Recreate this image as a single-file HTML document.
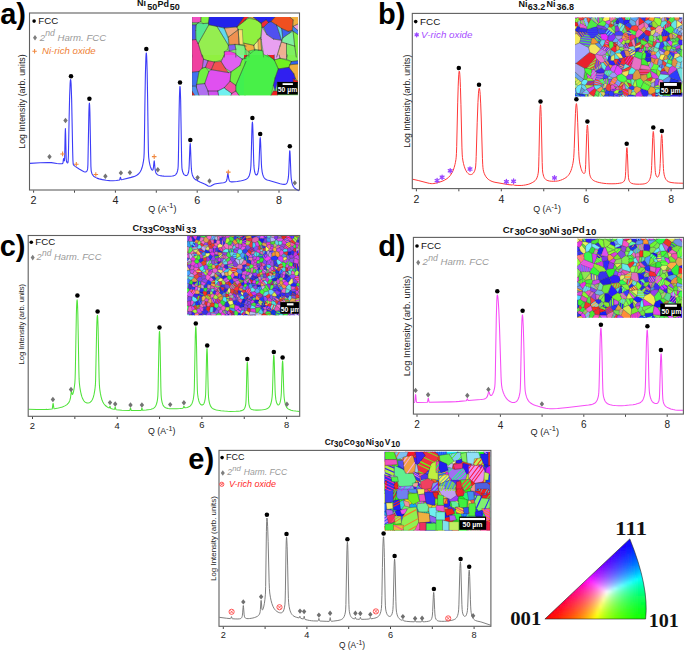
<!DOCTYPE html>
<html><head><meta charset="utf-8"><title>XRD figure</title>
<style>html,body{margin:0;padding:0;background:#fff;}body{width:685px;height:651px;overflow:hidden;}svg{display:block;}</style>
</head><body>
<svg width="685" height="651" viewBox="0 0 685 651" font-family="'Liberation Sans', sans-serif">
<rect width="685" height="651" fill="#fff"/>
<clipPath id="ca"><rect x="192.0" y="17.0" width="106.00" height="78.60"/></clipPath>
<g clip-path="url(#ca)" stroke="#3a3a3a" stroke-width="0.35" stroke-linejoin="round">
<rect x="192.0" y="17.0" width="106.00" height="78.60" fill="#80e070" stroke="none"/>
<path d="M192 17l9 0-.4 4.5-2.4 1.3-6.2 0z" fill="#f050c0" stroke="none"/>
<path d="M201 17l8.2 0-.8 6.2-5.3 .4-2.1-2.1z" fill="#80f040" stroke="none"/>
<path d="M192 22.8l6.2 0-2.1 2-4.1 0z" fill="#60f060" stroke="none"/>
<path d="M192 24.8l4.1 0-.4 5.7 0 9-3.7 .4z" fill="#4a58f0" stroke="none"/>
<path d="M196.1 24.8l2.1-2 4.9 .8 5.3-.4 .4 1.6-10.6 18.8-2.1-4.1-.4-9z" fill="#55e890" stroke="none"/>
<path d="M208.8 24.8l8.2 1.6 11.4 18.9-.8 4-3.3 2.5 0 5.2-22 0-4.1-13.4z" fill="#95ee50" stroke="none"/>
<path d="M209.2 17l34.8 0-7 9.9-12.7 1.2-7.3-1.7-8.2-1.6-.4-1.6z" fill="#2222ea" stroke="none"/>
<path d="M244 17l2 0 0 2.9-9 7z" fill="#f02020" stroke="none"/>
<path d="M246 19.9l0 26.2-6.9-1.7-.9-14.7-1.2-2.8z" fill="#90f040" stroke="none"/>
<path d="M217 26.4l7.3 1.7 4.1 11.4 0 5.8z" fill="#60d8f0" stroke="none"/>
<path d="M224.3 28.1l12.7-1.2 1.2 2.8-9.8 7.4z" fill="#f0a878" stroke="none"/>
<path d="M228.4 37.1l9.8-7.4 .9 14.7-9.9 0z" fill="#f09050" stroke="none"/>
<path d="M238.2 29.7l4.1 0 .8 14.7-4 0z" fill="#f8e070" stroke="none"/>
<path d="M228.4 45.3l6.6-.9 .8 4.9-6.6 1.7z" fill="#8060f0" stroke="none"/>
<path d="M235 44.4l11 1.7 0 10.9-10.2 0 0-7.7z" fill="#80f080" stroke="none"/>
<path d="M224.3 51.8l4.9-.8 6.6 2.4 0 3.6-11.5 0z" fill="#f040e0" stroke="none"/>
<path d="M192 39.9l3.7-.4 2.5 4.1 4.1 13.4-10.3 0z" fill="#f040a0" stroke="none"/>
<path d="M244 17l4.9 0-4.9 3.7z" fill="#f02030" stroke="none"/>
<path d="M244 20.7l4.9-2.4 7.4 1.6 4.9 3.3 .8 4.1-1.6 10.6-6.6 7.4-9.8-2.1z" fill="#90f040" stroke="none"/>
<path d="M248.9 17l4.1 0 8.2 6.2-4.9-3.3z" fill="#f0b040" stroke="none"/>
<path d="M253 17l22.1 0-4.1 4.5-2.5 .9-2.4-2.5-4.9 3.3z" fill="#2424f0" stroke="none"/>
<path d="M261.2 23.2l4.9-3.3 2.4 2.5-4.9 4.9-1.6 0z" fill="#f02838" stroke="none"/>
<path d="M275.1 17l14.7 0 3.3 2.9-.9 10.6-4 .9-6.6-2.9-4.9-3.3-5.7-3.7z" fill="#f05020" stroke="none"/>
<path d="M289.8 17l8.2 0 0 7-4.9 2.4 0-6.5z" fill="#f0b040" stroke="none"/>
<path d="M293.1 26.4l4.9-2.4 0 6.5z" fill="#f0a0d8" stroke="none"/>
<path d="M292.2 30.5l.9-4.1 4.9 4.1 0 4.1z" fill="#4080f0" stroke="none"/>
<path d="M263.6 27.3l4.9-4.9 2.5-.9 5.7 3.7 4.9 15.1-8.2-1.2-6.5-4.5z" fill="#5050f0" stroke="none"/>
<path d="M276.7 25.2l4.9 3.3 1.2 9.4-1.2 2.4z" fill="#60d0f0" stroke="none"/>
<path d="M281.6 28.5l6.6 2.9 4-.9-2.4 2.5-7 4.9z" fill="#4060f0" stroke="none"/>
<path d="M282.8 37.9l7-4.9 3.3-1.6 1.6 14.7-8.2-2.5-4.9-1.6z" fill="#80f0a0" stroke="none"/>
<path d="M293.1 31.4l4.9 3.2 0 22.4-1.7 0-1.6-10.9z" fill="#80f040" stroke="none"/>
<path d="M262 27.3l4.9 7.3 6.5 4.5 8.2 1.2-1.6 5.8-3.3 10.9-8.2 0-4.9-2.8-2.4-14.7z" fill="#e8a0f0" stroke="none"/>
<path d="M253.8 45.3l6.6-7.4 .8 1.6 .4 10.7-7 0z" fill="#f0e880" stroke="none"/>
<path d="M257.9 39.5l2.5-1.6 1.2 12.3-3.3 0z" fill="#f0b050" stroke="none"/>
<path d="M244 43.2l9.8 2.1 .8 4.9-4.1 3.2-4.9-4.1z" fill="#f0b040" stroke="none"/>
<path d="M248.9 51l6.5-1.7 7.4 1.7 .8 6-14.7 0z" fill="#50f050" stroke="none"/>
<path d="M281.6 42l4.9 1.6 0 13.4-9.8 0 3.3-10.9z" fill="#f0b090" stroke="none"/>
<path d="M286.5 43.6l8.2 2.5 1.6 10.9-9.8 0z" fill="#80f060" stroke="none"/>
<path d="M244 45.3l1.6 4 .9 7.7-2.5 0z" fill="#60f070" stroke="none"/>
<path d="M192 55l10.3 0 1.2 4.1-1.2 9-3.3 3.3-7 .8z" fill="#f040a0" stroke="none"/>
<path d="M202.3 55l22 0-2.4 4.9-7.4 2.1-6.5-1.3-4.5-1.6z" fill="#90f040" stroke="none"/>
<path d="M224.3 55l12.3 0 5.7 4.1-2.4 6.5-9 6.2-5.7-3.7-4.1-6.6z" fill="#e060f0" stroke="none"/>
<path d="M236.6 55l9.4 0 0 3.3-3.7 .8z" fill="#80f0a0" stroke="none"/>
<path d="M203.5 59.1l4.5 1.6-2.5 6.6-3.2 .8z" fill="#b070f0" stroke="none"/>
<path d="M208 60.7l6.5 1.3-3.2 7.7-5.8-2.4z" fill="#f04080" stroke="none"/>
<path d="M214.5 62l6.6-.5 4.1 6.6 3.2 4.5-17.1-2.9z" fill="#f05050" stroke="none"/>
<path d="M192 72.2l7-.8-2.5 14.7-4.5 0z" fill="#4070f0" stroke="none"/>
<path d="M199 71.4l3.3-3.3 3.2-.8 3.3 4.1-4.1 12.2-8.2 .8z" fill="#70f040" stroke="none"/>
<path d="M208.8 71.4l2.5-1.7 17.1 2.9 2.5-.4-.8 9-5.8 6.5-6.5 3.3-9.8 0-3.3-7.4z" fill="#e050f0" stroke="none"/>
<path d="M230.9 72.2l9-6.6 2.4-6.5 3.7-.8 0 3.2-10.2 23.8-5.7-4.1z" fill="#70f040" stroke="none"/>
<path d="M235.8 85.3l10.2-23.8 0 34-6.9 0-3.3-4.5z" fill="#40f050" stroke="none"/>
<path d="M224.3 87.7l5.8-6.5 5.7 4.1 0 5.7-4.1 2.4-5.7-4.1z" fill="#f050a0" stroke="none"/>
<path d="M217.8 91l6.5-3.3 1.7 1.6 5.7 4.1-.8 2.1-12.3 0z" fill="#70f0f0" stroke="none"/>
<path d="M231.7 93.4l4.1-2.4 3.3 4.5-8.2 0z" fill="#f060d0" stroke="none"/>
<path d="M196.5 84.4l8.2-.8 3.3 7.4 .8 4.5-9.8 0-2.5-7.8z" fill="#b070f0" stroke="none"/>
<path d="M192 86.1l4.5 0 0 1.6 2.5 7.8-7 0z" fill="#5090f0" stroke="none"/>
<path d="M192 91l2.9 4.5-2.9 0z" fill="#f02020" stroke="none"/>
<path d="M208 91l9.8 0 .8 4.5-9.8 0z" fill="#d050f0" stroke="none"/>
<path d="M244 57.5l4.9-2.5 18.8 0 6.6 4.9 4 9-3.2 9-1.7 7.4-2.4 10.2-27 0z" fill="#48f048" stroke="none"/>
<path d="M267.7 55l6.6 0 0 4.9z" fill="#f02020" stroke="none"/>
<path d="M244 55l3.7 0-3.7 3.7z" fill="#f02020" stroke="none"/>
<path d="M274.3 55l4.9 0 .8 3.3-5.7 1.6z" fill="#e8a0f0" stroke="none"/>
<path d="M274.3 59.9l5.7-1.6 11.4 3.2-2.4 5.8-10.7 1.6z" fill="#70f020" stroke="none"/>
<path d="M279.2 55l8.1 0-.8 4.1-6.5-.8z" fill="#f0b0a0" stroke="none"/>
<path d="M287.3 55l10.7 0 0 5.7-6.6 .8-4.9-2.4z" fill="#80f050" stroke="none"/>
<path d="M278.3 68.9l10.7-1.6 4.9 6.5 1.6 4.9-2.4 3.3-15.6 0-2.4 9-1.7-5.7 1.7-7.4z" fill="#3020f0" stroke="none"/>
<path d="M291.4 61.5l6.6-.8 0 3.3-8.2 .8z" fill="#3060f0" stroke="none"/>
<path d="M289 67.3l.8-2.5 8.2-.8 0 17.2-2.5-2.5-1.6-4.9z" fill="#f0b040" stroke="none"/>
<path d="M271 95.5l2.4-4.5 4.1 0 0 4.5z" fill="#f02020" stroke="none"/>
<path d="M293.1 78.7l4.9 2.5 0 1.6-4.9 0z" fill="#f02020" stroke="none"/>
<path d="M201.0 17.0L200.6 21.5M200.6 21.5L198.2 22.8M198.2 22.8L192.0 22.8M192.0 22.8L192.0 17.0M209.2 17.0L208.4 23.2M208.4 23.2L203.1 23.6M203.1 23.6L201.0 21.5M201.0 21.5L201.0 17.0M192.0 22.8L198.2 22.8M198.2 22.8L196.1 24.8M196.1 24.8L192.0 24.8M192.0 24.8L192.0 22.8M192.0 24.8L196.1 24.8M196.1 24.8L195.7 30.5M195.7 30.5L195.7 39.5M195.7 39.5L192.0 39.9M192.0 39.9L192.0 24.8M196.1 24.8L198.2 22.8M198.2 22.8L203.1 23.6M203.1 23.6L208.4 23.2M208.4 23.2L208.8 24.8M208.8 24.8L198.2 43.6M198.2 43.6L196.1 39.5M196.1 39.5L195.7 30.5M195.7 30.5L196.1 24.8M208.8 24.8L217.0 26.4M217.0 26.4L228.4 45.3M228.4 45.3L227.6 49.3M227.6 49.3L224.3 51.8M224.3 51.8L224.3 57.0M202.3 57.0L198.2 43.6M198.2 43.6L208.8 24.8M244.0 17.0L237.0 26.9M237.0 26.9L224.3 28.1M224.3 28.1L217.0 26.4M217.0 26.4L208.8 24.8M208.8 24.8L208.4 23.2M208.4 23.2L209.2 17.0M246.0 19.9L237.0 26.9M237.0 26.9L244.0 17.0M246.0 46.1L239.1 44.4M239.1 44.4L238.2 29.7M238.2 29.7L237.0 26.9M237.0 26.9L246.0 19.9M217.0 26.4L224.3 28.1M224.3 28.1L228.4 39.5M228.4 39.5L228.4 45.3M228.4 45.3L217.0 26.4M224.3 28.1L237.0 26.9M237.0 26.9L238.2 29.7M238.2 29.7L228.4 37.1M228.4 37.1L224.3 28.1M228.4 37.1L238.2 29.7M238.2 29.7L239.1 44.4M239.1 44.4L229.2 44.4M229.2 44.4L228.4 37.1M238.2 29.7L242.3 29.7M242.3 29.7L243.1 44.4M243.1 44.4L239.1 44.4M239.1 44.4L238.2 29.7M228.4 45.3L235.0 44.4M235.0 44.4L235.8 49.3M235.8 49.3L229.2 51.0M229.2 51.0L228.4 45.3M235.0 44.4L246.0 46.1M235.8 57.0L235.8 49.3M235.8 49.3L235.0 44.4M224.3 51.8L229.2 51.0M229.2 51.0L235.8 53.4M235.8 53.4L235.8 57.0M224.3 57.0L224.3 51.8M192.0 39.9L195.7 39.5M195.7 39.5L198.2 43.6M198.2 43.6L202.3 57.0M192.0 57.0L192.0 39.9M248.9 17.0L244.0 20.7M244.0 20.7L248.9 18.3M248.9 18.3L256.3 19.9M256.3 19.9L261.2 23.2M261.2 23.2L262.0 27.3M262.0 27.3L260.4 37.9M260.4 37.9L253.8 45.3M253.8 45.3L244.0 43.2M253.0 17.0L261.2 23.2M261.2 23.2L256.3 19.9M256.3 19.9L248.9 17.0M275.1 17.0L271.0 21.5M271.0 21.5L268.5 22.4M268.5 22.4L266.1 19.9M266.1 19.9L261.2 23.2M261.2 23.2L253.0 17.0M261.2 23.2L266.1 19.9M266.1 19.9L268.5 22.4M268.5 22.4L263.6 27.3M263.6 27.3L262.0 27.3M262.0 27.3L261.2 23.2M289.8 17.0L293.1 19.9M293.1 19.9L292.2 30.5M292.2 30.5L288.2 31.4M288.2 31.4L281.6 28.5M281.6 28.5L276.7 25.2M276.7 25.2L271.0 21.5M271.0 21.5L275.1 17.0M298.0 24.0L293.1 26.4M293.1 26.4L293.1 19.9M293.1 19.9L289.8 17.0M293.1 26.4L298.0 24.0M298.0 30.5L293.1 26.4M292.2 30.5L293.1 26.4M293.1 26.4L298.0 30.5M298.0 34.6L292.2 30.5M263.6 27.3L268.5 22.4M268.5 22.4L271.0 21.5M271.0 21.5L276.7 25.2M276.7 25.2L281.6 40.3M281.6 40.3L273.4 39.1M273.4 39.1L266.9 34.6M266.9 34.6L263.6 27.3M276.7 25.2L281.6 28.5M281.6 28.5L282.8 37.9M282.8 37.9L281.6 40.3M281.6 40.3L276.7 25.2M281.6 28.5L288.2 31.4M288.2 31.4L292.2 30.5M292.2 30.5L289.8 33.0M289.8 33.0L282.8 37.9M282.8 37.9L281.6 28.5M282.8 37.9L289.8 33.0M289.8 33.0L293.1 31.4M293.1 31.4L294.7 46.1M294.7 46.1L286.5 43.6M286.5 43.6L281.6 42.0M281.6 42.0L282.8 37.9M293.1 31.4L298.0 34.6M296.3 57.0L294.7 46.1M294.7 46.1L293.1 31.4M262.0 27.3L266.9 34.6M266.9 34.6L273.4 39.1M273.4 39.1L281.6 40.3M281.6 40.3L280.0 46.1M280.0 46.1L276.7 57.0M268.5 57.0L263.6 54.2M263.6 54.2L261.2 39.5M261.2 39.5L262.0 27.3M253.8 45.3L260.4 37.9M260.4 37.9L261.2 39.5M261.2 39.5L261.6 50.2M261.6 50.2L254.6 50.2M254.6 50.2L253.8 45.3M257.9 39.5L260.4 37.9M260.4 37.9L261.6 50.2M261.6 50.2L258.3 50.2M258.3 50.2L257.9 39.5M244.0 43.2L253.8 45.3M253.8 45.3L254.6 50.2M254.6 50.2L250.5 53.4M250.5 53.4L245.6 49.3M245.6 49.3L244.0 43.2M248.9 51.0L255.4 49.3M255.4 49.3L262.8 51.0M262.8 51.0L263.6 57.0M248.9 57.0L248.9 51.0M281.6 42.0L286.5 43.6M286.5 43.6L286.5 57.0M276.7 57.0L280.0 46.1M280.0 46.1L281.6 42.0M286.5 43.6L294.7 46.1M294.7 46.1L296.3 57.0M286.5 57.0L286.5 43.6M244.0 45.3L245.6 49.3M245.6 49.3L246.5 57.0M202.3 55.0L203.5 59.1M203.5 59.1L202.3 68.1M202.3 68.1L199.0 71.4M199.0 71.4L192.0 72.2M192.0 72.2L192.0 55.0M224.3 55.0L221.9 59.9M221.9 59.9L214.5 62.0M214.5 62.0L208.0 60.7M208.0 60.7L203.5 59.1M203.5 59.1L202.3 55.0M236.6 55.0L242.3 59.1M242.3 59.1L239.9 65.6M239.9 65.6L230.9 71.8M230.9 71.8L225.2 68.1M225.2 68.1L221.1 61.5M221.1 61.5L224.3 55.0M246.0 58.3L242.3 59.1M242.3 59.1L236.6 55.0M203.5 59.1L208.0 60.7M208.0 60.7L205.5 67.3M205.5 67.3L202.3 68.1M202.3 68.1L203.5 59.1M208.0 60.7L214.5 62.0M214.5 62.0L211.3 69.7M211.3 69.7L205.5 67.3M205.5 67.3L208.0 60.7M214.5 62.0L221.1 61.5M221.1 61.5L225.2 68.1M225.2 68.1L228.4 72.6M228.4 72.6L211.3 69.7M211.3 69.7L214.5 62.0M192.0 72.2L199.0 71.4M199.0 71.4L196.5 86.1M196.5 86.1L192.0 86.1M192.0 86.1L192.0 72.2M199.0 71.4L202.3 68.1M202.3 68.1L205.5 67.3M205.5 67.3L208.8 71.4M208.8 71.4L204.7 83.6M204.7 83.6L196.5 84.4M196.5 84.4L199.0 71.4M208.8 71.4L211.3 69.7M211.3 69.7L228.4 72.6M228.4 72.6L230.9 72.2M230.9 72.2L230.1 81.2M230.1 81.2L224.3 87.7M224.3 87.7L217.8 91.0M217.8 91.0L208.0 91.0M208.0 91.0L204.7 83.6M204.7 83.6L208.8 71.4M230.9 72.2L239.9 65.6M239.9 65.6L242.3 59.1M242.3 59.1L246.0 58.3M246.0 61.5L235.8 85.3M235.8 85.3L230.1 81.2M230.1 81.2L230.9 72.2M235.8 85.3L246.0 61.5M239.1 95.5L235.8 91.0M235.8 91.0L235.8 85.3M224.3 87.7L230.1 81.2M230.1 81.2L235.8 85.3M235.8 85.3L235.8 91.0M235.8 91.0L231.7 93.4M231.7 93.4L226.0 89.3M226.0 89.3L224.3 87.7M217.8 91.0L224.3 87.7M224.3 87.7L226.0 89.3M226.0 89.3L231.7 93.4M231.7 93.4L230.9 95.5M218.6 95.5L217.8 91.0M231.7 93.4L235.8 91.0M235.8 91.0L239.1 95.5M230.9 95.5L231.7 93.4M196.5 84.4L204.7 83.6M204.7 83.6L208.0 91.0M208.0 91.0L208.8 95.5M199.0 95.5L196.5 87.7M196.5 87.7L196.5 84.4M192.0 86.1L196.5 86.1M196.5 86.1L196.5 87.7M196.5 87.7L199.0 95.5M192.0 95.5L192.0 86.1M192.0 91.0L194.9 95.5M192.0 95.5L192.0 91.0M208.0 91.0L217.8 91.0M217.8 91.0L218.6 95.5M208.8 95.5L208.0 91.0M244.0 57.5L248.9 55.0M267.7 55.0L274.3 59.9M274.3 59.9L278.3 68.9M278.3 68.9L275.1 77.9M275.1 77.9L273.4 85.3M273.4 85.3L271.0 95.5M274.3 55.0L274.3 59.9M274.3 59.9L267.7 55.0M247.7 55.0L244.0 58.7M279.2 55.0L280.0 58.3M280.0 58.3L274.3 59.9M274.3 59.9L274.3 55.0M274.3 59.9L280.0 58.3M280.0 58.3L291.4 61.5M291.4 61.5L289.0 67.3M289.0 67.3L278.3 68.9M278.3 68.9L274.3 59.9M287.3 55.0L286.5 59.1M286.5 59.1L280.0 58.3M280.0 58.3L279.2 55.0M298.0 60.7L291.4 61.5M291.4 61.5L286.5 59.1M286.5 59.1L287.3 55.0M278.3 68.9L289.0 67.3M289.0 67.3L293.9 73.8M293.9 73.8L295.5 78.7M295.5 78.7L293.1 82.0M293.1 82.0L277.5 82.0M277.5 82.0L275.1 91.0M275.1 91.0L273.4 85.3M273.4 85.3L275.1 77.9M275.1 77.9L278.3 68.9M291.4 61.5L298.0 60.7M298.0 64.0L289.8 64.8M289.8 64.8L291.4 61.5M289.0 67.3L289.8 64.8M289.8 64.8L298.0 64.0M298.0 81.2L295.5 78.7M295.5 78.7L293.9 73.8M293.9 73.8L289.0 67.3M271.0 95.5L273.4 91.0M273.4 91.0L277.5 91.0M277.5 91.0L277.5 95.5M293.1 78.7L298.0 81.2M298.0 82.8L293.1 82.8M293.1 82.8L293.1 78.7" fill="none" stroke="#3a3a3a" stroke-width="0.35" stroke-linecap="round"/>
</g>
<clipPath id="cb"><rect x="575.0" y="17.4" width="107.30" height="79.20"/></clipPath>
<g clip-path="url(#cb)" stroke="#2a2a2a" stroke-width="0.3" stroke-linejoin="round">
<path d="M576.7 93.3l-1.1-4.7-.5-.3-4.1-.1 0 7.6z" fill="#6d93ff"/>
<path d="M576.7 93.3l3 .4 1.8-6.1 .5-3.1-.4-.4-3.9 1.2-2.1 3.3z" fill="#69e4fc"/>
<path d="M573.6 86.1l.7-1.7-3.3-3.5 0 5.2z" fill="#9d9ffb"/>
<path d="M577 33.5l.1-1.1-1.9-2.7-4.2-1.6 0 7.1z" fill="#63cfde"/>
<path d="M572.8 24.9l2.5-2.8-1-2.9-3.3-1.6 0 8z" fill="#293ce7"/>
<path d="M574.3 84.4l2.2 .2-2.7-8.4-2.8-2.8 0 7.5z" fill="#8ff04b"/>
<path d="M575.1 88.3l-1.5-2.2-2.6 0 0 2.1z" fill="#99f43e"/>
<path d="M571 25.6l0 2.5 4.2 1.6 2.3-3.2-4.7-1.6z" fill="#ffe64c"/>
<path d="M573.6 86.1l1.5 2.2 .5 .3 2.1-3.3-1.2-.7-2.2-.2z" fill="#ddd264"/>
<path d="M579.8 93.8l-.1-.1-3-.4-5.7 2.5 0 4.8 10.3 0z" fill="#1f3fff"/>
<path d="M578.7 26.3l-1.2-4.1-2.2-.1-2.5 2.8 4.7 1.6z" fill="#e92427"/>
<path d="M577.5 26.5l-2.3 3.2 1.9 2.7 .7-.7 3.2-3.8-1.5-1.3-.8-.3z" fill="#2722dc"/>
<path d="M579.7 42.9l1.2-5.1-3.9-4.3-6 1.7 0 11.4z" fill="#f3e85c"/>
<path d="M584 19.1l2.1-1.8 .5-.6-.3-3.3-7.8 0z" fill="#ef251c"/>
<path d="M574.3 19.2l3.7-1.6 .4-4.2-7.4 0 0 4.2z" fill="#ed42e6"/>
<path d="M573.8 76.2l7.7 6.1 2-2.9 0-.1-12.5-10.7 0 4.8z" fill="#6da5f0"/>
<path d="M576.1 63.4l13.7-11.2-1.1-4.7-9-4.6-8.7 3.7 0 16.9z" fill="#a7a7fe"/>
<path d="M577 33.5l3.9 4.3 6.2-4.6 .1-.4-9.4-1.1-.7 .7z" fill="#412de1"/>
<path d="M575.3 22.1l2.2 .1 2.1-2-1.6-2.6-3.7 1.6z" fill="#62e03b"/>
<path d="M579.6 20.2l.9 .3 3.1-.6 .4-.8-5.5-5.7-.1 0-.4 4.2z" fill="#e83d43"/>
<path d="M577.7 85.3l3.9-1.2-.1-1.8-7.7-6.1 2.7 8.4z" fill="#b4df4c"/>
<path d="M581.3 100.6l3.4 0 .8-6-3.6-.9-2.1 .1z" fill="#2038eb"/>
<path d="M578.7 26.3l.8 .3 1.2-3.6-.2-2.5-.9-.3-2.1 2z" fill="#9f9df8"/>
<path d="M582 84.5l2.9 .8 1.3-.6 1.8-3.5-1.7-1.6-2.8-.2-2 2.9 .1 1.8z" fill="#63ebff"/>
<path d="M579.5 26.6l1.5 1.3 6.1 .7-.1-1.1-1-1.7-5.3-2.8z" fill="#f95cc6"/>
<path d="M579.7 93.7l.1 .1 2.1-.1 3.4-3.4-3.8-2.7z" fill="#649adc"/>
<path d="M581.5 87.6l3.8 2.7 1.5-.8 0-.7-1.9-3.5-2.9-.8z" fill="#5bdaff"/>
<path d="M579.7 42.9l9 4.6 2.2-3.5 .8-5.5-4.6-5.3-6.2 4.6z" fill="#6f4ef1"/>
<path d="M577.8 31.7l9.4 1.1 .4-3.8-.5-.4-6.1-.7z" fill="#332de3"/>
<path d="M587 27.5l1.4-4.1-2.3-6.1-2.1 1.8-.4 .8 2.4 5.9z" fill="#a7abf4"/>
<path d="M583.5 79.3l0 .1 2.8 .2 1.6-1.6-1.1-4.3-1.9-2.9z" fill="#48dc3a"/>
<path d="M584.9 70.8l-.5-2.7-8.3-4.7-5.1 .1 0 5.1 12.5 10.7z" fill="#a8a2eb"/>
<path d="M587.1 33.2l4.6 5.3 2.3-.8 .3-.2 4.7-3.9-1.6-5.4-.7-1.4-9.1 2.2-.4 3.8z" fill="#3541ee"/>
<path d="M580.7 23l5.3 2.8-2.4-5.9-3.1 .6z" fill="#90fb4b"/>
<path d="M586.6 16.7l4.3 2.1 3.1-4.1 .4-1.3-8.1 0z" fill="#72a4f9"/>
<path d="M587.1 28.6l.5 .4 9.1-2.2 .9-2.1 .1-.4-6.7-5.3-2.6 4.4-1.4 4.1z" fill="#4ceb45"/>
<path d="M594.5 99.3l-6.1-1.8-1.4 3.1 8.3 0z" fill="#a692e4"/>
<path d="M581.9 93.7l3.6 .9 2.6 0 1.2-1.1 .1-.7-2.6-3.3-1.5 .8z" fill="#6cddf1"/>
<path d="M585.5 94.6l-.8 6 2.3 0 1.4-3.1-.3-2.9z" fill="#8cf846"/>
<path d="M586.8 89.5l2.6 3.3 5.4-4.3-.8-2.8-7.2 3.1z" fill="#ce46f8"/>
<path d="M584.9 85.3l1.9 3.5 7.2-3.1 0-.5-7.8-.5z" fill="#b4e24a"/>
<path d="M584.9 70.8l1.9 2.9 4.2 3 1.2-7.4-5.5-1.2-2.3 0z" fill="#49fd38"/>
<path d="M584.4 68.1l2.3 0 9.1-10.6-.6-2.9-5.4-2.4-13.7 11.2z" fill="#e8212d"/>
<path d="M587.9 78l4.2 .7-1.1-2-4.2-3z" fill="#e736ec"/>
<path d="M586.1 17.3l2.3 6.1 2.6-4.4-.1-.2-4.3-2.1z" fill="#dc4231"/>
<path d="M586.3 79.6l1.7 1.6 6.4-.3 .1-.2-2.4-2-4.2-.7z" fill="#8efc35"/>
<path d="M594 85.7l.8 2.8 1.5 1.4 5-3.2-.1-1.6-7.1-.2-.1 .3z" fill="#5ee2f2"/>
<path d="M586.2 84.7l7.8 .5 .1-.3 .3-4-6.4 .3z" fill="#ec322e"/>
<path d="M594.5 80.7l1.1-1 1-6.7-1.1-2-1.3-1.2-.9-.4-1.1-.1-1.2 7.4 1.1 2z" fill="#f146e1"/>
<path d="M588.7 47.5l1.1 4.7 5.4 2.4 .8-.4 4.7-5.3-5.5-5-4.3 .1z" fill="#f3e65b"/>
<path d="M588.4 97.5l6.1 1.8-.7-2.8-4.5-3-1.2 1.1z" fill="#ead373"/>
<path d="M595.3 100.6l2.2 0 .7-3.7-3-3.3-1.4 2.9 .7 2.8z" fill="#4bf152"/>
<path d="M590.9 44l4.3-.1 3.3-1.1-.1-.2-4.4-4.9-2.3 .8z" fill="#f49430"/>
<path d="M594.4 80.9l-.3 4 7.1 .2 .9-1.2-3.4-4-3.1-.2-1.1 1z" fill="#8e97e9"/>
<path d="M592.2 69.3l1.1 .1 3.5-10-1-1.9-9.1 10.6z" fill="#8cfc3c"/>
<path d="M589.3 93.5l4.5 3 1.4-2.9 1.2-3.5-.1-.2-1.5-1.4-5.4 4.3z" fill="#f5272f"/>
<path d="M616.4 18.5l.7 .3 .9 0 2.5-2.2 .2-3.2-10.6 0z" fill="#5bcff4"/>
<path d="M595.2 93.6l3 3.3 1.3-4.9-3.1-1.9z" fill="#5cef51"/>
<path d="M597.7 24.3l.3-.6-.3-1.4-3.7-7.6-3.1 4.1 .1 .2z" fill="#9598e0"/>
<path d="M596.7 26.8l.7 1.4 9.1 1.7 .7-1.1-2.8-2.5-6.8-1.6z" fill="#7942de"/>
<path d="M594 14.7l3.7 7.6 0-5-3-3.9-.3 0z" fill="#73e9e1"/>
<path d="M598 23.7l1.4-1.1-.3-6.3-.1-.1-1.3 1.1 0 5z" fill="#f448ef"/>
<path d="M603.5 96.6l-3.8-4.5-.2-.1-1.3 4.9-.7 3.7 6.2 0z" fill="#97f254"/>
<path d="M595.8 57.5l1 1.9 4.3 3.6 2.3-.6 1.8-1.4-3.2-5.6-6-1.2-.8 .4z" fill="#ec6ed1"/>
<path d="M597.7 17.3l1.3-1.1-.1-2.8-4.2 0z" fill="#a6fd53"/>
<path d="M598.4 42.6l-.4-2.7-3.7-2.4-.3 .2z" fill="#71f3b8"/>
<path d="M594.2 69.8l6.8-6 .1-.8-4.3-3.6-3.5 10z" fill="#e48438"/>
<path d="M595.2 43.9l5.5 5 .4-.3 .9-1.8-2.2-3.7-1.3-.3z" fill="#588ff0"/>
<path d="M599.8 43.1l1.9-3.5-.4-.8-3.3 1.1 .4 2.7 .1 .2z" fill="#3b40fc"/>
<path d="M595.5 71l6.5-3.3-1-3.9-6.8 6z" fill="#dee951"/>
<path d="M594.3 37.5l3.7 2.4 3.3-1.1-1.2-4.6-1.1-.6z" fill="#423af0"/>
<path d="M599 16.2l.1 .1 4.2 2.3 2.5-5.2-6.9 0z" fill="#1f37e5"/>
<path d="M599 33.6l1.1 .6 5.6-.5 .8-3.8-9.1-1.7z" fill="#3944f2"/>
<path d="M597.6 24.7l6.8 1.6 1.9-3.1-1-1.6-2.6-1.4-3.3 2.4-1.4 1.1-.3 .6z" fill="#59f73f"/>
<path d="M595.5 71l1.1 2 7.5 .4 0 0 1-2.7-.2-.3-2.9-2.7z" fill="#3f25ec"/>
<path d="M595.6 79.7l3.1 .2 3.9-1.4 1.5-5.1-7.5-.4z" fill="#6f36f2"/>
<path d="M601 63.8l1 3.9 2.9 2.7 1.6-4-3.1-4-2.3 .6z" fill="#5beae5"/>
<path d="M599.4 22.6l3.3-2.4 .6-1.6-4.2-2.3z" fill="#5ce251"/>
<path d="M601.2 85.1l.1 1.6 1.5 1.3 1.5-4.3-2.2 .2z" fill="#56dd48"/>
<path d="M596.4 90.1l3.1 1.9 .2 .1 .8-.4 2.6-3.1-.3-.6-1.5-1.3-5 3.2z" fill="#f49d4e"/>
<path d="M601.7 39.6l3.8 1 2.2-1 .4-3.5-2.4-2.4-5.6 .5 1.2 4.6z" fill="#e72eff"/>
<path d="M602.1 83.9l2.2-.2 1.1-.4-1.9-4.1-.9-.7-3.9 1.4z" fill="#56fd46"/>
<path d="M596 54.2l6 1.2 3.3-.6 1.5-2.8-5.7-3.4-.4 .3z" fill="#97adde"/>
<path d="M613.8 96.7l-4.3-.6-2.9 4.5 10 0z" fill="#ff70c8"/>
<path d="M600.5 91.7l4.6 .5 .3-.4-1.9-3.2-.4 0z" fill="#61f73d"/>
<path d="M604.1 73.4l-1.5 5.1 .9 .7 4.6-.7 .3-2.2-4.3-2.9z" fill="#3e41fc"/>
<path d="M602 46.8l.9-.5 1.4-2.1 1.2-3.6-3.8-1-1.9 3.5z" fill="#64d0ef"/>
<path d="M602.8 88l.3 .6 .4 0 2.1-.7 1.9-3.9-2.1-.7-1.1 .4z" fill="#fcd356"/>
<path d="M601.1 48.6l5.7 3.4 .4-.2 3.4-2.5-.1-.4-1-1.1-6.6-1.5-.9 .5z" fill="#fe7bcd"/>
<path d="M599.7 92.1l3.8 4.5 1.8-2.4-.2-2-4.6-.5z" fill="#e3d05f"/>
<path d="M603.7 100.6l2.9 0 2.9-4.5-.6-1.6-3.6-.3-1.8 2.4z" fill="#303cdd"/>
<path d="M607.2 28.8l.1-.1 1.6-1.7 .2-2.3-2.8-1.5-1.9 3.1z" fill="#56acfc"/>
<path d="M603.5 88.6l1.9 3.2 2-1.2-1.8-2.7z" fill="#2844e0"/>
<path d="M606.5 29.9l-.8 3.8 2.4 2.4 6.2-2.3 0-.1-7-5-.1 .1z" fill="#3e3aff"/>
<path d="M606.5 66.4l2.2-1.1 .5-1.1-.4-3.1-1.3-.4-.9-.1-1.4 .4-1.8 1.4z" fill="#ff9932"/>
<path d="M605.2 61l1.4-.4-.8-5.2-.5-.6-3.3 .6z" fill="#48f332"/>
<path d="M605.4 83.3l2.1 .7 1.3-.2-.5-4.8-.2-.5-4.6 .7z" fill="#48ef36"/>
<path d="M605.3 21.6l4.5-1.5-.1-6.7-3.9 0-2.5 5.2-.6 1.6z" fill="#fff055"/>
<path d="M605.8 55.4l2.5 .7 1.3-.3-2.4-4-.4 .2-1.5 2.8z" fill="#60ea3e"/>
<path d="M602.9 46.3l6.6 1.5-.5-3.2-4.7-.4z" fill="#ff1e27"/>
<path d="M605.4 91.8l-.3 .4 .2 2 3.6 .3 1-3.5-2.5-.4z" fill="#2a3bff"/>
<path d="M605.1 70.7l5.4-.4 .1-1.6-1.9-3.4-2.2 1.1-1.6 4z" fill="#9231fc"/>
<path d="M606.6 60.6l.9 .1 .8-4.6-2.5-.7z" fill="#62ece7"/>
<path d="M604.1 73.4l4.3 2.9 .3-.2 4.1-4.2-2.3-1.6-5.4 .4z" fill="#5bd1e9"/>
<path d="M605.6 87.9l1.8 2.7 2.5 .4 .9-.6 .1-.8 .1-4.5-1.4-1-.8-.3-1.3 .2z" fill="#f1413c"/>
<path d="M609.1 24.7l1.1-1.3 .4-1.9-.8-1.4-4.5 1.5 1 1.6z" fill="#e24cec"/>
<path d="M604.3 44.2l4.7 .4 .2-3.5-1.5-1.5-2.2 1z" fill="#ec50e3"/>
<path d="M609.9 91l-1 3.5 .6 1.6 4.3 .6 .4-3.5-.5-1.3-2.9-1.5z" fill="#2b3bfb"/>
<path d="M607.2 51.8l2.4 4 .4 0 1.1-5.9-.5-.6z" fill="#66a0e6"/>
<path d="M609.6 84.1l2.8-5.4-4.1 .3 .5 4.8z" fill="#7b53ff"/>
<path d="M608.8 61.1l1.9-.9 .3-3.6-1-.8-.4 0-1.3 .3-.8 4.6z" fill="#2130e5"/>
<path d="M609.1 24.7l-.2 2.3 2.3 .6 2.9-2.2-.4-.7-3.5-1.3z" fill="#e24128"/>
<path d="M610.6 49.3l.5 .6 4 2.8 1.4-1.8-.3-4.8-2.5-.2-3.2 3z" fill="#f92033"/>
<path d="M610.5 48.9l3.2-3-.4-3.3-.7-1.2-3.4-.3-.2 3.5 .5 3.2z" fill="#53f040"/>
<path d="M608.1 78.5l.2 .5 4.1-.3 .8-.7-4.5-1.9-.3 .2z" fill="#5fd8f1"/>
<path d="M608.7 65.3l1.9 3.4 2.4-3.3-3.8-1.2z" fill="#e69848"/>
<path d="M609.2 41.1l3.4 .3 3.1-3.9-.4-1.7-1-2-6.2 2.3-.4 3.5z" fill="#842eff"/>
<path d="M609.2 64.2l3.8 1.2 2.7-.8-2.2-3.8-2.8-.6-1.9 .9z" fill="#2e1eff"/>
<path d="M610 55.8l1 .8 3.6-2 .7-1.2 0-.1-.2-.6-4-2.8z" fill="#55b3e1"/>
<path d="M607.3 28.7l7 5 .9-1.5-4-4.6-2.3-.6z" fill="#a3f251"/>
<path d="M608.7 76.1l4.5 1.9 3.8-1.1 .4-1.3-3.1-3.4-1.5-.3z" fill="#9f97f6"/>
<path d="M610.5 70.3l2.3 1.6 1.5 .3 2.6-6.7-.6-.6-.6-.3-2.7 .8-2.4 3.3z" fill="#df48ff"/>
<path d="M612.4 78.7l-2.8 5.4 1.4 1 2.3-.4 1.9-1.2 2.2-3.9-.4-2.7-3.8 1.1z" fill="#ff8038"/>
<path d="M614.3 33.8l1 2 7.3-.1 .7-1.1 .3-1.2-1.7-1.6-2.5-1.3-4 1.5-.2 .2-.9 1.5z" fill="#4240f8"/>
<path d="M646.1 97.7l-3-1.5-6.8 2-.3 2.4 10.5 0z" fill="#f4d350"/>
<path d="M613.8 96.7l2.8 3.9 1.4 0 1.3-3.7-1.1-3.4-4-.3z" fill="#2a3cf0"/>
<path d="M610.7 60.2l2.8 .6 1.3-1.7-.2-4.5-3.6 2z" fill="#e8ec61"/>
<path d="M613.7 91.9l2.7-2-.6-1.6-4.9 1.3-.1 .8z" fill="#3f1ef6"/>
<path d="M613.7 24.7l.3-2.2-2.6-1.1-.8 .1-.4 1.9z" fill="#dda33c"/>
<path d="M610.6 21.5l.8-.1 5-2.9-6.3-5.1-.4 0 .1 6.7z" fill="#ee6ed0"/>
<path d="M615.2 32.2l.2-.2-.3-5.8-.8-.8-.2 0-2.9 2.2z" fill="#4dfa53"/>
<path d="M617.1 18.8l-1.5 2.5 .2 2.4 2.6 .5 1.3-1.6-1.7-3.8z" fill="#3623df"/>
<path d="M616.3 64.9l2.4-6-3.9 .2-1.3 1.7 2.2 3.8z" fill="#f83d2d"/>
<path d="M610.9 89.6l4.9-1.3 0-.1-1.2-1.8-1.3-1.7-2.3 .4z" fill="#ec49dc"/>
<path d="M613.7 24.7l.4 .7 .2 0 1.5-1.7-.2-2.4-1.6 1.2z" fill="#5c9eff"/>
<path d="M615.8 88.2l1.6-1.2-2.8-.6z" fill="#57f538"/>
<path d="M617.4 75.6l4.5-1.8 .5-1.8 0-1.5-4-4.9-1.5-.1-2.6 6.7z" fill="#e640f9"/>
<path d="M613.3 42.6l.1 0 4.1-.1 1-2.2-.1-.4-2.7-2.4-3.1 3.9z" fill="#62abff"/>
<path d="M614.8 59.1l3.9-.2 1-.7-4.4-4.8-.7 1.2z" fill="#53e3ed"/>
<path d="M614 22.5l1.6-1.2 1.5-2.5-.7-.3-5 2.9z" fill="#45dd36"/>
<path d="M613.3 84.7l1.3 1.7 2.8 .6 1.3-.7 0-.2-3.5-2.6z" fill="#e54de2"/>
<path d="M616.2 46.1l1.6-.6-.1-.9-4.3-2-.1 0 .4 3.3z" fill="#ea2b2e"/>
<path d="M617.8 25.7l.6-1.5-2.6-.5-1.5 1.7 .8 .8z" fill="#50cce4"/>
<path d="M615.1 26.2l.3 5.8 4-1.5 .3-1.4-1.9-3.4z" fill="#8f32e1"/>
<path d="M615.3 53.3l5.3-.1 .7-2-2-1.8-2.8 1.5-1.4 1.8z" fill="#4de5fd"/>
<path d="M616.2 46.1l.3 4.8 2.8-1.5 .3-2.2-1-1.4-.8-.3z" fill="#f09b41"/>
<path d="M617.7 44.6l-.2-2.1-4.1 .1z" fill="#f82f3f"/>
<path d="M617.7 44.6l.1 .9 .8 .3 2.8-2.3-.1-.5-2.8-2.7-1 2.2z" fill="#b3afff"/>
<path d="M615.8 88.3l.6 1.6 3 .3 .1 0-.8-3.9-1.3 .7-1.6 1.2z" fill="#f160bb"/>
<path d="M618 100.6l8.9 0 .6-4.7-4.2-2.2-4 3.2z" fill="#5ae8f1"/>
<path d="M614.2 93.2l4 .3 1.2-3.3-3-.3-2.7 2z" fill="#acfe34"/>
<path d="M619.5 90.2l2.7 .1 .5-.5-.2-2.8-2.9-1.5-.9 .6 0 .2z" fill="#e07e3a"/>
<path d="M617.8 25.7l1.9 3.4 3.7-4.7-3.7-1.8-1.3 1.6z" fill="#5fe4f0"/>
<path d="M615.2 83.5l3.5 2.6 .9-.6 1.8-3.3-4-2.6z" fill="#6bb1fd"/>
<path d="M617 76.9l.4 2.7 4 2.6 2.7 .3 2.2-1.7 .8-1.5-1-2.5-4.2-3-4.5 1.8z" fill="#49ff4a"/>
<path d="M618.7 58.9l-2.4 6 .6 .6 1.5 .1 1.8-1.2 1.8-6.1-2.3-.1z" fill="#1c23ff"/>
<path d="M619.4 90.2l-1.2 3.3 1.1 3.4 4-3.2-1.1-3.4-2.7-.1z" fill="#412cdd"/>
<path d="M615.3 53.4l4.4 4.8 2.3 .1 1.2-.6-2.6-4.5-5.3 .1z" fill="#f7ea5b"/>
<path d="M619.6 85.5l2.9 1.5 1.7-4.2-.1-.3-2.7-.3z" fill="#ea3a36"/>
<path d="M618.6 45.8l1 1.4 3.8 0 .3-2.4-2.3-1.3z" fill="#92aee2"/>
<path d="M615.7 37.5l2.7 2.4 3.6-1.6 .6-2.6-7.3 .1z" fill="#a497ea"/>
<path d="M621.3 51.2l2.6-.9 .1-2.2-.6-.9-3.8 0-.3 2.2z" fill="#45ec42"/>
<path d="M622 38.3l-3.6 1.6 .1 .4 2.8 2.7 2.3-2.9z" fill="#e937f1"/>
<path d="M623.6 40.1l1.7 .7 2.6-1.4-4.6-4.8-.7 1.1-.6 2.6z" fill="#f5a337"/>
<path d="M621.9 31.8l3-5.2 0-1.6-.1-.1-1.2-.5-.2 0-3.7 4.7-.3 1.4z" fill="#6bebe2"/>
<path d="M619.7 22.6l3.7 1.8 .2 0 .5-3.9-3-3.6-.6-.3-2.5 2.2z" fill="#2c3af8"/>
<path d="M622.7 89.8l3.1-.9-1.1-4.9-.5-1.2-1.7 4.2z" fill="#f465ba"/>
<path d="M622.2 90.3l1.1 3.4 4.2 2.2 1.1-1-.5-5.8-2.3-.2-3.1 .9z" fill="#f23a2f"/>
<path d="M623.2 57.7l1.3 0 1.7-1-2-6.1-.3-.3-2.6 .9-.7 2z" fill="#3c2aef"/>
<path d="M623.4 47.2l.6 .9 2-.5 .2-3-1.2-.9-1.3 1.1z" fill="#fc69b4"/>
<path d="M622 58.3l-1.8 6.1 4.2 .3 1.4-.8-1.3-6.2-1.3 0z" fill="#f82a32"/>
<path d="M621.4 43.5l2.3 1.3 1.3-1.1 .2-.6 .1-2.3-1.7-.7-2.3 2.9z" fill="#a3fb3a"/>
<path d="M622.4 70.5l.5-.7 1.5-5.1-4.2-.3-1.8 1.2z" fill="#fe9f4c"/>
<path d="M622.4 72l6.9-1.7 2.5-3.1-.5-.8-1.3-.3-7.1 3.7-.5 .7z" fill="#fb4030"/>
<path d="M624.1 20.5l1.6-.8-.7-2.9-3.9 .1z" fill="#e12240"/>
<path d="M624.2 82.8l.5 1.2 4.2 3.8 .7-1.1-2.1-4-1.2-1.9-2.2 1.7z" fill="#a9ea3d"/>
<path d="M622.9 69.8l7.1-3.7-4.2-2.2-1.4 .8z" fill="#70e0e4"/>
<path d="M636.3 98.2l-1-2.7-4.6-.9-2.1 .3-1.1 1-.6 4.7 9.1 0z" fill="#2538fe"/>
<path d="M624.8 24.9l4.4-2.5 .6-2.5-4.1-.2-1.6 .8-.5 3.9z" fill="#2c1cff"/>
<path d="M623.6 33.4l2.5-.8 1-1.1-2.2-4.9-3 5.2z" fill="#56fd3d"/>
<path d="M625.8 88.9l2.3 .2 .7-.7 .1-.6-4.2-3.8z" fill="#5bd9df"/>
<path d="M623.3 34.6l4.6 4.8 .8-.1 0-3.6-2.6-3.1-2.5 .8z" fill="#e93f35"/>
<path d="M626.2 56.7l4.6-.6-2.4-6-4.2 .5z" fill="#e28e50"/>
<path d="M630.1 14.5l.5 1.2 8.8-1.7 0-.6-9.3 0z" fill="#e74ffc"/>
<path d="M621.1 16.9l3.9-.1 5.1-2.3 0-1.1-9.4 0-.2 3.2z" fill="#f92e23"/>
<path d="M624.9 26.6l2.2 4.9 2.4-1 .9-1.3 .1-.6-5.6-3.6z" fill="#e82f2f"/>
<path d="M621.9 73.8l4.2 3 2.3-2.4 .9-4.1-6.9 1.7z" fill="#f7de55"/>
<path d="M623.9 50.3l.3 .3 4.2-.5 .4-1.9-.1-.6-2.7 0-2 .5z" fill="#da4cf5"/>
<path d="M626.2 44.6l2.4 .8 .5-2.1-3.9-.2-.2 .6z" fill="#2822ff"/>
<path d="M628.6 94.9l2.1-.3 .8-1.9 .8-2.7-3.5-1.6-.7 .7z" fill="#ea9851"/>
<path d="M626 47.6l2.7 0 .4-.9-.5-1.3-2.4-.8z" fill="#ff6bc6"/>
<path d="M625.7 19.7l4.1 .2 .7-1.2 .2-2.6-.1-.4-.5-1.2-5.1 2.3z" fill="#5df740"/>
<path d="M629.8 19.9l-.6 2.5 2.8 3.6 4.3-.8-.7-3.4-5.1-3.1z" fill="#64aee6"/>
<path d="M624.5 57.7l1.3 6.2 4.2 2.2 1.3 .3 2.5-9.7-3-.6-4.6 .6z" fill="#e61f32"/>
<path d="M628.8 48.2l6.5 3 0-2.8-.3-1.5-1.8-1-4.1 .8-.4 .9z" fill="#68dbe6"/>
<path d="M625.3 40.8l-.1 2.3 3.9 .2 1.6-2.9-2-1.1-.8 .1z" fill="#a7e42d"/>
<path d="M624.9 25l5.6 3.6 1.5-2.6-2.8-3.6-4.4 2.5z" fill="#3238f9"/>
<path d="M628.4 50.1l2.4 6 3 .6 .6-.2 1.1-4-.2-1.3-6.5-3z" fill="#f3f150"/>
<path d="M628.4 74.4l4.8-.1 2.9-4.3-4.3-2.8-2.5 3.1z" fill="#52efe7"/>
<path d="M627.5 82.7l4 1.6-.6-4.7-3.8-.3-.8 1.5z" fill="#5bff4e"/>
<path d="M630.7 40.4l.6 0 3-1.6 1.7-1.4-.5-1.8-3.3-1.3-3.5 1.4 0 3.6z" fill="#ff2e42"/>
<path d="M626.1 32.6l2.6 3.1 3.5-1.4-2.7-3.8-2.4 1z" fill="#443be8"/>
<path d="M626.1 76.8l1 2.5 3.8 .3 1.8-.5 .5-4.8-4.8 .1z" fill="#8533e0"/>
<path d="M628.6 45.4l.5 1.3 4.1-.8-1.9-5.5-.6 0-1.6 2.9z" fill="#eb2338"/>
<path d="M632.2 34.3l3.3 1.3 1-3.9-6.1-2.5-.9 1.3z" fill="#49f742"/>
<path d="M628.9 87.8l-.1 .6 3.5 1.6 1.4-.3 1.3-2.7-2-1.3-1.2-.2-2.2 1.2z" fill="#2b3ffb"/>
<path d="M629.6 86.7l2.2-1.2-.3-1.2-4-1.6z" fill="#ff2d2d"/>
<path d="M631.8 85.5l1.2 .2 2.1-5.7-2.4-.9-1.8 .5 .6 4.7z" fill="#5df0b7"/>
<path d="M631.3 66.4l.5 .8 4.3 2.8 2.6 .2 1.2-1.2 1.4-4.3 .3-5.2-7.2-3-.6 .2z" fill="#e872c5"/>
<path d="M633.2 45.9l1.8 1 .7-.9 0-.5-1.4-6.7-3 1.6z" fill="#fa7dae"/>
<path d="M635.3 48.4l4.3-1.1 1.9-3-.5-.6-5.3 2.3-.7 .9z" fill="#efec57"/>
<path d="M636.3 98.2l6.8-2-2.7-5.7-4.2 3.1-.9 1.9z" fill="#cc30e5"/>
<path d="M632.3 90l-.8 2.7 3-1.6-.8-1.4z" fill="#52dbff"/>
<path d="M635.1 80l.8 .1 4.8-1.7 .1-3.1-2.1-5.1-2.6-.2-2.9 4.3-.5 4.8z" fill="#df9943"/>
<path d="M630.4 29.2l6.1 2.5 2.2-2.7-.7-2.8-1.7-1-4.3 .8-1.5 2.6z" fill="#ff3f38"/>
<path d="M636.3 25.2l1.7 1 1-.8 .2-8.2-.5 .2-3.1 4.4z" fill="#eb84c1"/>
<path d="M630.5 18.7l5.1 3.1 3.1-4.4-8-1.3z" fill="#55a4f4"/>
<path d="M635 87l2-.3-1.1-6.6-.8-.1-2.1 5.7z" fill="#a9ff38"/>
<path d="M634.3 38.8l1.4 6.7 .9-2 0-5.9-.6-.2z" fill="#313de1"/>
<path d="M630.7 94.6l4.6 .9 .9-1.9-1.7-2.5-3 1.6z" fill="#abfa54"/>
<path d="M633.7 89.7l.8 1.4 1.7 2.5 4.2-3.1 .6-2.1-.1-.5-3.9-1.2-2 .3z" fill="#e7994a"/>
<path d="M636 37.4l.6 .2 1.2 .4 6.1-5.7-3.3-2.5-1.9-.8-2.2 2.7-1 3.9z" fill="#f45cbf"/>
<path d="M635.7 46l5.3-2.3-.5-2.5-3.9 2.3-.9 2z" fill="#e1332e"/>
<path d="M637 86.7l3.9 1.2 2.6-5.8 0-.3-2.8-3.4-4.8 1.7z" fill="#49ff49"/>
<path d="M638.7 17.4l.5-.2 .3-.2 .1-.2-.2-2.8-8.8 1.7 .1 .4z" fill="#4122f8"/>
<path d="M639.4 14l.2 2.8 3.8-1 .1-2.4-4.1 0z" fill="#a0e239"/>
<path d="M639.2 17.2l-.2 8.2 5.2-3.2 .3-.3 0-.2-5-4.7z" fill="#f92528"/>
<path d="M640.4 90.5l2.7 5.7 3 1.5 2.7-3.7-.8-3.3-7-2.3z" fill="#3028f3"/>
<path d="M636.6 43.5l3.9-2.3-.1-1.1-2.6-2.1-1.2-.4z" fill="#4fe444"/>
<path d="M638 26.2l.7 2.8 1.9 .8 3.8-3.3-.2-4.3-5.2 3.2z" fill="#f961ae"/>
<path d="M638.7 70.2l2.1 5.1 5.9-1 3.8-2.8 .1-.6 .1-.9-10.8-1z" fill="#e2273e"/>
<path d="M635.3 51.2l.2 1.3 2.2-.9 .2-.1 2.5-2.8-.8-1.4-4.3 1.1z" fill="#2b1fdf"/>
<path d="M634.4 56.5l7.2 3 .3-.2 .7-5.5-.4-1.4-4.5-.8-2.2 .9z" fill="#3ce852"/>
<path d="M640.4 40.1l1.5-.5 2.1-1.9 2.2-2.5-2.2-2.9-.1 0-6.1 5.7z" fill="#2637e5"/>
<path d="M639.6 47.3l.8 1.4 .4 0 1.3-4-.6-.4z" fill="#50ff3a"/>
<path d="M637.9 51.5l3.5-1-.1-1.6-.5-.2-.4 0z" fill="#e931ec"/>
<path d="M641.9 59.3l2.5-.4 1.2-.9 .5-4-1.2-2-2.3 1.8z" fill="#43ff36"/>
<path d="M639.5 17l5 4.7 .6-.7 1.3-5.5-3 .3-3.8 1z" fill="#3630e2"/>
<path d="M641.5 44.3l.6 .4 2.1 .9 3.3-2.7 .1-.4 .1-.4-.1-.1-5.7-2.4-1.5 .5 .1 1.1 .5 2.5z" fill="#56ef3e"/>
<path d="M641.3 48.9l2.2-.5 .7-2.6 0-.2-2.1-.9-1.3 4z" fill="#ed3127"/>
<path d="M637.9 51.5l-.2 .1 4.5 .8 .6-1.5-1.4-.4z" fill="#f338f2"/>
<path d="M646.5 100.6l8.6 0 0-.2-3.7-6.2-2.6-.2-2.7 3.7z" fill="#94a4fd"/>
<path d="M642.2 52.4l.4 1.4 2.3-1.8-.1-1.1-1-.6-1 .6z" fill="#8ce444"/>
<path d="M641.6 59.5l-.3 5.2 7.5 1.2-.1-.4-1.4-3.6-2.9-3-2.5 .4z" fill="#43ef31"/>
<path d="M642.8 50.9l1-.6-.3-1.9-2.2 .5 .1 1.6z" fill="#8d8fdf"/>
<path d="M643.5 48.4l.3 1.9 1 .6 1.5-.5-.4-3.3-1.7-1.3z" fill="#3dff49"/>
<path d="M643.9 32.3l.1 0 2.3-2.6 .2-.7-2.1-2.5-3.8 3.3z" fill="#ff9643"/>
<path d="M643.4 15.8l3-.3 1.7-2.1-4.6 0z" fill="#3b36f8"/>
<path d="M680.2 15.5l4.8 2.4 1.3-.7 0-3.8-6.6 0z" fill="#3e39e5"/>
<path d="M644.2 22.2l.2 4.3 2.1 2.5 2.1-2.3-.4-2.3-3.7-2.5z" fill="#e779c3"/>
<path d="M645.1 21l3.4-1.2 3.2-6.4-3.6 0-1.7 2.1z" fill="#fb382c"/>
<path d="M646.2 35.2l2.7 1 1.8-.9 0-4.2-4.4-1.4-2.3 2.6z" fill="#e41c3b"/>
<path d="M647.6 42l-3.6-4.3-2.1 1.9z" fill="#e52f3a"/>
<path d="M639.9 69l10.8 1 .2-.4 0-.4-2.1-3.3-7.5-1.2z" fill="#f16dbf"/>
<path d="M641 88.4l7 2.3 2.7-4.2-7.2-4.4-2.6 5.8z" fill="#59fa3b"/>
<path d="M648.8 94l2.6 .2 4.1-1.8 0-2.9-1.4-2.4-3.4-.6 0 0-2.7 4.2z" fill="#eca42f"/>
<path d="M640.7 78.4l2.8 3.4 2.8-1.5 1.3-1.5-.9-4.5-5.9 1z" fill="#de9647"/>
<path d="M644.2 45.8l1.7 1.3 2.2 .7 1.5-.9-2.1-4-3.3 2.7z" fill="#e377b5"/>
<path d="M644 37.7l3.6 4.3 .1 .1 1.2-1.7 0-4.2-2.7-1z" fill="#3438f2"/>
<path d="M644.9 52l1.2 2 2-2-.1-1.3-1.7-.3-1.5 .5z" fill="#231feb"/>
<path d="M646.3 29.7l4.4 1.4 .4-.6-1-3-1.5-.8-2.1 2.3z" fill="#69dde4"/>
<path d="M644.5 21.9l3.7 2.5 1.2-.5 2.6-1.5 .8-.9-4.3-1.7-3.4 1.2-.6 .7z" fill="#5cabff"/>
<path d="M644.4 58.9l2.9 3 3.9-.2 .1-.1-.3-4-.5-.7-4.9 1.1z" fill="#2d24e6"/>
<path d="M646.7 74.3l.9 4.5 4.3-1.8-1.4-5.5z" fill="#61fe2d"/>
<path d="M648 50.7l.1 1.3 3.2 2.8 .7-3-.3-.2-3.7-.9z" fill="#fd9146"/>
<path d="M648 50.7l.1-.1 0-2.8-2.2-.7 .4 3.3 1.7 .3z" fill="#f673c9"/>
<path d="M650.6 70.9l6.4 3.6-.4-5.1-5.7 .2-.2 .4z" fill="#42ef4f"/>
<path d="M643.5 82.1l7.2 4.4 0 0 .5-3.2-.2-1.7-4.7-1.3-2.8 1.5z" fill="#59ea43"/>
<path d="M646.1 54l-.5 4 4.9-1.1 .8-2 0-.1-3.2-2.8z" fill="#2a1de7"/>
<path d="M648.7 65.5l2.5-3.8-3.9 .2z" fill="#acfb52"/>
<path d="M647.5 42.9l2.1 4 1.9 .3 1.8-.7-.3-1.1-5.4-2.9z" fill="#dd8335"/>
<path d="M647.6 42.5l5.4 2.9 .1-3.6-4.2-1.4-1.2 1.7z" fill="#4eed45"/>
<path d="M654.7 17.4l5.3 1 .2-5-7 0z" fill="#4133ff"/>
<path d="M653.2 13.4l-1.5 0-3.2 6.4 4.3 1.7 1.3-.6 .6-3.5z" fill="#f99e2d"/>
<path d="M648.1 47.8l0 2.8 1.1-.6 2.2-2.5 .1-.3-1.9-.3z" fill="#61ff4a"/>
<path d="M646.3 80.3l4.7 1.3 2.1-3.5-1.2-1.1-4.3 1.8z" fill="#eb3f36"/>
<path d="M650.7 31.1l0 4.2 2.3 .2 2.7-3.6-.1-3-4.5 1.6z" fill="#dce161"/>
<path d="M648.6 26.7l1.5 .8 2.4-.9 0-.1-3.1-2.6-1.2 .5z" fill="#3923ea"/>
<path d="M651 57.6l4.6 1.6 2.1-.8-2.2-4.1-4.2 .6-.8 2z" fill="#d648e8"/>
<path d="M648.8 65.9l2.1 3.3 3-5.3-.2-.5-2.4-1.8-.1 .1-2.5 3.8z" fill="#4ed8e9"/>
<path d="M648 50.7l3.7 .9-.5-1.4-2-.2-1.1 .6z" fill="#8c48dc"/>
<path d="M651.2 83.3l3.7-1.6 1.1-2.9-2.9-.7-2.1 3.5z" fill="#e3d56e"/>
<path d="M650.5 71.5l1.4 5.5 1.2 1.1 2.9 .7 2.4-.4 .3-1.7-1.7-2.2-6.4-3.6z" fill="#d645e6"/>
<path d="M651.3 54.9l4.2-.6 .9-1.9-3.2-1.3-1.2 .7-.7 3z" fill="#e37e3a"/>
<path d="M648.9 40.4l4.2 1.4 .8-.5-.3-5.2-.6-.6-2.3-.2-1.8 .9z" fill="#64f647"/>
<path d="M652 51.8l1.2-.7 1.1-4.2-1-.4-1.8 .7-.1 .3-.2 2.7 .5 1.4z" fill="#56ff3f"/>
<path d="M649.2 50l2 .2 .2-2.7z" fill="#6df4ff"/>
<path d="M653.3 46.5l1 .4 .2 0 2.6-4.7-1.2-.9-2 0-.8 .5-.1 3.6z" fill="#ea3f43"/>
<path d="M651.1 30.5l4.5-1.6 .5-1-3.6-1.3-2.4 .9z" fill="#f53029"/>
<path d="M649.4 23.9l3.1 2.6-.5-4.1z" fill="#4041f0"/>
<path d="M652.5 26.5l0 .1 3.6 1.3 2.6-1.9-4.6-5.1-1.3 .6-.8 .9z" fill="#99df2e"/>
<path d="M670.1 95.9l-6.8-.5-1.9 1.9-.8 3.3 9.5 0z" fill="#2e35e5"/>
<path d="M654.6 86.4l.3-4.7-3.7 1.6-.5 3.2 3.4 .6z" fill="#9ea6dd"/>
<path d="M654.1 87.1l1.4 2.4 4.4-.8 1.2-1 .2-.4-3.2-2.7-3.5 1.8z" fill="#9bfb3a"/>
<path d="M651.3 61.6l2.4 1.8 1.9-4.2-4.6-1.6z" fill="#e78937"/>
<path d="M653.2 51.1l3.2 1.3 2.4-1.8 .2-.9 0-.6-.2-.4-4.3-1.8-.2 0z" fill="#7becaa"/>
<path d="M650.9 69.6l5.7-.2 1-.3 1.2-2.7 .1-.5-1.4-1.5-3.6-.5-3 5.3z" fill="#62ff3e"/>
<path d="M658.7 26l1.6 0 1.4-4.5-.4-2.3-1.3-.8-5.3-1-.6 3.5z" fill="#97fe32"/>
<path d="M655.6 28.9l.1 3 4.9 3 .5-.1 2.2-6-.6-.9-2.4-1.9-1.6 0-2.6 1.9z" fill="#f180d3"/>
<path d="M654.9 81.7l-.3 4.7 3.5-1.8 1.5-5.2-1.2-1-2.4 .4z" fill="#8244ff"/>
<path d="M651.4 94.2l3.7 6.2 .6-2.2 0-1.9-.1-3.8-.1-.1z" fill="#f5272a"/>
<path d="M653.9 63.9l3.6 .5 1.3-5.7-1.1-.3-2.1 .8-1.9 4.2z" fill="#fb7d51"/>
<path d="M655.7 98.2l2.5-2.6-2.5 .7z" fill="#8b52e8"/>
<path d="M655.5 54.3l2.2 4.1 1.1 .3 .4-.1 1.5-3.8-1.9-4.2-2.4 1.8z" fill="#68def2"/>
<path d="M653.9 41.3l2 0 .4-1.5-.3-3.1-2.4-.6z" fill="#ff9f2d"/>
<path d="M653.6 36.1l2.4 .6 1-.1 3-1.4 .6-.3-4.9-3-2.7 3.6z" fill="#ab8cf1"/>
<path d="M654.5 46.9l4.3 1.8 1.9-6.1-3.6-.4z" fill="#54ecee"/>
<path d="M657 74.5l1.7 2.2 1.8-2.8 .1-2.2-.1-.1-2.9-2.5-1 .3z" fill="#94e72f"/>
<path d="M658.2 95.6l-2.5 2.6-.6 2.2 0 .2 5.5 0 .8-3.3-2.7-2.2z" fill="#e4884d"/>
<path d="M658.7 95.1l-1.2-1.9-1.9-.7 .1 3.8 2.5-.7z" fill="#2f2cff"/>
<path d="M655.6 92.5l1.9 .7 1-.4 1.3-.7 .2-1.1-.1-2.3-4.4 .8 0 2.9z" fill="#4ff0ee"/>
<path d="M658.4 78.4l1.2 1 3.3 1 6.2-4-.1-1-.4-.6-8.1-.9-1.8 2.8z" fill="#6fefeb"/>
<path d="M655.9 41.3l1.2 .9 3.6 .4 .1-.1-1.8-2.4-1.1-.9-1.6 .6z" fill="#ec41ec"/>
<path d="M657 36.6l-1 .1 .3 3.1 1.6-.6-.1-.6z" fill="#45f538"/>
<path d="M657.8 38.6l1 0 1.2-3.4-3 1.4z" fill="#958ef1"/>
<path d="M657.9 39.2l1.1 .9-.2-1.5-1 0z" fill="#2c3be5"/>
<path d="M658.9 65.9l3.4-1.6 .3-3.8-.1 0-3.3-1.9-.4 .1-1.3 5.7z" fill="#709be1"/>
<path d="M658.1 84.6l3.2 2.7 3.2-2.1-1.6-4.8-3.3-1z" fill="#f980d4"/>
<path d="M658.8 50.6l1.9 4.2 3.4-.4 .3-1.9-5.4-2.8z" fill="#aaadf9"/>
<path d="M659.9 88.7l.1 2.3 2.9-.1-1.8-3.2z" fill="#42e64a"/>
<path d="M660 35.2l-1.2 3.4 .2 1.5 1.8 2.4 2.1-1-.6-5.1-1.2-1.6-.5 .1z" fill="#61f930"/>
<path d="M659 49.1l3.9-.5 1.8-2.8-1.7-4.2-.1-.1-2.1 1-.1 .1-1.9 6.1z" fill="#3a35ff"/>
<path d="M661.3 19.2l2.4-2.5-.3-3.3-3.2 0-.2 5z" fill="#f9df66"/>
<path d="M658.7 95.1l2.7 2.2 1.9-1.9-.1-.4-4.7-2.2-1 .4z" fill="#73e2eb"/>
<path d="M663.7 16.7l.7 .3 1.5 .3 .5-.2 3.5-3.7-6.5 0z" fill="#1f21e7"/>
<path d="M660.5 71.6l1.7-2.9-3.4-2.3-1.2 2.7z" fill="#5df1ff"/>
<path d="M661.7 21.5l3.7-.6-1-3.9-.7-.3-2.4 2.5z" fill="#b2a2eb"/>
<path d="M658.5 92.8l4.7 2.2-.4-2.1-3-.8z" fill="#4329eb"/>
<path d="M659.2 58.6l3.3 1.9 2.6-5.2-1-.9-3.4 .4z" fill="#fff352"/>
<path d="M663.3 95.4l6.8 .5 1.5-2.7-2.4-4.4-5.9 2.5-.5 1.6 .4 2.1z" fill="#49f82c"/>
<path d="M658.8 66.4l3.4 2.3 1.8-.9 .4-1.6-2.1-1.9-3.4 1.6z" fill="#4240e9"/>
<path d="M661.1 87.7l1.8 3.2 .4 .4 5.9-2.5-.1-.4-.9-1.4-3.7-1.8-3.2 2.1z" fill="#e71f38"/>
<path d="M660.6 71.7l4.8-.8-1.4-3.1-1.8 .9-1.7 2.9z" fill="#f5351d"/>
<path d="M662.7 27.9l4.3-4.9-.1-2-1.5-.1-3.7 .6-1.4 4.5z" fill="#58e3dc"/>
<path d="M659.8 92.1l3 .8 .5-1.6-.4-.4-2.9 .1z" fill="#df292e"/>
<path d="M664.5 85.2l3.7 1.8 2.8-8.9-1.9-1.7-6.2 4z" fill="#608ffb"/>
<path d="M661.1 34.8l1.2 1.6 6.2-.6 .5-.3 1.1-1.9-5.9-4.6-.9-.2z" fill="#2826dc"/>
<path d="M659 49.7l5.4 2.8 1.4-1.9-2.9-2-3.9 .5z" fill="#7141fc"/>
<path d="M662.6 60.5l.5 0 5-1.5-.8-3.2-2.2-.5-2.6 5.2z" fill="#e67d4f"/>
<path d="M662.3 64.3l2.1 1.9 1.2-.3 1.3-2.8-3.8-2.6-.5 0z" fill="#ee4242"/>
<path d="M660.6 71.7l-.1 2.2 8.1 .9-.5-2-2.7-1.9z" fill="#8734df"/>
<path d="M665.1 55.3l2.2 .5 2.4-2.4 .1-1.6-.2-.8 0 0-2.5-.7-1.3 .3-1.4 1.9-.3 1.9z" fill="#f19e30"/>
<path d="M664 67.8l1.4 3.1 2.7 1.9 1.7-5.3-4.2-1.6-1.2 .3z" fill="#e59543"/>
<path d="M669 75.4l8.1-5.8 .1-.7-1.7-1.6-3.2-1.6-2.5 1.8-1.7 5.3 .5 2z" fill="#d141dc"/>
<path d="M662.9 41.5l.1 .1 2.7-.3 2.8-5.5-6.2 .6z" fill="#fe4332"/>
<path d="M680.3 98.8l-1.3-2.6-1.8-3.5-5.6 .5-1.5 2.7 0 4.7 10.7 0z" fill="#3122dd"/>
<path d="M669.2 88.8l2.4 4.4 5.6-.5 .2-.2 5.3-11-1.5-.7-1.2 0-10.9 7.6z" fill="#68d4f1"/>
<path d="M662.9 48.6l2.9 2 1.3-.3-.8-3.8-1.6-.7z" fill="#46eb51"/>
<path d="M663.1 60.5l3.8 2.6 .2-.1 1.2-3.8-.2-.2z" fill="#64eefa"/>
<path d="M663.3 28.8l.9 .2 6.9-3.2-.1-1-4-1.8-4.3 4.9z" fill="#f91c32"/>
<path d="M666.9 21l.4-.4-1.4-3.3-1.5-.3 1 3.9z" fill="#fe8e35"/>
<path d="M666.9 21l.1 2 4 1.8 .7-2.1-3.3-2.5-1.1 .4z" fill="#f93c29"/>
<path d="M664.7 45.8l1.6 .7 .7-.3 .2-4.4-1.5-.5-2.7 .3z" fill="#55d5e6"/>
<path d="M667.3 20.6l1.1-.4 1-1.7-3-1.4-.5 .2z" fill="#3026ec"/>
<path d="M669.8 67.5l2.5-1.8-.3-1.2-4.9-1.5-.2 .1-1.3 2.8z" fill="#4dedf4"/>
<path d="M667.1 50.3l2.5 .7 1.8-2.8 .4-1.7-.1-.5-1.1-.4-3.6 .6-.7 .3z" fill="#96e02f"/>
<path d="M667.1 63l4.9 1.5 .3-4.2-4-1.1z" fill="#54fa44"/>
<path d="M668.3 59.2l4 1.1 1.9-1.8-.4-1-4.1-4.1-2.4 2.4 .8 3.2z" fill="#5bf74c"/>
<path d="M667 46.2l3.6-.6-3.3-3.8-.1 0z" fill="#3eff42"/>
<path d="M668.5 35.8l-2.8 5.5 1.5 .5 .1 0 2.8-1.5 0-.2 0-1.5-1.1-3.1z" fill="#3b2bde"/>
<path d="M672.3 65.7l3.2 1.6 2.3-5.6-2.3-3.1-1.3-.1-1.9 1.8-.3 4.2z" fill="#e38f48"/>
<path d="M669.1 88.4l10.9-7.6-9-2.7-2.8 8.9z" fill="#2032e8"/>
<path d="M670.1 33.6l1.7-.3 1.1-1.2 1.6-3.2-3.4-3.1-6.9 3.2z" fill="#46f841"/>
<path d="M669.1 76.4l1.9 1.7 9 2.7 1.2 0-4.1-11.2-8.1 5.8z" fill="#2d3cfd"/>
<path d="M673 15.3l.7 1.4 4.9-.3 0-3-5.8 0z" fill="#62e533"/>
<path d="M669.4 18.5l3.6-3.2-.2-1.9-2.9 0-3.5 3.7z" fill="#ff3733"/>
<path d="M669 35.5l1.1 3.1 3.3-.2 .1-.1-1.3-4.5-.4-.5-1.7 .3z" fill="#dd974c"/>
<path d="M670.6 45.6l1.1 .4 .1 0 1-3.8 0 0-2.7-1.9-2.8 1.5z" fill="#e83bff"/>
<path d="M671 24.8l.1 1 3.4 3.1 1.8-.7 .3-.3 .2-7.1-1.8-1.1-3.3 3z" fill="#65e4e8"/>
<path d="M668.4 20.2l3.3 2.5 3.3-3-1.3-3-.7-1.4-3.6 3.2z" fill="#48e53f"/>
<path d="M669.7 53.4l4.1 4.1 .8-3.6-.4-1-4.4-1.1z" fill="#373bfc"/>
<path d="M669.6 51l4.6 .4 .2-.6-1-1.2-2-1.4-1.8 2.8z" fill="#72adff"/>
<path d="M670.1 40.1l3.2-1.4 .1-.3-3.3 .2z" fill="#b3ee2f"/>
<path d="M669.8 51.8l4.4 1.1 .2-.5-.2-1-4.6-.4z" fill="#df31e0"/>
<path d="M672.2 33.8l5 3.3 0 0 .6-2.5-.1-.2-4.8-2.3-1.1 1.2z" fill="#b2f53a"/>
<path d="M670.1 40.3l2.7 1.9 .5-3.5-3.2 1.4z" fill="#68eb9c"/>
<path d="M673.3 38.7l-.5 3.5 0 0 3.3-.7-1.4-3-1.2-.2-.1 .1z" fill="#56ff48"/>
<path d="M674.2 51.4l.2 1 2.2-1.1-.1-.8-.1-.1-2 .4z" fill="#fda13a"/>
<path d="M674.2 58.5l1.3 .1 4.8-2.6-.5-2-2-1-3.2 .9-.8 3.6z" fill="#f7df70"/>
<path d="M674.6 53.9l3.2-.9-1.2-1.7-2.2 1.1-.2 .5z" fill="#f22ff1"/>
<path d="M673.4 49.6l2.7 0-.1-.8-.7-1.5-3.5-.8-.4 1.7z" fill="#58ea54"/>
<path d="M676.8 20.8l1.1-.2 1.9-1.5-.2-1.9-1-.8-4.9 .3 1.3 3z" fill="#ed843f"/>
<path d="M671.7 46l.1 .5 3.5 .8 4.3-2.3-1.1-1.6-6.7 2.6z" fill="#50ace4"/>
<path d="M673.5 38.3l1.2 .2 2.5-1.4-5-3.3z" fill="#ff7ac9"/>
<path d="M681.2 80.8l1.5 .7 3.6-.3 0-12.6-6.2-.9-2.9 1.2-.1 .7z" fill="#6fe1de"/>
<path d="M674.4 50.8l2-.4-.3-.8-2.7 0z" fill="#63a5f5"/>
<path d="M671.8 46l6.7-2.6-.4-1.4-2-.5-3.3 .7z" fill="#4ff847"/>
<path d="M676.4 50.4l.1 .1 4.2-1.9-.2-.9-4.5 1.1 .1 .8z" fill="#7245e0"/>
<path d="M674.7 38.5l1.4 3 2 .5 1.4-2.8 0-.1-2.3-2 0 0z" fill="#41dd45"/>
<path d="M677.4 92.5l8.6 .8 .3 0 0-12.1-3.6 .3z" fill="#a0ff36"/>
<path d="M677.2 68.9l2.9-1.2 .7-5.2-3-.8-2.3 5.6z" fill="#6ed2f9"/>
<path d="M676 48.8l4.5-1.1-.1-2.1-.8-.6-4.3 2.3z" fill="#d333e6"/>
<path d="M677.8 53l2 1 1.5-4.4-.6-1-4.2 1.9 .1 .8z" fill="#2735ff"/>
<path d="M678.5 43.4l1.1 1.6 .8 .6 2.7-1.1 .2-2.9-1-1.6-2.8-.8-1.4 2.8z" fill="#3d23fa"/>
<path d="M683.1 44.5l-2.7 1.1 .1 2.1 .2 .9 .6 1 5 .9 0-5.6z" fill="#a1fb4e"/>
<path d="M672.9 32.1l4.8 2.3 1.8-3.1-3.2-3.1-1.8 .7z" fill="#69d1f2"/>
<path d="M677.2 37.1l2.3 2 2.3-3.6 0-.1-4-.8z" fill="#f13343"/>
<path d="M677.8 61.7l3 .8 4.8-3.9-5.3-2.6-4.8 2.6z" fill="#67e8e1"/>
<path d="M676.6 27.9l1-.4 4.8-2.6 .2-.3-.1-.2-1.8-1.7-2.8-2.1-1.1 .2z" fill="#f9ee6f"/>
<path d="M677.8 34.6l4 .8 .1-2.2-1.8-1.7-.6-.2-1.8 3.1z" fill="#6d9fdd"/>
<path d="M679.6 17.2l.6-1.7-.5-2.1-1.1 0 0 3z" fill="#e96dd2"/>
<path d="M680.3 56l5.3 2.6 .7 0 0-8.1-5-.9-1.5 4.4z" fill="#4de838"/>
<path d="M679.5 39.2l2.8 .8 3.9-2.7-4.4-1.8-2.3 3.6z" fill="#f88838"/>
<path d="M676.3 28.2l3.2 3.1 .6 .2 2.1-2.2 0-.1-.2-.4-4.4-1.3-1 .4z" fill="#97abee"/>
<path d="M679.8 19.1l4-.7 .7-.2 .5-.3-4.8-2.4-.6 1.7z" fill="#1d3cfb"/>
<path d="M685.6 58.6l-4.8 3.9-.7 5.2 6.2 .9 0-10z" fill="#5ad1f6"/>
<path d="M681.8 35.5l4.4 1.8 .1 0 0-6.3-.3 .1-4.1 2.1-.1 2.2z" fill="#ff7fc7"/>
<path d="M679.8 19.1l-1.9 1.5 2.8 2.1 3.1-4.3z" fill="#b094ec"/>
<path d="M681.9 33.2l4.1-2.1-3.8-1.8-2.1 2.2z" fill="#8eaefa"/>
<path d="M677.6 27.5l4.4 1.3 .7-3-.3-.9z" fill="#71abe8"/>
<path d="M682.5 24.4l2-6.2-.7 .2-3.1 4.3z" fill="#fc2c39"/>
<path d="M685 17.9l-.5 .3-2 6.2 .1 .2 3.7-.3 0-7.1z" fill="#3dff48"/>
<path d="M677.4 92.5l-.2 .2 1.8 3.5 6.2-2.2 .8-.7z" fill="#292ee3"/>
<path d="M682.6 24.6l-.2 .3 .3 .9 1.7 2 1.9 1.8 0-5.3z" fill="#aae64d"/>
<path d="M682.2 29.2l2.2-1.4-1.7-2-.7 3z" fill="#dd84af"/>
<path d="M686 31.1l.3-.1 0-1.4-1.9-1.8-2.2 1.4 0 .1z" fill="#6693e2"/>
<path d="M680.3 98.8l4.9-4.8-6.2 2.2z" fill="#3f21f9"/>
<path d="M686 93.3l-.8 .7-4.9 4.8 .5 1.8 5.5 0 0-7.3z" fill="#8dfb33"/>
<path d="M683.3 41.6l-.2 2.9 3.2 .4 0-4.7z" fill="#8b2eef"/>
<path d="M683.3 41.6l3-1.4 0-2.9-.1 0-3.9 2.7z" fill="#40ff47"/>
<g stroke="none"><path d="M574 29.2l-2-.7 4.5 5.1 .5-.1 .1-.7z" fill="#e7853b"/><path d="M571 28.1l0 1.5 3.9 4.5 1-.3z" fill="#e7853b"/><path d="M571 30.9l0 1.5 2 2.3 1-.3z" fill="#e7853b"/><path d="M571 33.5l0 1.5 .2 .2 1-.3z" fill="#e7853b"/><path d="M571 86.6l0 1 3.7 .1-.7-1z" fill="#e64de4"/><path d="M577.3 85.9l.4-.6-1.2-.7-.4 0z" fill="#7afdc0"/><path d="M575 84.5l-.7-.1-.2 .5 2.3 2.6 .5-.9z" fill="#7afdc0"/><path d="M576 93.6l-.6 .3 5.3 4.1-.2-.9z" fill="#4df94d"/><path d="M573.4 94.8l-.6 .2 7.2 5.6 .9 0z" fill="#4df94d"/><path d="M571 96.9l0 .7 3.9 3 .9 0z" fill="#4df94d"/><path d="M571 99.8l0 .7 .2 .1 .9 0z" fill="#4df94d"/><path d="M578.1 16.7l.1-.9-5.4 2.7 .9 .4z" fill="#f03bfa"/><path d="M578.4 14.2l0-.8-.1 0-7.3 3.6 0 .6 .3 .1z" fill="#f03bfa"/><path d="M576.5 13.4l-1.7 0-3.8 1.9 0 .8z" fill="#f03bfa"/><path d="M586.1 32.7l-1.1-.1 1.1 1.4 .6-.5z" fill="#e69f3a"/><path d="M582.8 32.3l-1-.1 2.4 3.2 .6-.5z" fill="#e69f3a"/><path d="M580.3 32l-1.1-.1 3.5 4.6 .6-.4z" fill="#e69f3a"/><path d="M577.5 32.1l-.4 .3 0 .4 3.1 4.2 .7 .8 .6-.4z" fill="#e69f3a"/><path d="M579.5 20.2l-.6-1-1.5 3 .1 0 1.9-1.8z" fill="#aaf03f"/><path d="M578.4 18.3l-.4-.7-.4 .2-2.1 4.3 1 .1z" fill="#aaf03f"/><path d="M576.3 18.3l-1.3 .6-.5 1 .4 1.3z" fill="#aaf03f"/><path d="M581.4 82.3l-.7-.6-3.4 3.3 .4 .3 .8-.3z" fill="#f0eb5d"/><path d="M579.4 80.7l-.7-.6-2.8 2.7 .3 .9z" fill="#f0eb5d"/><path d="M577.2 79l-.6-.6-1.6 1.5 .3 .9z" fill="#f0eb5d"/><path d="M575.4 77.5l-.7-.5-.5 .5 .3 .9z" fill="#f0eb5d"/><path d="M580.5 23.5l-.3 .8 5.2 4.1 1.6 .1z" fill="#d354e4"/><path d="M579.5 26.3l0 .3 1.5 1.3 .6 .1z" fill="#d354e4"/><path d="M581.7 86.1l-.1 .8 5.2 1.9 0 0-.5-1z" fill="#6fd1e7"/><path d="M587.7 33.8l-.6-.6-.6 .5z" fill="#49e94d"/><path d="M584.8 34.9l-1.1 .8 6.3 .9-.8-1.1z" fill="#49e94d"/><path d="M582.1 36.9l-1 .8 10.5 1.4 .1-.6-.3-.3z" fill="#49e94d"/><path d="M580.6 39.1l-.2 .9 10.8 1.5 .2-.9z" fill="#49e94d"/><path d="M580 41.6l-.2 .9 11.1 1.5 .1-.9z" fill="#49e94d"/><path d="M583.2 44.7l2.5 1.3 3.6 .4 .6-.8z" fill="#49e94d"/><path d="M587.4 26.2l.4-1.1-2 .1 .2 .6 .3 .5z" fill="#68ceff"/><path d="M588 24.5l.4-1.1-3.3 .2 .4 1z" fill="#68ceff"/><path d="M588.2 22.7l-.4-1-3.4 .1 .4 1.1z" fill="#68ceff"/><path d="M587.4 20.6l-.4-1.1-3.3 .2-.1 .2 .3 .8z" fill="#68ceff"/><path d="M586.7 18.9l-.4-1-.9 0-1.3 1.1z" fill="#68ceff"/><path d="M594.2 37.6l.1-.1 .8-.6-4.6 .2 .5 .6z" fill="#3b20fa"/><path d="M597.8 34.6l.8-.6-10.4 .4 .5 .6z" fill="#3b20fa"/><path d="M598.6 32.4l-.1-.6-11.3 .4 0 .6 0 .1z" fill="#3b20fa"/><path d="M598 30.2l-.2-.6-10.3 .4-.1 .6z" fill="#3b20fa"/><path d="M597.2 27.9l-.3-.7-2.5 .1-3.1 .8z" fill="#3b20fa"/><path d="M582.1 20.2l-.9 .1 2.1 4.1 1.3 .7z" fill="#de2eee"/><path d="M591.4 18.2l.7-.9-3.6 .3 1.4 .7z" fill="#383ee3"/><path d="M593.3 15.6l.7-.9-7.5 .8 0 .8z" fill="#383ee3"/><path d="M594.3 13.4l-8 0 .1 .8z" fill="#383ee3"/><path d="M592.9 98.8l-1-.3 1.3 2.1 .7 0z" fill="#da37f3"/><path d="M590.4 98.1l-.9-.3 1.7 2.8 .7 0z" fill="#da37f3"/><path d="M588.3 97.6l-.3 .8 1.3 2.2 .8 0z" fill="#da37f3"/><path d="M586.5 89.7l-.8 .4 1.8 .2-.5-.6z" fill="#e240ff"/><path d="M583.3 92.2l-.4 .5 6.4 .7 .1-.5z" fill="#e240ff"/><path d="M588.2 95.2l-.1-.6-.2 0-3 4.8-.2 1.2 0 0z" fill="#1f23f1"/><path d="M591.6 77.9l-.4-.8-1.2 1.3 1 .1z" fill="#e084bc"/><path d="M590.4 76.3l-.7-.5-1.8 2 0 .2 .8 .1z" fill="#e084bc"/><path d="M588.5 74.9l-.7-.5-.6 .7 .2 1z" fill="#e084bc"/><path d="M589.3 18l-.6-.2-1.2 3.1 .3 .9z" fill="#ff892c"/><path d="M587 16.9l-.4-.2-.3 .3-.1 .4 .3 .9z" fill="#ff892c"/><path d="M594.2 83.6l.1-1-3.8 2.4 1.4 0z" fill="#4441ec"/><path d="M594.4 81l0-.1-1.6 .1-6 3.7 1.4 .1z" fill="#4441ec"/><path d="M591.6 81.1l-1.7 0-2.8 1.8-.7 1.3z" fill="#4441ec"/><path d="M596 77.1l.3-1.9-3.4 4.2 .8 .6z" fill="#97b4dd"/><path d="M596.4 72.6l-.5-.9-4.5 5.6 .5 1z" fill="#97b4dd"/><path d="M594.9 70.5l-.7-.6-2.6 3.3-.3 1.9z" fill="#97b4dd"/><path d="M596.9 79.8l-1.3-.1-.7 .6 5.5 1.7-1.2-1.5z" fill="#fe4220"/><path d="M594.4 81.2l-.1 1 7.4 2.3 .4-.6-.5-.5z" fill="#fe4220"/><path d="M594.2 83.5l-.1 1.1 1.2 .3 4 .2z" fill="#fe4220"/><path d="M594.1 67l.5-1.4-5.5 3 1.4 .3z" fill="#ec2f36"/><path d="M595.4 63.3l.5-1.4-7.3 4-1.8 2.1z" fill="#ec2f36"/><path d="M596.4 60.5l.4-1.1-.1-.2-4.5 2.5-1.8 2.1z" fill="#ec2f36"/><path d="M594 14.7l-.6 .8 2.4 2.8-1.6-3.3z" fill="#a2ff31"/><path d="M592.6 16.6l-.6 .8 5.8 6.7 .2-.4-.3-1.2z" fill="#a2ff31"/><path d="M591.3 18.4l-.4 .4 .1 .2 2.6 2.1z" fill="#a2ff31"/><path d="M603 100.6l.7 0-.2-4-.8-1z" fill="#61d6ff"/><path d="M600.7 93.3l-1-1.2 .6 8.5 .9 0z" fill="#61d6ff"/><path d="M598.3 96.3l-.1 .6-.5 2.8 0 .9 .9 0z" fill="#61d6ff"/><path d="M600.2 64.5l.8-.7 .1-.8-1.1-.9z" fill="#6d2cee"/><path d="M598.9 61.2l-1.2-1 .7 5.9 1-.8z" fill="#6d2cee"/><path d="M597 59.6l-.2-.2-.7 1.8 .7 6.3 1-.9z" fill="#6d2cee"/><path d="M595.5 63l-.8 2.3 .4 3.7 1-.9z" fill="#6d2cee"/><path d="M593.8 67.7l-.5 1.7 .8 .4z" fill="#6d2cee"/><path d="M601 38.9l-1.2 .4 1.7 .7 .2-.4-.2-.5z" fill="#3cff3f"/><path d="M598.2 39.8l-.2 .1 .1 .7 2.5 1.1 .4-.7z" fill="#3cff3f"/><path d="M598.4 42.3l0 .3 .1 .2 1.3 .3 .1-.2z" fill="#3cff3f"/><path d="M601.7 67.9l.3-.2-.9-3.3z" fill="#3f34fc"/><path d="M600.1 64.6l-.7 .6 .5 3.6 .8-.4z" fill="#3f34fc"/><path d="M598.5 66l-.7 .6 .5 3 .7-.4z" fill="#3f34fc"/><path d="M597.1 67.3l-.7 .6 .3 2.5 .8-.4z" fill="#3f34fc"/><path d="M595.3 68.9l-.8 .6 .1 .8 .9 .7 .1 0z" fill="#3f34fc"/><path d="M598.6 33.9l-.7 .6 2.9 2.3-.4-1.5z" fill="#97f344"/><path d="M597.1 35.2l-.8 .6 4.2 3.3 .8-.3-.1-.4z" fill="#97f344"/><path d="M595.3 36.7l-.8 .6 2.4 1.9 1.1 .7 .9-.3z" fill="#97f344"/><path d="M595.6 79.7l0 0 3.1 .2 2.3-.8z" fill="#e183c9"/><path d="M602.8 77.9l.2-.6-7.2 .8-.1 .6z" fill="#e183c9"/><path d="M603.2 76.3l.2-.6-7.3 .8-.1 .6z" fill="#e183c9"/><path d="M603.8 74.2l.2-.6-7.6 .8-.1 .6z" fill="#e183c9"/><path d="M599.5 73.2l-2.9-.2 0 .5z" fill="#e183c9"/><path d="M602.7 83.9l-.6 0-.4 .5 .2 2.9 .9 .7 .1-.5z" fill="#7650df"/><path d="M605.2 82.9l-.3-.6-2.8 1.6 0 0 1.4-.1z" fill="#6db2f4"/><path d="M604.2 80.8l-.2-.5-3.4 1.8 .4 .5z" fill="#6db2f4"/><path d="M602.8 78.6l-.2-.1-2.5 .9-1.3 .7 .4 .5z" fill="#6db2f4"/><path d="M604.5 54.9l.8-.1 .5-1z" fill="#ec30f5"/><path d="M606.3 51.7l-.6-.4-4.5 3.9 .8 .2 .2 0z" fill="#ec30f5"/><path d="M604.6 50.7l-.6-.4-5.2 4.5 .9 .1z" fill="#ec30f5"/><path d="M602.6 49.4l-.7-.3-5.6 4.8-.3 .3 .9 .2z" fill="#ec30f5"/><path d="M606.7 83.7l-1-.3 1.2 1.9 .3-.7z" fill="#6ea9f0"/><path d="M604.1 84.3l-.3 .8 1.8 2.8 .3-.7z" fill="#6ea9f0"/><path d="M603.2 86.9l-.3 .7 .7 1 .6-.2z" fill="#6ea9f0"/><path d="M608.7 50.7l1.9-1.4-.1-.4-.2-.3z" fill="#322bed"/><path d="M609.3 47.7l-.8-.2-2.8 3.8 .6 .4z" fill="#322bed"/><path d="M607.8 47.4l-.8-.2-2.5 3.4 .6 .4z" fill="#322bed"/><path d="M605.4 46.9l-.8-.2-2 2.7 .6 .4z" fill="#322bed"/><path d="M603.8 46.5l-.8-.2-1.7 2.4 .6 .4z" fill="#322bed"/><path d="M606.3 89l-.3-.5-1 2.6 .3 .5z" fill="#e6922f"/><path d="M613 32.7l-.7-.4-2.9 3.3 1.6-.6z" fill="#68f1eb"/><path d="M611 31.4l-.7-.5-3.4 4 .6 .6z" fill="#68f1eb"/><path d="M609.1 30l-.7-.5-2.4 2.8-.3 1.4 .1 .1z" fill="#68f1eb"/><path d="M608 60.9l-.5-.2-.6 0 2.2 2.4-.2-1.2z" fill="#2124fe"/><path d="M605.2 61.1l-.6 .4 3.6 4.1 .5-.3 .1-.1z" fill="#2124fe"/><path d="M603.5 62.5l3 3.9 .3-.1z" fill="#2124fe"/><path d="M604.8 60.3l.4 .7 1.4-.4-.1-.7z" fill="#ee4aff"/><path d="M606.4 59.2l-.2-1.1-2.3 .5 .5 1z" fill="#ee4aff"/><path d="M606.2 57.8l-.2-1.1-2.8 .7 .5 .9z" fill="#ee4aff"/><path d="M605.9 56l-.1-.6-.3-.4-3.3 .7 .6 1z" fill="#ee4aff"/><path d="M607.9 84l.9-.2-.3-3.4z" fill="#eb36eb"/><path d="M607.3 78.6l-1.1 .2-.7 4.6 .9 .3z" fill="#eb36eb"/><path d="M605.3 79l-1.1 .1-.2 1.3 .8 1.6z" fill="#eb36eb"/><path d="M606.1 44.4l-1.6-.2 3.5 3.2 1.5 .4 0-.4z" fill="#f19245"/><path d="M603.5 45.5l-.6 .8 1.9 .4z" fill="#f19245"/><path d="M608.3 56.1l-1.5-.4 1.2 1.9 .3-1.5z" fill="#6cf1e9"/><path d="M606.6 55.6l-.8-.2 .1 1.1 1.8 2.8 .3-1.5z" fill="#6cf1e9"/><path d="M606.4 59.3l.2 1.3 .7 .1z" fill="#6cf1e9"/><path d="M612.5 71.7l-.9-.6 .6 1.4 .4-.4z" fill="#5ef03b"/><path d="M609.6 70.4l-.6 0 1.4 3.9 .5-.4z" fill="#5ef03b"/><path d="M607.5 70.6l-.7 0 2.1 5.4 .4-.5z" fill="#5ef03b"/><path d="M605.8 70.7l-.6 0 1.7 4.6 .9 .5z" fill="#5ef03b"/><path d="M607.5 39.6l-1.1 .6 2.8 1.5 0-.6-1.1-1.1z" fill="#ef342f"/><path d="M605.4 41.1l-.4 .9 4 2.1 .1-1z" fill="#ef342f"/><path d="M604.6 43.2l-.3 1 .1 0 2.5 .2z" fill="#ef342f"/><path d="M611.1 49.9l-.5-.6-.2 .1 .4 1.9 .3-1.3z" fill="#a5f139"/><path d="M609.4 50.2l-.5 .3 1.1 5.1 .3-1.3z" fill="#a5f139"/><path d="M607.6 51.5l-.4 .3 .8 1.3z" fill="#a5f139"/><path d="M614.2 77.7l-1 .3-.1 0 3.8 2.5 .4-.8z" fill="#e476b0"/><path d="M612.2 79.2l-.4 .8 3.9 2.6 .4-.8z" fill="#e476b0"/><path d="M610.8 81.9l-.5 .8 3 2 .9-.6z" fill="#e476b0"/><path d="M616.9 100.6l1.1 0 .4-.9z" fill="#904ee5"/><path d="M618.9 98l.4-1.1-.1-.3-3.8 2.4 .7 .9z" fill="#904ee5"/><path d="M619 96l-.3-1-4.2 2.6 .6 .9z" fill="#904ee5"/><path d="M618.2 93.8l0-.3-1.4-.1-2.8 1.8-.2 1.4z" fill="#904ee5"/><path d="M615.3 93.3l-1.1-.1-.1 .9z" fill="#904ee5"/><path d="M616 90.2l.4-.3-.2-.7-5.3 .7-.1 .5 .9 .4z" fill="#e136e1"/><path d="M612.9 22l-.8-.3-.4 2.3 .8 .3z" fill="#4debdd"/><path d="M615.5 17.8l-.6-.5-1.1 2.7 1.1-.7z" fill="#e6a341"/><path d="M613.5 16.1l-.7-.5-2.3 5.7 .1 .2 .7-.1z" fill="#e6a341"/><path d="M611.3 14.4l-.6-.5-1 2.3 .1 2.1z" fill="#e6a341"/><path d="M614 85.7l-.7-1-.6 .1z" fill="#dc65c3"/><path d="M611 85.7l0 1.2 2.9 1.9 1.4-.3z" fill="#dc65c3"/><path d="M610.9 88.1l0 1.2 .3 .2 1.3-.3z" fill="#dc65c3"/><path d="M617.3 42.5l-.7 0-.7 1.2 .5 .3z" fill="#93b0ff"/><path d="M620.5 42.2l-.8-.7-2.1 1.9 .1 1.2 0 .2z" fill="#5ab4ec"/><path d="M619.1 40.9l-.6-.6-.9 2z" fill="#5ab4ec"/><path d="M624.4 94.3l-1.1-.6-.4 .3 4.2 5.3 .2-1.4z" fill="#ff2a23"/><path d="M621.6 95l-.7 .7 3.8 4.9 1.3 0z" fill="#ff2a23"/><path d="M619.7 96.6l-.4 .3-.2 .5 2.5 3.2 1.3 0z" fill="#ff2a23"/><path d="M618.4 99.5l-.4 1.1 .1 0 1.2 0z" fill="#ff2a23"/><path d="M622.6 88.3l-.1-1.3-2.3-1.2z" fill="#f63222"/><path d="M619.4 85.7l-.7 .4 0 .2 0 .1 3.7 3.8 .3-.4 0-.7z" fill="#f63222"/><path d="M619.2 88.6l.3 1.6 1.3 0z" fill="#f63222"/><path d="M622.5 25.4l.9-1-.5-.2z" fill="#ebe44c"/><path d="M621.5 23.5l-.8-.4-1.6 4.9 .5 1z" fill="#ebe44c"/><path d="M616.5 81.3l-.3 .5 3.8 3.1 .2-.5z" fill="#d13cf7"/><path d="M615.4 83.2l-.2 .3 3.5 2.6 .1-.1z" fill="#d13cf7"/><path d="M619.8 58.2l-.1 0-.7 .5 2.1 2.7 .3-1.1z" fill="#df1f41"/><path d="M618.2 60.1l-.4 1 2.5 3.1 .3-1.1z" fill="#df1f41"/><path d="M617.2 62.6l-.4 1.1 1.5 1.9 .1 0 .7-.5z" fill="#df1f41"/><path d="M620.3 96.1l1-.8-2.4 .3 .2 .6z" fill="#3dde40"/><path d="M623.2 93.2l-.2-.7-4.6 .6-.2 .4 0 .2z" fill="#3dde40"/><path d="M622.3 90.5l-.1-.2-2.5-.1-.2 0-.1 0-.2 .7z" fill="#3dde40"/><path d="M624.1 82.8l0-.3-.8-.1-3.6 3.2 .8 .4z" fill="#abff43"/><path d="M623.1 47.2l-1.9 0 2.8 .9 0 0-.6-.8z" fill="#eed074"/><path d="M619.6 47.8l-.1 .6 4.4 1.4 .1-.6z" fill="#eed074"/><path d="M624.5 40.5l.8 .3 2.6-1.4-.3-.3z" fill="#cc35dd"/><path d="M626.5 37.9l-.5-.5-3.4 1.6 .5 .5z" fill="#cc35dd"/><path d="M624.3 35.6l-.5-.5-1.1 .5-.1 .1-.1 .7z" fill="#cc35dd"/><path d="M627.1 89l-1.3-.1-.2 0 2.6 1.4-.1-.8z" fill="#cd3df5"/><path d="M622.8 89.7l-.1 .1-.4 .4 6.2 3.3-.1-.8z" fill="#cd3df5"/><path d="M623.2 93.2l.1 .5 4.2 2.2 .2-.2z" fill="#cd3df5"/><path d="M624.1 44.4l-.4 .4-.1 .3 1.7 2.6 .7-.1 0-.2z" fill="#2d2fde"/><path d="M623.5 46.4l-.1 .8 .6 .9 .5-.1z" fill="#2d2fde"/><path d="M622.1 64.5l-1.9-.1 0 0 3.7 1.8 .2-.7z" fill="#3f1fe8"/><path d="M619 65.2l-.6 .4 .2 .3 4.8 2.2 .2-.7z" fill="#3f1fe8"/><path d="M620 67.6l1.1 1.3 1.8 .9 .2-.7z" fill="#3f1fe8"/><path d="M624.3 27.8l-.5 .7 1.3 4.4 .5-.1z" fill="#df50e8"/><path d="M622.3 31.1l-.4 .7 .8 .7z" fill="#df50e8"/><path d="M625.4 32.8l-1.4 .4 4.1 1.8-1.3-1.6z" fill="#de9553"/><path d="M623.5 33.9l-.2 .7 .4 .4 5 2.2 0-1.1z" fill="#de9553"/><path d="M625.4 36.8l1.7 1.8 1.6 .6 0-1z" fill="#de9553"/><path d="M629.9 13.4l-.6 0 .4 1.3 .4-.2 0-.4z" fill="#441de0"/><path d="M627.2 13.4l-.6 0 .7 2.3 .5-.2z" fill="#441de0"/><path d="M624.5 13.4l-.6 0 1.1 3.4 .5-.2z" fill="#441de0"/><path d="M621.6 13.4l-.6 0 1.1 3.5 .6 0z" fill="#441de0"/><path d="M624 48.4l0 .6 4.5 .7 .1-.6z" fill="#a0f044"/><path d="M627.2 43.2l-.6 0 .4 1.7 .6 .2z" fill="#e7f254"/><path d="M626.8 44.8l-.6-.2 0 .6 1.3 2.4 .8 0z" fill="#202cff"/><path d="M630.2 19.2l.3-.5 .2-2.6-.1-.4-.5-1.2-.7 .3z" fill="#5ed0e3"/><path d="M628.1 15.4l-.9 .4 .7 4 1.1 .1z" fill="#5ed0e3"/><path d="M626 16.3l-1 .5 .3 1.4 .4 1.5 .9 .1z" fill="#5ed0e3"/><path d="M631.6 65.3l.6-2.3-2.1 3.2 .8 .1z" fill="#e52dde"/><path d="M633 60l.5-2.2-5 7.6 .7 .3z" fill="#e52dde"/><path d="M632.2 56.4l-.8-.2-5.2 7.9 .7 .4z" fill="#e52dde"/><path d="M629.8 56.2l-.9 .1-3.6 5.4 .3 1z" fill="#e52dde"/><path d="M626.6 56.6l-.4 .1-1 .6-.6 .9 .2 1.1z" fill="#e52dde"/><path d="M635.1 53.9l.3-1-4.8 2.8 .2 .4 .5 .1z" fill="#3426e2"/><path d="M634.9 51l-.8-.4-4.4 2.7 .2 .7z" fill="#3426e2"/><path d="M632.8 50l-.8-.3-3.1 1.8 .3 .7z" fill="#3426e2"/><path d="M629.7 48.6l-.8-.4-.1 0-.2 1z" fill="#3426e2"/><path d="M634.3 35.1l-.7-.2 .1 4.2 .6-.3 0-.1z" fill="#cf31dd"/><path d="M632.2 34.3l0 0-.6 .2 .2 5.6 .6-.3z" fill="#cf31dd"/><path d="M629.9 35.2l-.6 .3 .1 4.2 .6 .3z" fill="#cf31dd"/><path d="M630 31.1l-.5-.6-.7 .3z" fill="#f7e869"/><path d="M626.8 31.9l-.7 .7 6 1.7 .1 0-.8-1.1z" fill="#f7e869"/><path d="M632.2 90.4l-.2 .7 2 .3 .5-.3-.2-.4z" fill="#62f0fd"/><path d="M636.7 86.7l-1 .2 4.8 3 .2-.6z" fill="#f2a145"/><path d="M634.8 87.5l-.3 .6 4.9 3.1 .5-.4z" fill="#f2a145"/><path d="M633.8 89.4l-.1 .3 .4 .6 3.5 2.3 .5-.4z" fill="#f2a145"/><path d="M635.2 92.1l.9 1.3 .2 .1 .5-.4z" fill="#f2a145"/><path d="M640.3 40l-.6-.5-.2 2.3 .6-.3z" fill="#3b2bef"/><path d="M638.7 38.7l-.6-.4-.4 4.6 .6-.4z" fill="#3b2bef"/><path d="M640.6 74.9l.2 .4 2.9-.5z" fill="#f361ca"/><path d="M647.8 73.5l.8-.6-8.7 .4 .3 .5z" fill="#f361ca"/><path d="M650.4 71.6l.1-.1 .1-.5-11.4 .5 .2 .6z" fill="#f361ca"/><path d="M650.7 70.4l0-.4-.7-.1-11.3 .5 .3 .5z" fill="#f361ca"/><path d="M640.3 48.8l-.6 .7 .1 1.5 .7-.2z" fill="#fe61bd"/><path d="M642.9 50.8l-.1 .1-.2 .5 1.3 1.5 .4-.4z" fill="#9bf230"/><path d="M642.3 52.2l-.1 .2 .3 1 .3 .3 .4-.4z" fill="#9bf230"/><path d="M645.4 27.7l-.4-.5-2.6 4 .5 .3z" fill="#93e22f"/><path d="M650.9 29.9l-.8-2.4-.5-.2z" fill="#9798ff"/><path d="M648.6 26.7l-.8 .8 1.5 3.2 1.4 .4z" fill="#9798ff"/><path d="M647 28.4l-.5 .6-.2 .4 .2 .4 1.4 .4z" fill="#9798ff"/><path d="M649.5 51l-1.2-.3 1.8 3.1 1.2 1 .1-.6z" fill="#322cf6"/><path d="M650.6 81.5l-3.6-1.1 4.2 2.6-.2-1.3z" fill="#b2dc3b"/><path d="M645.4 80.8l-1 .5 6.5 4 .2-1.1z" fill="#b2dc3b"/><path d="M643.6 81.8l-.1 0 0 .3 7.2 4.4 0 0 .1-.3z" fill="#b2dc3b"/><path d="M653.3 63.1l-.8-.6-.3 4.4 1-1.8z" fill="#e654de"/><path d="M651.9 62l-.6-.4-.1 .1-.2 .3-.5 6.6 .4 .6 .5-1.1z" fill="#e654de"/><path d="M650.2 63.2l-1 1.6-.1 1.6 .8 1.3z" fill="#e654de"/><path d="M656.2 52.3l-1-.4-.2 2.5 .5-.1 .7-1.4z" fill="#ffa047"/><path d="M654.4 51.6l-1.1-.4-.2 3.4 1.1-.1z" fill="#ffa047"/><path d="M652.7 51.4l-.7 .4-.6 2.7 0 .4 1-.2z" fill="#ffa047"/><path d="M652.6 46.7l-1.1 .5-.1 .1 2.6 .7 .2-.8z" fill="#db4fe9"/><path d="M651.3 48.3l0 .8 2.2 .7 .3-.8z" fill="#db4fe9"/><path d="M651.2 50.1l0 .1 .3 .9 1.2 .3 .5-.3 .1-.4z" fill="#db4fe9"/><path d="M652.5 26.2l-.2-1-.8 .4 .7 .7z" fill="#43e946"/><path d="M652.2 24.1l-.1-1-2.3 1.2 .8 .6z" fill="#43e946"/><path d="M669.8 95.8l-.9 0 1.2 1 0-.7z" fill="#5ca5ff"/><path d="M666.6 95.6l-.8 0 4.3 3.6 0-.7z" fill="#5ca5ff"/><path d="M663 95.7l-.4 .3 5.6 4.6 .8 0z" fill="#5ca5ff"/><path d="M661.3 97.5l-.1 .5 3.1 2.6 .8 0z" fill="#5ca5ff"/><path d="M660.8 99.8l-.1 .5 .3 .3 .8 0z" fill="#5ca5ff"/><path d="M661.2 87.3l-.6-.6-6.4 .6 .3 .5z" fill="#2f1ee6"/><path d="M658.7 85.1l-.6-.5 0 0-1.3 .6z" fill="#2f1ee6"/><path d="M653.7 69.5l2.9-.1 1-.3 .4-1z" fill="#5bff3b"/><path d="M658.8 66.5l0-.1 .1-.5-.4-.4-6.8 2.1-.7 1.3z" fill="#5bff3b"/><path d="M656.2 64.2l-2.3-.3-.8 1.3z" fill="#5bff3b"/><path d="M661.2 34.5l.5-1.2-1.8 1.1 .7 .5 .2-.1z" fill="#fed363"/><path d="M662.4 31.2l.5-1.2-5.1 3.2 .8 .5z" fill="#fed363"/><path d="M663 28.3l-.3-.4-.3-.2-6.7 4.3 .8 .4z" fill="#fed363"/><path d="M661.3 26.8l-.7-.5-5 3.2 0 1z" fill="#fed363"/><path d="M658.4 60.3l.4-1.6-.4-.1z" fill="#ffa131"/><path d="M656.5 58.8l-.9 .4 .2 5 .9 .1z" fill="#ffa131"/><path d="M654.3 62.1l-.6 1.3 .2 .5 .4 .1z" fill="#ffa131"/><path d="M656.1 38l-.1-1.3-2.4-.6 0 0z" fill="#6edff2"/><path d="M653.7 37.1l0 1.4 2.5 1.8 .1-.5-.1-.8z" fill="#6edff2"/><path d="M653.8 39.7l.1 1.4 .1 .2 1.9 0 0 0z" fill="#6edff2"/><path d="M655.7 94l0 .9 3 .2-.6-.9z" fill="#52cfe6"/><path d="M659.8 35.3l-1.3 .6-.9 2.3 .2 .4 .7 0z" fill="#64ff48"/><path d="M663.5 65.3l-.7-.5 .4 3.4 .6-.3z" fill="#8eb4e6"/><path d="M662 64.5l-.5 .2 .5 3.9 .2 .1 .4-.2z" fill="#8eb4e6"/><path d="M660.5 65.1l-.5 .3 .2 2 .7 .4z" fill="#8eb4e6"/><path d="M669.8 33.4l-.5-.4-.7 2.7 .4-.2 .5-.9z" fill="#373ffe"/><path d="M668 32l-.5-.4-1.2 4.4 .7-.1z" fill="#373ffe"/><path d="M666 30.4l-.5-.4-1.6 6.2 .6 0z" fill="#373ffe"/><path d="M664.5 29.2l-.3-.2-.3-.1-1.8 7.3 .2 .2 .4 0z" fill="#373ffe"/><path d="M667.7 59.1l.4-.1-.3-1.4z" fill="#a4df2f"/><path d="M666 55.6l-.6-.2-.2 4.5 .6-.2z" fill="#a4df2f"/><path d="M680.2 80.8l-.2 0-.5 .3 2.2 2.6 .3-.8z" fill="#e334e8"/><path d="M678 82.2l-.7 .5 3.1 3.5 .4-.7z" fill="#e334e8"/><path d="M676 83.6l-.6 .4 3.9 4.6 .3-.8z" fill="#e334e8"/><path d="M674.2 84.8l-.6 .5 4.6 5.4 .4-.7z" fill="#e334e8"/><path d="M672 86.3l-.6 .5 5.2 6 .6-.1 .1-.2z" fill="#e334e8"/><path d="M670.3 87.6l-.7 .4 4.4 5 .9-.1z" fill="#e334e8"/><path d="M669.6 24.2l-.8-.4-.3 3.2 .8-.4z" fill="#6d92fd"/><path d="M667.5 23.2l-.5-.2-.4 .5-.4 4.6 .8-.4z" fill="#6d92fd"/><path d="M665.1 25.2l-.9 1-.3 2.7 .3 .1 .6-.3z" fill="#6d92fd"/><path d="M673.6 57.2l-.7-.6-1.9 3.3 .9 .3z" fill="#313cfa"/><path d="M671.7 55.5l-.6-.7-2.6 4.4 1 .3z" fill="#313cfa"/><path d="M670.3 54.1l-.6-.7-.1 .1-2 3.5 .3 1.3z" fill="#313cfa"/><path d="M667.1 43.3l-.1 1.1 2 1.4 1.2-.2z" fill="#59a2ee"/><path d="M672.5 15.7l-.4 .4 2.4 2.5-.6-1.4z" fill="#5aef53"/><path d="M670.5 17.5l-.4 .4 3.2 3.3 .4-.3z" fill="#5aef53"/><path d="M669 19.2l-.2 .5 2.6 2.7 .3 .3 .4-.4z" fill="#5aef53"/><path d="M674.3 55.5l.2-.9-2.1 1.5 .4 .4z" fill="#3929fe"/><path d="M674.4 53.3l-.2-.4-.2 0-2.9 1.9 .4 .4z" fill="#3929fe"/><path d="M672.5 52.5l-.8-.2-1.9 1.3 .4 .4z" fill="#3929fe"/><path d="M675.7 36.2l-.7-.5-1.7 1.8 .2 .8 .2 0z" fill="#4fff30"/><path d="M673 34.3l-.8-.5 0 .1 .3 .9z" fill="#4fff30"/><path d="M678.3 42.6l-.2-.6-2-.5-1.5 .3z" fill="#9bfa31"/><path d="M672.6 42.7l-.2 .9 3.6 .7 1.7-.6z" fill="#9bfa31"/><path d="M672.2 44.2l-.2 1 1.2 .2 1.6-.6z" fill="#9bfa31"/><path d="M677.5 62.3l-.2 .6 3.3 .9 .1-.6z" fill="#dcdf68"/><path d="M676.7 64.3l-.2 .6 3.8 1 .1-.6z" fill="#dcdf68"/><path d="M675.8 66.6l-.3 .6 3.5 .9 .9-.4z" fill="#dcdf68"/><path d="M680.2 52.7l.5-1.2-2.9 1.5 1 .5z" fill="#52f051"/><path d="M680.9 50.8l.4-1.2 0 0-4.3 2.3 .5 .7z" fill="#52f051"/><path d="M680.9 48.8l-.2-.2-4.2 1.9 .1 .6z" fill="#52f051"/><path d="M677.7 29.6l-.7-.7 1.1 4.8 .4-.7z" fill="#3b36ea"/><path d="M675.9 28.4l-.5 .2 1.3 5.3 .6 .3z" fill="#3b36ea"/><path d="M674.4 29l-.3 .8 .8 3.3 .6 .3z" fill="#3b36ea"/><path d="M678.6 14.2l0 1 1.5 .8 .1-.5-.1-.4z" fill="#4ca7ff"/><path d="M680.6 31l1.6-1.7 0-.1-.2-.4z" fill="#f6e868"/><path d="M680.4 28.3l-.7-.2-1.4 2.1 .5 .5z" fill="#f6e868"/><path d="M677.9 27.6l-.3-.1-.6 .2-.5 .7 .5 .5z" fill="#f6e868"/><path d="M685.5 93.3l-.7-.1-.4 1.1 .8-.3 .1-.1z" fill="#422ff6"/><path d="M683.7 93.1l-.7-.1-1 2.1 .9-.3z" fill="#422ff6"/><path d="M681.5 92.9l-.7-.1-1.6 3.4 .9-.4z" fill="#422ff6"/><path d="M679.7 92.7l-.7 0-.9 1.9 .4 .7z" fill="#422ff6"/><path d="M677.9 92.5l-.5 0-.2 .2 .3 .7z" fill="#422ff6"/><path d="M685.4 37.8l-.9 .6 1.8 .3 0-.8z" fill="#67eaf3"/><path d="M683.7 38.9l-.9 .7 3.5 .4 0-.8z" fill="#67eaf3"/><path d="M682.9 41l.4 .6 1-.5z" fill="#67eaf3"/></g>
</g>
<clipPath id="cc"><rect x="187.2" y="235.8" width="112.00" height="79.50"/></clipPath>
<g clip-path="url(#cc)" stroke="#2a2a2a" stroke-width="0.3" stroke-linejoin="round">
<path d="M183.2 303.7l0 2.7 5-.6-.9-3.9z" fill="#e85cc7"/>
<path d="M187.3 301.9l.1-.4-.6-1.2-3.6-1.1 0 4.5z" fill="#ed992e"/>
<path d="M184.7 250.3l2.4-3.9-.2-.2-3.7-.8 0 5.2z" fill="#f364b0"/>
<path d="M184.7 250.3l3.5 2 1.3-5.1-2.4-.8z" fill="#bea9fc"/>
<path d="M188 313.8l-.1-2.5-.3-.3-4.4-.4 0 7.2z" fill="#da44f3"/>
<path d="M184.2 273.6l2.8-2.8-1.7-3.7-2.1-.4 0 6.9z" fill="#ff4eb6"/>
<path d="M185.3 267.1l1.8-.9 .8-1.3-4.7-2 0 3.8z" fill="#9a54ff"/>
<path d="M184.7 261.2l2-3.3-.9-1.3-2.6-.8 0 5.9z" fill="#da44f8"/>
<path d="M186.2 294.1l3.3-3.7 .1-.7-1.4-1.7-5-.8 0 6.8z" fill="#2cfc36"/>
<path d="M183.2 294l0 5.2 3.6 1.1 1.3-4-1.9-2.2z" fill="#e03cda"/>
<path d="M183.9 281.9l4.3-3.6-.1-2-3.9-2.7-1 0 0 8.4z" fill="#e3ed6f"/>
<path d="M185.3 267.1l1.7 3.7 2.7-.7 .1-.1 0-.6-2.7-3.2z" fill="#e8e75a"/>
<path d="M188.3 252.7l-.1-.4-3.5-2-1.5 .3 0 3.8z" fill="#e5e465"/>
<path d="M188.3 252.7l.4 .4 .4 .2 .7 0 3.3-3 0-.1-1.2-2.6-1.2-.7-1.2 .3-1.3 5.1z" fill="#4df84b"/>
<path d="M186.9 246.2l.4-5.1-4.1-1.2 0 5.5z" fill="#f83a43"/>
<path d="M189.6 235.5l0-3.7-6.4 0 0 4.6z" fill="#da47df"/>
<path d="M188 313.8l1.2 1.3 2.4 0 .5-3.8-4.2 0z" fill="#7b4bf1"/>
<path d="M186.2 294.1l1.9 2.2 4.1 .8 1-.8 .4-1.7-4.1-4.2z" fill="#cf4bf7"/>
<path d="M187.6 311l1.3-4.7-.7-.5-5 .6 0 4.2z" fill="#3aff48"/>
<path d="M187.4 301.5l3.5-.4 1.2-.9 .1-3.1-4.1-.8-1.3 4z" fill="#7646e8"/>
<path d="M187.9 264.9l.2-.2-.5-2.3-.7-.7-2.2-.5-1.5 .5 0 1.2z" fill="#f4311e"/>
<path d="M187.3 301.9l.9 3.9 .7 .5 2.1-.2-.1-5-3.5 .4z" fill="#d62dd4"/>
<path d="M185.8 256.6l2.9-3.5-.4-.4-5.1 1.7 0 1.4z" fill="#db44e9"/>
<path d="M183.2 282l0 5.2 5 .8 .6-4-4.9-2.1z" fill="#38a3e2"/>
<path d="M187.1 246.4l2.4 .8 1.2-.3 .1-.7-1.2-4.7-1.1-.7-1.2 .3-.4 5.1z" fill="#2fa1f6"/>
<path d="M188.8 284l.3-.2 1.3-3.6-2.2-1.9-4.3 3.6z" fill="#3b7dfa"/>
<path d="M186.7 257.9l2.9 .6 0 0-.5-5.2-.4-.2-2.9 3.5z" fill="#dc50d4"/>
<path d="M184.7 261.2l2.2 .5 2.7-3.2-2.9-.6z" fill="#2738fa"/>
<path d="M184.2 273.6l3.9 2.7 .2-.1 2.5-2.9-1.1-3.2-2.7 .7z" fill="#43a0ff"/>
<path d="M226.4 233.5l3.8 1.2 1.1-2.9-5.6 0z" fill="#dc3be8"/>
<path d="M187.3 241.1l1.2-.3 1.8-4.4-.7-.9-6.4 .9 0 3.5z" fill="#993eff"/>
<path d="M188.5 240.8l1.1 .7 3.4 0-1.3-4.8-1.4-.3z" fill="#dd4bdd"/>
<path d="M187.9 264.9l-.8 1.3 2.7 3.2 1.6-4-.5-.5-2.8-.2z" fill="#783cf5"/>
<path d="M187.6 262.4l3.9-1.5-.8-2-1.1-.4 0 0-2.7 3.2z" fill="#c4bbe3"/>
<path d="M188.8 318.5l.4-3.4-1.2-1.3-4.8 4 0 1.5 5.2 0z" fill="#5af4f6"/>
<path d="M187.6 311l.3 .3 4.2 0 .1-.1 .4-.6-1.5-4.5-.1 0-2.1 .2z" fill="#e362d0"/>
<path d="M188.2 288l1.4 1.7 .7-.3 2-2.6-.2-2.3-3-.7-.3 .2z" fill="#3e30dd"/>
<path d="M188.2 278.3l2.2 1.9 1.2-.1 2.6-2.6-.2-.6-5.7-.7-.2 .1z" fill="#49dbf0"/>
<path d="M188.1 264.7l2.8 .2 .7-3.9-.1-.1-3.9 1.5z" fill="#df47f0"/>
<path d="M189.6 258.5l1.1 .4 2.1-1.9-1.3-2.8-1.7-.9-.7 0z" fill="#c5aefa"/>
<path d="M189.8 270l4.1-.4 .5-2.6-.5-1-2.5-.6-1.6 4z" fill="#da50d5"/>
<path d="M189.5 290.4l4.1 4.2 1.3-1 .5-3.1-.5-.7-4.6-.4-.7 .3z" fill="#e8441f"/>
<path d="M190.9 301.1l.1 5 .1 0 .8-.2 2.4-4-2.2-1.7z" fill="#f04be0"/>
<path d="M190.4 280.2l-1.3 3.6 3 .7 .3-.2 .7-2.4-1.5-1.8z" fill="#36e52f"/>
<path d="M193 316.4l.7 .3 .7-.6 .7-2.6-2.9-2.3-.1 .1-.5 3.8z" fill="#381cfb"/>
<path d="M191.6 315.1l-2.4 0-.4 3.4 4.2-2.1z" fill="#43e64f"/>
<path d="M192.1 300.2l2.2 1.7 .8 .2 2.2-1 .4-.5-1.2-2.7-3.3-1.6-1 .8z" fill="#55e6ff"/>
<path d="M193.7 316.7l-.7-.3-4.2 2.1-.4 .8 5.4 0z" fill="#fd3f42"/>
<path d="M190.7 246.9l1.2 .7 3.2-1.2 .1-3.5-.9-.9-.2 0-3.3 4.2z" fill="#1837ef"/>
<path d="M191.6 261l2.7 .3 1.7-2.4-2.4-2-.8 .1-2.1 1.9 .8 2z" fill="#f22ee0"/>
<path d="M189.8 253.3l1.7 .9 2-.6 .4-1.9-.8-1.4z" fill="#ff6baf"/>
<path d="M188.3 276.2l5.7 .7 .2-1.4-1.4-1.7-2-.5z" fill="#b6a2ff"/>
<path d="M189.7 270.1l1.1 3.2 2 .5 1.8-3.2-.7-1-4.1 .4z" fill="#ce4ce8"/>
<path d="M198.3 316.6l-3.9-.5-.7 .6 .1 2.6 5.8 0z" fill="#50fc44"/>
<path d="M194.1 242l-1.1-.5-3.4 0 1.2 4.7z" fill="#4ad7fe"/>
<path d="M189.6 235.5l.7 .9 1.4 .3 1-.1 3-2 .5-2.8-6.6 0z" fill="#eb351e"/>
<path d="M192.8 257l.8-.1 .4-.5 .2-2.2-.7-.6-2 .6z" fill="#b4a8f7"/>
<path d="M191.4 265.4l2.5 .6 1.9-2.5-1.5-2.2-2.7-.3-.7 3.9z" fill="#ef3ed9"/>
<path d="M192.4 284.3l2.3 .4 1.6-2.7-3.2-.1z" fill="#1f1cff"/>
<path d="M191.1 306.1l1.5 4.5 2.7-1.4-1.7-2.9-1.7-.4z" fill="#e933f8"/>
<path d="M192.1 284.5l.2 2.3 3 .2 .3-.3-.9-2-2.3-.4z" fill="#f45ec7"/>
<path d="M193 241.5l1.1 .5 .2 0 1.4-2.2-3-3.2-1 .1z" fill="#3117e4"/>
<path d="M193.5 253.6l.7 .6 2.3-.5-.1-1.1-2.5-.9z" fill="#d341dc"/>
<path d="M194.6 270.6l1.4 .4 3.2-2.8-.1-.2-.2-.3-4.5-.7-.5 2.6z" fill="#ff4ece"/>
<path d="M191.6 280.1l1.5 1.8 3.2 .1 .2-.1 .9-1.3-.3-1.3-2.9-1.8z" fill="#dd994d"/>
<path d="M190.3 289.4l4.6 .4 .4-2.8-3-.2z" fill="#2e3cfb"/>
<path d="M192.6 310.6l-.4 .6 2.9 2.3 2.4-1.2-1-3-1.2-.1z" fill="#a9f137"/>
<path d="M191.9 305.9l1.7 .4 2.1-1.1-.6-3.1-.8-.2z" fill="#3f8ef5"/>
<path d="M195.7 239.8l.6-.3 .9-2.9-1.5-2-3 2z" fill="#e037de"/>
<path d="M193.1 250.2l5.1-1.1-.8-1.6-2.3-1.1-3.2 1.2z" fill="#e960ba"/>
<path d="M195.6 286.7l1.9-.3 .4-.7-1.4-3.8-.2 .1-1.6 2.7z" fill="#e939e8"/>
<path d="M194.2 277.5l2.9 1.8 2.2-2.9-1.6-2.7-.3-.1-3.2 1.9-.2 1.4z" fill="#f2433d"/>
<path d="M193.2 296.3l3.3 1.6 2.7-2.4-.4-1.5-3.9-.4-1.3 1z" fill="#3c25f0"/>
<path d="M194.2 275.5l3.2-1.9-1.4-2.6-1.4-.4-1.8 3.2z" fill="#ff57b6"/>
<path d="M194 256.4l3.4-1.4-.9-1.3-2.3 .5z" fill="#253aff"/>
<path d="M195.3 287l-.4 2.8 .5 .7 2-.4 .6-3-.5-.7-1.9 .3z" fill="#ed42f7"/>
<path d="M196 258.9l.8-.1 1-3.5-.4-.3-3.4 1.4-.4 .5z" fill="#9fff40"/>
<path d="M193.1 250.3l.8 1.4 2.5 .9 2-2.9 0-.5-.2-.1-5.1 1.1z" fill="#dee973"/>
<path d="M195.2 242.9l2.1 .3 2.1-2.5-.1-.2-3-1-.6 .3-1.4 2.2z" fill="#ec9140"/>
<path d="M195.1 313.5l-.7 2.6 3.9 .5 .9-3.5-1.7-.8z" fill="#e048dc"/>
<path d="M195.3 309.2l1.2 .1 .3-.4-.3-3.3-.8-.4-2.1 1.1z" fill="#e43e27"/>
<path d="M196.5 253.7l.9 1.3 .4 .3 1.8-.2 1.4-1.3-2.6-4.1-2 2.9z" fill="#fb953a"/>
<path d="M195.8 263.5l2 0 1.7-1.4-.5-2.1-2.2-1.2-.8 .1-1.7 2.4z" fill="#39ee30"/>
<path d="M197.2 236.6l3.2 .4 .3-.2-.3-5-4.2 0-.5 2.8z" fill="#322cfa"/>
<path d="M195.1 246.4l2.3 1.1 1-2.8-1.1-1.5-2.1-.3z" fill="#8842f7"/>
<path d="M195.7 305.2l.8 .4 2.7-.8-1.9-3.7-2.2 1z" fill="#162cff"/>
<path d="M194.4 267l4.5 .7-1.1-4.2-2 0-1.9 2.5z" fill="#d037fc"/>
<path d="M198.4 249.2l2.6-.9 .9-1.5-1.7-2.4-1.8 .3-1 2.8 .8 1.6z" fill="#50e9f1"/>
<path d="M197.4 273.6l.3 .1 3.6-2.4-2.1-3.1-3.2 2.8z" fill="#ff3330"/>
<path d="M211.2 316.6l-4.3 0-.4 2.7 6.7 0z" fill="#2617f7"/>
<path d="M199.6 319.3l1.7 0 2.2-4.8-1.8-2.1-2.5 .7-.9 3.5z" fill="#3c16e6"/>
<path d="M197.9 285.7l3.1-1.4 .1-2.5-3.7-1.2-.9 1.3z" fill="#51e64f"/>
<path d="M196.5 309.3l1 3 1.7 .8 2.5-.7 .3-.8-2.7-3.5-2.5 .8z" fill="#d140ea"/>
<path d="M198.4 244.7l1.8-.3 .8-1.8-.1-.9-1.5-1-2.1 2.5z" fill="#90ff34"/>
<path d="M198.8 294l1.2-1.9-.5-.8-2.1-1.2-2 .4-.5 3.1z" fill="#f6a750"/>
<path d="M199.1 268l3.8-2.5-1.8-2.9-1.6-.5-1.7 1.4 1.1 4.2z" fill="#cf44de"/>
<path d="M196.5 297.9l1.2 2.7 .4-.1 2.4-3.9-1.3-1.1z" fill="#de2c21"/>
<path d="M196.8 308.9l2.5-.8 .8-1.7-.2-1.3-.7-.3-2.7 .8z" fill="#49e839"/>
<path d="M197.3 301.1l1.9 3.7 .7 .3 1.6-1.1 .5-3-.1-.1-3.8-.4-.4 .1z" fill="#1e2aff"/>
<path d="M197.4 280.6l3.7 1.2 .8-.5 .8-1.8-1.4-3.1-2 0-2.2 2.9z" fill="#7840f1"/>
<path d="M198 287.1l2.5 1.1 .4-.2 .2-3.5-.1-.2-3.1 1.4-.4 .7z" fill="#e8b12e"/>
<path d="M199.4 240.7l1.5 1 2.6-1.3 .8-2.8-3.6-.8-.3 .2-1.1 3.5z" fill="#e46fd0"/>
<path d="M199.3 240.5l1.1-3.5-3.2-.4-.9 2.9z" fill="#1e30f6"/>
<path d="M197.4 290.1l2.1 1.2 1-3.1-2.5-1.1z" fill="#c5b8e1"/>
<path d="M196.8 258.8l2.2 1.2 1.6-1.7-1-3.2-1.8 .2z" fill="#43fe34"/>
<path d="M199.2 295.5l1.3 1.1 1.2 .3 2.2-1.1-1.2-3.7-2.7 0-1.2 1.9z" fill="#3921f0"/>
<path d="M200.7 236.8l3.6 .8 1.5-.8-1.1-5-4.3 0z" fill="#32f74f"/>
<path d="M201 253.8l.1 0 3.1-2.4 0-.1-3.2-3-2.6 .9 0 .5z" fill="#3537f6"/>
<path d="M199.2 268.2l2.1 3.1 .3 .1 2.6-2.3-.3-3.4-1-.2-3.8 2.5z" fill="#3feeea"/>
<path d="M202 311.6l1.5-1.6-.5-2.3-2.9-1.3-.8 1.7z" fill="#df53e9"/>
<path d="M200.2 244.4l1.7 2.4 1.6-.8 .3-.7 0-.8-2.8-1.9z" fill="#fe2b3a"/>
<path d="M200.1 306.4l2.9 1.3 .5-.8-.5-2.3-1.5-.6-1.6 1.1z" fill="#ff74ba"/>
<path d="M201.1 284.5l2.8 1.3 2.5-2.3-.1-.1-4.4-2.1-.8 .5-.1 2.5z" fill="#d943ec"/>
<path d="M198.1 300.5l3.8 .4-.2-4-1.2-.3z" fill="#3d3edd"/>
<path d="M199.5 262.1l1.6 .5 2.5-2.2-.5-2-.1-.1-2.4 0-1.6 1.7z" fill="#3724ec"/>
<path d="M199.3 276.4l2 0 .5-.5 .2-4-.4-.5-.3-.1-3.6 2.4z" fill="#8938ec"/>
<path d="M199.6 255.1l1 3.2 2.4 0 0-2.5-1.9-2-.1 0z" fill="#e732d6"/>
<path d="M200.5 288.2l-1 3.1 .5 .8 2.7 0 1.2-1.2-.3-2.3-2.7-.6z" fill="#2a2fff"/>
<path d="M206.9 316.6l-.8-1.6-2.6-.5-2.2 4.8 5.2 0z" fill="#61e5ff"/>
<path d="M203 307.7l.5 2.3 2.8-.3 .7-3.5-.2-.3-.1 0-3.2 1z" fill="#3d2ddf"/>
<path d="M201.7 312.4l1.8 2.1 2.6 .5 2.5-3.2-2.3-2.1-2.8 .3-1.5 1.6z" fill="#392fe8"/>
<path d="M200.9 288l2.7 .6 .5-.8-.2-2-2.8-1.3z" fill="#c5a5dd"/>
<path d="M200.9 241.7l.1 .9 2.8 1.9 1.2-2-1.5-2.1z" fill="#ff67c9"/>
<path d="M203.9 295.8l1.3 .5 1.5-1.2 .3-.7 0-2.5-.5-.5-2.6-.5-1.2 1.2z" fill="#fd2e1d"/>
<path d="M202 301l2.4-.2 1.3-3-.5-1.5-1.3-.5-2.2 1.1 .2 4z" fill="#f4b046"/>
<path d="M201.8 275.9l4.1-.5-2.9-3.1-1-.4z" fill="#d54cdf"/>
<path d="M202.9 265.5l1 .2 2.5-1 .1-3.1-2.9-1.2-2.5 2.2z" fill="#ed4323"/>
<path d="M201 248.3l3.2 3 1.5-1.5 .1-1.8-2.3-2-1.6 .8z" fill="#c29cfb"/>
<path d="M203 258.3l.1 .1 3.5-1.2 .2-.3-1.3-1.7-2.5 .6z" fill="#a5e445"/>
<path d="M201.3 276.4l1.4 3.1 3.1-.9 .1-3.1 0-.1-4.1 .5z" fill="#8147ea"/>
<path d="M203.5 306.9l3.2-1-2.1-1.7-1.6 .4z" fill="#d64cd4"/>
<path d="M205.8 236.8l.4 .1 5.8-3.9 .1-1.2-7.4 0z" fill="#34e03c"/>
<path d="M203.8 244.5l0 .8 4.5-.3-.7-2.4-2.6-.1z" fill="#7c4bfa"/>
<path d="M203.6 288.6l.3 2.3 2.6 .5 1.1-3.2-.3-.5-3.2 .1z" fill="#31f63b"/>
<path d="M205 242.5l2.6 .1 1.6-2.7-3-3-.4-.1-1.5 .8-.8 2.8z" fill="#dd9f4f"/>
<path d="M204.4 300.8l-2.4 .2-.5 3 1.5 .6 1.6-.4 .5-2.7z" fill="#dd6dc6"/>
<path d="M205.1 301.5l2.6 .6 .2-.1 .9-2.7-3.1-1.5-1.3 3z" fill="#d649d6"/>
<path d="M202 271.9l1 .4 2.7-.4 .2-2.1-1.7-.7-2.6 2.3z" fill="#5ceef0"/>
<path d="M201.1 253.8l1.9 2 2.5-.6 .2-1.9-1.5-1.9z" fill="#378aed"/>
<path d="M205.9 275.5l1.6-1.1 0-.2-1.8-2.3-2.7 .4 2.9 3.1z" fill="#9bff45"/>
<path d="M203.5 246l2.3 2 2.6-1.9 .1-.7-.2-.4-4.5 .3z" fill="#fda44f"/>
<path d="M203.6 260.4l2.9 1.2 .1-.2 0-4.2-3.5 1.2z" fill="#f92c3c"/>
<path d="M201.9 281.3l4.4 2.1 1.5-3.1-2-1.7-3.1 .9z" fill="#8d41f7"/>
<path d="M204.2 269.1l1.7 .7 2.1-.5 .2-.4-.1-2.7-.5-.8-1.2-.7-2.5 1z" fill="#9447ff"/>
<path d="M204.6 304.2l2.1 1.7 .1 0 .9-3.8-2.6-.6z" fill="#fb282a"/>
<path d="M204.2 251.4l1.5 1.9 4.2-.3 .1-.4-1.1-2.2-3.2-.6-1.5 1.5z" fill="#163cdc"/>
<path d="M204.1 287.8l3.2-.1 .4-2.9-1.3-1.3-2.5 2.3z" fill="#203ae7"/>
<path d="M206.9 316.6l4.3 0-.1-4.1-1.6-.8-.9 .1-2.5 3.2z" fill="#9b44f5"/>
<path d="M206.4 283.5l1.3 1.3 2.9 .1 1-2-.2-1-2.5-1.9-1.1 .3-1.5 3.1z" fill="#1835ff"/>
<path d="M207.5 274.2l1.2-2.5-.7-2.4-2.1 .5-.2 2.1z" fill="#e7b054"/>
<path d="M205.9 275.5l-.1 3.1 2 1.7 1.1-.3 1.9-3.2-.6-1.1-2.7-1.3z" fill="#fc57d4"/>
<path d="M208.6 311.8l.9-.1 1.1-4.6-.8-.8-2.8-.1-.7 3.5z" fill="#f3211e"/>
<path d="M206.5 291.4l.5 .5 .1-.1 2.1-1 .7-2.2-2.3-.4z" fill="#8d42e9"/>
<path d="M205.5 255.2l1.3 1.7 1.5-.2 1.7-2.3-.1-1.4-4.2 .3z" fill="#ecff70"/>
<path d="M209.2 239.9l1-.1 .4-.2 2-5.2-.6-1.4-5.8 3.9z" fill="#ff60c4"/>
<path d="M206.5 261.6l-.1 3.1 1.2 .7 3.8-2.5 0-2.1-.6-.6-.1 0-4.1 1.2z" fill="#b0a3ff"/>
<path d="M208.5 245.4l2.7-.5 .9-1.5-1.9-3.6-1 .1-1.6 2.7 .7 2.4z" fill="#e0303c"/>
<path d="M206.8 305.9l.2 .3 2.8 .1 .8-3-2.7-1.3-.2 .1z" fill="#fe5eb4"/>
<path d="M205.7 297.8l3.1 1.5 2.2-1.1-.5-1.2-3.8-1.9-1.5 1.2z" fill="#4edd3f"/>
<path d="M206.6 257.2l0 4.2 4.1-1.2-2.4-3.5-1.5 .2z" fill="#9e38e7"/>
<path d="M205.7 249.8l3.2 .6 .7-1.9-1.2-2.4-2.6 1.9z" fill="#e0e66f"/>
<path d="M209.9 253l.1 1.4 2.9 2 1.1-.2 .8-2-.2-1.9-2.5-.6-2.1 .9z" fill="#e131ef"/>
<path d="M207.5 274.4l2.7 1.3 2.6-3.8-.2-.3-3.9 .1-1.2 2.5z" fill="#ec2fde"/>
<path d="M208.3 256.7l2.4 3.5 .1 0 2.1-3.8-2.9-2z" fill="#1935ff"/>
<path d="M234.8 233.9l3.8-1.1 .3-1-5.2 0z" fill="#aaff3f"/>
<path d="M209.9 288.6l.4-.1 .6-2.9-.3-.7-2.9-.1-.4 2.9 .3 .5z" fill="#ff63d1"/>
<path d="M208 269.3l.7 2.4 3.9-.1-.1-2.2-4.3-.5z" fill="#e930ec"/>
<path d="M207.9 302l2.7 1.3 1.6-.8-1-4.2-.2-.1-2.2 1.1z" fill="#eca74b"/>
<path d="M207 294.4l3.1-.5-.1-1.2-2.9-.9-.1 .1z" fill="#393bde"/>
<path d="M210.6 307.1l2.8 0 .8-.4 .5-3.4-2.5-.8-1.6 .8-.8 3z" fill="#ef371e"/>
<path d="M206.7 295.1l3.8 1.9 .3-2.5-.7-.6-3.1 .5z" fill="#fd443b"/>
<path d="M207.1 291.8l2.9 .9 .5-.9-1.3-1z" fill="#2221f4"/>
<path d="M208.9 250.4l1.1 2.2 2.1-.9 .4-3.5-2.9 .3z" fill="#d440e8"/>
<path d="M222.8 317.7l-1.2-1.3-5.4 .4-1.2 2.5 8 0z" fill="#f32b26"/>
<path d="M213.2 319.3l1.8 0 1.2-2.5 0-2.4-1.9-2.1-1.1-.3-2.1 .5 .1 4.1z" fill="#ff65c6"/>
<path d="M209.5 311.7l1.6 .8 2.1-.5 .2-4.9-2.8 0z" fill="#4ae0e0"/>
<path d="M211 298.2l.2 .1 1.9-.5 1.6-3-1.7-1.3-2.2 1-.3 2.5z" fill="#fd61c2"/>
<path d="M208.2 268.9l4.3 .5 .3-.7-1-2.1-3.7-.4z" fill="#43e74c"/>
<path d="M209.2 290.8l1.3 1 1-.4-.6-2.5-.6-.4-.4 .1z" fill="#7a4bfa"/>
<path d="M210 292.7l.1 1.2 .7 .6 2.2-1-.3-1.6-1.2-.5-1 .4z" fill="#a3f63e"/>
<path d="M212.6 234.4l2.7 1.9 1.9-.2 .9-.6-.2-3.7-5.8 0-.1 1.2z" fill="#251ce6"/>
<path d="M208.4 246.1l1.2 2.4 2.9-.3 .3-.3 .1-.7-1.7-2.3-2.7 .5z" fill="#e53236"/>
<path d="M208.1 266.2l3.7 .4 .8-2.2-1.2-1.5-3.8 2.5z" fill="#4df437"/>
<path d="M208.9 280l2.5 1.9 2.5-2-2.7-3-.4-.1z" fill="#d84bee"/>
<path d="M210.9 285.6l3.7 1.3 .6-.4 .4-1.8-.6-.9-3.4-.9-1 2z" fill="#f6a23a"/>
<path d="M210.2 275.7l.6 1.1 .4 .1 3.2-1 .9-2.7-2.5-1.3z" fill="#ceaddd"/>
<path d="M212.5 269.4l.1 2.2 .2 .3 2.5 1.3 .3-.1 2.2-1.9 .1-1.2-.5-.9-2.1-1.2-2.5 .8z" fill="#eb54d6"/>
<path d="M210.3 288.5l.6 .4 3.1-.3 .6-1.7-3.7-1.3z" fill="#e851c0"/>
<path d="M211.4 260.8l3-.2 .3-.2 .7-1.1 0-.7-.7-1.8-.7-.6-1.1 .2-2.1 3.8z" fill="#934bf2"/>
<path d="M212.9 247.2l1.8-1.6-.7-2.3-1.9 .1-.9 1.5z" fill="#ff3523"/>
<path d="M212.1 243.4l1.9-.1 .1-.1-.1-3.5-3.4-.1-.4 .2z" fill="#eb5eba"/>
<path d="M211.6 282.9l3.4 .9 .2-4-1.3 .1-2.5 2z" fill="#f03136"/>
<path d="M211.2 298.3l1 4.2 2.5 .8 .6-.4 .6-3.3-2.8-1.8z" fill="#e95fc5"/>
<path d="M211.5 291.4l1.2 .5 1.7-1.7-.4-1.6-3.1 .3z" fill="#51dde6"/>
<path d="M212.8 268.7l2.5-.8 .1-1.9-1-1.6-1.8 0-.8 2.2z" fill="#efac52"/>
<path d="M213.4 307.1l-.2 4.9 1.1 .3 2.6-3-.2-1.1-2.5-1.5z" fill="#3c19e8"/>
<path d="M214.4 290.2l2.3 1.1 .2-.1 .9-3.2-2.6-1.5-.6 .4-.6 1.7z" fill="#f65fb3"/>
<path d="M213 293.5l1.7 1.3 .7-.2 1.3-3.3-2.3-1.1-1.7 1.7z" fill="#3624f5"/>
<path d="M212.1 251.7l2.5 .6 .9-.7-.5-2.8-2.2-.9-.3 .3z" fill="#e731ed"/>
<path d="M211.4 262.9l1.2 1.5 1.8 0 .7-.9-.7-2.9-3 .2z" fill="#8a4de0"/>
<path d="M213.9 279.9l1.3-.1 .5-.2 .2-1.4-1.5-2.3-3.2 1z" fill="#2624dd"/>
<path d="M215.3 236.3l-2.7-1.9-2 5.2 3.4 .1 .7-.4z" fill="#48e2fe"/>
<path d="M214.7 239.3l2.1 1.2 1.3-.5-.9-3.9-1.9 .2z" fill="#b1b9e8"/>
<path d="M216.2 314.4l2.8-1.6-.1-2.1-2-1.4-2.6 3z" fill="#8652ee"/>
<path d="M212.9 247.2l-.1 .7 2.2 .9 2.7-1.8-.2-.7-2.8-.7z" fill="#da45e7"/>
<path d="M214 243.3l.7 2.3 2.8 .7 .6-1.8-1.8-1.7-2.2 .4z" fill="#ff5ec2"/>
<path d="M214.2 306.7l2.5 1.5 2.1-1.6-.6-2.9-2.9-.8-.6 .4z" fill="#3bf653"/>
<path d="M214.4 275.9l1.5 2.3 2.5-1.9-2.8-3.2-.3 .1z" fill="#e0963d"/>
<path d="M214 256.2l.7 .6 4.1-.7 .1-.6-.6-.7-3.5-.6z" fill="#3235dd"/>
<path d="M215.2 279.8l-.2 4 .6 .9 1.1-.5 1.8-2.8-.5-.7-2.3-1.1z" fill="#52eef5"/>
<path d="M214.4 260.6l.7 2.9 2.3-.5 0-.8-2.7-1.8z" fill="#f335e9"/>
<path d="M214.4 264.4l1 1.6 3-1.2 0-.4-1-1.4-2.3 .5z" fill="#47a4fd"/>
<path d="M213.1 297.8l2.8 1.8 2.1-1.2 .1-1.1-.7-1.5-2-1.2-.7 .2z" fill="#a6ed3f"/>
<path d="M214.1 243.2l2.2-.4 .5-2.3-2.1-1.2-.7 .4z" fill="#3318df"/>
<path d="M214.8 254.2l3.5 .6-.3-2.7-.6-.6-1.9 .1-.9 .7z" fill="#e25ccf"/>
<path d="M217.4 295.8l2.4-2.6-.3-1.2-2.6-.8-.2 .1-1.3 3.3z" fill="#ff423d"/>
<path d="M214.7 260.4l2.7 1.8 .7-.9-.2-1.3-2.5-.7z" fill="#41e452"/>
<path d="M215.3 267.9l2.1 1.2 1.5-3.5-.5-.8-3 1.2z" fill="#f2282d"/>
<path d="M215.5 251.6l1.9-.1 1.3-2.1-.1-1.5-.9-.9-2.7 1.8z" fill="#3538f1"/>
<path d="M218.1 235.5l0 0 2.5-.4 1.4-3.3-4.1 0z" fill="#9d48fc"/>
<path d="M217.4 263l1 1.4 3-2.4-.4-.4-2.9-.3-.7 .9z" fill="#2a19df"/>
<path d="M215.2 286.5l2.6 1.5 1.2-.3 1.1-.9 .1 0 0-1.2-3.5-1.4-1.1 .5z" fill="#f053b5"/>
<path d="M215.7 279.6l2.3 1.1 2.2-2.9-1.6-1.5-.2 0-2.5 1.9z" fill="#41ff3c"/>
<path d="M214.7 256.8l.7 1.8 3.8-1.3-.4-1.2z" fill="#44e42f"/>
<path d="M217.7 247l.9 .9 3.3-.6 1.2-1.9-3-2-2 1.1-.6 1.8z" fill="#f7f567"/>
<path d="M216.3 242.8l1.8 1.7 2-1.1 .2-2.4-.9-.7-1.3-.3-1.3 .5z" fill="#ff66c7"/>
<path d="M215.9 299.6l-.6 3.3 2.9 .8 2-1.2 .6-1.8-2.8-2.3z" fill="#9130ef"/>
<path d="M215.6 273.1l2.8 3.2 .2 0 2.1-3-2.9-2.1z" fill="#7f36ea"/>
<path d="M217.9 260l1.7-2.1-.4-.6-3.8 1.3 0 .7z" fill="#9634ec"/>
<path d="M218.1 240l1.3 .3 .5-2.5-1.8-2.3 0 0-.9 .6z" fill="#f664b4"/>
<path d="M219.6 257.9l.9 .4 1.4-.4 .9-3.5-.6-.9-3.3 2-.1 .6 .4 1.2z" fill="#ecff65"/>
<path d="M216.2 316.8l5.4-.4-.6-2.9-2-.7-2.8 1.6z" fill="#4ae339"/>
<path d="M216.9 309.3l2 1.4 2.3-1.6-.1-1.7-2.3-.8-2.1 1.6z" fill="#9852ee"/>
<path d="M217.9 270l1.2-.4 2.1-2.8-.4-.7-1.9-.5-1.5 3.5z" fill="#d637e6"/>
<path d="M218.3 254.8l.6 .7 3.3-2 .1-.9-4.3-.5z" fill="#e4a73c"/>
<path d="M217.8 288l-.9 3.2 2.6 .8 .7-.8-1.2-3.5z" fill="#f6283d"/>
<path d="M218.5 281.4l.6 .3 2.5-.3 1.4-1.7 0-.1-1.1-1.6-1.7-.2-2.2 2.9z" fill="#eff455"/>
<path d="M218 298.4l2.8 2.3 1.5-.6 1-3.2-1-1.1-4.2 1.5z" fill="#e0942c"/>
<path d="M218.1 297.3l4.2-1.5-.2-1-2.3-1.6-2.4 2.6z" fill="#e99f3d"/>
<path d="M218.1 261.3l2.9 .3-.5-3.3-.9-.4-1.7 2.1z" fill="#ec2cfc"/>
<path d="M220.2 285.6l.2-.2-1.3-3.7-.6-.3-1.8 2.8z" fill="#9e42fe"/>
<path d="M218.4 264.8l.5 .8 1.9 .5 1.9-3-.1-.3-.4-.5-.8-.3-3 2.4z" fill="#e09d53"/>
<path d="M219.4 240.3l.9 .7 1.9-.7 1-3.2-.2-.1-3.1 .8z" fill="#2023ef"/>
<path d="M217.8 271.2l2.9 2.1 .3 0 2.2-1.5-.8-1.9-3.3-.3-1.2 .4z" fill="#f8e267"/>
<path d="M219.5 292l.3 1.2 2.3 1.6 2-2.6-.8-1.8-1 0-2.1 .8z" fill="#213cdf"/>
<path d="M219 287.7l1.2 3.5 2.1-.8-2.2-3.6z" fill="#1a31dd"/>
<path d="M221.1 307.4l1.9-1.7-2.8-3.2-2 1.2 .6 2.9z" fill="#ee52d5"/>
<path d="M218 252.1l4.3 .5 .3-.7 0-.1-3.9-2.4-1.3 2.1z" fill="#171fe0"/>
<path d="M220.2 277.8l1.7 .2 .6-1.7-1.5-3-.3 0-2.1 3z" fill="#2e3eeb"/>
<path d="M219 312.8l2 .7 1.7-1.5 .4-1.1-1.9-1.8-2.3 1.6z" fill="#df51f1"/>
<path d="M220.2 285.6l0 1.2 4.7 1.1 0 0-.2-3.1-2.5-.5-1.8 1.1z" fill="#3830e7"/>
<path d="M222.8 254.4l1.4 .8 2 .3 .1-.1 1.2-2.8-4.9-.7-.3 .7-.1 .9z" fill="#973ce0"/>
<path d="M225.2 315.5l.2-.9-2.7-2.6-1.7 1.5 .6 2.9 1.2 1.3z" fill="#f12fdf"/>
<path d="M229.2 317.3l-4-1.8-2.4 2.2 .2 1.6 7.8 0z" fill="#99fd3b"/>
<path d="M221.4 262l.8 .3 1.7-3.7-.1 0-1.9-.7-1.4 .4 .5 3.3z" fill="#9845ef"/>
<path d="M218.7 249.4l3.9 2.4 .3-1.1-1-3.4-3.3 .6z" fill="#e24cc8"/>
<path d="M219.9 237.8l3.1-.8-2.4-1.9-2.5 .4z" fill="#d848e7"/>
<path d="M220.4 285.4l1.8-1.1-.6-2.9-2.5 .3z" fill="#fd2438"/>
<path d="M220.8 300.7l-.6 1.8 2.8 3.2 1.2-.1 1.6-3.4-3.5-2.1z" fill="#31e03b"/>
<path d="M223 237l.2 .1 .3-.2-.5-5.1-1 0-1.4 3.3z" fill="#d44fd6"/>
<path d="M220.1 286.8l2.2 3.6 1 0 1.6-2.5-4.7-1.1z" fill="#e22644"/>
<path d="M222.3 295.8l1 1.1 2.1-.1 .7-3.2-.5-.9-1.5-.5-2 2.6z" fill="#4288f5"/>
<path d="M223.2 271.8l.4 0 2.7-2.9-2.5-1.6-1 .4-.4 2.2z" fill="#ef71c5"/>
<path d="M222.2 284.3l2.5 .5 .8-1 .1-1-.5-1.3-2.1-1.8-1.4 1.7z" fill="#aae741"/>
<path d="M219.1 269.6l3.3 .3 .4-2.2-1.6-.9z" fill="#4694f2"/>
<path d="M221.2 309.1l1.9 1.8 1.9-.7 .1-.1 .7-2.8-1.6-1.7-1.2 .1-1.9 1.7z" fill="#f657be"/>
<path d="M221.2 266.8l1.6 .9 1-.4 1-2.5-2.1-1.7-1.9 3z" fill="#e054bb"/>
<path d="M220.1 243.4l3 2 .3-.1 2.4-2.2-.4-.9-3.2-1.9-1.9 .7z" fill="#3537e3"/>
<path d="M221.9 257.9l1.9 .7 .4-3.4-1.4-.8z" fill="#f46fb6"/>
<path d="M224.1 292.2l1.5 .5 1.8-1.6 .8-2.3-3.3-.9 0 0-1.6 2.5z" fill="#3016e0"/>
<path d="M223.5 236.9l2 .1 .9-3.5-.7-1.7-2.7 0z" fill="#fe71cd"/>
<path d="M222.6 262.8l3.6-2.1-.2-1.1-1.1-.8-1-.2-1.7 3.7z" fill="#64daee"/>
<path d="M221 273.3l1.5 3 2.6-1.1-.7-2.6-.8-.8-.4 0z" fill="#ccb9e1"/>
<path d="M221.9 247.3l1 3.4 3.1-2-2.6-3.4-.3 .1z" fill="#de4fd0"/>
<path d="M222.6 251.9l4.9 .7 1.1-.8-.1-2.6-.1-.1-2.4-.4-3.1 2-.3 1.1z" fill="#5ff2ef"/>
<path d="M222.2 240.3l3.2 1.9 1.1-4.4-1-.8-2-.1-.3 .2z" fill="#832fe5"/>
<path d="M221.9 278l1.1 1.6 3.9-2.5 .1-.8-1.9-1.1-2.6 1.1z" fill="#1f23e1"/>
<path d="M222.7 263.1l2.1 1.7 2.9-.3-.2-2.5-1.3-1.3-3.6 2.1z" fill="#5ed2ea"/>
<path d="M223.1 310.9l-.4 1.1 2.7 2.6 .8-.9-1.2-3.5z" fill="#4bed52"/>
<path d="M223.9 258.6l1 .2 1.3-3.3-2-.3-.4 3.4z" fill="#f055bb"/>
<path d="M223 279.7l2.1 1.8 2.9-2.4-1.1-2-3.9 2.5z" fill="#cc4ff5"/>
<path d="M223.4 245.3l2.6 3.4 2.4 .4 .4-3.8-1.5-1.8-1.5-.4z" fill="#f670c4"/>
<path d="M226 259.6l2.8-2.1-2.5-2.1-.1 .1-1.3 3.3z" fill="#df6dd0"/>
<path d="M222.3 300.1l3.5 2.1 1.5-.6-1.1-4.4-.8-.4-2.1 .1z" fill="#43e7ff"/>
<path d="M224.4 272.6l3.7-.6 1.5-2.4-1-.9-2.3 .2-2.7 2.9z" fill="#40d0fd"/>
<path d="M224.2 305.6l1.6 1.7 3.5-.2 .6-1.8-2.1-3.6-.5-.1-1.5 .6z" fill="#302ddc"/>
<path d="M224.9 287.9l3.3 .9 1.6-.5 .1-2.1-1.6-1.5-2.8-.9-.8 1z" fill="#7a46de"/>
<path d="M226.3 268.9l2.3-.2-.9-4.2 0 0-2.9 .3-1 2.5z" fill="#3c23dc"/>
<path d="M225.4 296.8l.8 .4 2.9-1-.4-2-2.6-.6z" fill="#fa2b26"/>
<path d="M225 310.2l1.2 3.5 1.2-.4 .7-2.2-3-1z" fill="#7851ff"/>
<path d="M227.5 262l3-2-.4-2.4-1.3-.1-2.8 2.1 .2 1.1z" fill="#49e24b"/>
<path d="M225.8 243.1l1.5 .4 2.6-2.7-1.1-3-2.3 0-1.1 4.4z" fill="#a7ff32"/>
<path d="M226.3 255.4l2.5 2.1 1.3 .1 1-1.1-1.6-4.1-.9-.6-1.1 .8z" fill="#42e94c"/>
<path d="M225.6 282.8l3.8-1.6 0 0 .2-1.1-1.6-1-2.9 2.4z" fill="#f251f1"/>
<path d="M226.9 277.1l1.1 2 1.6 1 2.7-1.3-1.7-3.2-2.3-.2-1.3 .9z" fill="#34f62c"/>
<path d="M225.1 275.2l1.9 1.1 1.3-.9-.2-3.4-3.7 .6z" fill="#edad51"/>
<path d="M227.7 264.5l0 0 4.9-.8 .2-1.7-2.3-2-3 2z" fill="#e647dd"/>
<path d="M226.5 237.8l2.3 0 1.6-1.6-.2-1.5-3.8-1.2-.9 3.5z" fill="#da3ed7"/>
<path d="M249.6 315.1l-.4-.3-.4 .2-3.4 4.3 6.2 0z" fill="#ff54be"/>
<path d="M225.2 315.5l4 1.8-.4-3.2-1.4-.8-1.2 .4-.8 .9z" fill="#2d26f6"/>
<path d="M229.2 317.3l1.6 2 .2 0 .5-6.3-1-.1-1.7 1.2z" fill="#cd35ee"/>
<path d="M228.1 311.1l.7-.3 .8-1.5-.1-1.7-.2-.5-3.5 .2-.7 2.8z" fill="#a7ed30"/>
<path d="M227.4 291.1l1.9 2.2 1.2-.6-.1-4-.6-.4-1.6 .5z" fill="#edff65"/>
<path d="M228.7 294.2l.6-.9-1.9-2.2-1.8 1.6 .5 .9z" fill="#45ff32"/>
<path d="M226.2 297.2l1.1 4.4 .5 .1 1.5-.9 .2-3.9-.3-.6-.1-.1z" fill="#b1eb30"/>
<path d="M228.3 275.4l2.3 .2 2.2-2.9-2.8-3.1-.4 0-1.5 2.4z" fill="#eae94e"/>
<path d="M225.5 283.8l2.8 .9 1.1-3.5-3.8 1.6z" fill="#f13a33"/>
<path d="M227.4 313.3l1.4 .8 1.7-1.2-1.7-2.1-.7 .3z" fill="#ea3be8"/>
<path d="M228.4 249.1l.1 .1 4.1-.7 .2-2.2-1.8-1.3-2.2 .3z" fill="#f46eb6"/>
<path d="M228.8 245.3l2.2-.3 1.8-3.2-.1-.3-2.8-.7-2.6 2.7z" fill="#2cde45"/>
<path d="M228.7 294.2l.4 2 .1 .1 3.8-1.6 .2-.7-2.7-1.3-1.2 .6z" fill="#f169d3"/>
<path d="M228.8 310.8l1.7 2.1 1 .1 2.2-1.2-4.1-2.5z" fill="#ef1f2f"/>
<path d="M229.4 281.2l-1.1 3.5 1.6 1.5 2-2-2.5-3z" fill="#fb241c"/>
<path d="M229.9 240.8l2.8 .7 1.5-1.9-.7-2.3-3.1-1.1-1.6 1.6z" fill="#41de4c"/>
<path d="M229.6 309.3l4.1 2.5 .5-.1 1.2-1-.9-2.3-5-.8z" fill="#418ef5"/>
<path d="M230.4 288.7l3.4 .6 1.5-2.3-2.5-3.1-.9 .3-2 2-.1 2.1z" fill="#40de30"/>
<path d="M229.3 300.8l3.1-.4 .2-2-3.1-1.5z" fill="#e23144"/>
<path d="M229.6 269.6l.4 0 3.9-3.3-1.3-2.6-4.9 .8 .9 4.2z" fill="#853eff"/>
<path d="M230.1 257.6l.4 2.4 2.3 2 2.5-1.7 .9-1.7 0 0-4.3-2.2-.8 .1z" fill="#7e43e9"/>
<path d="M230.5 292.7l2.7 1.3 .5-.4 .7-3.3-.6-1-3.4-.6z" fill="#eb3936"/>
<path d="M229.4 281.2l2.5 3 .9-.3 1.3-2-1.7-3.1-.1 0-2.7 1.3z" fill="#1a3cff"/>
<path d="M234.2 311.7l-.5 .1-2.2 1.2-.5 6.3 3.6 0z" fill="#f5302c"/>
<path d="M231 245l1.8 1.3 2.4-1.3 .1-.4-2.5-2.8z" fill="#e264c6"/>
<path d="M228.6 251.8l.9 .6 4.2-.5 .2-2.4-1.3-1-4.1 .7z" fill="#53f44b"/>
<path d="M231.1 256.5l.8-.1 2.6-3.3-.8-1.2-4.2 .5z" fill="#61d8e7"/>
<path d="M232.6 298.4l1-1.4-.6-2.3-3.8 1.6 .3 .6z" fill="#49e3ff"/>
<path d="M227.8 301.7l2.1 3.6 3.7-1.2-.8-3.3-.4-.4-3.1 .4z" fill="#faff6a"/>
<path d="M229.3 307.1l.2 .5 5 .8 .4-3.5-1.3-.8-3.7 1.2z" fill="#91ee2f"/>
<path d="M232.8 272.7l1 .2 2.8-1.4 .6-2.8-.6-1.6-2.7-.8-3.9 3.3z" fill="#ff301c"/>
<path d="M232.3 278.8l.1 0 1-.7 1.3-2.4-.9-2.8-1-.2-2.2 2.9z" fill="#e340e4"/>
<path d="M233.9 249.5l.5-.2 1.6-1.9-.8-2.4-2.4 1.3-.2 2.2z" fill="#62cee3"/>
<path d="M230.4 236.2l3.1 1.1 1.3-1.5 .2-.6-.2-1.3-1.1-2.1-2.4 0-1.1 2.9z" fill="#e1a03a"/>
<path d="M233 294.7l.6 2.3 2 .4 .8-.6 .8-2.4-3.5-.8-.5 .4z" fill="#7d2ef8"/>
<path d="M232.4 300.4l.4 .4 3.7-.8-.9-2.6-2-.4-1 1.4z" fill="#9454e3"/>
<path d="M232.8 241.8l2.5 2.8 2.7-1.1-1.4-2.7-1.5-1-.9-.2-1.5 1.9z" fill="#ee9335"/>
<path d="M235.4 310.7l1.2 .2 3.3-3.7-.3-.9-4.2-1.5-.5 .1-.4 3.5z" fill="#e137f0"/>
<path d="M241.6 314.4l-.2-.4-1.1-1.1-1.9-.4-2.3 6.8 2 0z" fill="#192af8"/>
<path d="M234.1 281.9l1.1 0 3.4-2 .2-.8-.5-.5-4.9-.5-1 .7z" fill="#d543db"/>
<path d="M233.6 304.1l1.3 .8 .5-.1 2.6-3.5-.2-.6-1.3-.7-3.7 .8z" fill="#2228f7"/>
<path d="M232.6 263.7l1.3 2.6 2.7 .8 1.8-2.3-3.1-4.5-2.5 1.7z" fill="#803ee1"/>
<path d="M234.5 253.1l1.9 .5 1.1-.5 .5-2.6-3.6-1.2-.5 .2-.2 2.4z" fill="#9e44ed"/>
<path d="M234.4 290.3l3.5 .8 1-1.1 .2-2.5 0-.1-1.7-1.2-2.1 .8-1.5 2.3z" fill="#ff3239"/>
<path d="M232.8 283.9l2.5 3.1 2.1-.8 .1-.9-2.3-3.4-1.1 0z" fill="#e2233c"/>
<path d="M231.9 256.4l4.3 2.2 .1-.4 .1-4.6-1.9-.5z" fill="#4b82e9"/>
<path d="M233.4 278.1l4.9 .5-.9-2.4-2.7-.5z" fill="#2526fd"/>
<path d="M234.2 311.7l.4 7.6 1.5 0 2.3-6.8-1.8-1.6-1.2-.2z" fill="#45ea3c"/>
<path d="M237.8 300.7l.4-.5 0-2.7-1.8-.7-.8 .6 .9 2.6z" fill="#784cf1"/>
<path d="M233.7 293.6l3.5 .8 .8-.3 .2-.6-.3-2.4-3.5-.8z" fill="#de421e"/>
<path d="M236 247.4l2.8 .5-.2-4.3 0 0-.6-.1-2.7 1.1-.1 .4z" fill="#eb59ce"/>
<path d="M234.2 239.6l.9 .2 2.9-2.3 0-.5-3.2-1.2-1.3 1.5z" fill="#3735e9"/>
<path d="M238.8 279.1l.2-.2 2.7-2.3 .6-2.3-.3-.6-3.6-.3-1 2.8 .9 2.4z" fill="#2a17fc"/>
<path d="M235.3 260.3l3.1 4.5 1.4-.7-.5-4.2-3.1-1.3z" fill="#b4bbfe"/>
<path d="M237.2 268.7l4.3 .8 1.4-2.1-.4-2.1-1.1-1-1.6-.2-1.4 .7-1.8 2.3z" fill="#ea73af"/>
<path d="M234.7 275.7l2.7 .5 1-2.8-1.8-1.9-2.8 1.4z" fill="#ffa03c"/>
<path d="M238 250.5l1.5-1.6-.7-1-2.8-.5-1.6 1.9z" fill="#9a44f5"/>
<path d="M236.2 258.6l3.1 1.3 3.1-1.4-2.1-2.6-4 2.3-.1 .4z" fill="#55f1dd"/>
<path d="M243 315.2l-1.4-.8-3.5 4.9 6.7 0z" fill="#cdc4f1"/>
<path d="M236.6 310.9l1.8 1.6 1.9 .4 1.5-2.8-.9-2.4-1-.5z" fill="#ee54e1"/>
<path d="M236.4 253.6l-.1 4.6 4-2.3 0-1.6-2.8-1.2z" fill="#99f243"/>
<path d="M237.5 285.3l2.3-3-1.2-2.4-3.4 2z" fill="#e851e6"/>
<path d="M235 235.2l3.9-.7-.3-1.7-3.8 1.1z" fill="#8738ed"/>
<path d="M234.8 235.8l3.2 1.2 .8-1 .2-1.2-.1-.3-3.9 .7z" fill="#3d9eff"/>
<path d="M237.2 294.4l-.8 2.4 1.8 .7 .8-.7-.9-2.6-.1-.1z" fill="#ff6ace"/>
<path d="M238.4 273.4l3.6 .3 .5-1.9-1-2.3-4.3-.8-.6 2.8z" fill="#4e7cff"/>
<path d="M239 234.8l3.6 .1 .1-3.1-3.8 0-.3 1 .3 1.7z" fill="#e24138"/>
<path d="M236.6 240.8l2.4-1.5-.3-.9-.7-.9-2.9 2.3z" fill="#e04438"/>
<path d="M238 237l0 .5 .7 .9 1.7-.8 .3-.5-1.9-1.1z" fill="#3188e0"/>
<path d="M237.8 300.7l.2 .6 2.9 1.7 .5-.2 1.4-3.5-2.2-.6-2.4 1.5z" fill="#f34dbe"/>
<path d="M235.4 304.8l4.2 1.5 1.3-3.3-2.9-1.7z" fill="#321df4"/>
<path d="M237.4 286.2l1.7 1.2 2.6-2.1-.7-2.4-1.2-.6-2.3 3z" fill="#f73030"/>
<path d="M238.1 294.2l3.3 1.5 .8-.2-1.6-2.4-2.4 .4-.2 .6z" fill="#3a28ea"/>
<path d="M238 243.5l.6 .1 1.6-3.6-1.2-.7-2.4 1.5z" fill="#3efd44"/>
<path d="M237.5 253.1l2.8 1.2 2.4-1.8-.4-2.1-1.6-1.4-1.2-.1-1.5 1.6z" fill="#4ce1f4"/>
<path d="M239 296.8l1 .3 1.4-1.4-3.3-1.5z" fill="#398ee0"/>
<path d="M238.2 297.5l0 2.7 2.4-1.5-.6-1.6-1-.3z" fill="#e76db2"/>
<path d="M238.2 293.5l2.4-.4 1-1.4-.1-.6-2.6-1.1-1 1.1z" fill="#2d1cf8"/>
<path d="M238.6 279.9l1.2 2.4 1.2 .6 2.6-1.2 .5-1.2-5.1-1.6-.2 .2z" fill="#3be345"/>
<path d="M238.8 247.9l.7 1 1.2 .1 1.6-3.2-.5-1.8-3.2-.4z" fill="#cc40e8"/>
<path d="M241.4 314l3.3-3.1-.3-.5-2.6-.3-1.5 2.8z" fill="#3df0ff"/>
<path d="M239.9 307.2l1 .5 3.2-.8 .5-2.3-.4-.6-2.8-1.2-.5 .2-1.3 3.3z" fill="#192ae8"/>
<path d="M240.3 255.9l2.1 2.6 1 .3 1.9-4.8-2.6-1.5-2.4 1.8z" fill="#47a0ff"/>
<path d="M240.4 237.6l.2 2.3 1.3 0 .3-3-1.5 .2z" fill="#2f91ec"/>
<path d="M239 239.3l1.2 .7 .4-.1-.2-2.3-1.7 .8z" fill="#f13533"/>
<path d="M238.8 236l1.9 1.1 1.5-.2 .9-1.1-.5-.9-3.6-.1z" fill="#ef4bd5"/>
<path d="M240.6 298.7l2.2 .6 1.5-.9-.1-1.2-1.3-1.6-.7-.1-.8 .2-1.4 1.4z" fill="#3deffc"/>
<path d="M239.8 264.1l1.6 .2 2.8-4.5-.8-1-1-.3-3.1 1.4z" fill="#b5bfdc"/>
<path d="M241.5 291.1l1.4-1.5-.4-1-3.4-1.1-.2 2.5z" fill="#f4993d"/>
<path d="M240.2 240l-1.6 3.6 0 0 3.2 .4 .3-.2 .6-3.3-.8-.6-1.3 0z" fill="#92f043"/>
<path d="M239.1 287.5l3.4 1.1 1-2.6 0-.1-1.8-.6-2.6 2.1z" fill="#cf30ec"/>
<path d="M239 278.9l5.1 1.6 .7-.7-3.1-3.2z" fill="#1d27f1"/>
<path d="M242.6 234.9l.5 .9 2.5 .7 .3-.4 1-4.3-4.2 0z" fill="#64daff"/>
<path d="M242.5 265.3l3.8-.9 .6-1.8-.6-2.1-2.1-.7-2.8 4.5z" fill="#f266ac"/>
<path d="M241.9 239.9l.8 .6 3.2-.6 .2-1.4-.5-2-2.5-.7-.9 1.1z" fill="#1616f8"/>
<path d="M240.6 293.1l1.6 2.4 .7 .1 .9-2.5-2.2-1.4z" fill="#f3ff74"/>
<path d="M242.3 250.4l3.3-2-.1-1.6-3.2-1-1.6 3.2z" fill="#e84ff2"/>
<path d="M242.3 274.3l3.3 .8 .9-.5 .9-2.7-1.7-1.4-3.2 1.3-.5 1.9z" fill="#df4cdd"/>
<path d="M241.6 291.7l2.2 1.4 2.2-1.2-.3-1.8-2.8-.5-1.4 1.5z" fill="#ec3440"/>
<path d="M244.8 319.3l.6 0 3.4-4.3-3.2-1.4-2.6 1.6z" fill="#1c20e7"/>
<path d="M242.5 271.8l3.2-1.3 .1-1.1-1.3-1.5-1.6-.5-1.4 2.1z" fill="#391ce7"/>
<path d="M243.5 285.9l1.4-1.9-1.3-2.3-2.6 1.2 .7 2.4z" fill="#2119ff"/>
<path d="M242.8 299.3l-1.4 3.5 2.8 1.2 2-4.1-1.9-1.5z" fill="#161ee7"/>
<path d="M242.9 289.6l2.8 .5 .4-.7-.6-2-2-1.4-1 2.6z" fill="#489eea"/>
<path d="M241.8 244l.5 1.8 3.2 1 1.1-1.6-.9-1.7-3.6 .3z" fill="#f03bd9"/>
<path d="M243.6 281.7l1.3 2.3 1.5 .1 1-1.9-2.3-2.5-.3 .1-.7 .7z" fill="#db3efc"/>
<path d="M244.2 297.2l4.2-3.2-2.4-2.1-2.2 1.2-.9 2.5z" fill="#3b3df1"/>
<path d="M242.7 252.5l2.6 1.5 .2 0 2.2-2.3 .4-1.5-2.5-1.8-3.3 2z" fill="#2f3df4"/>
<path d="M244.7 310.9l.5 .3 1.7-.6 .9-2.5-3.1-.5-.3 2.8z" fill="#9c39fc"/>
<path d="M241.6 314.4l1.4 .8 2.6-1.6-.4-2.4-.5-.3-3.3 3.1z" fill="#e52127"/>
<path d="M241.8 310.1l2.6 .3 .3-2.8-.6-.7-3.2 .8z" fill="#8c48ea"/>
<path d="M241.7 276.6l3.1 3.2 .3-.1 .7-.7-.2-3.9-3.3-.8z" fill="#df48ee"/>
<path d="M245.9 239.9l.4 .7 4.6 1.2 1.1-.5 .4-3.1-.6-.7-5.7 1z" fill="#e43a43"/>
<path d="M243.5 286l2 1.4 1.9-2.2-1-1.1-1.5-.1-1.4 1.9z" fill="#42ff34"/>
<path d="M242.1 243.8l3.6-.3 .6-2.9-.4-.7-3.2 .6z" fill="#2422f9"/>
<path d="M245.7 290.1l.3 1.8 2.4 2.1 .1 0 2.4-1.5 .1-.2-.6-3.7-1-.4-3.3 1.2z" fill="#fa3843"/>
<path d="M244.7 307.6l3.1 .5 .4-.3-.3-1.8-2.1-1.4-1.2 0-.5 2.3z" fill="#8c41ed"/>
<path d="M244.6 304.6l1.2 0 2-1.6 0-2-.6-1-1-.1-2 4.1z" fill="#8447ff"/>
<path d="M246.6 245.2l2.3 0 2-3.4-4.6-1.2-.6 2.9z" fill="#abeb39"/>
<path d="M244.2 259.8l2.1 .7 1.9-1.2 .7-2-.2-.8-3.2-2.5-.2 0-1.9 4.8z" fill="#1928fd"/>
<path d="M242.9 267.4l1.6 .5 2.4-2.2-.6-1.3-3.8 .9z" fill="#2726f8"/>
<path d="M245.6 248.4l2.5 1.8 1-.4 1.4-2.2-1.6-2.4-2.3 0-1.1 1.6z" fill="#7b48e8"/>
<path d="M256.2 236.6l2.9 1.9 .3-.2 3-6.5-6.2 0z" fill="#8344ff"/>
<path d="M245.8 279l3.7-.3 .1-.1 .1-.1-1.4-3.1-1.8-.8-.9 .5z" fill="#2634ea"/>
<path d="M244.3 298.4l1.9 1.5 1 .1 .6-.6 .9-4.8-.2-.6-.1 0-4.2 3.2z" fill="#223cea"/>
<path d="M246.1 289.4l3.3-1.2-.9-2.6-1.1-.4-1.9 2.2z" fill="#9535fd"/>
<path d="M245.8 269.4l1.3-1-.2-2.6 0-.1-2.4 2.2z" fill="#d949f5"/>
<path d="M246.9 265.8l2.3 .5 1.7-2.4-4-1.3-.6 1.8 .6 1.3z" fill="#ff3143"/>
<path d="M249.2 314.8l.5-2.3-2.8-1.9-1.7 .6 .4 2.4 3.2 1.4z" fill="#f5e85a"/>
<path d="M245.7 270.5l1.7 1.4 .5-.1 1.3-3.1-2.1-.3-1.3 1z" fill="#3ff54b"/>
<path d="M247.4 285.2l1.1 .4 2-2-2.3-1.5-.8 .1-1 1.9z" fill="#243cea"/>
<path d="M245.5 254l3.2 2.5 2.1-2.3-3.1-2.5z" fill="#ec52c7"/>
<path d="M245.8 304.6l2.1 1.4 1.5-1.7-1.6-1.3z" fill="#2434e9"/>
<path d="M245.1 279.7l2.3 2.5 .8-.1 1.3-2.9 0-.5-3.7 .3z" fill="#52e837"/>
<path d="M247.8 308.1l-.9 2.5 2.8 1.9 .9-1 .1-2.7-.4-.5-2.1-.5z" fill="#ea281c"/>
<path d="M249.2 268.7l.7-.4-.7-2-2.3-.5 .2 2.6z" fill="#54a1f5"/>
<path d="M246.5 274.6l1.8 .8 3.9-2.1-.9-.8-3.4-.7-.5 .1z" fill="#ef4be4"/>
<path d="M249.5 279.2l2 4.2 .1 0 .5-.3 1.1-2.5-3.6-2-.1 .1z" fill="#ed1c37"/>
<path d="M247.8 303l1.6 1.3 1.8-.1 .1-.3-.6-1.9-2.9-1z" fill="#7b54f7"/>
<path d="M247.9 271.8l3.4 .7-.8-4-.6-.2-.7 .4z" fill="#4fe338"/>
<path d="M245.6 236.5l.5 2 5.7-1-1-2.2-4.9 .8z" fill="#e9ae39"/>
<path d="M246.9 262.6l4 1.3 .1 0 .3-3.1-3.1-1.5-1.9 1.2z" fill="#1f3ddd"/>
<path d="M250.8 235.3l1 2.2 .6 .7 3.8-1.6 0-4.8-5.3 0z" fill="#2120e9"/>
<path d="M245.9 236.1l4.9-.8 .1-3.5-4 0z" fill="#342fdf"/>
<path d="M247.2 300l.6 1 2.9 1 1-1.8-2.5-1.1-1.4 .3z" fill="#201cf2"/>
<path d="M249.4 288.2l1 .4 2.3-1.4 .1-.4-1.2-3.4-.1 0-1 .2-2 2z" fill="#369eef"/>
<path d="M247.8 299.4l1.4-.3 1.6-1.8 0-.3-2.1-2.4z" fill="#9c51f5"/>
<path d="M248.2 307.8l2.1 .5 1.2-3.3-.3-.8-1.8 .1-1.5 1.7z" fill="#913cef"/>
<path d="M248.2 282.1l2.3 1.5 1-.2-2-4.2z" fill="#ed3dfa"/>
<path d="M250.5 247.6l2-.2 .3-5.4-.8-.7-1.1 .5-2 3.4z" fill="#f2343c"/>
<path d="M247.7 251.7l3.1 2.5 .3-.1 .9-2.4-2.9-1.9-1 .4z" fill="#f13420"/>
<path d="M248.2 259.3l3.1 1.5 1.7-.9-.2-2.4-3.9-.2z" fill="#e873b2"/>
<path d="M249.7 278.5l1.9-1.5 .9-2.7-.2-1-.1 0-3.9 2.1z" fill="#cca1e3"/>
<path d="M249.2 314.8l.4 .3 6-.3 .6-2-.2-.4-5.4-.9-.9 1z" fill="#b8bef0"/>
<path d="M251.6 319.3l4.5 0-.5-4.5-6 .3z" fill="#2737f4"/>
<path d="M248.7 294.6l2.1 2.4 2.1-.8 .3-.6-2.3-3.1-2.4 1.5z" fill="#ff3b39"/>
<path d="M249.9 268.3l.6 .2 2.9-.9 0-2.2-.3-.5-2.1-1-.1 0-1.7 2.4z" fill="#4efe41"/>
<path d="M248.9 257.3l3.9 .2 0-.1-1.5-3.1-.2-.2-.3 .1-2.1 2.3z" fill="#e647f9"/>
<path d="M252.5 299.8l0-.4-1.7-2.1-1.6 1.8 2.5 1.1z" fill="#8734dd"/>
<path d="M251.7 300.2l-1 1.8 .6 1.9 3.1-1.7-.2-1.6-1.7-.8z" fill="#da2ff3"/>
<path d="M251.3 272.5l.9 .8 .1 0 .5-.3 .9-5.1-.3-.3-2.9 .9z" fill="#f273bd"/>
<path d="M249.6 278.6l3.6 2 1.4-.9-.2-.8-2.8-1.9-1.9 1.5z" fill="#242ce1"/>
<path d="M252.5 299.4l.8-1.9-.4-1.3-2.1 .8 0 .3z" fill="#3932fa"/>
<path d="M252.8 257.4l2-1.2-.8-1.9-2.7 0z" fill="#cfb0f1"/>
<path d="M251 263.9l2.1 1 1.5-2.3-.9-2.4-.7-.3-1.7 .9z" fill="#ed44d6"/>
<path d="M251.1 254.1l.2 .2 2.7 0 1.3-3.3-.4-.3-2.9 1z" fill="#df73b5"/>
<path d="M249.1 249.8l2.9 1.9 2.9-1-1.1-2.7-1.3-.6-2 .2z" fill="#ff283f"/>
<path d="M251 292.3l4-.7 .4-2.2-2.7-2.2-2.3 1.4z" fill="#5ce8ea"/>
<path d="M252.5 247.4l1.3 .6 2.1-2.1-.8-3.2-2.3-.7z" fill="#3fcfff"/>
<path d="M252.8 257.5l.2 2.4 .7 .3 2.4-.7 .8-2.9-2.1-.4-2 1.2z" fill="#cf3cee"/>
<path d="M252.8 286.8l3.8-2.1-.7-1-3.8-.6-.5 .3z" fill="#1f39eb"/>
<path d="M252.5 299.8l1.7 .8 1.4-1.2-.2-1.6-2.1-.3-.8 1.9z" fill="#4fdc31"/>
<path d="M250.7 308.8l4.7-.3 .3-.8-.3-1.2-3.9-1.5-1.2 3.3z" fill="#52e9ff"/>
<path d="M250.6 311.5l5.4 .9-.6-3.9-4.7 .3z" fill="#ee32d4"/>
<path d="M251.2 304.2l.3 .8 3.9 1.5 .9-2.6-1.9-1.7-3.1 1.7z" fill="#42e740"/>
<path d="M250.9 292.5l2.3 3.1 3.3-.8 .3-1.1-1.8-2.1-4 .7z" fill="#cf2dfa"/>
<path d="M251.6 277l2.8 1.9 .8-2.5-2.7-2.1z" fill="#3322f3"/>
<path d="M261.9 314.1l-3.9-1.4-1.8 .1-.6 2 .5 4.5 5.4 0z" fill="#b4b1ff"/>
<path d="M255.4 306.5l.3 1.2 5.2-.3 .4-.4 .1-.9-.3-.6-2.8-2.5-2 .9z" fill="#d24fde"/>
<path d="M256 312.4l.2 .4 1.8-.1 2.9-4.1 0-1.2-5.2 .3-.3 .8z" fill="#4ee538"/>
<path d="M255.3 251l.4 0 2.5-1.9 .1-2.6-2.4-.6-2.1 2.1 1.1 2.7z" fill="#9c46f2"/>
<path d="M252.9 296.2l.4 1.3 2.1 .3 1.2-2.7-.1-.3-3.3 .8z" fill="#9640ff"/>
<path d="M253.7 267.9l.4 .1 3.2-1.1 .1-1-.8-.9-3.2 .4 0 2.2z" fill="#f45ad2"/>
<path d="M252.3 273.3l.2 1 2.7 2.1 2-.5 .2-2.2-1.8-1.2-2.8 .5z" fill="#9439fc"/>
<path d="M252.8 273l2.8-.5 .8-2.5-2.3-2-.4-.1z" fill="#48f52f"/>
<path d="M270.9 235.6l3.4-3.8-6.2 0z" fill="#e79e37"/>
<path d="M252.8 242l2.3 .7 2.6-1 1.3-1.6 .1-1.6-2.9-1.9-3.8 1.6-.4 3.1z" fill="#e160b0"/>
<path d="M255.4 289.4l1.8-1.1 .2-1.1-.7-2.4-.1-.1-3.8 2.1-.1 .4z" fill="#9742e6"/>
<path d="M252.1 283.1l3.8 .6 .1-2.6-1.3-1.4-.1 0-1.4 .9z" fill="#e336fb"/>
<path d="M254.8 256.2l2.1 .4 .1-.1-1.1-5.2-.2-.3-.4 0-1.3 3.3z" fill="#4be1ff"/>
<path d="M254.2 300.6l.2 1.6 1.9 1.7 2-.9 .9-2.9-3.6-.7z" fill="#261fdc"/>
<path d="M254.6 279.7l.1 0 3.5-2 0-.7-1-1.1-2 .5-.8 2.5z" fill="#351ae0"/>
<path d="M255.4 297.8l.2 1.6 3.6 .7 .2-.2 .4-1.4-3.2-3.4z" fill="#ff8c38"/>
<path d="M255 291.6l1.8 2.1 2.8-1.1 .5-2.2-2.9-2.1-1.8 1.1z" fill="#54a3fe"/>
<path d="M256.6 284.7l.1 .1 .5-.3 2.1-2.4-.6-1.4-2.7 .4-.1 2.6z" fill="#47f73c"/>
<path d="M253.4 265.4l3.2-.4 .4-1.7-.4-.6-2-.1-1.5 2.3z" fill="#e24cd4"/>
<path d="M254.6 262.6l2 .1 .6-2.1-1.1-1.1-2.4 .7z" fill="#ec30da"/>
<path d="M256.6 295.1l3.2 3.4 3.4-2.7 0 0-.2-.7-3.4-2.5-2.8 1.1-.3 1.1z" fill="#953dde"/>
<path d="M256.4 270l1.3-.4 .2-2-.6-.7-3.2 1.1z" fill="#e468c6"/>
<path d="M256.9 256.6l-.8 2.9 1.1 1.1 1.9 0 1.1-2.5-2-1.7-1.2 .1z" fill="#d83def"/>
<path d="M257.7 241.7l1.6 4 .9 0 1.8-.7 .4-1.9-3.4-3z" fill="#53eb38"/>
<path d="M256.6 265l.8 .9 2-.8 0-1.7-2.4-.1z" fill="#9232ff"/>
<path d="M257 256.5l1.2-.1 1.7-3 0 0-4-2.1z" fill="#40e9e1"/>
<path d="M257 263.3l2.4 .1 .8-1-1.1-1.8-1.9 0-.6 2.1z" fill="#38ff4b"/>
<path d="M257.2 275.9l1 1.1 2.1-.6 .4-1.2-1.5-2.3-1.8 .8z" fill="#ef3643"/>
<path d="M256 281.1l2.7-.4 .4-.7-.9-2.3-3.5 2z" fill="#33a4ed"/>
<path d="M255.6 272.5l1.8 1.2 1.8-.8 0 0-.4-2.7-1.1-.6-1.3 .4z" fill="#4f93e6"/>
<path d="M259.2 300.1l-.9 2.9 2.8 2.5 1.8-3.9-3.5-1.7z" fill="#90f742"/>
<path d="M255.9 245.9l2.4 .6 1-.8-1.6-4-2.6 1z" fill="#eb38ec"/>
<path d="M255.9 251.3l4 2.1 .8-1.9-.5-1.7-2-.7-2.5 1.9z" fill="#f034d4"/>
<path d="M257.9 267.6l2.1-.3 .8-.8 0 0-1.4-1.4-2 .8-.1 1z" fill="#3636ef"/>
<path d="M256.7 284.8l.7 2.4 3.6-.7 .1-.2-.4-1.4-3.5-.4z" fill="#261ee1"/>
<path d="M257.7 269.6l1.1 .6 1.2-.6 0-2.3-2.1 .3z" fill="#3125ed"/>
<path d="M258.2 256.4l2 1.7 3-.1 .1-3.1-3.4-1.5z" fill="#4ff339"/>
<path d="M258.7 280.7l.6 1.4 1.9 1.1 .7-.3 1.2-2-1-1.3-.5-.2-2.5 .6z" fill="#df40f3"/>
<path d="M260.2 262.4l2 .1 .2-.1 1.7-3.1-.1-.5-.8-.8-3 .1-1.1 2.5z" fill="#30e838"/>
<path d="M259.4 263.4l0 1.7 1.4 1.4 1.3-.7 .1-3.3-2-.1z" fill="#844af9"/>
<path d="M257.2 288.3l2.9 2.1 1.5-1.2-.6-2.7-3.6 .7z" fill="#42d5f2"/>
<path d="M260.2 249.8l.9-.8-.9-3.3-.9 0-1 .8-.1 2.6z" fill="#e73a37"/>
<path d="M259.9 253.4l3.4 1.5 .1-.2-.4-3.5-2.3 .3-.8 1.9z" fill="#dc6bb6"/>
<path d="M260.7 284.9l.5-1.7-1.9-1.1-2.1 2.4z" fill="#d83ce4"/>
<path d="M260.9 308.6l2.4 4 .9-3.5-1.4-1.6-1.5-.5-.4 .4z" fill="#2b31f9"/>
<path d="M258.2 277.7l.9 2.3 2.5-.6-1.3-3 0 0-2.1 .6z" fill="#f96fc9"/>
<path d="M260 267.3l0 2.3 2.6 .6 .2-.2-2-3.5z" fill="#e173af"/>
<path d="M259.2 272.9l2.7-1 .7-1.7-2.6-.6-1.2 .6z" fill="#40fa52"/>
<path d="M268.3 317l-3-3.8-2-.1-1.4 1-.4 5.2 6.5 0z" fill="#eb2726"/>
<path d="M263.3 313.1l0-.5-2.4-4-2.9 4.1 3.9 1.4z" fill="#47d7ed"/>
<path d="M260.7 284.9l.4 1.4 3.9-.8 .1 0-3.2-2.6-.7 .3z" fill="#ffab4f"/>
<path d="M263 295.1l1.6-3.3-1.7-2.4-1.3-.2-1.5 1.2-.5 2.2z" fill="#46fa3e"/>
<path d="M262.4 243.1l.9-.5 1.1-4-.4-.2-4.6-.1-.3 .2-.1 1.6z" fill="#161ee6"/>
<path d="M259.2 272.9l1.5 2.3 2.2-.8 .1-.2-1.1-2.3-2.7 1z" fill="#f1a637"/>
<path d="M261.1 249l.6-.1 1-.6-.7-3.3 0 0-1.8 .7z" fill="#4fe033"/>
<path d="M260.3 276.4l3.2 .7-.6-2.7-2.2 .8-.4 1.2z" fill="#528eeb"/>
<path d="M260.2 249.8l.5 1.7 2.3-.3 .1-.1-1.4-2.2-.6 .1z" fill="#baade6"/>
<path d="M261.1 305.5l.3 .6 3.5-1.8 .5-2.6-.9-.4-1.6 .3z" fill="#2518de"/>
<path d="M259.4 299.9l3.5 1.7 1.6-.3-1.3-5.5-3.4 2.7z" fill="#283df6"/>
<path d="M260.8 266.5l2 3.5 .2 0 .7-.7 0-3-1.6-.5-1.3 .7z" fill="#f448e8"/>
<path d="M262.6 270.2l-.7 1.7 1.1 2.3 2.7-.6 0-.1-.1-.9-2.6-2.6-.2 0z" fill="#df3be2"/>
<path d="M261.6 279.4l.5 .2 1.4-2.5 0 0-3.2-.7z" fill="#b1b0ee"/>
<path d="M263.1 251.1l.7-.4-.5-2.3-.6-.1-1 .6z" fill="#dc9830"/>
<path d="M261 286.5l.6 2.7 1.3 .2 2.1-2 0-1.9-3.9 .8z" fill="#d3a8f2"/>
<path d="M262.1 265.8l1.6 .5 2.5-1.3-3.8-2.6-.2 .1z" fill="#fa51ac"/>
<path d="M263.3 254.9l-.1 3.1 .8 .8 4.6-2.7-.4-1-1.2-.8-3.1 .2-.5 .2z" fill="#2b27e6"/>
<path d="M261.9 282.9l3.2 2.6 1.1-.8-2.9-3.8-.2 0z" fill="#f160ae"/>
<path d="M262.7 248.3l.6 .1 2.2-.7 .7-.9-4.2-1.8z" fill="#2e33f1"/>
<path d="M262 245l4.2 1.8 .4-.2 .3-1-.6-2.5-3-.5-.9 .5-.4 1.9z" fill="#e49f53"/>
<path d="M262.1 279.6l1 1.3 .2 0 2-.7 1.2-2.9-3-.2z" fill="#8648ff"/>
<path d="M263 251.2l.4 3.5 .5-.2 1.7-3.6-.1-.1-1.7-.1-.7 .4z" fill="#5ecffd"/>
<path d="M264 238.4l.4 .2 1.9-.1 .9-.7-1.3-6-2.6 0z" fill="#cc48f2"/>
<path d="M264 238.4l-.7-6.6-.9 0-3 6.5z" fill="#ed54f4"/>
<path d="M263.2 295.8l1.3 5.5 .9 .4 .5-.1 1.4-1.3 .3-1.5-1.9-2.7-2.5-.3z" fill="#9045ff"/>
<path d="M263.2 295.8l2.5 .3 3.3-2.2-.6-3.1-3.8 1-1.6 3.3z" fill="#57dde9"/>
<path d="M262.8 307.5l3.5-.9 .1-.3-1.5-2-3.5 1.8-.1 .9z" fill="#2222e4"/>
<path d="M262.4 262.4l3.8 2.6 .2 0 .7-.6-.2-3.3-2.8-1.8z" fill="#7d46ff"/>
<path d="M262.9 274.4l.6 2.7 0 0 3 .2 .5-.4-1.3-3.3-2.7 .6z" fill="#7e3be8"/>
<path d="M265 285.5l0 1.9 3.5 3.2 1.2-1-3-5.1-.5 .2-1.1 .8z" fill="#4ef341"/>
<path d="M263.7 269.3l.4-.1 2.2-1.3 .5-1.2-.4-1.7-.2 0-2.5 1.3z" fill="#3c33ff"/>
<path d="M264.6 291.8l3.8-1 .1-.2-3.5-3.2-2.1 2z" fill="#48fe3d"/>
<path d="M263.8 250.7l1.7 .1 0-3.1-2.2 .7z" fill="#f92838"/>
<path d="M263.3 280.9l2.9 3.8 .5-.2 1.1-1-.1-1.2-2.4-2.1z" fill="#58eafc"/>
<path d="M263.9 254.5l3.1-.2-.4-3-1-.4z" fill="#363cff"/>
<path d="M276.9 317.4l-1.2-1.6-4.6-1.5-2.8 2.7-.3 2.3 9.3 0z" fill="#ea9648"/>
<path d="M263.3 313.1l2 .1 1.7-2.1-.3-1.7-2.5-.3-.9 3.5z" fill="#df64d0"/>
<path d="M268.3 317l2.8-2.7-.2-2.6-3.9-.6-1.7 2.1z" fill="#37e93b"/>
<path d="M263 270l2.6 2.6 1.2-2.2-2.7-1.2-.4 .1z" fill="#bea0ff"/>
<path d="M265.6 250.9l1 .4 2.4-.9 .2-1.7-2.6-2.1-.4 .2-.7 .9 0 3.1z" fill="#f7ff55"/>
<path d="M266.3 306.6l-3.5 .9 1.4 1.6 2.5 .3 .1-.3z" fill="#e250f7"/>
<path d="M266.8 309.1l3.8-1.2-.1-.8-2.8-1.4-1.3 .6-.1 .3z" fill="#343bff"/>
<path d="M266.3 243.1l.9-1.2-.9-3.4-1.9 .1-1.1 4z" fill="#7e3ddc"/>
<path d="M266.3 267.9l1.1 2.2 1.1 .1 .9-1.7-2.6-1.8z" fill="#e1ff61"/>
<path d="M266.7 309.4l.3 1.7 3.9 .6 1.2-1.8-1.5-2-3.8 1.2z" fill="#3e1fe6"/>
<path d="M264.9 304.3l1.5 2 1.3-.6 .3-1.7-2.1-2.4-.5 .1z" fill="#ff3f38"/>
<path d="M265.3 280.2l2.4 2.1 1.6-2.9-2.1-2.5-.2 0-.5 .4z" fill="#dd2ce9"/>
<path d="M265.7 273.5l3.9-1.2-1.1-2.1-1.1-.1-.6 .3-1.2 2.2z" fill="#ed36ec"/>
<path d="M265.7 273.6l1.3 3.3 .2 0 2.1-1.3 .4-3.3-.1 0-3.9 1.2z" fill="#f7213b"/>
<path d="M264.1 269.2l2.7 1.2 .6-.3-1.1-2.2z" fill="#333ef1"/>
<path d="M266.9 245.6l3.6-1.2 .3-.5-.3-1.9-3.3-.1-.9 1.2z" fill="#e438de"/>
<path d="M264.1 259.3l2.8 1.8 4.2-1.9-.2-1.6-2.3-1.5-4.6 2.7z" fill="#f240f9"/>
<path d="M268.4 290.8l.6 3.1 1.4 1.1 1.5 0 2.6-3.2-2.5-2.2-2-.2-.3 .2-1.2 1z" fill="#64d1ff"/>
<path d="M266.8 266.7l2.6 1.8 1.1-.6 1-1.6-1.5-1.7-2.9-.2-.7 .6z" fill="#3fccef"/>
<path d="M265.7 296.1l1.9 2.7 2.1-1 .7-2.8-1.4-1.1z" fill="#f8373f"/>
<path d="M265.9 301.6l2.1 2.4 3.3-1 0-1-4-1.7z" fill="#45f44c"/>
<path d="M266.3 238.5l.9 3.4 3.3 .1 .1-.1-.3-4.2-3.1 .1z" fill="#4699f6"/>
<path d="M268.2 255.1l1.6-2.8-.2-1.1-.6-.8-2.4 .9 .4 3z" fill="#b69fe6"/>
<path d="M266.7 284.5l3 5.1 .3-.2 .7-4.4-1-1.1-1.9-.4z" fill="#8f2fef"/>
<path d="M267.8 283.5l1.9 .4 2.8-3-.5-1.4-2.7-.1-1.6 2.9z" fill="#3cee2f"/>
<path d="M268.5 270.2l1.1 2.1 .1 0 .3 0 .4-.2 1.5-1.4-1.4-2.8-1.1 .6z" fill="#e64dd8"/>
<path d="M269.2 248.7l.8-.4 .9-1.7-.4-2.2-3.6 1.2-.3 1z" fill="#f437fa"/>
<path d="M268.6 256.1l2.3 1.5 1.1-1.1-.1-3.1-2.1-1.1-1.6 2.8z" fill="#aca7dc"/>
<path d="M267.1 264.4l2.9 .2 1.8-4.5-.7-.9-4.2 1.9z" fill="#8c49ef"/>
<path d="M271.9 304.2l-.6-1.2-3.3 1-.3 1.7 2.8 1.4z" fill="#f92543"/>
<path d="M270.5 307.1l.1 .8 1.5 2 2-.3 2-4.2-4.2-1.2z" fill="#63f1eb"/>
<path d="M267.2 237.8l3.1-.1 .8-.6-.2-1.5-2.8-3.8-2.2 0z" fill="#55cedf"/>
<path d="M270.5 244.4l.4 2.2 2.9 .3-.4-2.4-2.6-.6z" fill="#9739f6"/>
<path d="M271.3 302l.9-1.3-.1-.9-2.4-2-2.1 1-.3 1.5z" fill="#d833db"/>
<path d="M269 250.4l.6 .8 3.7-.6-.4-1.4-2.9-.9-.8 .4z" fill="#d951dd"/>
<path d="M271.1 314.3l4.6 1.5 .3-4.6-1.9-1.6-2 .3-1.2 1.8z" fill="#1635e3"/>
<path d="M269.7 297.8l2.4 2 .5-.7 .2-3-.9-1.1-1.5 0z" fill="#7c4dff"/>
<path d="M269.3 279.4l2.7 .1 .4-.7-.9-2.7-2.2-.5-2.1 1.3z" fill="#4be1f4"/>
<path d="M271.9 304.2l4.2 1.2 0-.1 .5-.7-1.6-3.4-2.8-.5-.9 1.3 0 1z" fill="#45e4df"/>
<path d="M272.4 275l-2.4-2.7-.3 0-.4 3.3 2.2 .5z" fill="#dd5fc8"/>
<path d="M271.5 276.1l.9 2.7 3.1-1.5-.4-1.2-2.4-1.3-.3 .2z" fill="#46e5ff"/>
<path d="M270.5 267.9l1.4 2.8 .7-.1 1.1-1.4-.4-2.9-1.8 0z" fill="#f14df1"/>
<path d="M271.9 253.4l2.3-1.9-.9-.9-3.7 .6 .2 1.1z" fill="#1c2af3"/>
<path d="M271.1 259.2l.7 .9 1.8 .7 2.9-.4 1.3-1.1 .3-2-2.7-1.8-3.4 1-1.1 1.1z" fill="#2538ff"/>
<path d="M271.5 266.3l1.8 0 .4-.2 .3-.4-.4-4.9-1.8-.7-1.8 4.5z" fill="#9d4ede"/>
<path d="M269.7 283.9l1 1.1 2.7 0 .4-.6-.6-3-.7-.5z" fill="#e72a20"/>
<path d="M270 272.3l2.4 2.7 .3-.2 .4-1-.2-.7-2.5-1z" fill="#e93841"/>
<path d="M270.3 237.7l.3 4.2 4.6-.9 .6-1.1-2-2.3-2.7-.5z" fill="#b7affe"/>
<path d="M275.6 234.4l2.7 .8 .4-.3 1-3.1-5.4 0z" fill="#1e2df0"/>
<path d="M270 248.3l2.9 .9 1-2.1-.1-.2-2.9-.3z" fill="#ed2df7"/>
<path d="M272.2 300.7l2.8 .5 .9-1.1 0-2.1-3.3 1.1-.5 .7z" fill="#2f1dff"/>
<path d="M270 289.4l2 .2 2-2.6-.6-2-2.7 0z" fill="#4ffc4b"/>
<path d="M274.2 251.5l1 .3 1.1-.6 .4-2.1-1.1-1.9-1.7-.1-1 2.1 .4 1.4z" fill="#fbaf38"/>
<path d="M270.4 272.1l2.5 1 .7-1.5-1-1-.7 .1z" fill="#ec903d"/>
<path d="M270.5 242l.3 1.9 2.6 .6 1.6-1.3 .2-2.2-4.6 .9z" fill="#4be538"/>
<path d="M272.6 299.1l3.3-1.1 .3-.4 0-1.1-3.4-.4z" fill="#9e4ee9"/>
<path d="M272 279.5l.5 1.4 .7 .5 3.2-.2 1.3-2.5-.5-.6-1.7-.8-3.1 1.5z" fill="#1726dc"/>
<path d="M294.8 318.4l-4.8-1.9-.6 2.8 5.9 0z" fill="#5ef1e4"/>
<path d="M276.9 317.4l4.3-5.1-.2-1.2-.9-.9-4.1 1-.3 4.6z" fill="#45e849"/>
<path d="M272 256.5l3.4-1-.2-3.7-1-.3-2.3 1.9z" fill="#fb942f"/>
<path d="M272.9 273.1l.2 .7 2.6-.6-.4-1.4-1.7-.2z" fill="#3ffb50"/>
<path d="M273.8 237.6l1.8-3.2-1.3-2.6 0 0-3.4 3.8 .2 1.5z" fill="#47f0dc"/>
<path d="M272.8 296.1l3.4 .4 .8-1.3-2.2-3.3-.3-.1-2.6 3.2z" fill="#e2ec4d"/>
<path d="M273.6 271.6l1.7 .2 .7-1.5-2.3-1.1-1.1 1.4z" fill="#f63340"/>
<path d="M272 289.6l2.5 2.2 .3 .1 2.1-1.6 .2-1.2-1.7-1.9-1.4-.2z" fill="#3924ef"/>
<path d="M272.7 274.8l2.4 1.3 .9-2.6-.3-.3-2.6 .6z" fill="#dcb245"/>
<path d="M273.9 247.1l1.7 .1 1.4-1.9-2-2.1-1.6 1.3 .4 2.4z" fill="#9dfd33"/>
<path d="M275.2 241l-.2 2.2 2 2.1 2.1-.3-1-4-1.3-1.2-1 .1z" fill="#61d5e6"/>
<path d="M273.7 269.2l2.3 1.1 .7-.5 0-.1-2.8-3.5-.2-.1-.4 .2z" fill="#802ff8"/>
<path d="M276.6 304.6l.6-.4 1.8-3.1-3.1-1-.9 1.1z" fill="#ed363b"/>
<path d="M276.1 305.4l-2 4.2 1.9 1.6 4.1-1-.2-1.4-3.8-3.5z" fill="#e04ebc"/>
<path d="M276 270.3l-.7 1.5 .4 1.4 .3 .3 3 .2 .2-.1 .1-2.2-2.6-1.6z" fill="#1d32e6"/>
<path d="M273.4 285l.6 2 1.4 .2 1.7-2.3 0-.9-3.3 .4z" fill="#8752df"/>
<path d="M275.5 277.3l1.7 .8 1.8-4.4-3-.2-.9 2.6z" fill="#3b30fc"/>
<path d="M277.1 284l0 .9 1.7 2.6 2.5-1.7 .1-.7-2.1-1.6-2 .2z" fill="#ffae48"/>
<path d="M277.3 283.7l-.9-2.5-3.2 .2 .6 3 3.3-.4z" fill="#40ff4f"/>
<path d="M275.9 300.1l3.1 1 .2-.2 .1-1.5-3.1-1.8-.3 .4z" fill="#fd69d3"/>
<path d="M274 265.7l3.2-1.7-.7-3.6-2.9 .4z" fill="#3e2cf0"/>
<path d="M275.4 255.5l2.7 1.8 1.9-1.5-.9-3.7-2.8-.9-1.1 .6z" fill="#ff9a36"/>
<path d="M276.5 260.4l.7 3.6 1.5 1 3.2-1.9 .3-.8-4.4-3z" fill="#5ee9fb"/>
<path d="M275.8 239.9l1-.1 1.1-1.3 .4-3.3-2.7-.8-1.8 3.2z" fill="#7d32ef"/>
<path d="M273.9 266.2l4.2 1.1 .6-.4 0-1.9-1.5-1-3.2 1.7-.3 .4z" fill="#303bf7"/>
<path d="M276.7 269.7l1.4-2.4-4.2-1.1z" fill="#eaeb50"/>
<path d="M275.6 247.2l1.1 1.9 3.2-1.4 .2-2.2-1-.5-2.1 .3z" fill="#ce2cee"/>
<path d="M277.1 289.1l1.6-1.3 .1-.3-1.7-2.6-1.7 2.3z" fill="#3e38ff"/>
<path d="M274.8 291.9l2.2 3.3 .9-.1 2.9-2.1 .2-.6-4.1-2.1z" fill="#7a36ff"/>
<path d="M276.4 281.2l.9 2.5 2-.2 1-2.8-1.6-1.8-1-.2z" fill="#d347e5"/>
<path d="M277.9 238.5l3.9-.4-.2-2.1-2.9-1.1-.4 .3z" fill="#883ee9"/>
<path d="M276.7 269.8l2.6 1.6 2.2-2.3 0-.2-2.8-2-.6 .4-1.4 2.4z" fill="#e23e38"/>
<path d="M276.2 297.6l3.1 1.8 .4-.4 .1-1.6-1.9-2.3-.9 .1-.8 1.3z" fill="#173ddf"/>
<path d="M276.1 305.3l3.8 3.5 1.8-2.9-.2-1-4.3-.7-.6 .4z" fill="#f772c8"/>
<path d="M277.7 278.7l1 .2 2.2-1.6-.6-3.3-1.1-.4-.2 .1-1.8 4.4z" fill="#1b29e6"/>
<path d="M277.2 304.2l4.3 .7 .4-.9-1.5-2.6-1.2-.5-.2 .2z" fill="#882cde"/>
<path d="M276.9 290.3l4.1 2.1 .3-.2 .4-1.8-3-2.6-1.6 1.3z" fill="#381af9"/>
<path d="M276.7 249.1l-.4 2.1 2.8 .9 2.1-2-1.3-2.4z" fill="#d63dec"/>
<path d="M279.1 245l1 .5 .4-.2 1.6-1.6 .1-2.6-4.1-.1z" fill="#55eeeb"/>
<path d="M277.3 319.3l5.9 0-.1-5.3-1.9-1.7-4.3 5.1z" fill="#4cd3dc"/>
<path d="M281 311.1l4-1.9 .5-1.6-.4-.4-3.4-1.3-1.8 2.9 .2 1.4z" fill="#8654ff"/>
<path d="M277.9 295.1l1.9 2.3 1.2-.6 .8-1.3-1-2.5z" fill="#2121ff"/>
<path d="M276.8 239.8l1.3 1.2 4.1 .1 1.1-1.4-1.5-1.6-3.9 .4z" fill="#e04ff7"/>
<path d="M282.2 262.3l1-.5 .2-.6-.2-3.7-1.5-1.7-1.7 0-1.9 1.5-.3 2z" fill="#d13afa"/>
<path d="M281.4 285.1l1.7-1.2 .2-1.4-1.1-1.7-1.9-.1-1 2.8z" fill="#e5a637"/>
<path d="M281.5 268.9l1.7-1.6-1.3-4.2-3.2 1.9 0 1.9z" fill="#e2442b"/>
<path d="M279.2 273.6l1.1 .4 1.9-.2 1.1-2.4-1.8-2.3-2.2 2.3z" fill="#5388ff"/>
<path d="M278.7 287.8l3 2.6 1.5-1.8-1.9-2.8-2.5 1.7z" fill="#4299e6"/>
<path d="M281.9 304l1.7-.9-.6-2.8-2.6 1.1z" fill="#c0bfee"/>
<path d="M279.3 299.4l-.1 1.5 1.2 .5 2.6-1.1 .2-.3-1.1-1.3-2.4 .3z" fill="#f03b2a"/>
<path d="M279.9 247.7l1.3 2.4 1.8 .3 1.4-1.8-.2-1.1-3.7-2.2-.4 .2z" fill="#9b4de0"/>
<path d="M281.8 238.1l1.5 1.6 .6-.1 2.3-2.1 .6-1.9-3.9-1.1-1.3 1.5z" fill="#e3261e"/>
<path d="M279.8 297.4l-.1 1.6 2.4-.3 0-.5-1.1-1.4z" fill="#efdc52"/>
<path d="M280.8 293l1 2.5 1.8 1 1.1 0 .3-.3 .6-1.2-.2-1.7-4.1-1.1-.3 .2z" fill="#3824ff"/>
<path d="M279.1 252.1l.9 3.7 1.7 0 2.1-2.4 .1-1.2-.9-1.8-1.8-.3z" fill="#e747df"/>
<path d="M281.3 285.8l1.9 2.8 2.7-.3 .8-2.4-3.6-2-1.7 1.2z" fill="#ff8d3f"/>
<path d="M281.9 263.1l1.3 4.2 2.2 .1 1-3.5-.2-.6-3-1.5-1 .5z" fill="#2cff3f"/>
<path d="M280.3 280.7l1.9 .1 1-1.7 0-.8-.9-.8-1.4-.2-2.2 1.6z" fill="#8cdf35"/>
<path d="M280.5 245.3l3.7 2.2 1.5-2.8-3.6-1z" fill="#9544e2"/>
<path d="M282.9 234.5l3.9 1.1 1.3-1.3 .8-2.2 .1-.3-6.9 0z" fill="#7734fb"/>
<path d="M281.6 236l1.3-1.5-.8-2.7-2.4 0-1 3.1z" fill="#3230ff"/>
<path d="M290 316.5l-.3-1.5-1.4-.8-4.2 5.1 5.3 0z" fill="#8e4be8"/>
<path d="M283.2 319.3l.9 0 4.2-5.1-.5-.9-.3-.1-4.4 .8z" fill="#37f03e"/>
<path d="M281 296.8l1.1 1.4 1.5-1.7-1.8-1z" fill="#7640e4"/>
<path d="M283.3 271.4l2.5 0-.3-3.9-.1-.1-2.2-.1-1.7 1.6 0 .2z" fill="#48d3ed"/>
<path d="M281.7 305.9l3.4 1.3-.5-3.7-.3-.3-.7-.1-1.7 .9-.4 .9z" fill="#fb4fd3"/>
<path d="M282.2 280.8l1.1 1.7 3.4-1.3-.2-.7-3.3-1.4z" fill="#eb54ea"/>
<path d="M280.3 274l.6 3.3 1.4 .2 .8-2.9-.9-.8z" fill="#8e39e9"/>
<path d="M282.2 273.8l.9 .8 1.9 .4 .5-.4 .4-3.1-.1-.1-2.5 0z" fill="#ec4ee5"/>
<path d="M282.1 298.2l0 .5 1.1 1.3 1.3-.5 .2-.2 0-2.8-1.1 0z" fill="#3aa0e2"/>
<path d="M283.9 252.2l3.8-.6-.2-2.6-3.1-.4-1.4 1.8z" fill="#3ce2ff"/>
<path d="M283 300.3l.6 2.8 .7 .1 1.3-1.8-1.1-1.9-1.3 .5z" fill="#df73d0"/>
<path d="M281.3 292.2l4.1 1.1 .1-.2 .6-4.5-.2-.3-2.7 .3-1.5 1.8z" fill="#e663ce"/>
<path d="M282.3 277.5l.9 .8 1.6-1 .2-2.3-1.9-.4z" fill="#f34afb"/>
<path d="M282.1 243.7l3.6 1 .2-.1 1-1.7-3-3.3-.6 .1-1.1 1.4z" fill="#da34dd"/>
<path d="M281 311.1l.2 1.2 1.9 1.7 4.4-.8-2.5-4z" fill="#d749f1"/>
<path d="M283.9 239.6l3 3.3 3.1-1 .2-.7-4-3.7z" fill="#df69c7"/>
<path d="M284.5 299.5l1.1 1.9 3.5 .5 .6-.3-.1-.5-1.4-2-3.5 .2z" fill="#40ff3b"/>
<path d="M285.1 307.2l.4 .4 1.5-.5 .3-3.2-2.7-.4z" fill="#271be8"/>
<path d="M283.2 278.3l0 .8 3.3 1.4 .4-2.1-2.1-1.1z" fill="#1725ff"/>
<path d="M286.1 288.6l4.1 2 .9-.3 .2-.3-.1-3.9-.7-1.3-1.7-.5-2.1 1.6-.8 2.4z" fill="#64dce6"/>
<path d="M283.1 283.9l3.6 2 2.1-1.6-.4-1.6-1.7-1.5-3.4 1.3z" fill="#e431fa"/>
<path d="M283.2 257.5l3.2-.6 .7-1.5-3.3-2-2.1 2.4z" fill="#499cdd"/>
<path d="M285.5 267.5l2.2 .3 .7-.5 .7-1.5-.3-.9-2.4-1-1 3.5z" fill="#d354e3"/>
<path d="M284.7 299.3l3.5-.2-.1-.7-3.1-2.2-.3 .3z" fill="#fb6fd3"/>
<path d="M284.8 277.3l2.1 1.1 2.6-2.1 0-.4-4-1.3-.5 .4z" fill="#2719e9"/>
<path d="M284.4 248.6l3.1 .4 1.2-1.4-2.8-3-.2 .1-1.5 2.8z" fill="#ce47f7"/>
<path d="M284.3 303.2l.3 .3 2.7 .4 1.8-2-3.5-.5z" fill="#ffb254"/>
<path d="M283.4 261.2l4-2.2-1-2.1-3.2 .6z" fill="#efee52"/>
<path d="M283.8 253.4l3.3 2 .6-.4 .4-3-.4-.4-3.8 .6z" fill="#e93537"/>
<path d="M285.9 271.5l2.2-.1 .6-.6-1-3-2.2-.3 .3 3.9z" fill="#e4253d"/>
<path d="M285 309.2l2.5 4 .3 .1 3.2-5.1-4-1.1-1.5 .5z" fill="#ef53e1"/>
<path d="M283.2 261.8l3 1.5 3.1-2.8-.1-.6-1.8-.9-4 2.2z" fill="#e753c7"/>
<path d="M286.7 281.2l1.7 1.5 2.9-4.2-1.8-2.2-2.6 2.1-.4 2.1z" fill="#2a3bff"/>
<path d="M286.4 256.9l1 2.1 1.8 .9 1.1-1.3-1.2-3.1-1.4-.5-.6 .4z" fill="#804fe5"/>
<path d="M285 296.2l3.1 2.2 1.1-2.5-3.6-.9z" fill="#3127ef"/>
<path d="M287.3 303.9l-.3 3.2 4 1.1 1.4-.5-2.1-5.6-.6-.5-.6 .3z" fill="#3617ff"/>
<path d="M287.5 249l.2 2.6 .4 .4 2.7-.1 1.1-1.3-2.3-3.2-.9 .2z" fill="#843efe"/>
<path d="M285.4 293.3l.2 1.7 3.6 .9 .6-.4-.9-2.9-3.4 .5z" fill="#3e3bff"/>
<path d="M289.5 275.9l.3-.5-1.7-4-2.2 .1-.4 3.1z" fill="#342edc"/>
<path d="M290.1 242l4.9 2.2 .3-.1 .4-1.3-3.5-3.6-.1 0-1.9 2-.2 .7z" fill="#eb362c"/>
<path d="M290 241.9l-3.1 1-1 1.7 2.8 3 .9-.2 1.1-1.2-.6-4.2z" fill="#ff381f"/>
<path d="M286.2 237.5l4 3.7 1.9-2-4-4.9-1.3 1.3z" fill="#f333dd"/>
<path d="M285.5 293.1l3.4-.5 1.3-2-4.1-2z" fill="#5de6e1"/>
<path d="M286.4 263.9l2.4 1 2.3-2.3-1.8-2.1-3.1 2.8z" fill="#3ffd2e"/>
<path d="M288.2 299.1l1.4 2 2.3-3.2-.7-2.2-1.4-.2-.6 .4-1.1 2.5z" fill="#5dd7f2"/>
<path d="M289.5 276.3l1.8 2.2 1.7 .6 1.5-.6 1.5-2.5-1.4-1.7-3.5 .2-1.3 .9-.3 .5z" fill="#9749f8"/>
<path d="M288.7 270.8l1-.3 .7-2.1-2-1.1-.7 .5z" fill="#dc44d9"/>
<path d="M288.3 314.2l1.4 .8 4.5-1.8 .1-.2-1.2-5.1-.7-.2-1.4 .5-3.2 5.1z" fill="#e74afc"/>
<path d="M289.3 260.5l1.8 2.1 1.9 .6 .7-.4 .8-4.6-.4-.7-3.8 1.1-1.1 1.3z" fill="#8b53eb"/>
<path d="M289.1 255.5l2.4-1.1-.7-2.5-2.7 .1-.4 3z" fill="#171fec"/>
<path d="M288.8 284.3l1.7 .5 2.7-2.1-.2-3.6-1.7-.6-2.9 4.2z" fill="#eff768"/>
<path d="M288.4 267.3l2 1.1 1-.5 .3-1.5-2.6-.6z" fill="#f12dee"/>
<path d="M288.1 271.4l1.7 4 1.3-.9 .6-3.3-2-.7-1 .3z" fill="#4debf1"/>
<path d="M288.9 292.6l.9 2.9 1.4 .2 .3-.2 1-3.1-.1-.7-1.3-1.4-.9 .3z" fill="#163df4"/>
<path d="M288.1 234.3l4 4.9 .1 0 1.6-1.2 .9-1.8-5.8-4.1z" fill="#8a2cff"/>
<path d="M289.1 265.8l2.6 .6 1-.9 .3-2.3-1.9-.6-2.3 2.3z" fill="#4cfa3a"/>
<path d="M290.8 251.9l.7 2.5 1.8 1.1 1.2-3.8-1.5-1.2-1.1 .1z" fill="#3630f4"/>
<path d="M290.7 246.2l2.4 .2 1.9-2.2-4.9-2.2z" fill="#fd4db0"/>
<path d="M289.1 255.5l1.2 3.1 3.8-1.1 .1-.5-.9-1.5-1.8-1.1z" fill="#9836f2"/>
<path d="M290.3 302.1l5.5-1.2 .2-2.1-4.1-.9-2.3 3.2 .1 .5z" fill="#eca747"/>
<path d="M290.4 268.4l-.7 2.1 2 .7 1-.5 .1-1.3-1.4-1.5z" fill="#48d8e1"/>
<path d="M291.4 267.9l1.4 1.5 2.3-1.6-2.4-2.3-1 .9z" fill="#d73ae0"/>
<path d="M289.6 247.4l2.3 3.2 1.1-.1 1.1-2.2-1-1.9-2.4-.2z" fill="#9d43de"/>
<path d="M291.2 295.7l.7 2.2 4.1 .9 .1-.1-.6-3.3-4 .1z" fill="#7b54de"/>
<path d="M291.1 290.3l1.3 1.4 3.1-.2 .7-1-1-1.8-3.9 1.3z" fill="#883eff"/>
<path d="M292.4 307.7l.7 .2 1.1-.5 2.6-4.8-1-1.7-5.5 1.2z" fill="#ea9952"/>
<path d="M291.1 274.5l3.5-.2 .2-2.4-2.1-1.2-1 .5z" fill="#f660cf"/>
<path d="M290 316.5l4.8 1.9-.6-5.2-4.5 1.8z" fill="#7e4ee8"/>
<path d="M295.3 319.3l3 0 .5-3.6-3.2-2.6-1.3-.1-.1 .2 .6 5.2z" fill="#c4b3ff"/>
<path d="M291.5 295.5l4-.1 .2-.5-3.2-2.5z" fill="#f13725"/>
<path d="M291.3 290l3.9-1.3 .4-2-4.4-.6z" fill="#e447d9"/>
<path d="M294.2 257l3.5-2.3-.1-.7-1.4-2.3-.1 0-1.6 0-1.2 3.8z" fill="#cf2dde"/>
<path d="M293.1 307.9l1.2 5.1 1.3 .1 3.4-2.1 .3-2.4-5.1-1.2z" fill="#f93826"/>
<path d="M293.2 282.7l3.6 1 .8-.8 .3-1.1-3.4-3.3-1.5 .6z" fill="#8240ee"/>
<path d="M293.1 246.4l1 1.9 2.1-.2 .2-.1-.7-3.5-.4-.4-.3 .1z" fill="#3fed4e"/>
<path d="M292.7 270.7l2.1 1.2 2.4-1.7-.2-2.2-1.9-.2-2.3 1.6z" fill="#43f345"/>
<path d="M292.7 265.5l2.4 2.3 1.9 .2 1.1-1.6-.3-2.4-4.1-1.2-.7 .4z" fill="#ef363c"/>
<path d="M290.5 284.8l.7 1.3 4.4 .6 1-.8 .1-.2 .1-2-3.6-1z" fill="#1e25ff"/>
<path d="M296.4 233.8l4 1.8 2.8-1.7 0-2.1-6.7 0z" fill="#59e1ff"/>
<path d="M288.9 232.1l5.8 4.1 .3-.1 1.4-2.3 .1-2-7.5 0z" fill="#ffab3a"/>
<path d="M296.1 298.7l3.3-1 .7-1.7-2.6-1.9-1.4 .3-.4 .5-.2 .5z" fill="#ed3442"/>
<path d="M296 298.8l-.2 2.1 1 1.7 6.4 1.3 0-2.3-3.8-3.9-3.3 1z" fill="#da54e4"/>
<path d="M295.7 294.9l.4-.5-.6-2.9-3.1 .2 .1 .7z" fill="#1f28eb"/>
<path d="M294.6 274.3l1.4 1.7 1.9-.2 1.4-3.9-2.1-1.7-2.4 1.7z" fill="#afff4d"/>
<path d="M292.2 239.2l3.5 3.6 .9-.9 .2-1.4-3-2.5z" fill="#b1e149"/>
<path d="M296.2 290.5l1.6 0 .9-1.5-2.1-3.1-1 .8-.4 2z" fill="#ef2934"/>
<path d="M293 250.5l1.5 1.2 1.6 0 .1-3.6-2.1 .2z" fill="#f42735"/>
<path d="M294.5 278.5l3.4 3.3 1.4-1.3-.7-4.2-.7-.5-1.9 .2z" fill="#ed3c27"/>
<path d="M294.1 257.5l.4 .7 3.8 1.5 1.1-1-.5-3.2-1.2-.8-3.5 2.3z" fill="#ce40f1"/>
<path d="M295.5 291.5l.6 2.9 1.4-.3 1.4-2-1.1-1.6-1.6 0z" fill="#cf3be0"/>
<path d="M297.2 270.2l2.1 1.7 3.9-.6 0-3.5-5.1-1.4-1.1 1.6z" fill="#3128e6"/>
<path d="M296.1 251.7l.1 0 3.3-2-.1-.7-1.3-1-1.7 0-.2 .1z" fill="#c4aade"/>
<path d="M295.7 244.5l2.9 .6 1.3-.7-.1-1.4-.6-.5-2.6-.6-.9 .9-.4 1.3z" fill="#cf3de4"/>
<path d="M293.8 238l3 2.5 1.1-.9 .1-1.7-3-1.8-.3 .1z" fill="#94f833"/>
<path d="M293.7 262.8l4.1 1.2 .7-.9-.2-3.4-3.8-1.5z" fill="#dd49ee"/>
<path d="M301.2 313.8l-2.4 1.9-.5 3.6 4.9 0 0-5.4z" fill="#2b24f9"/>
<path d="M296.8 240.5l-.2 1.4 2.6 .6 0-2.4-1.3-.5z" fill="#3c34ec"/>
<path d="M295.6 313.1l3.2 2.6 2.4-1.9-2.2-2.8z" fill="#242df8"/>
<path d="M296.6 285.9l2.1 3.1 4.5-1 0-.6-6.5-1.7z" fill="#ff58d1"/>
<path d="M297.8 290.5l1.1 1.6 1.2 .1 3.1-3.9 0-.3-4.5 1z" fill="#f03af8"/>
<path d="M298.5 263.1l-.7 .9 .3 2.4 5.1 1.4 0-5.3z" fill="#f338e4"/>
<path d="M296.4 248l1.7 0 .5-2.9-2.9-.6z" fill="#e12efc"/>
<path d="M298.1 248l1.3 1 3.2-3-2.7-1.6-1.3 .7z" fill="#aae451"/>
<path d="M296.7 285.7l6.5 1.7 0-1.9-5.6-2.6-.8 .8z" fill="#40e030"/>
<path d="M297.6 254l3.2-2.8-1.3-1.5-3.3 2z" fill="#2f1bee"/>
<path d="M299.3 271.9l-1.4 3.9 .7 .5 4.6 0 0-5z" fill="#2823fa"/>
<path d="M297.7 254.7l1.2 .8 1.6-.4 1.8-3.3-1.5-.6-3.2 2.8z" fill="#ed1e20"/>
<path d="M294.2 307.4l5.1 1.2 3.9-2.4 0-2.3-6.4-1.3z" fill="#3720ff"/>
<path d="M297.6 282.9l5.6 2.6 0-4.9-3.9-.1-1.4 1.3z" fill="#fe63b2"/>
<path d="M297.5 294.1l2.6 1.9 1.7-1.2-1.7-2.6-1.2-.1z" fill="#e564c3"/>
<path d="M300.4 235.6l-4-1.8-1.4 2.3 3 1.8 1.9-.8z" fill="#4bf62f"/>
<path d="M300.4 235.6l-.5 1.5 1.4 2.4 1.4 .7 .5 0 0-6.3z" fill="#2836dd"/>
<path d="M297.9 239.6l1.3 .5 2.1-.6-1.4-2.4-1.9 .8z" fill="#8252e3"/>
<path d="M299.8 243l2.9-2.8-1.4-.7-2.1 .6 0 2.4z" fill="#3e2cf1"/>
<path d="M301.8 294.8l-1.7 1.2-.7 1.7 3.8 3.9 0-6.7z" fill="#d648ec"/>
<path d="M299.3 308.6l-.3 2.4 2.2 2.8 2 .1 0-7.7z" fill="#2016df"/>
<path d="M299.5 249.7l1.3 1.5 1.5 .6 .9-.1 0-5.7-.6 0-3.2 3z" fill="#e438d4"/>
<path d="M302.7 240.2l-2.9 2.8 .1 1.4 2.7 1.6 .6 0 0-5.8z" fill="#df2a24"/>
<path d="M298.5 263.1l4.7-.6 0-3.6-3.8-.2-1.1 1z" fill="#ef4fb7"/>
<path d="M300.1 292.2l1.7 2.6 1.4 .1 0-6.6z" fill="#e856ad"/>
<path d="M298.9 255.5l.5 3.2 3.8 .2 0-1.9-2.7-1.9z" fill="#478aff"/>
<path d="M302.3 251.8l-1.8 3.3 2.7 1.9 0-5.3z" fill="#784adc"/>
<path d="M299.3 280.5l3.9 .1 0-4.3-4.6 0z" fill="#e939dc"/>
<g stroke="none"><path d="M183.2 250.3l0 .3 1.5-.3 .4-.7z" fill="#e92420"/><path d="M186.3 247.7l.7-1-3.8 1.3 0 .8z" fill="#e92420"/><path d="M185 245.8l-1.4-.3-.4 .1 0 .8z" fill="#e92420"/><path d="M187.5 246.6l-.4-.2-.5 .8 .1 4.3 .9 .5z" fill="#f63b30"/><path d="M185.7 248.7l-.9 1.4 0 .3 .9 .5z" fill="#f63b30"/><path d="M186.7 271.1l.3-.3-.7-1.6z" fill="#48df3e"/><path d="M184.3 266.9l-1-.2 1.3 6.5 .8-.8z" fill="#48df3e"/><path d="M183.2 271.9l0 1.7 .4 0z" fill="#48df3e"/><path d="M186 256.9l-.2-.3-2.6-.8 0 .5z" fill="#e9b143"/><path d="M183.2 258l0 .8 2.6 .6 .4-.7z" fill="#e9b143"/><path d="M183.2 260.1l0 .8 1.4 .3 .1 0 .4-.7z" fill="#e9b143"/><path d="M187.7 278.7l.5-.4-.1-2-.9-.6z" fill="#4ad5fa"/><path d="M184.8 274l-.6-.4-.4 0 1.2 7.4 .8-.7z" fill="#4ad5fa"/><path d="M189.3 268.9l-.5-.6-2.7 .5 .3 .7z" fill="#f363b8"/><path d="M187.5 266.7l-.4-.5-1.8 .9 0 0z" fill="#f363b8"/><path d="M184.7 240.3l-1.5-.4 0 .6 4 2.5 0-1z" fill="#3130e2"/><path d="M183.2 241.5l0 1.2 3.8 2.4 .1-1.1z" fill="#3130e2"/><path d="M183.2 243l0 1.2 3 1.9 .7 .1 .1-.8z" fill="#3130e2"/><path d="M187.5 283.4l-1.1-.4 2.2 2.5 .1-.7z" fill="#e548f9"/><path d="M183.2 282.3l0 .7 4.3 4.9 .7 .1 0 0z" fill="#e548f9"/><path d="M183.2 285.4l0 .7 1.1 1.3 .8 .1z" fill="#e548f9"/><path d="M192.4 310l-.2-.5-3.2 1.8 1.1 0z" fill="#fe57b2"/><path d="M191.9 308.6l-.2-.6-3.8 2.1-.2 .8z" fill="#fe57b2"/><path d="M191.3 306.8l-.2-.5-2.6 1.4-.2 .7z" fill="#fe57b2"/><path d="M191.4 262.2l.1-1-3.6 2.4 .2 .8z" fill="#42f448"/><path d="M195.1 292.3l.3-1.8-.3-.4-2.2 3.8 .7 .7 .4-.3z" fill="#f354e8"/><path d="M194.8 289.8l-1.2-.1-1.8 3 .8 .8z" fill="#f354e8"/><path d="M192.2 289.6l-1.2-.1-.8 1.5 .7 .8z" fill="#f354e8"/><path d="M190.6 289.4l-.3 0-.7 .3-.1 .7 .3 .3z" fill="#f354e8"/><path d="M193.8 318.4l-.1-1.5-.9 2.4 .6 0z" fill="#ff3b20"/><path d="M192.6 316.6l-.8 .4-.9 2.3 .6 0z" fill="#ff3b20"/><path d="M190.6 317.6l-.8 .4-.5 1.3 .6 0z" fill="#ff3b20"/><path d="M195.1 243.7l.1-.8-.9-.9-.2 0-.3 .4z" fill="#4ef2f9"/><path d="M192.9 243.6l-.7 .8 2.3 2.2 .6-.2 0-.6z" fill="#4ef2f9"/><path d="M190.9 246.1l-.1 .1-.1 .7 1.2 .7 .3-.2z" fill="#4ef2f9"/><path d="M192.7 284.4l-.3-.1-.3 .2 .1 .8 1.4 1.6 1.5 .1z" fill="#d251e2"/><path d="M194 242l.1 0 .2 0 1.4-2.2-.2-.2z" fill="#1d21e4"/><path d="M194.6 238.7l-.6-.7-1.3 2.2 .3 1.3z" fill="#1d21e4"/><path d="M193.1 237.1l-.4-.5-.3 0-.5 .9 .3 1.2z" fill="#1d21e4"/><path d="M197 236.3l-.7-.8-2.3 2.6 .8 .7z" fill="#d840f0"/><path d="M197.8 248.1l-.4-.6-.4-.2-4.6 1.4 .4 .9z" fill="#42e2df"/><path d="M197.4 284.1l-.4-1-2.2 1.8 .4 1z" fill="#44f44b"/><path d="M194.5 254.2l-.3 0-.1 1 2.7 0 .6-.2-.5-.8z" fill="#3cd6df"/><path d="M195 313.8l-.2 .9 3.8 .8 .3-1z" fill="#fe904c"/><path d="M196.8 308.8l-.1-.6-1.5 .9 .1 .1 .6 .1z" fill="#fe2a3f"/><path d="M196.6 307.2l0-.6-2.1 1.3 .3 .4z" fill="#fe2a3f"/><path d="M196 305.3l-.3-.1-2.1 1.1 .2 .3z" fill="#fe2a3f"/><path d="M197.3 251.2l-.3 .6 3.2 2.7 .5-.4z" fill="#f0f758"/><path d="M196.5 270.6l-.5 .4 .3 .5 4.1 .4 .9-.6-.2-.3z" fill="#efed6a"/><path d="M201.7 318.4l.3-.6-2.8 .6 .3 .5z" fill="#f28c34"/><path d="M203.2 315.2l.3-.6-4.9 1.1-.2 .6z" fill="#f28c34"/><path d="M202.3 313l-.4-.4-2.7 .5-.1 .6z" fill="#f28c34"/><path d="M200.5 284.6l.5-.3 .1-2.5-.7-.2z" fill="#1d2bfd"/><path d="M199 281.1l-.9-.3 .1 4.8 1-.4z" fill="#1d2bfd"/><path d="M197.2 281l-.7 .9 .7 1.9z" fill="#1d2bfd"/><path d="M199.5 295.8l-.3-.3-.9 .7-1 3.5 .4 .9 .4-.1 0 0z" fill="#38ff43"/><path d="M200 305.7l-.1-.6-.4-.2-2.8 3 .1 1 0 0z" fill="#f22621"/><path d="M201.8 302.4l.2-1.4-.1-.1-.8-.1z" fill="#419dec"/><path d="M199.8 300.7l-.9-.1 1.7 4 .7-.5z" fill="#419dec"/><path d="M199.4 293.1l-.3 .4 4.7 1.9-.2-.7z" fill="#3aeb48"/><path d="M202.3 249.5l-1.3-1.2-1 .4z" fill="#e3253e"/><path d="M198.5 249.1l-.1 .1 0 .5 .3 .5 4.8 1.7 .7-.5 0-.1-.3-.3z" fill="#e3253e"/><path d="M199.9 252.1l.8 1.2 .7 .3 .9-.7z" fill="#e3253e"/><path d="M202.5 311l1-1 0 0-2.6 .1 .7 1z" fill="#db3cd6"/><path d="M203.3 309.1l-.2-1-3.6 .2 .7 1z" fill="#db3cd6"/><path d="M202.9 307.6l-1.9-.8-1.1 0-.4 1.1z" fill="#db3cd6"/><path d="M201.9 272l.1-.1-.4-.5-.3-.1-.9 .6z" fill="#dd2323"/><path d="M198.3 273.3l-.6 .4 .3 .6 3.8 .4 .1-1z" fill="#dd2323"/><path d="M198.9 275.7l.4 .7 2 0 .4-.3z" fill="#dd2323"/><path d="M200.4 254.4l-.7 .6 3.1 3.3 .2 0 0-1.1z" fill="#9551ec"/><path d="M203.7 273.1l-.7-.8-1-.4-.1 .4z" fill="#9233fd"/><path d="M201.9 273.1l0 .8 3.4 1.6 .6-.1-.9-.8z" fill="#9233fd"/><path d="M201.8 275.2l0 .7 1.3-.1z" fill="#9233fd"/><path d="M205.5 247.8l-1.8-1.6 2 2.9 .1-1z" fill="#bdbbff"/><path d="M202.4 246.5l-.5 .3 0 0 2.8 4 .4-.4z" fill="#bdbbff"/><path d="M207.8 245l.5 0-.5-1.8z" fill="#dd39ea"/><path d="M206.2 242.5l-.7 0 .1 2.7 .6-.1z" fill="#dd39ea"/><path d="M204.3 243.6l-.5 .9 0 .8 .5 0z" fill="#dd39ea"/><path d="M208.5 245.2l-.2-.2-1.1 0-2.6 2 .7 .6z" fill="#508de7"/><path d="M205.8 264.9l-.6 .3 .9 4.6 .6-.2z" fill="#d82ee2"/><path d="M210 252.7l0-.1-1.1-2.2-.2 0z" fill="#1e20f5"/><path d="M206.6 250l-.9-.2-.2 .2 1.9 3.2 1-.1z" fill="#1e20f5"/><path d="M210.9 260.4l-.1-.2-.1 0-1 .3-2.8 4.5 .7 .4 .4-.2z" fill="#33fb32"/><path d="M207.6 261.1l-1 .3-.1 .2-.1 1.4z" fill="#33fb32"/><path d="M210.6 297.3l-.1-.3-.6-.3-1.7 2.3 .6 .3 .5-.3z" fill="#f69b2c"/><path d="M209.2 296.4l-.8-.4-1.7 2.3 .8 .4z" fill="#f69b2c"/><path d="M207.6 295.6l-.7-.4-1.5 1.8 .3 .8 .2 .1z" fill="#f69b2c"/><path d="M209 284.8l-.6 0 .6 3.7 .6 .1z" fill="#52e752"/><path d="M212.5 269.6l0-.2-1-.1-3 1.6 .2 .7z" fill="#262bde"/><path d="M215.9 317.4l-.4 .8 7.4 .3-.1-.8z" fill="#41e9de"/><path d="M215.7 317.8l.5-1-4.6 .3 .6 .9z" fill="#4e8fdc"/><path d="M216.2 316.1l0-.9-5 .3 0 1z" fill="#4e8fdc"/><path d="M215.9 314l-.8-.9-4 .3 0 .9z" fill="#4e8fdc"/><path d="M212.8 260.7l1.6-.1 .3-.2 .4-.6z" fill="#9232fd"/><path d="M215.4 258.5l-.4-.9-3.6 1.5-.6 1.1 .1 .1z" fill="#9232fd"/><path d="M214.6 256.8l-.6-.6-.8 .1-.3 .2-.8 1.3z" fill="#9232fd"/><path d="M215.1 281.6l0-.8-3.5 .9-.2 .2 .1 .6z" fill="#90ff30"/><path d="M215.8 300.4l.1-.8-.8-.5z" fill="#2834f5"/><path d="M212.7 297.9l-.8 .2 2.5 5.1 .3 .1 .5-.3z" fill="#2834f5"/><path d="M214.3 287.9l-.2 .5 3.1 1.9 .1-.6z" fill="#3023fc"/><path d="M214.1 248.4l-1.1-.5 .3 4.1 1 .3z" fill="#331fde"/><path d="M214.9 236.1l-.7-.6-3.2 4.1 1.1 .1z" fill="#8645ec"/><path d="M216.8 295.4l.6 .4 2.4-2.6-.1-.3z" fill="#d24aef"/><path d="M219.5 292l-.9-.3-3.1 2.8-.1 .1 .7 .4z" fill="#d24aef"/><path d="M218.2 291.6l-.9-.2-1 .8-.5 1.6z" fill="#d24aef"/><path d="M215.4 259.4l-.5 .6 3.1 1.5 .1-.2-.1-.7z" fill="#8337dc"/><path d="M217.2 287.6l.6 .4 1.2-.3 .3-.2z" fill="#4ef93a"/><path d="M220.2 286.6l0-.8-4.9 .3-.1 .4 .7 .4z" fill="#4ef93a"/><path d="M218.8 285l-1.7-.6-.8 0-.7 .3-.1 .6z" fill="#4ef93a"/><path d="M220 278.1l.2-.3-.6-.5-3.9 1.9 0 .4 .7 .3z" fill="#794fed"/><path d="M220.3 300.3l-2.3-1.9 2.3 3.7 .4-1.1z" fill="#ec3327"/><path d="M217.1 298.9l-.8 .5 2.5 3.9 .8-.5z" fill="#ec3327"/><path d="M215.7 300.9l-.3 1.4 .5 .8 1.3 .3z" fill="#ec3327"/><path d="M219.1 272.2l-1.3-1-.3 .3z" fill="#3bfc42"/><path d="M216.4 272.4l-.6 .6 3.9 1.7 .4-.6z" fill="#3bfc42"/><path d="M222.6 255.3l.2-.9-.1-.1-3.4 3.2 .3 .4 0 0z" fill="#241ee2"/><path d="M217.9 288l-.1 0-.1 .7 1.7 3.3 .1 0 .3-.4z" fill="#54f0e2"/><path d="M222.8 250.5l-.2-.7-1.1 1.3 .6 .3z" fill="#ec2642"/><path d="M222.1 248.1l-.2-.7-2.2 2.6 .5 .3z" fill="#ec2642"/><path d="M220.1 247.6l-.9 .2-.5 .7 0 .9z" fill="#ec2642"/><path d="M221.6 232.7l-.3 .8 2 3.5 .2-.1-.1-1.2z" fill="#892cea"/><path d="M225.5 296.5l.2-.8-1.9 1.2 1.2-.1z" fill="#ed332e"/><path d="M226 294.2l.1-.6 0-.1-3.7 2.4 .4 .4z" fill="#ed332e"/><path d="M224.4 270.9l1.9-2-.3-.2z" fill="#f236ed"/><path d="M225.3 268.3l-.6-.4-2 2.8 .4 .7z" fill="#f236ed"/><path d="M223.7 267.3l-.9 .4-.2 1.2z" fill="#f236ed"/><path d="M225.7 243.1l-.3-.9-.4-.2 0 1.9 .7-.8z" fill="#f06dbf"/><path d="M223 240.7l-.7-.4-.2 4.4 .8 .5z" fill="#f06dbf"/><path d="M226.1 313.2l-.2-.6-1 1.6 .4 .4z" fill="#d13cd7"/><path d="M225.4 311.3l-.2-.7-1.4 2.5 .4 .4z" fill="#d13cd7"/><path d="M223.9 310.6l-.8 .3-.1 .2-.3 .9 .3 .3z" fill="#d13cd7"/><path d="M225.9 255.4l-.6 0-1.3 1.9-.1 1.1z" fill="#e562bc"/><path d="M226.6 313.5l-.4 .2-.4 .5 1.9 2.4 1.5 .7 0-.6z" fill="#e846e6"/><path d="M230.2 288.6l-.4-.3-.3 .1-1.3 3.6 .5 .6z" fill="#f3f159"/><path d="M227.8 291.5l-.4-.4-.5 .5-.1 2.1 .8 .2z" fill="#ff5dbb"/><path d="M229.5 297l0-.1-.3-.6-.1-.1-1.2 .4z" fill="#1b28e4"/><path d="M226.5 298.1l.1 .7 2.7 .6 .1-.6z" fill="#1b28e4"/><path d="M227.2 301l.1 .6 .5 .1 .6-.4z" fill="#1b28e4"/><path d="M232.7 248.3l0-.8-1.2 1.2 .9-.2z" fill="#ee6cc2"/><path d="M232.2 245.9l-.4-.3-3.4 3.3 0 .2 .1 .1 .5-.1z" fill="#ee6cc2"/><path d="M229.9 245.2l-.9 .1-.2 .3-.1 .8z" fill="#ee6cc2"/><path d="M234.9 287.7l.4-.7-2.5-3.1-.9 .3-.2 .1z" fill="#f22dd8"/><path d="M231.2 284.9l-.8 .7 3.4 3.7 0 0 .6-.9z" fill="#f22dd8"/><path d="M230 286l-.1 .2-.1 1.2 1.4 1.4 1.7 .3z" fill="#f22dd8"/><path d="M229.3 300.8l3.1-.4 .1-.4z" fill="#d33ddc"/><path d="M232.6 299l0-.6-3.2 .8-.1 .6z" fill="#d33ddc"/><path d="M230.7 297.4l-.8-.3-.4 .1-.1 .5z" fill="#d33ddc"/><path d="M232.1 263.7l-2.9 .5 4.1 .9-.6-1.2z" fill="#8de345"/><path d="M227.8 265l.2 1.1 4.9 1.1 1-.9 0 0z" fill="#8de345"/><path d="M228.4 267.8l.2 .9 .5 .4 1.2 .3 1-.9z" fill="#8de345"/><path d="M232.9 312.2l-1 .6 2.4 .4 0-.7z" fill="#371ddd"/><path d="M231.5 313.6l-.1 .7 3 .5-.1-.7z" fill="#371ddd"/><path d="M231.3 315.5l0 .7 3.2 .6 0-.7z" fill="#371ddd"/><path d="M231.2 317.1l0 .7 3.4 .7-.1-.7z" fill="#371ddd"/><path d="M231.1 318.7l-.1 .6 3.4 0z" fill="#371ddd"/><path d="M232.7 242l-.4 .7 1 3.3 .6-.3z" fill="#361ce0"/><path d="M233.3 249l-.7-.5-.4 .1 1.3 3.3 .2 0 .1-1.5z" fill="#2b3ef7"/><path d="M231.1 248.8l-.9 .1 1.3 3.2 .8-.1z" fill="#2b3ef7"/><path d="M228.8 249.2l-.3 0 .1 2 .3 .8 .6 .4 .5-.1z" fill="#2b3ef7"/><path d="M232.8 298.1l.8-1.1-.6-2.3z" fill="#ea9945"/><path d="M232.3 295l-.8 .3-.2 2.4 .8 .4z" fill="#ea9945"/><path d="M230.5 295.8l-.8 .3-.1 .8 .8 .4z" fill="#ea9945"/><path d="M233.5 266.7l-.6 .5 4 .7-.2-.6z" fill="#c8b5df"/><path d="M230.9 268.8l-.6 .5 6.5 1.2 .2-.6z" fill="#c8b5df"/><path d="M231 270.8l.7 .7 3.6 .7 .9-.5z" fill="#c8b5df"/><path d="M234.5 281.9l-.4 0-.2 .3 2.4 1.4-.7-1z" fill="#53e72d"/><path d="M233.3 283.1l-.3 .5 4.4 2.5 .1-.6z" fill="#53e72d"/><path d="M234.4 285.9l.9 1.1 .6-.2z" fill="#53e72d"/><path d="M234.5 253.1l-.7 1 2.6 .2 0-.7-1.6-.4z" fill="#3de9fb"/><path d="M233.1 254.9l-.7 .9 3.9 .3 0-1z" fill="#3de9fb"/><path d="M232.8 256.9l2.3 1.1 1.2 .1 0-1z" fill="#3de9fb"/><path d="M234.3 290.6l-.1 .7 3.1 3.1 .6-.3z" fill="#3232e3"/><path d="M233.8 292.9l-.1 .7 0 0 1.2 .3z" fill="#3232e3"/><path d="M240.5 273.6l-.7-.1-.9 5.5 .1-.1 .7-.6z" fill="#794fdf"/><path d="M241.1 308.3l-.2-.6-1-.5-.2 .3z" fill="#3a23f9"/><path d="M238.2 309.1l-.5 .6 3.3 2 .4-.7z" fill="#3a23f9"/><path d="M236.4 281.2l-1.2 .7 3.9 1.3 .7-.9 0 0z" fill="#e567b7"/><path d="M236.3 233.5l-1.1 .3 1.8 1 1.3-.2z" fill="#a4e04a"/><path d="M234.9 234.4l.1 .8 1-.2z" fill="#a4e04a"/><path d="M238.9 234.5l0 0-1 .2-1.5 1.7 .7 .3z" fill="#2ced31"/><path d="M235.8 235.1l-.8 .1-.2 .6 .4 .1z" fill="#2ced31"/><path d="M236.8 238.5l-.8 .6 1.8 .9 .9-.6z" fill="#4eff48"/><path d="M239.3 236.2l-.5-.2-.1 .1 .4 2.2 .5-.3z" fill="#39f551"/><path d="M240.8 295.4l.6 .3 .8-.2-.5-.7z" fill="#3b39ff"/><path d="M241.5 294.4l-.6-.9-1.8 1.2 1.1 .5z" fill="#3b39ff"/><path d="M239.9 293.2l-1.7 .3-.2 .6 .1 .1 .1 .1z" fill="#3b39ff"/><path d="M244 280.8l.1-.3-.5-.2-4.3 1 .2 .5z" fill="#e32442"/><path d="M240.3 234.8l-1.2 0 3.2 1.9 .4-.5z" fill="#ff2528"/><path d="M244.2 279.2l-.4-.5-.6 1.5 .6 .2z" fill="#2231ef"/><path d="M242.5 277.4l-.5-.5-.9 2.7 .6 .2z" fill="#2231ef"/><path d="M240.8 277.3l-.9 .9-.4 .9 .6 .2z" fill="#2231ef"/><path d="M245.7 236.9l-.1-.4-.6-.1-3.1 3.2 0 .3 .4 .3z" fill="#fb3c40"/><path d="M243.4 235.8l-.3 0-.9 1.1-.1 .2z" fill="#fb3c40"/><path d="M245.1 311.1l-.4-.2-.8 .8-1 3.4 .1 .1 1.1-.6z" fill="#9d31fa"/><path d="M242.4 313.1l-1 .9 .2 .4 .3 .2z" fill="#9d31fa"/><path d="M245.4 240l-2 .3 2.8 1 .1-.7-.2-.4z" fill="#f436df"/><path d="M242.6 240.9l-.2 1 3.4 1.2 .2-1z" fill="#f436df"/><path d="M242.3 242.5l-.2 1 .5 .2 2.4-.2z" fill="#f436df"/><path d="M250.9 291.5l-.2-1.1-2.3 3.6 .1 0 1.3-.8z" fill="#eb4ef9"/><path d="M250.5 288.8l-.1-.2-.5-.2-2.8 4.4 .5 .5z" fill="#eb4ef9"/><path d="M248.2 288.6l-1.1 .5-1.2 1.8 .1 1 .1 0z" fill="#eb4ef9"/><path d="M246 242.2l-.1 .5 4.1 .7 .3-.5z" fill="#f44cd6"/><path d="M246.4 244.7l.2 .5 2.3 0 .1-.1z" fill="#f44cd6"/><path d="M248.6 258.1l.3-.8-.2-.8-.5-.4z" fill="#37df33"/><path d="M245.9 254.3l-.4-.3-.2 0-.2 .6 1.2 5.9 0 0 .8-.5z" fill="#37df33"/><path d="M244 257.4l-.6 1.4 .8 1 .3 .1z" fill="#37df33"/><path d="M260.2 236.5l.4-.9-3 1.9 .5 .3z" fill="#2f86fc"/><path d="M261.9 233l.4-.9-6.1 3.8 0 .6z" fill="#2f86fc"/><path d="M259.4 231.8l-1 0-2.2 1.4 0 .6z" fill="#2f86fc"/><path d="M245.8 278.5l0 .5 3.7-.3 .1-.1 .1-.1-.1-.1z" fill="#ade638"/><path d="M249.2 277.4l-.4-.8-3.1 .1 0 .8z" fill="#ade638"/><path d="M247.9 275.3l-1.4-.7-.9 .5 .1 .2z" fill="#ade638"/><path d="M246.3 299.9l.9 .1 .6-.6 .2-.7z" fill="#f22727"/><path d="M248.3 296.7l.2-1-4.1 2.8 .6 .5z" fill="#f22727"/><path d="M248.6 294.2l-.1-.2-.1 0-4.2 3.2 0 .1z" fill="#f22727"/><path d="M245.9 266.7l-.5 .4 .8 1.9 .6-.4z" fill="#55e1f7"/><path d="M249 304l-.5-.4-2.4 1.2 .6 .4z" fill="#eb2eeb"/><path d="M249.5 279l0-.3-1.6 .1-2.2 1.6 .8 .8z" fill="#f154d3"/><path d="M252.1 273.2l-.4-.3-.5 .9 .8-.4z" fill="#3c1aff"/><path d="M250.1 272.3l-.6-.1-1.5 3.1 .3 .1 .2-.1z" fill="#3c1aff"/><path d="M251.7 300.3l0-.1-2.5-1.1-.2 0z" fill="#e34fb3"/><path d="M247.9 299.4l-.1 0-.6 .6 .2 .3 3.4 1.5 .5-.9z" fill="#e34fb3"/><path d="M256.1 319.1l-.1-1.2-1.5 1.4 1.4 0z" fill="#dc3e20"/><path d="M255.9 317.4l-.2-1.2-3.2 3.1 1.4 0z" fill="#dc3e20"/><path d="M255.7 315.6l-.1-.8-.5 0-3.9 3.7 .4 .8 .3 0z" fill="#dc3e20"/><path d="M253.4 314.9l-1.5 .1-1.6 1.5 .4 1z" fill="#dc3e20"/><path d="M251.7 315l-1.5 .1-.4 .4 .4 .9z" fill="#dc3e20"/><path d="M253.2 254.3l-.9 0 .4 2.9 .1 .2 .8-.5z" fill="#1b2cf2"/><path d="M254 263.6l.6-1-.3-.8z" fill="#974cff"/><path d="M253.4 260.1l-.4-.2-.1 0-.8 4.5 .5 .2z" fill="#974cff"/><path d="M252.5 247.4l-1.4 .1 3.2 1.7-.5-1.1z" fill="#1d39f0"/><path d="M250.2 248l-.4 .7 4.3 2.3 .8-.3 0-.2z" fill="#1d39f0"/><path d="M249.2 249.6l-.1 .2 2.9 1.9 .6-.2z" fill="#1d39f0"/><path d="M256.6 284.7l-.5-.7-4.2 .3 .3 .8z" fill="#8736f5"/><path d="M255.6 299.1l-.1-.7-2.6 .1-.3 .7z" fill="#3dceed"/><path d="M261.2 313.9l-.6-.2 .4 5.6 .5 0 .1-.2z" fill="#efec50"/><path d="M258.8 313l-.6-.2 .5 6.5 .5 0z" fill="#efec50"/><path d="M255.9 313.7l-.3 1.1 .5 4.5 .2 0z" fill="#efec50"/><path d="M257.7 303.3l-.9 .3 3.4 1.1-1.1-1z" fill="#2433e9"/><path d="M256.1 304.6l-.2 .6 5.4 1.7 .1-.7z" fill="#2433e9"/><path d="M255.5 306.9l.2 .7 .3 .1 1.7-.1z" fill="#2433e9"/><path d="M258.2 248.9l.1-2.4-1-.3z" fill="#7951ee"/><path d="M255.7 246.1l-.8 .7 1.3 3.8 .8-.6z" fill="#7951ee"/><path d="M254.4 247.3l-.6 .7 1.1 2.7 .4 .3 .4 0z" fill="#7951ee"/><path d="M256.3 295.7l.3-.6-.1-.3-1.1 .3z" fill="#2e2be0"/><path d="M254.3 295.3l-1.1 .3-.1 .1 2.5 1.7 .4-.9z" fill="#2e2be0"/><path d="M261.3 297.3l1.1-.9-4 .6 .6 .6z" fill="#dc2236"/><path d="M262.9 295l-.8-.6-5.3 .9 .5 .6z" fill="#dc2236"/><path d="M261.2 293.8l-.8-.6-3.6 .6-.2 .7z" fill="#dc2236"/><path d="M257.8 268.4l0-.6-3.7 .3 .7 .6z" fill="#e933fb"/><path d="M259.2 300.1l-.2 .6 2.4 .1-1.5-.7z" fill="#eda953"/><path d="M258.5 302.1l-.2 .7 4 .2 .3-.7z" fill="#eda953"/><path d="M259.4 304l.9 .7 1.2 .1 .3-.7z" fill="#eda953"/><path d="M259.1 265.2l-.5 .2 .1 2.1 .6-.1z" fill="#e360c2"/><path d="M259.5 257.5l.7 .6 3-.1 0-.6z" fill="#1b2af9"/><path d="M263.2 256.7l.1-1-4.8 .1-.3 .6 .4 .4z" fill="#1b2af9"/><path d="M262.7 254.6l-2.1-.9-.8 0-.6 1z" fill="#1b2af9"/><path d="M262.9 281.3l.2-.4-1-1.3-.2-.1z" fill="#f53736"/><path d="M260.3 279.7l-.8 .2 1.8 3.3 .6-.3 .1-.1z" fill="#f53736"/><path d="M261.5 262.5l-1 0 .2 3.9 .1 .1 .9-.5z" fill="#e31e36"/><path d="M261.3 289.4l.3-.2-.6-2.7-.6 .1z" fill="#2c23ff"/><path d="M259.5 286.8l-.7 .1 1.1 3.4 .2 .1 .5-.4z" fill="#2c23ff"/><path d="M257.8 287.1l-.4 .1-.1 .5 .3 .8 .9 .8z" fill="#2c23ff"/><path d="M260 267.3l0 0 0 1 1.8 1.7 .8 .2 .2-.2z" fill="#df30e8"/><path d="M264.1 238.4l-.1 0-.6 0 .1 3.5 .6-2.3z" fill="#1f18e7"/><path d="M262.2 238.3l-.7 0 .1 4.1 .7 .6z" fill="#1f18e7"/><path d="M259.7 238.3l-.3 0-.3 .2 0 .2 0 1.5 .7 .6z" fill="#1f18e7"/><path d="M261.2 245.3l-.7 .3 1.6 3.1 .5-.4z" fill="#7844ff"/><path d="M262.9 274.6l0-.2-1.1 .4-.5 1.8 .9 .2z" fill="#47ed36"/><path d="M262.4 249.9l-.3-.4-1.7 1.2 .2 .5z" fill="#50ece9"/><path d="M264.8 301.4l-.3-.1-.3 .1-1.7 4.2 .7-.4z" fill="#40f54f"/><path d="M264.4 301.1l-.2-.9-1.3 1.4 0 0 1.3-.2z" fill="#163af0"/><path d="M263.7 297.8l-.3-.9-3.2 3.4 .8 .3z" fill="#163af0"/><path d="M262.3 296.4l-2.5 2.1-.3 .8z" fill="#163af0"/><path d="M262.4 276.8l-.6-.1-.5 2 .3 .7 .1 .1z" fill="#382fef"/><path d="M267.1 254.4l-.1-.1-1.1 .1 1.3 2.6 .9-.6z" fill="#e144f5"/><path d="M265.4 254.4l-1.2 .1 1.7 3.2 .9-.5z" fill="#e144f5"/><path d="M263.4 254.8l-.1 .1-.1 1.9 1 1.9 .9-.5z" fill="#e144f5"/><path d="M265.6 279.4l.4-1-3.3 .2-.6 1 .1 .1z" fill="#faa43b"/><path d="M264 231.8l-.7 0 .1 .9 3 1.3-.3-1.3z" fill="#301ef1"/><path d="M263.5 234l.2 1.2 3.2 1.4-.2-1.3z" fill="#301ef1"/><path d="M263.8 236l.1 1.3 2.6 1.1 .7-.6-.1-.4z" fill="#301ef1"/><path d="M265.8 254.4l1.2-.1-.1-.6z" fill="#2f31e8"/><path d="M266.8 252.6l-.1-.9-2 1.2-.7 1.4z" fill="#2f31e8"/><path d="M266.4 251.2l-.8-.3-.5 1.1z" fill="#2f31e8"/><path d="M269.1 316.2l.7-.6-2.2 .5 .3 .4z" fill="#ff2623"/><path d="M271 313.5l0-.5-5 1.1 .4 .5z" fill="#ff2623"/><path d="M270.6 307.8l-.1-.7-.4-.2-1.3 1.5 1.7-.5z" fill="#e82ff3"/><path d="M269.6 306.6l-.9-.4-2 2.4 .1 .5 1-.3z" fill="#e82ff3"/><path d="M267.4 305.8l-1 .5-.1 .3 .1 .4z" fill="#e82ff3"/><path d="M268 308.7l-1 .3 4.4 2 .3-.6z" fill="#de922c"/><path d="M267.9 304.3l.1-.3-.4-.5-2.7 .9 .5 .6z" fill="#eef44f"/><path d="M268.3 272.7l1.3-.4-.5-1.1z" fill="#48df42"/><path d="M268.8 270.7l-.3-.5-.7-.1-1.8 3.3 1.5-.5z" fill="#48df42"/><path d="M267 270.3l-.2 .1-1.2 2.2 0 .3z" fill="#48df42"/><path d="M271.3 302l-1-.4-.3 1.8 1.1-.4z" fill="#feb13c"/><path d="M269.4 301.2l-1-.4-.5 3 .1 .2 1-.3z" fill="#feb13c"/><path d="M266.7 300.8l-.8 .8 .6 .7z" fill="#feb13c"/><path d="M270.9 246.7l0-.1-.4-2.2-.3 .1z" fill="#ff9e2c"/><path d="M269.2 244.9l-1 .3 1 3.5 .8-.4 .1-.3z" fill="#ff9e2c"/><path d="M270.9 252.8l-.7-.3 .1 4.7 .6 .4 .1 0z" fill="#e349fa"/><path d="M270.7 259.4l-.9 .4 1.2 2.4 .5-1.3z" fill="#ce33f6"/><path d="M268.9 260.2l-.9 .5 2 3.9 0 0 .5-1.2z" fill="#ce33f6"/><path d="M266.9 261.8l.2 2.6 1.2 .1z" fill="#ce33f6"/><path d="M274.2 309.3l1.9-3.9-.5-.2z" fill="#f72932"/><path d="M274.4 304.9l-.9-.3-1.7 5 .3 .3 .6-.1z" fill="#f72932"/><path d="M271 275.9l-.9-.2-.7 3.7 .9 0z" fill="#b3b2ff"/><path d="M269.6 273.1l-.1 1 2.2 1.6 .7-.7z" fill="#eba744"/><path d="M272.2 278.3l.2 .5 1.3-.6z" fill="#3f8cec"/><path d="M275.4 276.8l-.3-.7-.5-.3-3.1 .3 0 0 .3 1z" fill="#3f8cec"/><path d="M273.3 252.2l.9-.7-.1-.1-4.3 .6 0 .3 .7 .3z" fill="#cd9ded"/><path d="M273.4 282.4l-.2-.9-3.1 2.8 .5 .6z" fill="#3735e5"/><path d="M275.6 298.1l-.9 .3 1.2 1.1 0-1.2z" fill="#eb70ad"/><path d="M273.4 298.9l-.8 .2-.1 .1 2.2 1.9 .3 .1 .5-.6z" fill="#eb70ad"/><path d="M272.2 299.7l-.1 .1 .1 .9 1.4 .2z" fill="#eb70ad"/><path d="M278.7 310.6l-1.3 .3 3.8 1.5 0-.1-.1-.8z" fill="#2c25ec"/><path d="M276 312.2l-.1 .8 3.6 1.4 .5-.6z" fill="#2c25ec"/><path d="M275.8 314.8l-.1 .8 2 .8 .6-.6z" fill="#2c25ec"/><path d="M274.8 232.8l-.5-1 0 0-.4 .4z" fill="#ff6ec6"/><path d="M273.4 232.8l-.7 .8 2.5 1.5 .4-.7-.2-.4z" fill="#ff6ec6"/><path d="M272.3 234.1l-.7 .8 2.7 1.7 .6-.9z" fill="#ff6ec6"/><path d="M271.5 235l-.6 .6 .1 .4 2.4 1.5 .4 .1 .4-.8z" fill="#ff6ec6"/><path d="M275.8 287.7l-.4-.5-1.4-.2-.3 .3z" fill="#814ce5"/><path d="M272.6 288.8l-.4 .4 4.7 1 .1-.5z" fill="#814ce5"/><path d="M273.8 291.2l.7 .6 .3 .1 .5-.4z" fill="#814ce5"/><path d="M276 244.2l-.4-.4-1.9 2.3 .1 .7z" fill="#ef2de3"/><path d="M281.1 284.8l-1.8-1.3-.7 .1z" fill="#3033f8"/><path d="M277.1 284.1l0 .7 3.3 1.6 .6-.4z" fill="#3033f8"/><path d="M278.3 286.6l.5 .9 .5-.3z" fill="#3033f8"/><path d="M276.3 284.1l.8-.1 .2-.3-.2-.7z" fill="#f152f2"/><path d="M276.5 281.4l-.1-.2-.7 .1-2 2.9 .1 .2 .8-.1z" fill="#f152f2"/><path d="M280 246.8l0-.9-4.4 1.3 .4 .7z" fill="#e6b437"/><path d="M278.2 235.3l0 .6 3.6 2.2 0 0-.1-.7z" fill="#a2e533"/><path d="M278 237.4l-.1 .6 .7 .4 .9-.1z" fill="#a2e533"/><path d="M281.8 268.6l.7-.6-2 .2 .7 .5z" fill="#cec2f5"/><path d="M282.8 266l-.2-.5-3.9 .4 0 .6z" fill="#cec2f5"/><path d="M282.1 263.8l-.1-.6-.4 .1-1.2 .7z" fill="#cec2f5"/><path d="M282.3 270.2l-.5-.7-1.9 4.4 .4 .1 .4 0z" fill="#1d35ff"/><path d="M280.2 270.4l-.9 1-.1 1.2z" fill="#1d35ff"/><path d="M280.5 301.4l-.1 0 .6 1 2.5 .5-.2-.9z" fill="#fa3b3e"/><path d="M283 299.7l.2 .3 1.3-.5 .2-.2z" fill="#ff371c"/><path d="M284.7 298.7l0-1.1-2.5 .5-.1 .1 0 .5 .4 .5z" fill="#ff371c"/><path d="M284.7 296.8l0-.3-1.1 0-.6 .7z" fill="#ff371c"/><path d="M281.1 311.1l-.1 0 .2 .8 5.8 .6-.5-.9z" fill="#9130f6"/><path d="M286 237.7l-.4 .4 2.2 .9-1-1z" fill="#2b22e5"/><path d="M284.5 239.1l-.4 .3 6 2.4 .1-.5z" fill="#2b22e5"/><path d="M285.7 241.6l.7 .8 .9 .4 .8-.3z" fill="#2b22e5"/><path d="M289.1 300.4l-.4-.6-3.5 .8 .3 .7z" fill="#f3413f"/><path d="M286.5 303.8l-.5-.1-.8 3.6 .3 .3 .2 0z" fill="#ff2333"/><path d="M288 298.3l-.8-.6-2.5 .5 0 .8z" fill="#44e64c"/><path d="M285.8 244.7l-.1 0-.2 .5 2.6 1.8-1.7-1.9z" fill="#ea211d"/><path d="M284.9 246.2l-.2 .5 3 2 .4-.4z" fill="#ea211d"/><path d="M284.2 247.4l0 .1 .1 .6 .9 .6 1.3 .2z" fill="#ea211d"/><path d="M289.3 260.3l-.1-.4-.7-.3-.9 2.5 1.6-1.5z" fill="#8846ea"/><path d="M287.8 259.2l-.4-.2-.7 .4-1.3 3.5 .8 .4 .1-.1z" fill="#8846ea"/><path d="M284.9 260.4l-1.3 .7-.3 .7 .9 .5z" fill="#8846ea"/><path d="M285.9 271.8l-.2 1 4 2.8 .1-.2-.6-1.2z" fill="#95f54b"/><path d="M290.6 246.3l.1-.1-.2-1.2-2.5 1.9 .7 .7 .1 0z" fill="#b3fd37"/><path d="M290.4 244l-.2-1.2-3.5 2.6 .7 .8z" fill="#b3fd37"/><path d="M290.1 242.2l0-.2-.1-.1-2.4 .8-1 .8-.7 1.1 .4 .4z" fill="#b3fd37"/><path d="M287.7 234.7l-.6 .5 2.4 .8-.8-1z" fill="#df292c"/><path d="M286.5 236.5l-.2 .7 5.7 1.8-.8-1z" fill="#df292c"/><path d="M289.1 240.2l1.1 1 .5-.5z" fill="#df292c"/><path d="M289.8 261.1l-.5-.6-.5 .4-1.1 3.5 .9 .4z" fill="#9948fa"/><path d="M293.7 235.5l-1-.7 .2 3.9 .9-.7 .1-.2z" fill="#2f32ff"/><path d="M291.6 234l-1.1-.7 .3 4.3 1.1 1.3z" fill="#2f32ff"/><path d="M290.1 233l-1-.8 .2 3.5 1.1 1.3z" fill="#2f32ff"/><path d="M293.5 255.1l.4-1.3-1.5 1.2 .7 .4z" fill="#262beb"/><path d="M294.5 251.8l0-.1-.5-.4-2.7 2.1 .2 .8z" fill="#262beb"/><path d="M293.3 250.7l-.3-.2-.8 .1-.9 .7-.5 .6 .2 .6z" fill="#262beb"/><path d="M292.2 293.5l-.3 .8 1.9 1.1 1.7 0z" fill="#1c1eff"/><path d="M295.3 267.8l-.2 0-.7 .5 .7 3.4 .9-.6z" fill="#3037ec"/><path d="M297.7 263.9l-1.1-.3 .5 4.2 .9-1.3z" fill="#1e23e8"/><path d="M295.5 263.3l-1.1-.3 .6 4.7 .1 .1 1 .1z" fill="#1e23e8"/><path d="M293.9 262.9l-.2-.1-.7 .4-.1 .6 .3 2.3 1.3 1.1z" fill="#1e23e8"/><path d="M303.2 302.9l0-1.1-3.7 1.3 1.9 .4z" fill="#a2e92e"/><path d="M302.3 300.6l-.7-.7-5.3 1.8 .5 .8z" fill="#a2e92e"/><path d="M300.3 298.6l-.7-.7-3.7 1.2 0 1.1z" fill="#a2e92e"/><path d="M296 276l-.7 1.1 3.5 .3-.2-1.1-.1 0z" fill="#e34df9"/><path d="M294.8 277.9l-.3 .6 .6 .5 4 .4-.2-1.1z" fill="#e34df9"/><path d="M295.7 279.6l1.2 1.2 1.9 .2 .5-.5-.1-.6z" fill="#e34df9"/><path d="M302.3 267.5l-.6-.1 1.3 3.9 .2 0 0-1.2z" fill="#3d2fdc"/><path d="M299.3 266.7l-.6-.2 1.7 5.3 .6-.1z" fill="#3d2fdc"/><path d="M297.6 267.1l-.4 .6 1.2 3.5 .8 .7z" fill="#3d2fdc"/><path d="M301.9 313.9l-.7-.1-1.2 1 3.2 .3 0-1.1z" fill="#45ff46"/><path d="M298.7 316.2l-.1 1.1 4.6 .4 0-1.1z" fill="#45ff46"/><path d="M298.4 318.2l-.1 1.1 0 0 4.9 0 0-.7z" fill="#45ff46"/><path d="M298.8 311.2l-.7 .4 .2 3.7 .5 .4 .2-.2z" fill="#fa70b5"/><path d="M296.5 312.6l-.7 .4 0 .3 .7 .6z" fill="#fa70b5"/><path d="M303 287.3l-1.3-.3 .7 1.2 .8-.2 0-.4z" fill="#2721f1"/><path d="M299.4 286.4l-1.4-.4 1.7 2.8 1-.3z" fill="#2721f1"/><path d="M301.6 245.4l-.7-.5-2.7 2.5-.1 .6 .4 .3z" fill="#47f83c"/><path d="M303.2 285.6l0-.1-.6-.3-2 1.5 .9 .2z" fill="#33fd43"/><path d="M301.2 284.6l-.7-.3-2.4 1.7 .8 .3z" fill="#33fd43"/><path d="M299.1 283.6l-.7-.3-1.6 1.3-.1 .8z" fill="#33fd43"/><path d="M299 250l-.8 .5 .3 2.7 .8-.7z" fill="#ed4fea"/><path d="M296.9 251.3l-.7 .4 .9 1.4z" fill="#ed4fea"/><path d="M300.4 235.7l0-.1-1.2-.6-3.9 1.3 1.2 .7z" fill="#e7403e"/><path d="M302.7 294.8l.5 .1 0-1.5z" fill="#1e20e3"/><path d="M303.2 290.4l0-2.1-.1 .1-1.8 5.7 .5 .7z" fill="#1e20e3"/><path d="M301.1 291l-1 1.2 .4 .6z" fill="#1e20e3"/><path d="M303.2 257l0-1.7-.6 1.3 .6 .4z" fill="#ec4434"/><path d="M303.2 252.9l0-1.2-.3 .1-1.9 3.7 .6 .4z" fill="#ec4434"/></g>
</g>
<clipPath id="cd"><rect x="577.2" y="238.7" width="104.90" height="79.00"/></clipPath>
<g clip-path="url(#cd)" stroke="#2a2a2a" stroke-width="0.3" stroke-linejoin="round">
<path d="M573.2 295.6l0 3.1 4.8 1.7 2.4-1.1 1.2-3.4-6.5-1.4z" fill="#4ed3ff"/>
<path d="M575.1 294.5l1.4-1.6-1.6-3.5-1.7 .2 0 6z" fill="#fa9a44"/>
<path d="M574.9 289.4l.5-.3 1-1.6 0-.3-2.3-5.2-.9-.3 0 7.9z" fill="#f42430"/>
<path d="M577.5 238l.4-.3 .2-3-4.9 0 0 4.3z" fill="#48de39"/>
<path d="M580.5 251.1l-1.2-3.6-5.2-3-.9 0 0 7.5z" fill="#2f2ff3"/>
<path d="M577.6 317l.7-3.6-.6-1.6-1.6-.6-2.9 .1 0 10.4 1.5 0z" fill="#1e16f5"/>
<path d="M576.4 305.3l1.5-1.2 .1-3.7-4.8-1.7 0 7.8z" fill="#222fdd"/>
<path d="M574.9 289.4l1.6 3.5 3.8-1.3-4.9-2.5z" fill="#30e14c"/>
<path d="M597.6 239.1l1.1 0 .8-.4 .2-4-5 0z" fill="#4efa32"/>
<path d="M577.5 238l-4.3 5.9 0 .6 .9 0 5.7-3.5-1.9-3.3z" fill="#f3f671"/>
<path d="M573.2 239l0 4.9 4.3-5.9z" fill="#8fea4e"/>
<path d="M573.2 306.5l0 4.8 2.9-.1 .9-2.4-.6-3.5z" fill="#8cfe37"/>
<path d="M577.6 317l3.5-1.1-.2-1.4-2.6-1.1z" fill="#2233e8"/>
<path d="M575.4 289.1l4.9 2.5 2.7-.1 .1 0-.2-.8-6.5-3.2z" fill="#f5a52d"/>
<path d="M576.4 305.3l.6 3.5 1.9-1.4 .5-1.8-1.5-1.5z" fill="#1735df"/>
<path d="M576.2 267.4l3.9-3.5 .8-1-4.5-6.9-3.2 .2 0 11.2z" fill="#94ff33"/>
<path d="M576.4 256l7.4-2-3.3-2.9-7.3 .9 0 4.2z" fill="#3636ea"/>
<path d="M578.6 277.1l2.2-5.6-4.6-4.1-3 0 0 11.2z" fill="#82e454"/>
<path d="M577.9 237.7l1.9 3.3 2.5 .6 1.6-6.9-5.8 0z" fill="#f1b348"/>
<path d="M580.5 251.1l3.3 2.9 .1 0 2-1.6-.3-2.6-3.9-5.1-2.4 2.8z" fill="#eaf161"/>
<path d="M580.8 271.5l-2.2 5.6 .1 3.8 4.7-2.2-2.2-7z" fill="#3af433"/>
<path d="M581.2 271.7l8.6 0 1.7-2.8-11.4-5-3.9 3.5 4.6 4.1z" fill="#4f8df0"/>
<path d="M574.1 282l3.8-.1 .8-1-.1-3.8-5.4 1.5 0 3.1z" fill="#f234e0"/>
<path d="M579.3 247.5l2.4-2.8 .6-1.1 .1-1.9-.1-.1-2.5-.6-5.7 3.5z" fill="#e636df"/>
<path d="M576.4 256l4.5 6.9 3.3-3.4-.3-5.5-.1 0z" fill="#ffa04c"/>
<path d="M574.1 282l2.3 5.2 4.1-1.5-.5-1.6-2.1-2.2z" fill="#5496e0"/>
<path d="M575.1 294.5l6.5 1.4 .3-.4 1.1-4-2.7 .1-3.8 1.3z" fill="#da43dd"/>
<path d="M579.8 310.5l2.5-3.1-1.8-1.4-1.1-.4-.5 1.8z" fill="#fd3542"/>
<path d="M578.9 307.4l-1.9 1.4-.9 2.4 1.6 .6 2-1.1 .1-.2z" fill="#7ae83c"/>
<path d="M579.4 305.6l1.1 .4 3.6-4.2-3.7-2.5-2.4 1.1-.1 3.7z" fill="#39f431"/>
<path d="M576.4 287.2l0 .3 6.5 3.2 0-1.9-2.4-3.1z" fill="#7392e6"/>
<path d="M577.9 281.9l2.1 2.2 5.2-2.6-.1-1.2-.4-.7-1.3-.9-4.7 2.2z" fill="#32e347"/>
<path d="M581.9 295.5l5.5 3.2 1.5-2.2-.2-.4-3.9-4.3-1.7-.3-.1 0z" fill="#88f633"/>
<path d="M580.4 299.3l3.7 2.5 1.1 .4 1.4-.3 .8-3.2-5.5-3.2-.3 .4z" fill="#e04eb8"/>
<path d="M574.7 321.7l1.2 0 7.1-3.8-1.9-2-3.5 1.1z" fill="#e4ad43"/>
<path d="M578.3 313.4l2.6 1.1 2.3-1.6-.2-.8-3.3-1.4-2 1.1z" fill="#e755d0"/>
<path d="M579.7 310.7l3.3 1.4 2.1-3.4-1.1-1.1-1.7-.2-2.5 3.1z" fill="#38e840"/>
<path d="M582.9 288.8l2.2-3 1-2.4-.9-1.9-5.2 2.6 .5 1.6z" fill="#ea2fe2"/>
<path d="M580.9 262.9l-.8 1 11.4 5 2-2.5 .3-2.5-.9-.8-8.7-3.6z" fill="#e92fff"/>
<path d="M589.8 321.5l-.9-1.2-2.9-2.3-3-.1-7.1 3.8 13.9 0z" fill="#8ee22f"/>
<path d="M580.9 314.5l.2 1.4 1.9 2 3 .1-.9-3.2-1.9-1.9z" fill="#e537ff"/>
<path d="M580.5 306l1.8 1.4 1.7 .2 1.2-5.4-1.1-.4z" fill="#47ea3e"/>
<path d="M588.9 320.3l1-8.3-2.3-.6-2.5 3.4 .9 3.2z" fill="#5ce6e2"/>
<path d="M583 312.1l.2 .8 1.9 1.9 2.5-3.4-1.8-2.5-.7-.2z" fill="#78e93a"/>
<path d="M585.1 308.7l.7 .2 5.3-3.3-.1-1.4-.3-.2-4.1-2.1-1.4 .3-1.2 5.4z" fill="#f12e2b"/>
<path d="M582.4 241.7l3.3 0 1.3-7-3.1 0-1.6 6.9z" fill="#6fff40"/>
<path d="M581.7 244.7l3.9 5.1 .1-3.7-3.4-2.5z" fill="#53eb39"/>
<path d="M585.7 246.1l3.5-3.3-3.5-1.1-3.3 0-.1 1.9z" fill="#e4f955"/>
<path d="M583.4 278.7l1.3 .9 5.6-6.3-.5-1.6-8.6 0z" fill="#8ce850"/>
<path d="M582.9 290.7l.2 .8 1.7 .3 4.8-1.7 .8-2.4-5.3-1.9-2.2 3z" fill="#70a1de"/>
<path d="M591.7 241l5.9-1.9-2.9-4.4-4.8 0z" fill="#3635e2"/>
<path d="M585.9 252.4l2.8-.7 3.2-5.3 0-2.6-.6-1.3-2.1 .3-3.5 3.3-.1 3.7z" fill="#73e9ff"/>
<path d="M585.1 280.3l6.4-1.2-1.1-5.7-.1-.1-5.6 6.3z" fill="#ccdc56"/>
<path d="M587.6 311.4l2.3 .6 2.7-1.6-.9-3.8-.6-1-5.3 3.3z" fill="#f85cd4"/>
<path d="M585.1 285.8l5.3 1.9 .2-.3 .9-3.3-5.4-.7z" fill="#76f32c"/>
<path d="M583.9 254l.3 5.5 8.7 3.6-.8-9.6-3.4-1.8-2.8 .7z" fill="#3bf94d"/>
<path d="M590.4 273.4l7.6 2.6 2-3.9-6.5-5.7-2 2.5-1.7 2.8 .5 1.6z" fill="#33fa39"/>
<path d="M587.4 298.7l-.8 3.2 4.1 2.1-.2-7.2-1.6-.3z" fill="#4fe640"/>
<path d="M585.2 281.5l.9 1.9 5.4 .7 .5-.4 .8-2.9-1.3-1.7-6.4 1.2z" fill="#48f133"/>
<path d="M589.2 242.8l2.1-.3 .4-1.5-1.8-6.3-2.9 0-1.3 7z" fill="#3117ff"/>
<path d="M588.7 296.1l2.8-4.5-1.9-1.5-4.8 1.7z" fill="#f74eb9"/>
<path d="M588.7 251.7l3.4 1.8 1.4-.2 2-4.5-3.6-2.4z" fill="#2de23b"/>
<path d="M589.8 321.5l5.3-7.2-1.4-3.2-1.1-.7-2.7 1.6-1 8.3z" fill="#48e731"/>
<path d="M591.5 284.1l-.9 3.3 6.5 2.6 .4-.4-.1-.3-3.2-4.2-2.2-1.4z" fill="#6eb4e9"/>
<path d="M592.6 310.4l1.1 .7 5.8-2.8 .1-.2 0-.3-.6-1-7.3-.2z" fill="#fb2d1c"/>
<path d="M591.5 291.6l2.8 1.2 .7-.1 2.1-2.7-6.5-2.6-.2 .3-.8 2.4z" fill="#8942ed"/>
<path d="M588.7 296.1l.2 .4 1.6 .3 .5 0 3.3-4-2.8-1.2z" fill="#e371b0"/>
<path d="M590.7 304l.3 .2 4.2-2.9 .2-1.1-4.4-3.4-.5 0z" fill="#f73e41"/>
<path d="M593.8 263.9l.5-.3 2.5-5.5 .5-3.6-.2-.3-3.6-.9-1.4 .2 .8 9.6z" fill="#d43cf2"/>
<path d="M594.3 292.8l-3.3 4 4.4 3.4 .7-.7-.3-5.2-.8-1.6z" fill="#9a3de8"/>
<path d="M591.7 306.6l7.3 .2-.4-2.3-3.4-3.2-4.2 2.9 .1 1.4z" fill="#f7aa4e"/>
<path d="M589.8 321.7l7.3 0 2.5-5.8 0-.9-4.5-.7-5.3 7.2z" fill="#fa57b2"/>
<path d="M592.8 280.8l5.5-1.4-.3-3.4-7.6-2.6 1.1 5.7z" fill="#e8f060"/>
<path d="M592 283.7l2.2 1.4 5.2-1.9 .7-1.1-.2-1.5-1.6-1.2-5.5 1.4z" fill="#cd46e6"/>
<path d="M597.4 289.3l2-6.1-5.2 1.9z" fill="#76e34a"/>
<path d="M597.1 290l-2.1 2.7 .8 1.6 4.2 1.2 4.7-2.2-2.8-2.7-4.4-1z" fill="#6bb2e1"/>
<path d="M593.5 253.3l3.6 .9 1.3-5.1-2.9-.3z" fill="#de6bc7"/>
<path d="M591.9 243.8l3.2 .4 3.3-1.8 .3-3.3-1.1 0-5.9 1.9-.4 1.5z" fill="#48e536"/>
<path d="M595.2 301.3l3.4 3.2 3.3-2.8-1.1-1.9-2.5-.8-2.2 .5-.7 .7z" fill="#292bec"/>
<path d="M593.8 263.9l-.3 2.5 6.5 5.7 6-1 .2-.6-2.5-3.4-8.7-3.5-.7 0z" fill="#91e939"/>
<path d="M591.9 246.4l3.6 2.4 2.9 .3 2.1-1.5-5.4-3.4-3.2-.4z" fill="#74e5fd"/>
<path d="M593.7 311.1l1.4 3.2 4.5 .7 0-.1 .5-2.2-.6-4.4z" fill="#f02431"/>
<path d="M596.1 299.5l2.2-.5 1.7-3.5-4.2-1.2z" fill="#e16fcb"/>
<path d="M600.5 247.6l1.2-.3-3.3-4.9-3.3 1.8z" fill="#2f2be5"/>
<path d="M599.9 280.6l8.7-3.8-2.6-5.7-6 1-2 3.9 .3 3.4z" fill="#3934ea"/>
<path d="M596.8 258.1l4.7-.2 .7-2.1-.8-1.1-4.1-.2z" fill="#1e26f1"/>
<path d="M598.4 249.1l-1.3 5.1 .2 .3 4.1 .2 2.7-7.3-2.4-.1-1.2 .3z" fill="#1523fb"/>
<path d="M602.1 318.7l-2.7 3 8.8 0z" fill="#68d0ff"/>
<path d="M599.5 308.3l.6 4.4 5.4-1.8-.1-.8-5.8-2z" fill="#ff1f20"/>
<path d="M599 306.8l.6 1 2.7-1.6 1.3-1.5 .2-2.4-1.9-.6-3.3 2.8z" fill="#74f942"/>
<path d="M619.1 234.8l4.1 4.6 7.5-3.6 .4-1.1-12 0z" fill="#60f1a4"/>
<path d="M598.4 242.4l3.3 4.9 2.4 .1 .4-.2-1.1-7-3.9-1.5-.8 .4z" fill="#81ff32"/>
<path d="M597.5 289.6l4.4 1 1.4-5.5-3.2-3-.7 1.1-2 6.1z" fill="#70e2a6"/>
<path d="M594.3 263.6l.7 0 6.8-2.4-.3-3.3-4.7 .2z" fill="#4ddf31"/>
<path d="M599.6 315.9l2.5 2.8 6.1 3 .1 0-1.7-6.6-7-.2 0 .1z" fill="#d154ff"/>
<path d="M598.3 299l2.5 .8 4-5.4 .3-.9-.4-.2-4.7 2.2z" fill="#8deb53"/>
<path d="M601.8 261.2l1.3 .4 5-1.5-.5-3.4-5.4-.9-.7 2.1z" fill="#7f31ee"/>
<path d="M595 263.6l8.7 3.5-.6-5.5-1.3-.4z" fill="#cf32e1"/>
<path d="M602.2 255.8l5.4 .9 .9-2-.7-2.2-2.2-5-1.1-.3-.4 .2-2.7 7.3z" fill="#dd4eef"/>
<path d="M600.8 299.8l1.1 1.9 1.9 .6 1.1-.5-.1-7.4z" fill="#76fb42"/>
<path d="M605.1 293.5l3-.3 3.3-8.3 0-1.1-8.1 1.3-1.4 5.5 2.8 2.7z" fill="#6cea3a"/>
<path d="M597.1 321.7l2.3 0 2.7-3-2.5-2.8z" fill="#4afa37"/>
<path d="M608.3 321.7l2 0 3.6-9.1-.7-1.5-6.2 3-.4 1z" fill="#e66fb5"/>
<path d="M606 271.1l2.6 5.7 .8 .6 4-2.3 2-5.1 0-.1-2.1-1.5-5.7 .6-1.4 1.5z" fill="#2ef32c"/>
<path d="M599.6 307.8l0 .3 5.8 2 .9-1.7-4-2.2z" fill="#75e831"/>
<path d="M600.1 282.1l3.2 3 8.1-1.3 .2-.5-2.2-5.9-.8-.6-8.7 3.8z" fill="#201ee2"/>
<path d="M606.2 270.5l1.4-1.5 1.8-7.3-.2-.5-1.1-1.1-5 1.5 .6 5.5z" fill="#2f26fd"/>
<path d="M599.5 238.7l3.9 1.5 1.6-1.5 2.1-4-7.4 0z" fill="#51dc38"/>
<path d="M599.6 314.9l7 .2 .4-1-1.5-3.2-5.4 1.8z" fill="#1819ff"/>
<path d="M602.3 306.2l4 2.2 1-1.1-3.7-2.6z" fill="#241aef"/>
<path d="M605.4 310.1l.1 .8 1.5 3.2 6.2-3 0-.3-2.3-4-1.1-.8-2.5 1.3-1 1.1z" fill="#fc3e38"/>
<path d="M603.6 304.7l3.7 2.6 2.5-1.3-.6-3.4-4.3-.8-1.1 .5z" fill="#84e832"/>
<path d="M607.1 246.9l2.9-2.8 .8-1.9-5.8-3.5-1.6 1.5 1.1 7 1.1 .3z" fill="#8fed40"/>
<path d="M605.6 247.5l2.2 5 6.6-2.6-7.3-3z" fill="#80ff43"/>
<path d="M604.8 294.4l.1 7.4 4.3 .8 2.9-5.1-.2-.9-3.8-3.4-3 .3z" fill="#1715dc"/>
<path d="M608.5 254.7l1.9-.2 5.1-2.6-.8-2-.3 0-6.6 2.6z" fill="#92fa2e"/>
<path d="M609.2 261.2l4.5-2.7 .3-1.3-3.6-2.7-1.9 .2-.9 2 .5 3.4z" fill="#fa9f40"/>
<path d="M609.8 306l1.1 .8 3-1.8 .1-6-1.9-1.5-2.9 5.1z" fill="#8aff2e"/>
<path d="M607.6 269l5.7-.6 1.3-4.3 0-.1-.5-.5-4.7-1.8z" fill="#9b31e7"/>
<path d="M611.1 241.8l.1 0 3-7.1-5.6 0z" fill="#84f531"/>
<path d="M610.8 242.2l.3-.4-2.5-7.1-1.5 0-2.1 4z" fill="#52de3f"/>
<path d="M616.2 314.4l-2.3-1.8-3.6 9.1 1.8 0z" fill="#5f8ee9"/>
<path d="M610.9 306.8l2.3 4 1.9-.9 3.4-5.7-4.6 .8z" fill="#2c33ff"/>
<path d="M607.1 246.9l7.3 3 .3 0 .4-1.3 .1-.6-.3-1.7-4.9-2.2z" fill="#92ff3c"/>
<path d="M611.1 241.8l-.3 .4-.8 1.9 4.9 2.2 .7-1.3-1.6-3.5-2.8 .3z" fill="#211afc"/>
<path d="M611.4 283.8l0 1.1 4.2 4.4 5.1-2.9 .4-.8-.1-.6-2-2.4-7.4 .7z" fill="#84df3d"/>
<path d="M609.2 261.2l.2 .5 4.7 1.8 1.7-3.7-2.1-1.3z" fill="#d63ced"/>
<path d="M611.9 296.6l6.1-3.8-2.4-3.5-4.2-4.4-3.3 8.3z" fill="#271bff"/>
<path d="M610.4 254.5l3.6 2.7 3.8-3.2-.2-.7-2.1-1.4z" fill="#dd3ddc"/>
<path d="M615.1 248.6l6.1-.2 .7-2.7-.2-.1-6.5 2.4z" fill="#351afe"/>
<path d="M613.9 305l4.6-.8 0 0 .4-2.2 0-.5-4.9-2.5z" fill="#db51e7"/>
<path d="M613.2 311.1l.7 1.5 2.3 1.8 1.7 .8 1.5-.2 0-4.8-4.3-.3-1.9 .9z" fill="#72df4f"/>
<path d="M611.2 241.8l2.8-.3 2.5-1.6 2.6-5.1 0-.1-4.9 0z" fill="#54ed39"/>
<path d="M613.3 268.4l2.1 1.5 .9-.7 .8-1.5-2.5-3.6z" fill="#44eb36"/>
<path d="M611.6 283.3l7.4-.7 1.3-2.4-.6-3.2-2-1.7-4.3-.2-4 2.3z" fill="#301dfd"/>
<path d="M615.6 245l2.7-1-1.8-4.1-2.5 1.6z" fill="#6198fb"/>
<path d="M615.2 248l6.5-2.4-3.4-1.6-2.7 1-.7 1.3z" fill="#74e3ff"/>
<path d="M618 292.8l.1 0 2.6-6.4-5.1 2.9z" fill="#54cde5"/>
<path d="M612.1 297.5l1.9 1.5 4.9 2.5 3-2.6-1.7-5.1-2.1-1-.1 0-6.1 3.8z" fill="#78f02c"/>
<path d="M613.7 258.5l2.1 1.3 5.6-1.1-3.6-4.7-3.8 3.2z" fill="#7adf34"/>
<path d="M614.6 264l7.4-.7 0-.1-.6-4.5 0 0-5.6 1.1-1.7 3.7z" fill="#93e054"/>
<path d="M617.9 315.2l-1.7-.8-4.1 7.3 3.5 0z" fill="#fc253f"/>
<path d="M621 315.6l-1.6-.6-1.5 .2-2.3 6.5 12.2 0z" fill="#8d47ff"/>
<path d="M613.4 275.1l4.3 .2 .8-3-3.1-2.3z" fill="#844ff9"/>
<path d="M616.5 239.9l1.8 4.1 3.4 1.6 .2 .1 .3-.2 1.1-5.7-.1-.4-4.1-4.6z" fill="#70e6ff"/>
<path d="M614.7 249.9l.8 2 2.1 1.4 3.3-3.2 .3-1.7-6.1 .2z" fill="#8aff37"/>
<path d="M614.6 264l0 .1 2.5 3.6 4.8-4 .1-.4z" fill="#eaf054"/>
<path d="M615.4 270l3.1 2.3 .5-.2 .3-2.7-3-.2-.9 .7z" fill="#75f743"/>
<path d="M617.7 275.3l2 1.7 1.7-2-.1-2.9-2.3 0-.5 .2z" fill="#dd52fe"/>
<path d="M617.8 254l3.6 4.7 0 0 4.3-3-.7-3.2-4.1-2.4-3.3 3.2z" fill="#804edf"/>
<path d="M618.5 304.2l-3.4 5.7 4.3 .3 2.4-1.8-3.3-4.2z" fill="#e0ab3a"/>
<path d="M621.1 285.6l.6 .6 4.8 3.8 2.6 0 .4-1.6-.5-2.2-1-1.4-1.4-.9-5.6 1.1z" fill="#85f33d"/>
<path d="M616.3 269.2l3 .2 2.5-1.5 .1-4.2-4.8 4z" fill="#6feb3b"/>
<path d="M619.4 315l1.6 .6 2.4-6.1-.5-.9-1.1-.2-2.4 1.8z" fill="#ed6cb7"/>
<path d="M620.7 286.4l-2.6 6.4 2.1 1 2.1-1.1-.6-6.5-.6-.6z" fill="#2223f6"/>
<path d="M620.9 250.1l4.1 2.4 .7-1.5 1-3.9-4.5-1.6-.3 .2-.7 2.7z" fill="#9145dc"/>
<path d="M619.3 269.4l-.3 2.7 2.3 0 .5-.4 .8-1.9-.8-1.9z" fill="#dc71ae"/>
<path d="M618.5 304.2l3.3 4.2 1.1 .2 1.6-1.7-.8-2.6-4.8-2.3z" fill="#3614f7"/>
<path d="M621.9 263.7l-.1 4.2 .8 1.9 7.6 2.2 .7-.1-.8-3.7-2.4-3.6-5.7-1.4 0 .1z" fill="#66e8ec"/>
<path d="M640.6 319.9l3.3-4.1-3.1-.6-5.7 6.5 3.3 0z" fill="#172ffe"/>
<path d="M646.5 317.9l-5.9 2-2.2 1.8 8.2 0z" fill="#60ea93"/>
<path d="M627.8 321.7l2.3 0 .7-6.3-7.4-5.9-2.4 6.1z" fill="#ff8d37"/>
<path d="M619 282.6l2 2.4 5.6-1.1 0-1-4.5-3.3-1.8 .6z" fill="#2dff50"/>
<path d="M624.5 306.9l4.3-1.7-2.8-5.3-2.3 4.4z" fill="#8bff4b"/>
<path d="M620.2 293.8l1.7 5.1 3.9 .3 .7-.6 .4-2.1-4-4-.6 .2z" fill="#ee41eb"/>
<path d="M618.9 302l4.8 2.3 2.3-4.4-.2-.7-3.9-.3-3 2.6z" fill="#66d2df"/>
<path d="M619.7 277l.6 3.2 1.8-.6 2.2-1 .9-3.7-3.8 .1z" fill="#e5ef6b"/>
<path d="M622 263.2l5.7 1.4 1.2-1.7 .1-4.4-1.4-2.7-1.9-.1-4.3 3z" fill="#86eb50"/>
<path d="M621.4 275l3.8-.1 .3-.3-3.7-2.9-.5 .4z" fill="#e45cd2"/>
<path d="M623.4 309.5l7.4 5.9 .4-.6 .4-5.8-2.6-3.7-.2-.1-4.3 1.7-1.6 1.7z" fill="#d3ed50"/>
<path d="M622.3 292.7l.6-.2 3.6-2.5-4.8-3.8z" fill="#54e83e"/>
<path d="M625.2 274.9l-.9 3.7 2.9 1.1 3.9-1.7 .6-5.6-.8-.5-.7 .1-4.7 2.6z" fill="#f9a43b"/>
<path d="M621.8 271.7l3.7 2.9 4.7-2.6-7.6-2.2z" fill="#f250b0"/>
<path d="M631.2 314.8l7.4-3-.4-2.1-2.7-3.1-1.5 .7-2.4 1.7z" fill="#79ea31"/>
<path d="M634 307.3l-1.3-5.3-1.7 1.2-2 2.1 2.6 3.7z" fill="#261eec"/>
<path d="M622.1 279.6l4.5 3.3 .6-3.2-2.9-1.1z" fill="#f4e556"/>
<path d="M626.7 247.1l1.7-.3 0-.2 .7-2.9-2.7-2.7-3.1-1.2-1.1 5.7z" fill="#f950c8"/>
<path d="M622.9 292.5l4 4 2-3.4 .5-1.6 0-1-.3-.5-2.6 0z" fill="#353bff"/>
<path d="M628.9 293.1l4 5.5 .8 .1 1.3-1.3-5.6-5.9z" fill="#f13aff"/>
<path d="M626 299.9l2.8 5.3 .2 .1 2-2.1-1.6-4.4-2.9-.2-.7 .6z" fill="#6eff4a"/>
<path d="M625.7 255.7l1.9 .1 .1 0 1.9-4.2-3.9-.6-.7 1.5z" fill="#78fa51"/>
<path d="M626.6 283.9l1.4 .9 3.6-5.8-.5-1-3.9 1.7-.6 3.2z" fill="#f43543"/>
<path d="M625.7 251l3.9 .6 1.2-1.7-1.3-2-1.1-1.1-1.7 .3z" fill="#73df44"/>
<path d="M623.3 239.8l3.1 1.2 4.6-2.1-.3-3.1-7.5 3.6z" fill="#f31c2b"/>
<path d="M627.7 255.8l2.8-.3 1.4-1.3 1.7-1.9-.4-1.5-2.4-.9-1.2 1.7z" fill="#5aedf5"/>
<path d="M631.6 279l1.2 1.3 4.2 1.7 1-.5 1-1.4-1.1-6.8-1.2-.7-2.5-.3-2.5 .1-.6 5.6z" fill="#e26fbd"/>
<path d="M630.1 268.2l2.3-2.1 2.4-3.4-1.4-1.7-4.5 1.9-1.2 1.7z" fill="#ee3328"/>
<path d="M628.4 246.6l7.8-2.6-.3-1.2-4-1.6-2.8 2.5z" fill="#5cfaa9"/>
<path d="M631 238.9l.9 2.3 4 1.6 1.1-2-.9-6.1-5 0-.4 1.1z" fill="#2321df"/>
<path d="M629.1 243.7l2.8-2.5-.9-2.3-4.6 2.1z" fill="#d3fd60"/>
<path d="M629 286.2l2.9-2.9 .9-3-1.2-1.3-3.6 5.8z" fill="#f7b333"/>
<path d="M626.5 298.6l2.9 .2 3.5-.2-4-5.5-2 3.4z" fill="#e2f24d"/>
<path d="M627.6 255.8l1.4 2.7 4.5 .8 .7-1.2-3.7-2.6-2.8 .3z" fill="#3dff50"/>
<path d="M629.4 298.8l1.6 4.4 1.7-1.2 .4-.4 .6-1.9 0-1-.8-.1z" fill="#39ff2f"/>
<path d="M630.1 268.2l.8 3.7 .8 .5 2.5-.1 2-6.6-3.8 .4z" fill="#93ff4c"/>
<path d="M629.4 291.5l5.6 5.9 2.2-1.2 0-.4-6.2-5.1-1.6-.2z" fill="#81e34f"/>
<path d="M632.7 302l1.3 5.3 1.5-.7 .1-.1 .1-1.6-2.6-3.3z" fill="#8dea43"/>
<path d="M630.8 249.9l2.4 .9 3.8-3.6-.1-1.8-7.4 2.5z" fill="#1b31f1"/>
<path d="M628.9 262.9l4.5-1.9 .1-1.7-4.5-.8z" fill="#48fc2e"/>
<path d="M628.4 246.8l1.1 1.1 7.4-2.5 0-.2-.7-1.2-7.8 2.6z" fill="#1d15f7"/>
<path d="M629.5 288.4l4.7-2.4-2.3-2.7-2.9 2.9z" fill="#2a27ee"/>
<path d="M635.9 242.8l.3 1.2 .7 1.2 6.3-1.4-.1-3.2-1.9-1-4.2 1.2z" fill="#5c90fb"/>
<path d="M634.2 286l1.7-.3 1.1-3.7-4.2-1.7-.9 3z" fill="#6ad8ff"/>
<path d="M629.4 290.5l1.6 .2 7-1 0-.1-2.1-3.9-1.7 .3-4.7 2.4-.4 1.6z" fill="#d7fc72"/>
<path d="M633.4 261l1.4 1.7 2 .5 1.8-.6-3-5.3-.7 .4-.7 .4-.7 1.2z" fill="#68edf7"/>
<path d="M630.5 255.5l3.7 2.6 .7-.4-3-3.5z" fill="#88ea36"/>
<path d="M635.3 253.8l3.9-1.4 1.1-1.9-3.3-3.3-3.8 3.6 .4 1.5z" fill="#6399e9"/>
<path d="M633.6 252.3l-1.7 1.9 3 3.5 .7-.4 0-.1-.3-3.4z" fill="#f46cc8"/>
<path d="M630.8 315.4l-.7 6.3 5 0 5.7-6.5-1.3-3.3-.9-.1-7.4 3z" fill="#e74db2"/>
<path d="M633.7 299.7l3.6 3 3.4-.9 2-2.7 .2-.3-5.7-2.6-2.2 1.2-1.3 1.3z" fill="#1921ff"/>
<path d="M633.1 301.6l2.6 3.3 1.6-2.2-3.6-3z" fill="#d8e655"/>
<path d="M632.4 266.1l3.8-.4 .2-.3 .4-2.2-2-.5z" fill="#5ee3f6"/>
<path d="M637.2 295.8l.8-6.1-7 1z" fill="#e4f35e"/>
<path d="M637 240.8l4.2-1.2-.7-4.9-4.4 0z" fill="#151ddc"/>
<path d="M638 289.6l1.6-.3 2.4-3.6-4-4.2-1 .5-1.1 3.7z" fill="#87ff2f"/>
<path d="M636.2 265.7l-2 6.6 2.5 .3 1.5-2.7-.3-3-1.5-1.5z" fill="#79f54f"/>
<path d="M638 289.7l-.8 6.1 0 .4 5.7 2.6 .4-.1 1.5-3-1-3.2-2.2-2.1-2-1.1-1.6 .3z" fill="#91ea35"/>
<path d="M635.6 306.5l4.6-.4 .5-4.3-3.4 .9-1.6 2.2z" fill="#a247e9"/>
<path d="M635.6 306.5l-.1 .1 2.7 3.1 2.1-3.5-.1-.1z" fill="#f15cba"/>
<path d="M636.9 245.4l.1 1.8 3.3 3.3 2.9 0 .5-.3 0-5.9-.5-.5-6.3 1.4z" fill="#7bea4a"/>
<path d="M635.6 257.2l4-.2 .2-.2-.6-4.4-3.9 1.4z" fill="#eb66bf"/>
<path d="M636.7 272.6l1.2 .7 2-.1 4.7-5 .1-.8-3.7-.3-2.8 2.8z" fill="#80ea3b"/>
<path d="M636.4 265.4l1.5 1.5 1.7-2-.5-2.3-.5 0-1.8 .6z" fill="#dc9f52"/>
<path d="M638.2 269.9l2.8-2.8-1.4-2.2-1.7 2z" fill="#fe50cc"/>
<path d="M635.6 257.3l3 5.3 .5 0 0 0 .5-5.6-4 .2z" fill="#f65ab1"/>
<path d="M639.6 257l-.5 5.6 1.8-.3 .2-.2 .7-5.1-2-.2z" fill="#84f340"/>
<path d="M638.6 311.8l.9 .1 3.4-1.8-.7-2.3-1.9-1.6-2.1 3.5z" fill="#5fe6ad"/>
<path d="M640.8 315.2l3.1 .6 1-.2 .3-2.1-.6-2.7-1.7-.7-3.4 1.8z" fill="#6ee241"/>
<path d="M640.3 306.2l1.9 1.6 1.6-1.7-1.1-7-2 2.7-.5 4.3z" fill="#52f4fd"/>
<path d="M639.1 262.6l.5 2.3 1.4 2.2 3.7 .3 .7-.7-4.5-4.4-1.8 .3z" fill="#ee59b0"/>
<path d="M641.2 239.6l1.9 1 2.6-1.9 .4-4-5.6 0z" fill="#f43c35"/>
<path d="M643.2 243.8l.5 .5 5.1-.1-.7-3.7-2.4-1.8-2.6 1.9z" fill="#ff962c"/>
<path d="M642 285.7l1.6-.5 .6-1.5-4.6-3.6-.6 0-1 1.4z" fill="#1626fc"/>
<path d="M641.8 257l1.3-.2 .1-6.3-2.9 0-1.1 1.9 .6 4.4z" fill="#fe2e21"/>
<path d="M639 280.1l.6 0 3.7-1 1.4-2.4-1.1-1.5-3.1-1.8-.6-.2-2 .1z" fill="#2616ff"/>
<path d="M643.1 256.8l2 1.1 5-2.3 .8-2.3-1.4-2.2-5.8-.9-.5 .3z" fill="#70f32e"/>
<path d="M641.1 262.1l3.7-1.6 .3-2.6-2-1.1-1.3 .2z" fill="#58e48d"/>
<path d="M643.9 315.8l-3.3 4.1 5.9-2 0-.3-1.6-2z" fill="#60eafd"/>
<path d="M639.6 289.3l2 1.1 4-3.1 0-.4-2-1.7-1.6 .5z" fill="#2133de"/>
<path d="M645.3 270l4 2 .9-1.2-.4-4.8-.4-.4-.1-.1-.4-.2-.9 0-2.6 1.4-.7 .7-.1 .8z" fill="#2034f8"/>
<path d="M644.6 268.2l-4.7 5 .6 .2 4.8-1.9 0-1.5z" fill="#81fb48"/>
<path d="M644.2 283.7l1.1-1.5-2-3.1-3.7 1z" fill="#5efd9d"/>
<path d="M640.9 262.3l4.5 4.4 2.6-1.4-3.2-4.8-3.7 1.6z" fill="#2533e9"/>
<path d="M644.6 310.8l8.9-5.5-.8-.3-8.9 1.1-1.6 1.7 .7 2.3z" fill="#6ff346"/>
<path d="M642.7 299.1l1.1 7 8.9-1.1-9.4-6.3-.4 .1z" fill="#d933f2"/>
<path d="M651.4 235.5l2.7 4.2 1.3 1.1 .2 0 .7-1.2 1.1-4.9-6.3 0z" fill="#73e753"/>
<path d="M643.8 292.5l2.4-3.4-.6-1.8-4 3.1z" fill="#92df52"/>
<path d="M644.2 283.7l-.6 1.5 2 1.7 1.8-.7 1.7-2.3 .4-1.5-.7-.6-3.5 .4z" fill="#71e035"/>
<path d="M659 319.7l-.2-.7-3.5 1.2-.3 1.5 3.9 0z" fill="#6fe830"/>
<path d="M646.5 317.9l.1 3.8 5 0 .5-5.8-5.6 1.7z" fill="#91ff44"/>
<path d="M644.8 260.5l3.2 4.8 .9 0 1.8-7.9-.6-1.8-5 2.3z" fill="#4f9ffb"/>
<path d="M643.6 275.2l2-2.8-.3-.9-4.8 1.9z" fill="#1d33fa"/>
<path d="M645.6 272.4l3.2 1.1 .5-1.5-4-2 0 1.5z" fill="#ff51ce"/>
<path d="M645.6 287.3l.6 1.8 4.5 1.8-.1-1.8-3.2-2.9-1.8 .7z" fill="#e559b3"/>
<path d="M643.3 279.1l2 3.1 3.5-.4-.5-5.1-3.6 0z" fill="#2837f2"/>
<path d="M644.7 276.7l3.6 0 .7-.7-.2-2.5-3.2-1.1-2 2.8z" fill="#ee59c6"/>
<path d="M645.2 313.5l7.8-.6 1.2-6.9-.3-.6-.4-.1-8.9 5.5z" fill="#77ff53"/>
<path d="M644.8 295.7l5.8-2.5 .2-2.2-.1-.1-4.5-1.8-2.4 3.4z" fill="#2d27ed"/>
<path d="M644.9 315.6l1.6 2 5.6-1.7 .9-1 0-.3 0-1.7-7.8 .6z" fill="#1e2be9"/>
<path d="M649.5 251.1l.7-3.4-.5-2.9-.9-.6-5.1 .1 0 5.9z" fill="#301ce6"/>
<path d="M648.3 276.7l.5 5.1 .7 .6 3.5 0 1.9-.3 .8-5.5-6.7-.6z" fill="#ff58bf"/>
<path d="M648.8 244.2l.9 .6 5.7-4-1.3-1.1-5.3 .4-.7 .4z" fill="#5ea1f8"/>
<path d="M650.7 257.4l3 2.2 2.9-1 .4-1-5.6-4.3-.5 0-.8 2.3z" fill="#36f83c"/>
<path d="M647.4 286.2l3.2 2.9 .4-1.4-.1-.2-1.8-3.6z" fill="#3416f4"/>
<path d="M643.3 298.7l9.4 6.3 .8 .3 .4 .1 1.7-3.8-1.3-5-3.7-3.4-5.8 2.5z" fill="#f4e84e"/>
<path d="M649 276l6.7 .6 .7-.8 0-.1-1.1-3.2-5.1-1.7-.9 1.2-.5 1.5z" fill="#fa2833"/>
<path d="M648.8 240.1l2.6-4.6-.3-.8-5 0-.4 4 2.4 1.8z" fill="#50d8ea"/>
<path d="M650.6 289.1l.1 1.8 .1 .1 3.6-1.5-.5-3.5-2.9 1.7z" fill="#588ddf"/>
<path d="M653 314.9l-.9 1-.5 5.8 3.4 0 .3-1.5-.4-3.3z" fill="#151eff"/>
<path d="M654.9 316.9l3.9 1.4 2.5-3-8.3-.7 0 .3z" fill="#78fb4e"/>
<path d="M649.5 251.1l1.4 2.2 .5 0 1.8-.5 3.5-4-3.1-1.9-3.4 .8z" fill="#82e451"/>
<path d="M649.1 283.9l1.8 3.6 2.1-5.1-3.5 0z" fill="#df65b9"/>
<path d="M651 287.7l2.9-1.7 1.4-3.3-.4-.6-1.9 .3-2.1 5.1z" fill="#5eefa6"/>
<path d="M654.3 296.6l4.5-5.7 .1-1-4.5-.4-3.6 1.5-.2 2.2z" fill="#983eeb"/>
<path d="M648.8 240.1l5.3-.4-2.7-4.2z" fill="#d440fb"/>
<path d="M649.3 265.5l5-4-.6-1.9-3-2.2-1.8 7.9z" fill="#6ff62f"/>
<path d="M655.7 276.6l-.8 5.5 .4 .6 2.4 1.4 4.8-5.9-2.4-2.2-.4-.1-3.3-.1z" fill="#ef4dec"/>
<path d="M655.3 272.5l1-4.9-.4-.3-6.1-1.3 .4 4.8z" fill="#e361cf"/>
<path d="M649.3 265.5l.1 .1 6.8-2.8 0-.2-1.9-1.1z" fill="#85fb31"/>
<path d="M650.2 247.7l3.4-.8 4.1-4-2.1-2.1-.2 0-5.7 4z" fill="#6cfa2f"/>
<path d="M649.8 266l6.1 1.3 .3-4.5-6.8 2.8z" fill="#3de437"/>
<path d="M653.9 286l.5 3.5 4.5 .4 .8-1.2 .3-2.2-2.3-2.4-2.4-1.4z" fill="#3c2bfa"/>
<path d="M653.6 246.9l3.1 1.9 2.4-1.1 .9-3.4-2.3-1.4z" fill="#73ed4b"/>
<path d="M654.9 316.9l.4 3.3 3.5-1.2 0-.7z" fill="#6fffb2"/>
<path d="M655.3 272.5l1.1 3.2 4.3-7.1 .1-.3-.3-1-4.2 .3z" fill="#e82cef"/>
<path d="M654.3 261.5l1.9 1.1 1.9-1.1-1.5-2.9-2.9 1z" fill="#6be2e8"/>
<path d="M653 312.9l0 1.7 8.3 .7 1-.6-4.4-7-3.7-1.7z" fill="#e344ec"/>
<path d="M651.4 253.3l5.6 4.3 .7-.4-.4-2.9-1.4-1.1-2.7-.4z" fill="#1f15ee"/>
<path d="M655.9 267.3l.4 .3 4.2-.3 1.6-1.8-1.6-3.9-2.4-.1-1.9 1.1 0 .2z" fill="#34ec36"/>
<path d="M656.7 248.8l-3.5 4 2.7 .4 4.5-2.1-1.3-3.4z" fill="#5af0f7"/>
<path d="M655.6 240.8l2.1 2.1 2.3 1.4 2.3-.6 .9-.6 3.2-5-.2-3.4-.2 0-9.7 4.9z" fill="#2df94c"/>
<path d="M654.2 306l3.7 1.7 5.9-.9-.2-3.3-3.5-4-4.5 2.1-1.7 3.8z" fill="#1419f3"/>
<path d="M657 257.6l-.4 1 1.5 2.9 2.4 .1 .5-1.1 .4-3.4-3.7 .1z" fill="#3219eb"/>
<path d="M655.6 301.6l4.5-2.1 2.1-1.3-1.3-4.2-2.1-3.1-4.5 5.7z" fill="#4df346"/>
<path d="M664.4 319.6l-5.4 .1-.1 2 5.9 0z" fill="#54eaf4"/>
<path d="M658.8 318.3l0 .7 .2 .7 5.4-.1-.1-4 0 0-.4-.5-1.6-.4-1 .6z" fill="#2fdf48"/>
<path d="M655.9 253.2l1.4 1.1 3.6 .3-.4-3.3-.1-.2z" fill="#74e82c"/>
<path d="M660.9 294l3.7-1.8-1.7-2-3.2-1.5-.8 1.2-.1 1z" fill="#6fe24a"/>
<path d="M657.7 257.2l3.7-.1 .4-.5-.9-2-3.6-.3z" fill="#88fa3e"/>
<path d="M660.9 254.6l.9 2 1.9-.3 3.4-4.1-.4-.8-1.1-.6-5.1 .5z" fill="#3cff33"/>
<path d="M660.8 268.3l1.9 2.3 3.3-.4 1.5-3.7-.3-1.3-5.1 .3-1.6 1.8z" fill="#dfef6b"/>
<path d="M656.4 275.7l0 .1 3.3 .1 1-7.3z" fill="#60e8b1"/>
<path d="M660.7 268.6l-1 7.3 .4 .1 2.6-2.9 0-2.5-1.9-2.3z" fill="#70f14d"/>
<path d="M656.3 239.6l9.7-4.9-8.6 0z" fill="#6feb51"/>
<path d="M675 239.3l4.6-.5-.7-4.1-5.2 0z" fill="#8af142"/>
<path d="M659.1 247.7l1.3 3.4 .1 .2 5.1-.5-3.3-7.1-2.3 .6z" fill="#6eeaf2"/>
<path d="M660 286.5l4.3-2.1 .4-5.2-2.2-1-4.8 5.9z" fill="#34f94d"/>
<path d="M660.5 261.6l1.6 3.9 5.1-.3 1.2-1.7-2.8-2.8-4.6-.2z" fill="#3aff36"/>
<path d="M663.2 243.1l5.6 3.8 1.4-.5 1.6-4.3-5.4-4z" fill="#ee3723"/>
<path d="M661.4 257.1l-.4 3.4 4.6 .2-.9-3.4-1-1-1.9 .3z" fill="#56e990"/>
<path d="M660 286.5l-.3 2.2 3.2 1.5 4.5-1.8 .1-.4 .1-1.8-3.3-1.8z" fill="#d82ffe"/>
<path d="M662.5 278.2l2.2 1 .1-.1 1.8-1.5-1.5-4.3-2.4-.2-2.6 2.9z" fill="#76f73f"/>
<path d="M664.3 315.6l4.9-3.2-1.1-3.5-.8-.2-3.4 6.4z" fill="#71e232"/>
<path d="M662.3 314.7l1.6 .4 3.4-6.4-1-1.6-2.5-.3-5.9 .9z" fill="#4ce834"/>
<path d="M662.3 243.7l3.3 7.1 1.1 .6 2.1-4.5-5.6-3.8z" fill="#cc54de"/>
<path d="M662.2 298.2l-2.1 1.3 3.5 4 3-3.4-2.8-1.9z" fill="#4cf030"/>
<path d="M663.8 298.2l2.7-4.9-1.9-1.1-3.7 1.8 1.3 4.2z" fill="#88fc3f"/>
<path d="M664.4 319.6l.4 2.1 6.5 0 .1-.7-3.7-4.8-3.4-.6z" fill="#47df3b"/>
<path d="M663.8 306.8l2.5 .3 2.6-5.9-2.3-1.1-3 3.4z" fill="#72e24b"/>
<path d="M667.5 266.5l2.5 2.3 1.2 1 5.6-5.6-1.2-2.2-5.5 .3-1.7 1.2-1.2 1.7z" fill="#fdad43"/>
<path d="M668.4 263.5l1.7-1.2-1.3-4.2-4.1-.8 .9 3.4z" fill="#d239fc"/>
<path d="M664.6 292.2l1.9 1.1 1.2-.5-.3-4.4-4.5 1.8z" fill="#3120ef"/>
<path d="M666.6 300.1l2.3 1.1 .7-.1 1.5-5.4-.5-2-2.9-.9-1.2 .5-2.7 4.9z" fill="#5add93"/>
<path d="M664.7 279.2l-.4 5.2 3.3 1.8 .9-.4 2.4-2.6 0-.4-6.1-3.7z" fill="#86ef3b"/>
<path d="M662.7 273.1l2.4 .2 1.4-1.5-.5-1.6-3.3 .4z" fill="#8af052"/>
<path d="M666.5 271.8l.6 .3 2.9-3.3-2.5-2.3-1.5 3.7z" fill="#e94231"/>
<path d="M666.6 277.6l.4-.1 1.7-1.6-1.2-3.5-.4-.3-.6-.3-1.4 1.5z" fill="#91e544"/>
<path d="M667.1 252.2l.5 .2 .7 0 4-2.9-.4-1.7-1.7-1.4-1.4 .5-2.1 4.5z" fill="#3015f0"/>
<path d="M664.7 257.3l4.1 .8 .2-.7-1.4-5-.5-.2-3.4 4.1z" fill="#47ea4e"/>
<path d="M667.4 288.4l.3 4.4 2.9 .9 2.9-2.4-6-3.3z" fill="#83f844"/>
<path d="M668.8 258.1l1.3 4.2 5.5-.3 .6-1.8-5-4-2.2 1.2z" fill="#75e632"/>
<path d="M674.7 317.4l-1.1-.3-2.2 3.9-.1 .7 8.8 0z" fill="#53f63f"/>
<path d="M671.4 321l2.2-3.9-.1-.6-3.3-1.1-.8-.3-1.7 1.1z" fill="#ee49fe"/>
<path d="M666.6 277.6l-1.8 1.5 6.1 3.7 .8-2.3-4.7-3z" fill="#3c1ae7"/>
<path d="M667.3 308.7l.8 .2 4.1 0 4.5-3.9-.2-1-.4-.4-6.5-2.5-.7 .1-2.6 5.9z" fill="#59fc93"/>
<path d="M667.5 288l6 3.3 .1-.1 .1-.2-.4-2.4-4.8-2.8-.9 .4z" fill="#77eb47"/>
<path d="M664.3 315.6l3.4 .6 1.7-1.1 .6-1.8-.8-.9-4.9 3.2z" fill="#251cdf"/>
<path d="M667.5 272.4l4-1.4-.3-1.2-1.2-1-2.9 3.3z" fill="#de39ef"/>
<path d="M671.9 247.8l5.5-2.4-4.5-3.3-1.1 0-1.6 4.3z" fill="#47de32"/>
<path d="M666.4 238.1l5.4 4 1.1 0 2.1-2.8-1.3-4.6-7.5 0z" fill="#d9e44e"/>
<path d="M667.5 272.4l1.2 3.5 5.4-1.5-2.6-3.4z" fill="#1925fe"/>
<path d="M670 313.3l1.2-.3 1.1-3.3-.1-.8-4.1 0 1.1 3.5z" fill="#f236e1"/>
<path d="M668.5 285.8l4.8 2.8 .7-1.4-2.5-3.7-.6-.3z" fill="#9e49fa"/>
<path d="M667 277.5l4.7 3 5.1-4 .2-.8 0-.2-2.9-1.1-5.4 1.5z" fill="#4fabe6"/>
<path d="M669 257.4l2.2-1.2 .5-2.4-3.4-1.4-.7 0z" fill="#e3e263"/>
<path d="M671.2 313l-1.2 .3-.6 1.8 .8 .3 1.8-1.8z" fill="#dbde54"/>
<path d="M672 313.6l2 1.3 .8-1-2.5-4.2-1.1 3.3z" fill="#3ce239"/>
<path d="M669.6 301.1l6.5 2.5-.3-5.3-.6-1.5-4.1-1.1z" fill="#2c18f2"/>
<path d="M671.1 295.7l4.1 1.1 .8-1.6-2.4-4-.1 .1-2.9 2.4z" fill="#eb48fe"/>
<path d="M673.6 317.1l1.1 .3 5.3-1.5-.6-1.8-1.9-1.2-2.7 1-.8 1-.5 1.6z" fill="#8ff133"/>
<path d="M671.5 283.5l5.2 .3 .7-1-.6-6.3-5.1 4-.8 2.3 0 .4z" fill="#de8f4e"/>
<path d="M674.1 274.4l2.9 1.1 1.6-1.9 .6-6.4-.1-.7-2.3-2.3-5.6 5.6 .3 1.2z" fill="#33f13c"/>
<path d="M676.2 260.2l1.6-2.7-.8-4.5-5.3 .8-.5 2.4z" fill="#f54dae"/>
<path d="M671.7 253.8l5.3-.8 .1-.4-4.8-3.1-4 2.9z" fill="#f763c3"/>
<path d="M674 314.9l-2-1.3-1.8 1.8 3.3 1.1z" fill="#ee4cb4"/>
<path d="M675.6 262l1.2 2.2 2.3 2.3 7-2.8 0-3.4-6.4-2.7-1.9-.1-1.6 2.7z" fill="#dfa954"/>
<path d="M672.3 249.5l4.8 3.1 4.2-5.8-3.9-1.4-5.5 2.4z" fill="#76e03e"/>
<path d="M672.3 309.7l2.5 4.2 2.7-1-.7-7.9-.1 0-4.5 3.9z" fill="#7de94f"/>
<path d="M675.2 296.8l.6 1.5 3.1-2.2-.9-1-.8-.1-1.2 .2z" fill="#f4e570"/>
<path d="M674 287.2l2.4-2.1 .3-1.3-5.2-.3z" fill="#71ff4d"/>
<path d="M673.7 291l3.4-.4 .6-.1-.1-3.4-1.2-2-2.4 2.1-.7 1.4z" fill="#4eec2d"/>
<path d="M672.9 242.1l4.5 3.3 3.9 1.4 3.9-1.6-5.6-6.4-4.6 .5z" fill="#7390e4"/>
<path d="M676.5 304l5.1-4.9 .8-1.4-3.5-1.6-3.1 2.2 .3 5.3z" fill="#4bdd3b"/>
<path d="M677 253l.8 4.5 1.9 .1 6.4-4.5 0-7.9-.9 0-3.9 1.6-4.2 5.8z" fill="#3cff4c"/>
<path d="M673.6 291.2l2.4 4 1.2-.2-.1-4.4-3.4 .4z" fill="#8aff4d"/>
<path d="M676.8 276.5l.6 6.3 8.7 3.3 0-4-9.1-6.4z" fill="#49e133"/>
<path d="M676.4 285.1l1.2 2 8.5-.9 0-.1-8.7-3.3-.7 1z" fill="#69a8ff"/>
<path d="M685.4 308.3l-6 5.8 .6 1.8 4.1 5.8 2 0 0-13.4z" fill="#1e19f6"/>
<path d="M679.6 238.8l5.6 6.4 .9 0 0-10.5-7.2 0z" fill="#e433e1"/>
<path d="M676.8 305l8.6 3.3 .7 0 0-2.8-4.5-6.4-5.1 4.9 .2 1z" fill="#88e347"/>
<path d="M677.2 295l.8 .1 2-4-2.3-.6-.6 .1z" fill="#e42ce1"/>
<path d="M680 315.9l-5.3 1.5 5.4 4.3 4 0z" fill="#e42ddf"/>
<path d="M677.5 312.9l1.9 1.2 6-5.8-8.6-3.3z" fill="#2d29eb"/>
<path d="M677.7 290.5l2.3 .6 6.1-.1 0-4.8-8.5 .9z" fill="#d4f05d"/>
<path d="M678 295.1l.9 1 3.5 1.6 3.7-2.7 0-4-6.1 .1z" fill="#3fff47"/>
<path d="M678.6 273.6l-1.6 1.9 0 .2 9.1 6.4 0-8.4z" fill="#ff9741"/>
<path d="M682.4 297.7l-.8 1.4 4.5 6.4 0-10.5z" fill="#92dc37"/>
<path d="M679.1 266.5l.1 .7 6.9 2.8 0-6.3z" fill="#2815ff"/>
<path d="M678.6 273.6l7.5 .1 0-3.7-6.9-2.8z" fill="#f82e28"/>
<path d="M679.7 257.6l6.4 2.7 0-7.2z" fill="#73f3b2"/>
<g stroke="none"><path d="M573.2 235.5l0 .9 4.7 1.3 0 0 .1-.9z" fill="#e8b242"/><path d="M579.5 291.2l-.9-.5-.2 1.6 1-.4z" fill="#9853e1"/><path d="M577.6 290.2l-.9-.4-.4 2.6 .2 .5 .7-.2z" fill="#9853e1"/><path d="M575.8 289.3l-.4-.2-.5 .3 .7 1.4z" fill="#9853e1"/><path d="M576.6 306.7l-.2-1.3-3.2 5.8 0 .1 .9-.1z" fill="#cf32e5"/><path d="M581 314.8l-.1-.3-.4-.2-2.6 1.1-.2 .8z" fill="#263cf9"/><path d="M590.1 268.3l-1.2-.5 .9 3.9 0 0 .8-1.2z" fill="#db3ceb"/><path d="M587.7 267.2l-1.2-.5 1.1 5 1 0z" fill="#db3ceb"/><path d="M585.8 266.4l-1.2-.5 1.3 5.8 1.1 0z" fill="#db3ceb"/><path d="M583.5 265.4l-1.2-.5 1.5 6.8 1.1 0z" fill="#db3ceb"/><path d="M580.9 264.2l-.8-.3-.3 .3 1.6 7.5 1.1 0z" fill="#db3ceb"/><path d="M579.1 264.8l-.9 .8 .9 4.4 1.4 1.2z" fill="#db3ceb"/><path d="M577.5 266.3l-.9 .8 .1 .7 1.4 1.2z" fill="#db3ceb"/><path d="M583.5 254l-.9 .3 1.4 1.5-.1-1.3z" fill="#fe4cc4"/><path d="M581.5 254.6l-.9 .2 3.6 3.9-.1-1.3z" fill="#fe4cc4"/><path d="M579.1 255.2l-.9 .3 4.8 5.2 .6-.6z" fill="#fe4cc4"/><path d="M576.8 255.9l-.4 .1 1.4 2.2 3.7 4.1 .6-.6z" fill="#fe4cc4"/><path d="M579.8 261.3l1.1 1.6 .2-.2z" fill="#fe4cc4"/><path d="M579.5 309.5l-.3-1-2.9 2.2-.2 .5 .8 .3z" fill="#3eea3c"/><path d="M585 280.2l-.3-.6-.5-.3 .3 2.5 .7-.3z" fill="#92dd39"/><path d="M583.4 278.7l0 0-.6 .2 .4 3.6 .6-.3z" fill="#92dd39"/><path d="M581.6 279.5l-.7 .3 .4 3.6 .7-.3z" fill="#92dd39"/><path d="M580.2 280.2l-.6 .3 .4 3.6 0 0 .7-.4z" fill="#92dd39"/><path d="M578.8 280.9l-.1 0-.5 .6 .1 .7 .7 .9z" fill="#92dd39"/><path d="M580.5 316.1l-1.5 .4 3.7 1.6 .3-.2-1.3-1.3z" fill="#e8a851"/><path d="M577.4 317.2l-.5 .9 3.3 1.3 1.1-.6z" fill="#e8a851"/><path d="M576.1 319.5l-.6 .8 1.7 .7 1.1-.6z" fill="#e8a851"/><path d="M582.2 307.5l-.5 .6 3.2 1 .2-.4-.3-.3z" fill="#2def41"/><path d="M581.3 308.6l-.4 .6 3.2 1.1 .4-.6z" fill="#2def41"/><path d="M580.1 310.2l-.3 .3-.1 .2 3.5 1.2 .3-.6z" fill="#2def41"/><path d="M591.1 262.4l-6.9-2.9-.3 .3z" fill="#e765d4"/><path d="M583.4 260.3l-.9 .9 11.1 4 .2-1.1z" fill="#e765d4"/><path d="M582.2 261.6l-.8 .8 11.8 4.3 .3-.3 0-.7z" fill="#e765d4"/><path d="M581 262.8l-.1 .1-.7 .8 12 4.3 .7-.9z" fill="#e765d4"/><path d="M587.9 267.4l3.6 1.5 .2-.2z" fill="#e765d4"/><path d="M589.2 318.3l.1-1.4-2.2 1.9 .7 .6z" fill="#e863d0"/><path d="M589.6 314.5l.1-1.4-4 3.6 .2 1z" fill="#e863d0"/><path d="M589 311.8l-1.1-.3-.9 .8-1.9 2.5 .1 .3z" fill="#e863d0"/><path d="M587.1 310.8l-.4-.6-3.6 2.5 .1 .2 .4 .4z" fill="#dd62c7"/><path d="M585.4 234.7l-1.1 0 2.2 2.8 .2-1.1z" fill="#1c3ae8"/><path d="M583.5 236.3l-.3 1.2 2.7 3.3 .2-1.1z" fill="#1c3ae8"/><path d="M582.8 239.2l-.2 1.1 1 1.4 1.2 0z" fill="#1c3ae8"/><path d="M589.4 287.4l-1-.4 .9 3.1 .3 0 .4-1.1z" fill="#61f3e1"/><path d="M587.7 286.7l-1.1-.3 1.4 4.2 .9-.3z" fill="#61f3e1"/><path d="M585.6 286l-.5-.2-.3 .5 1.5 4.9 .9-.3z" fill="#61f3e1"/><path d="M584.4 286.8l-.7 .9 1.3 4 .8-.3z" fill="#61f3e1"/><path d="M583.2 288.5l-.3 .3 0 1.9 .1 .4 .1 .4 1 .1z" fill="#61f3e1"/><path d="M591.1 284l-.6 0-1.2 3.3 .5 .2z" fill="#38e150"/><path d="M589.6 283.9l-.6-.1-1.1 3 .5 .2z" fill="#38e150"/><path d="M587.3 283.6l-.6-.1-1 2.5 .6 .2z" fill="#38e150"/><path d="M591.4 284.6l-.2 .7 6.1 4.5 .2-.2-.1-.3-.4-.5z" fill="#ffb037"/><path d="M598.7 305l-.1-.5-.4-.3-3.5 2.5 1.6 0z" fill="#6eddec"/><path d="M597.7 303.6l-.7-.6-5.1 3.6 1.6 0z" fill="#6eddec"/><path d="M595.8 301.8l-.6-.5-4.2 2.9 0 1z" fill="#6eddec"/><path d="M597.2 275.7l-.9-.3 .2 4.4 .9-.2z" fill="#2e17ff"/><path d="M594.3 274.7l-.9-.3 .3 6.2 .8-.2z" fill="#2e17ff"/><path d="M592.1 273.9l-.9-.3 .2 4.9 .1 .6 .8 1.1z" fill="#2e17ff"/><path d="M597.9 287.8l.3-.9-1.8 1.1 .4 .5z" fill="#e24ade"/><path d="M598.7 285.3l.3-.8-3.6 2.1 .3 .5z" fill="#e24ade"/><path d="M597.6 283.9l-2.9 1-.4 .3 .3 .5z" fill="#e24ade"/><path d="M598.2 249.7l.2-.6-2.7-.2z" fill="#73ff47"/><path d="M594.8 250.4l-.4 .9 3.1 1 .3-.9z" fill="#73ff47"/><path d="M593.8 252.6l-.3 .7 3.6 .9 .1-.4z" fill="#73ff47"/><path d="M606.1 270.3l-.4-.5-2.7 1.8 1.5-.2z" fill="#86ef30"/><path d="M604.6 268.3l-.4-.5-5.1 3.5 .5 .4z" fill="#86ef30"/><path d="M602.1 266.5l-.7-.3-4.6 3.1 .5 .4z" fill="#86ef30"/><path d="M599.4 265.4l-.7-.3-3.8 2.6 .5 .4z" fill="#86ef30"/><path d="M596.4 264.2l-.7-.3-2.1 1.4-.1 .8z" fill="#86ef30"/><path d="M601.3 254.7l-1.2 0 1.9 1.6 .2-.5-.7-.9z" fill="#e4a546"/><path d="M598.1 254.6l-.8-.1 0 .4 3.5 3 .7 0 .1-.3z" fill="#e4a546"/><path d="M597 256.7l-.1 .9 .5 .5 1.1-.1z" fill="#e4a546"/><path d="M602 306.4l.3-.2 1.3-1.5 .1-.8z" fill="#8e3ffc"/><path d="M603 302.1l-.5-.2-3.5 5 .3 .5z" fill="#8e3ffc"/><path d="M600 303.3l-1.4 1.2 .1 .7z" fill="#8e3ffc"/><path d="M630.5 234.7l-.9 0-2.6 2.8 1.5-.7z" fill="#46e749"/><path d="M627 234.7l-.8 0-3.7 4 .4 .4z" fill="#46e749"/><path d="M623.2 234.7l-.8 0-1.7 1.9 .4 .4z" fill="#46e749"/><path d="M601.1 257.9l-1.7 .1 2.3 1.7-.1-1.5z" fill="#71f34c"/><path d="M598.7 258l-1.7 .1 4.4 3.3 .4-.2 0-.9z" fill="#71f34c"/><path d="M596.5 258.8l-.4 1 3.1 2.3 1.3-.4z" fill="#71f34c"/><path d="M595.8 260.2l-.4 1 2 1.5 1.3-.4z" fill="#71f34c"/><path d="M595.1 261.8l-.4 1 .8 .6 1.2-.4z" fill="#71f34c"/><path d="M605.9 308.2l.4 .2 1-1.1 0 0z" fill="#44fb43"/><path d="M605.9 306.3l-.7-.5-1.7 1.1 .8 .4z" fill="#44fb43"/><path d="M612.6 309.7l-.2-.4-5.8 3.8 .2 .5z" fill="#3c32ff"/><path d="M611.9 308.5l-.2-.4-5.7 3.7 .2 .5z" fill="#3c32ff"/><path d="M611.2 307.2l-.3-.4-5.4 3.6 0 .5 .1 0z" fill="#3c32ff"/><path d="M613.6 305.2l.3-.2 .1-6-.5-.4z" fill="#1a19ff"/><path d="M611.8 298l-.6 1.2 .1 7.3 .7-.4z" fill="#1a19ff"/><path d="M610.2 300.9l-.7 1.2 0 2.3 .3 1.6 .5 .3z" fill="#1a19ff"/><path d="M612.3 239.2l.5-1.1-2.4 1.8 .2 .5z" fill="#2f3cee"/><path d="M613.8 235.7l.4-1 0 0-4.4 3.3 .2 .6z" fill="#2f3cee"/><path d="M611.5 234.7l-1 0-1.5 1.1 .2 .6z" fill="#2f3cee"/><path d="M613.6 313.3l-.4 .9 1.9 2.2 .4-.8z" fill="#91e433"/><path d="M612.6 315.8l-.3 .9 1.6 1.8 .4-.8z" fill="#91e433"/><path d="M611.7 318.3l-.4 .9 1.4 1.6 .4-.8z" fill="#91e433"/><path d="M619.6 283.4l-.5-.7-1.5 5.5 .8-.5z" fill="#f43236"/><path d="M617.4 282.7l-.7 .1-1.7 5.9 .6 .6z" fill="#f43236"/><path d="M614.8 283l-.8 0-1 3.6 .6 .6z" fill="#f43236"/><path d="M612 283.2l-.4 .1-.2 .5 0 1.1 .1 .1z" fill="#f43236"/><path d="M616.5 239.9l-.7 .5 1.2 .6-.4-1z" fill="#6db0f0"/><path d="M614.6 241.1l-.6 .4 .1 .2 4.1 2.2-.4-1.1z" fill="#6db0f0"/><path d="M615.3 244.1l.3 .9 .7-.3z" fill="#6db0f0"/><path d="M615.7 321.5l-.1 .2 12.2 0-.8-.7z" fill="#db2cec"/><path d="M625.5 319.6l-.9-.8-8.1 .4-.3 .9z" fill="#db2cec"/><path d="M622.6 317l-.9-.8-4.3 .2-.3 .9z" fill="#db2cec"/><path d="M620.6 248.4l-1.6 0-3.5 3.4 0 .1 .8 .6z" fill="#3bee45"/><path d="M616.7 248.5l-1.6 .1 0 0-.4 1.3 .1 .4z" fill="#3bee45"/><path d="M621.4 273.9l-.1-1-3.6 2.3 0 .1 .6 .6z" fill="#cf3ce1"/><path d="M621 315.5l.3-.8-1.9 .1 0 .2 1.4 .5z" fill="#94e854"/><path d="M621.7 313.7l.4-.9-2.7 .3 0 .8z" fill="#94e854"/><path d="M622.3 312.2l.3-.8-3.2 .3 0 .8z" fill="#94e854"/><path d="M623.1 310.2l.3-.7-.1-.1-3.3 .3-.6 .5 0 .4z" fill="#94e854"/><path d="M622.6 269.8l-.4-1-3.1 2.7-.1 .6 .9 0z" fill="#70a2f0"/><path d="M624.1 305.7l-.4-1.4-.2-.1-.3 4.1 .8-.9z" fill="#38ff31"/><path d="M621.9 303.5l-.7-.4-.3 4.2 .7 .8z" fill="#38ff31"/><path d="M619.9 302.5l-.7-.4-.3 2.7 .7 .8z" fill="#38ff31"/><path d="M644.8 321.7l1.8 0 0-1z" fill="#fa6bc3"/><path d="M646.5 318.8l0-.9-1.2 .4-5.6 3.4 2 0z" fill="#fa6bc3"/><path d="M625.5 295.1l-2.6-2.6-.6 .2z" fill="#93ee4c"/><path d="M620.8 293.5l-.6 .3 .2 .6 5.8 4.4 .3-.2 .1-.7z" fill="#93ee4c"/><path d="M621.3 297l.5 1.6 .4 .3 1.8 .2z" fill="#93ee4c"/><path d="M625.1 299.2l-.7-.1-1.1 5.1 .4 .1 .5-1z" fill="#75ff37"/><path d="M623.4 299l-.7-.1-.9 4.5 .6 .3z" fill="#75ff37"/><path d="M621.3 299.4l-.8 .8-.6 2.3 .7 .3z" fill="#75ff37"/><path d="M619.5 301l-.6 .5 0 .5 .4 .1z" fill="#75ff37"/><path d="M624.1 256.8l-1 .7 5.9 1.1 0-.1-.5-.9z" fill="#6ef552"/><path d="M621.4 258.9l.1 .9 7.4 1.3 .1-.9z" fill="#6ef552"/><path d="M621.8 261.7l.1 .9 6.4 1.1 .5-.7z" fill="#6ef552"/><path d="M626.5 290l-.8-.6-1.1 2 1.9-1.3z" fill="#61f7a9"/><path d="M624.7 288.6l-.8-.6-1.8 3.1 .2 1.6 .1 0z" fill="#61f7a9"/><path d="M623.1 287.3l-.8-.6-.5 .8 .2 1.8z" fill="#61f7a9"/><path d="M628.1 273.2l-1.1 .5 4.5 .1 .1-.6z" fill="#66f2b2"/><path d="M625.1 275.5l-.2 .5 6.4 .1 0-.5z" fill="#66f2b2"/><path d="M624.4 278.1l-.1 .5 .1 0 5 .1 1.3-.5z" fill="#66f2b2"/><path d="M626.5 282.8l.1 .1 .6-3.2-.3-.1z" fill="#77e74e"/><path d="M625.8 279.1l-.8-.2-.3 2.6 .7 .5z" fill="#77e74e"/><path d="M623.7 278.9l-.8 .4-.1 .8 .7 .6z" fill="#77e74e"/><path d="M629.8 278.6l-1.1 .4-1.2 5.5 .5 .3 .7-1.2z" fill="#67b1ee"/><path d="M630.9 238.4l0-.6-6.9 1.2-.8 .4 .1 .4 0 0z" fill="#9833f5"/><path d="M636.9 245.4l0-.2-.3-.5-1 1.1 1.2-.4z" fill="#f0af36"/><path d="M634.5 244.6l-1.2 .4-1.9 2.3 1.2-.4z" fill="#f0af36"/><path d="M629.6 246.2l-1.2 .4 0 .2 .4 .4z" fill="#f0af36"/><path d="M636.1 285.1l.2-.8-2.2 1.6 .1 .1 .9-.2z" fill="#76ff38"/><path d="M636.4 281.8l-.6-.3-3.4 2.4 .3 .4z" fill="#76ff38"/><path d="M634.2 280.9l-.6-.3-1.2 .8-.2 .8z" fill="#76ff38"/><path d="M634.3 285.9l-.1 .1-.7 .3 3.2 3.5 1.1-.1z" fill="#e31e21"/><path d="M632.5 286.8l-.8 .5 2.7 2.9 1.1-.2z" fill="#e31e21"/><path d="M631 287.7l-.9 .4 2.3 2.4 1.1-.2z" fill="#e31e21"/><path d="M629.4 288.8l-.2 1.1 .5 .6 1.3 .2 .1 0z" fill="#e31e21"/><path d="M639.5 249.7l-.5-.5-.9 3.5 .7-.2z" fill="#6efd46"/><path d="M637.8 247.9l-.5-.5-1.6 6.2 .7-.2z" fill="#6efd46"/><path d="M635 249.1l-.9 .8-.5 2.2 0 .2 .4 .4z" fill="#6efd46"/><path d="M640.1 316.1l.7-.9-.8-2.2z" fill="#d12de8"/><path d="M638 312l-1.1 .4 .3 7 1-1.2z" fill="#d12de8"/><path d="M635.5 313l-1 .4 .3 8.3 .3 0 .7-.8z" fill="#d12de8"/><path d="M633.1 314l-1 .4 .2 7.3 1.1 0z" fill="#d12de8"/><path d="M630.4 319.1l-.3 2.6 .4 0z" fill="#d12de8"/><path d="M640.1 234.7l-1.1 0 2 3.8-.4-2.8z" fill="#60d0fc"/><path d="M637.9 234.7l-1 0 2.7 5.3 1-.2z" fill="#60d0fc"/><path d="M636.3 236.5l.4 2.8 .7 1.3 1-.2z" fill="#60d0fc"/><path d="M642.9 298.8l.4-.1 .4-.8-2.7 .1 1.9 .8z" fill="#65e0fd"/><path d="M644.3 296.7l.4-.9-7.5 .2 0 .2 1.3 .6z" fill="#65e0fd"/><path d="M644.4 294.6l-.2-.9-6.8 .1-.1 .9z" fill="#65e0fd"/><path d="M643.5 292.3l-.9-.9-4.9 .1-.1 .8z" fill="#65e0fd"/><path d="M640.4 289.8l-.8-.5-1.6 .3 0 .1 0 .1z" fill="#65e0fd"/><path d="M642.9 250.5l.3 0 .5-.3 0-2.7z" fill="#dd45f6"/><path d="M643.7 244.7l0-.4-.5-.5-.2 .1-1.7 6.6 .9 0z" fill="#dd45f6"/><path d="M642.2 244l-1 .2-1.4 5.7 .5 .6 .2 0z" fill="#dd45f6"/><path d="M640.5 244.4l-.9 .2-1.1 4.1 .7 .7z" fill="#dd45f6"/><path d="M638.1 244.9l-.9 .2-.3 1 .1 1.1 .4 .4z" fill="#dd45f6"/><path d="M642.5 308.9l-.3-1.1-1.9-1.6-.6 1z" fill="#74ea4d"/><path d="M639.2 307.9l-.5 1 3 1.8 1-.6z" fill="#74ea4d"/><path d="M638.3 309.4l-.1 .3 .2 1 1.5 1 1.1-.6z" fill="#74ea4d"/><path d="M643.6 283.2l-.7-.5-.3 2.8 .7-.2z" fill="#933dff"/><path d="M642 282l-.7-.6-.4 3.1 .7 .7z" fill="#933dff"/><path d="M639.4 280.1l-.4 0-.4 .7-.2 1.1 .7 .7z" fill="#933dff"/><path d="M644.4 257.5l-.5-.3-2 4.6 .7-.3z" fill="#68cfdc"/><path d="M642.3 256.9l-.5 .1-.2 1.4z" fill="#68cfdc"/><path d="M643.1 316.8l-.7 .9 2.7 .7 1.4-.5 0-.3z" fill="#181ae3"/><path d="M641.4 319l-.7 .9 0 0 1.9-.7z" fill="#181ae3"/><path d="M659 320.4l0-.7-.1-.4-3.8 2.1-.1 .3 1.6 0z" fill="#ebf263"/><path d="M652 316.8l.1-.9-.9 .2-1.1 5.6 .9 0z" fill="#5bdef3"/><path d="M650.4 316.4l-.9 .3-1 5 .9 0z" fill="#5bdef3"/><path d="M648.6 317l-1 .2-.9 4.5 .9 0z" fill="#5bdef3"/><path d="M648.5 276.5l.5-.5-.1-1.3-2.2 2 1.6 0z" fill="#49f537"/><path d="M648.8 273.6l0-.1-1.1-.4-3.4 3.1 .4 .5 .6 0z" fill="#49f537"/><path d="M646.7 272.8l-1.1-.4-2 2.8 .1 .2z" fill="#49f537"/><path d="M650.8 291l0 0-.1-.1-4.5-1.8-.2 .3z" fill="#72de47"/><path d="M644.7 291.2l-.4 .6 5.5 1.8 .8-.4 0 0z" fill="#72de47"/><path d="M644.2 293.8l.2 .7 1.8 .6 .9-.4z" fill="#72de47"/><path d="M651.1 313l-3.2 .3 5.1 1 0-.9z" fill="#1827f4"/><path d="M645.2 313.6l-.1 .9 7 1.3 .7-.7z" fill="#1827f4"/><path d="M645 315.4l-.1 .2 .6 .7 3.1 .6 1.8-.5z" fill="#1827f4"/><path d="M654.8 276.5l-.9-.1 1.5 2.3 .1-1z" fill="#1c36ff"/><path d="M652.7 276.3l-.9-.1 3.2 5.1 .2-1.1z" fill="#1c36ff"/><path d="M650.1 276.1l-.9-.1 4.1 6.3 .7-.1z" fill="#1c36ff"/><path d="M648.4 276.6l-.1 .1 .1 1.1 2.9 4.6 .8 0z" fill="#1c36ff"/><path d="M648.7 280.6l.1 1.2 .7 .6 .3 0z" fill="#1c36ff"/><path d="M656.1 256.9l-.7-.5-2.1 3 .4 .2 .7-.2z" fill="#52f6b3"/><path d="M654.5 255.7l-.7-.5-2.1 3 .7 .5z" fill="#52f6b3"/><path d="M652.7 254.4l-.7-.6-1.7 2.5 .4 1z" fill="#52f6b3"/><path d="M651 234.7l-1 0 0 3.3 1-1.8z" fill="#d54fed"/><path d="M649 234.7l-1.1 0 0 5.7 .2 .1 .7-.4 .2-.3z" fill="#d54fed"/><path d="M646.5 234.7l-.4 0-.4 4 .8 .6z" fill="#d54fed"/><path d="M654.9 282.2l0-.1-.6 .1-3.1 4.7-.3 .6 .1 .2 .5-.3z" fill="#fa3637"/><path d="M657.2 283.8l.5 .3 4.3-5.2z" fill="#8def3d"/><path d="M661 276.8l-.6-.5-5.5 5.8 0 0 .4 .6z" fill="#8def3d"/><path d="M658.3 275.9l-1 0-1.8 1.8-.2 1.3z" fill="#8def3d"/><path d="M654.2 263.6l2-.8 0-.2-.5-.3-4.4 1.7-1.7 1.3z" fill="#75ed34"/><path d="M658.8 318.3l0 0-1-.4-2.7 1 .1 .7z" fill="#32f24c"/><path d="M659.4 257.1l-1.7 .1-.7 .4-.2 .3 4.5 .5 .1-1.1z" fill="#e2f85d"/><path d="M656.7 258.7l.5 1.1 3.9 .4 .1-1.1z" fill="#e2f85d"/><path d="M657.4 260.1l.6 1.1 2.6 .3 .4-1 0 0z" fill="#e2f85d"/><path d="M659.9 254.5l1 .1-.2-1.4z" fill="#ee3cfd"/><path d="M660.5 251.4l0-.1-.1-.2-1.1 .5-1.8 2.8 1 0z" fill="#ee3cfd"/><path d="M662.9 234.7l-.7 0-.7 2.3 .9-.5z" fill="#db48e7"/><path d="M660.9 234.7l-.7 0-.9 3.4 .8-.4z" fill="#db48e7"/><path d="M658.2 234.7l-.7 0-.1 .4-1.1 4.5 .5-.3z" fill="#db48e7"/><path d="M664.5 282.1l.2-2.1-2.5 5.5 1-.5z" fill="#d1dc63"/><path d="M663.7 278.7l-.6-.3-3.5 7.7 .4 .4 .2 0z" fill="#d1dc63"/><path d="M661.3 279.7l-1.9 2.3-1.2 2.6 .6 .6z" fill="#d1dc63"/><path d="M667.3 265l.6-.9-6.1 .6 .3 .8 1-.1z" fill="#8af646"/><path d="M668.2 263.3l-.8-.8-6.3 .6 .3 .8z" fill="#8af646"/><path d="M665.9 261.1l-.3-.4-3.2-.1-1.5 .1-.4 .9z" fill="#8af646"/><path d="M666.2 285.5l-1.4-.8 2.7 3.3 0 0 0-1z" fill="#232fdf"/><path d="M662.4 285.4l-.6 .3 3.1 3.7 .6-.2z" fill="#232fdf"/><path d="M660 286.8l-.1 .8 1.6 1.9 1.3 .7z" fill="#232fdf"/><path d="M665.4 292.7l-.7-.4-2.9 4.6 .3 1.1z" fill="#dc70c8"/><path d="M662.3 293.4l-1.4 .6 .3 1z" fill="#dc70c8"/><path d="M665.2 307l1.1 .1 .2-.6z" fill="#e22f38"/><path d="M667 305.4l.4-.8-3.6 1.3 0 .6z" fill="#e22f38"/><path d="M668.1 303.1l.4-.8-4.9 1.7 .1 .7z" fill="#e22f38"/><path d="M668.8 301.4l.1-.2-.5-.3-3.7 1.3-.8 1z" fill="#e22f38"/><path d="M666.3 272l.2-.2-.1-.4-3.7 .2 0 .7z" fill="#eb6fd2"/><path d="M666.1 270.4l-.1-.2-3.3 .4 0 .1z" fill="#eb6fd2"/><path d="M666.3 271.3l.2 .5 .6 .3 1-1.1z" fill="#2ff533"/><path d="M669.5 269.3l.5-.5-.6-.5-2.8 .4-.4 1.1z" fill="#2ff533"/><path d="M668.8 267.6l-1-.9-.4 .1-.4 1.1z" fill="#2ff533"/><path d="M671.3 247.3l-.8-.7 1 3.5 .5-.4z" fill="#e92a22"/><path d="M668.8 246.9l0 0-.3 .7 1.1 3.9 .5-.4z" fill="#e92a22"/><path d="M667.3 250.1l-.4 .8 .4 1.4 .3 .1 .4 0z" fill="#e92a22"/><path d="M678.5 320.4l-.4-.3-1.2 1.6 .7 0z" fill="#50ff3d"/><path d="M676.2 318.6l-.4-.3-2.4 3.4 .6 0z" fill="#50ff3d"/><path d="M674.1 317.3l-.5-.2-2.2 3.9 0 .2z" fill="#50ff3d"/><path d="M671.3 243.4l-.3 .8 3.4 2.5 1-.4z" fill="#3c26ec"/><path d="M670.5 245.7l-.3 .7 1.7 1.4 .9-.4z" fill="#3c26ec"/><path d="M672.2 308.9l-1 0 .6 2.3 .5-1.5-.1-.8z" fill="#72f331"/><path d="M670.4 308.9l-1 0 1.1 4.3 .7-.2 .1-.5z" fill="#72f331"/><path d="M669.9 313.5l-.1 .6 1.4 .3 .5-.6z" fill="#f3a652"/><path d="M675.4 303.4l.7 .2-.1-1z" fill="#f95bb0"/><path d="M675.9 300.6l-.1-1.2-2.5 3.1 .8 .3z" fill="#f95bb0"/><path d="M675.5 297.7l-.3-.9-4 4.9 .8 .3z" fill="#f95bb0"/><path d="M673.5 296.4l-.8-.2-2.6 3.1-.5 1.8 .1 0z" fill="#f95bb0"/><path d="M675.1 296.8l.1 0 .8-1.6-.5-.8z" fill="#73f3e0"/><path d="M674.2 292.3l-.6-1.1-.1 .1-.2 0-.8 4.8 1 .3z" fill="#73f3e0"/><path d="M671.4 293l-.8 .7 .4 1.7z" fill="#73f3e0"/><path d="M677.3 281.7l-.1-1-2.6 3 1 0z" fill="#ff8c2f"/><path d="M677 278.5l-.2-1.1-5.1 6.1 1 0z" fill="#ff8c2f"/><path d="M676.5 276.8l-3 2.3-2.2 2.7-.4 1 0 .4 .1 .1z" fill="#ff8c2f"/><path d="M676.5 284.6l.2-.8-1.2-.1z" fill="#ec4322"/><path d="M672.9 283.6l-1.2-.1 3.4 2.7 .5-.4z" fill="#ec4322"/><path d="M672.9 285.6l1.1 1.6 .4-.4z" fill="#ec4322"/><path d="M681.1 297.1l-1.3-.6 1.4 3 .4-.4 .2-.4z" fill="#86f348"/><path d="M677.6 297l-.8 .5 2 4.2 .7-.7z" fill="#86f348"/><path d="M675.8 299.6l.2 2.6 .7 1.5 .8-.7z" fill="#86f348"/><path d="M685.9 245.2l-.7 0-.1 0 1 3.9 0-3.2z" fill="#92f22f"/><path d="M684.5 245.4l-.7 .3 2 7.6 .3-.2 0-1.6z" fill="#92f22f"/><path d="M682.8 246.2l-.7 .3 2 8 .7-.5z" fill="#92f22f"/><path d="M681.1 247.1l-.6 .8 2 7.8 .6-.5z" fill="#92f22f"/><path d="M680 248.6l-.6 .8 1.8 7.1 .7-.4z" fill="#92f22f"/><path d="M678.3 250.9l-.6 .8 1.6 5.9 .4 0 .3-.2z" fill="#92f22f"/><path d="M677.1 252.6l-.1 .4 .8 4.5 .5 0z" fill="#92f22f"/><path d="M682.4 319.3l-2.4-3.4-.7 .2z" fill="#372eec"/><path d="M678 316.5l-.7 .2 4.9 5 .9 0z" fill="#372eec"/><path d="M675.2 317.3l-.5 .1 3 2.4z" fill="#372eec"/><path d="M683.9 286.5l-1.3 .1 3.5 3.3 0-1.4z" fill="#6c95ec"/><path d="M680.7 286.8l-1.3 .1 4.3 4.1 1.4 0z" fill="#6c95ec"/><path d="M677.7 287.4l0 1.4 2.4 2.3 1.4 0z" fill="#6c95ec"/><path d="M685.3 281.6l.8 .5 0-2z" fill="#6ce534"/><path d="M686.1 276.4l0-2.1-3.1 5.6 .8 .6z" fill="#6ce534"/><path d="M685 273.7l-1.2 0-2.7 4.9 .9 .6z" fill="#6ce534"/><path d="M681.6 273.7l-1.1 0-1.8 3.2 .8 .6z" fill="#6ce534"/><path d="M678.9 273.6l-.3 0-1.6 1.9 0 .2 .6 .4z" fill="#6ce534"/><path d="M686.1 259.6l0-1-1.8 .9 1 .5z" fill="#81ff3c"/><path d="M686.1 256.6l0-.9-5.1 2.5 1 .4z" fill="#81ff3c"/></g>
</g>
<clipPath id="ce"><rect x="384.5" y="451.8" width="105.70" height="78.80"/></clipPath>
<g clip-path="url(#ce)" stroke="#2a2a2a" stroke-width="0.3" stroke-linejoin="round">
<path d="M380.5 503.5l0 10.2 .4 0 9.9-5.9-.2-5.4z" fill="#1b5bf9"/>
<path d="M390.6 502.4l1.3-1.7 0-5.8-1.5-1.4-9.9-.3 0 10.3z" fill="#c6f923"/>
<path d="M388.9 460.1l.4-12.3-8.8 0 0 14.2z" fill="#6315f9"/>
<path d="M406 456.6l6.7 2.2 1.3-1.2 1.8-9.8-10.8 0z" fill="#f91628"/>
<path d="M388.4 516.9l5.7-5.5-3.3-3.6-9.9 5.9z" fill="#1434f9"/>
<path d="M391.2 524.2l.7-1.7-3.5-5.6-7.5-3.2-.4 0 0 14.2z" fill="#ba78f9"/>
<path d="M390.4 493.5l.1-9.6-10-.9 0 10.2z" fill="#61f91f"/>
<path d="M390.5 483.9l4-3.8 .1-.1-14.1-7.5 0 10.5z" fill="#1714f9"/>
<path d="M390.5 483.9l-.1 9.6 1.5 1.4 5.5-1.7 1.3-3.5-4.2-9.6z" fill="#1f19f9"/>
<path d="M390.6 502.4l.2 5.4 3.3 3.6 .8 .2 4.2-2.9-1.6-5.7-5.6-2.3z" fill="#28f985"/>
<path d="M390.4 460.7l-1.5-.6-8.4 1.9 0 9.8 11.3-2.3 1.3-2z" fill="#f9a03a"/>
<path d="M393.1 467.5l2.6-.1 5.8-3.8-.1-4.1-3.7-1.6-7.3 2.8z" fill="#45f914"/>
<path d="M391.2 524.2l-10.7 3.7 0 6.7 16 0z" fill="#eef927"/>
<path d="M391.9 522.5l-.7 1.7 5.3 10.4 3.6 0 3.1-8.8-6.4-5.5z" fill="#3af91c"/>
<path d="M396.8 520.3l1.1-2.4-3-6.3-.8-.2-5.7 5.5 3.5 5.6z" fill="#f92414"/>
<path d="M394.6 480l.2-.3 .2-.2-3.2-10-11.3 2.3 0 .7z" fill="#d7b6f9"/>
<path d="M397.7 457.9l3.7 1.6 4.6-2.9-1-8.8-9.7 0z" fill="#dcf3f9"/>
<path d="M390.4 460.7l7.3-2.8-2.4-10.1-6 0-.4 12.3z" fill="#f9833d"/>
<path d="M397.9 517.9l6.1-2.5 .2-2.7-2.4-3.4-2.7-.6-4.2 2.9z" fill="#1814f9"/>
<path d="M394.5 480.1l4.2 9.6 5.9-3.2-9.8-6.8-.2 .3z" fill="#f94722"/>
<path d="M391.8 469.5l3.2 10 3.4-1.9 1.7-5-4.4-5.2-2.6 .1z" fill="#cf6df9"/>
<path d="M391.9 494.9l0 5.8 5.6 2.3 7-3.3 .2-.9-.1-.6-2.1-2.5-5.1-2.5z" fill="#25f91d"/>
<path d="M400.1 472.6l5.6-3.9-4.2-5.1-5.8 3.8z" fill="#1e2bf9"/>
<path d="M413.8 531.7l-.9-4.5-5.3-3.9-4.4 2.5-3.1 8.8 13.2 0z" fill="#52f985"/>
<path d="M397.4 493.2l5.1 2.5 3.7-8.6-.5-.6-1.1 0-5.9 3.2z" fill="#f91419"/>
<path d="M394.8 479.7l9.8 6.8 1.1 0 1.2-7.7-8.5-1.2-3.4 1.9z" fill="#ccf9ac"/>
<path d="M397.9 517.9l-1.1 2.4 6.4 5.5 4.4-2.5 .4-3.6-4-4.3z" fill="#475df9"/>
<path d="M399.1 508.7l2.7 .6 4.2-5.8-1.5-3.8-7 3.3z" fill="#33ccf9"/>
<path d="M401.5 463.6l4.2 5.1 4.1 1.1 3.4-6.9-.5-4.1-6.7-2.2-4.6 2.9z" fill="#f95971"/>
<path d="M404.6 498.2l4.5-4.2-2.4-6.7-.5-.2-3.7 8.6z" fill="#14f92f"/>
<path d="M408 519.7l6.2-3.9 1.1-3.5-4.7-2.5-6.4 2.9-.2 2.7z" fill="#6d1bf9"/>
<path d="M404.2 512.7l6.4-2.9-1.6-4.5-3-1.8-4.2 5.8z" fill="#68f962"/>
<path d="M404.5 499.7l1.5 3.8 3 1.8 5.5-3.4 .4-2.5-10.2-.6z" fill="#f9d714"/>
<path d="M398.4 477.6l8.5 1.2 .7-.4 2.3-8.3-.1-.3-4.1-1.1-5.6 3.9z" fill="#b5f9e1"/>
<path d="M406.2 487.1l.5 .2 4.9-.2 5-4.6-9-4.1-.7 .4-1.2 7.7z" fill="#19f91d"/>
<path d="M404.7 498.8l10.2 .6 .8-1.3 0-3.6-1.4-.8-5.2 .3-4.5 4.2z" fill="#2af91e"/>
<path d="M409.9 470.1l6.3 2.8 6-2.9 .4-3.8-9.4-3.3-3.4 6.9z" fill="#a3c4f9"/>
<path d="M424.1 527.8l-10.3 3.9-.5 2.9 13.7 0z" fill="#f91db6"/>
<path d="M413.8 531.7l10.3-3.9 .5-5-6.2-.7-5.5 5.1z" fill="#f953c1"/>
<path d="M415.3 512.3l1.9-1.2 1.4-2.4-4.1-6.8-5.5 3.4 1.6 4.5z" fill="#14a5f9"/>
<path d="M407.6 523.3l5.3 3.9 5.5-5.1-4.2-6.3-6.2 3.9z" fill="#f91936"/>
<path d="M411.6 487.1l2.7 6.6 1.4 .8 2.2-1.6 2.1-9-1.1-1.3-.9-.4-1.4 .3z" fill="#4d14f9"/>
<path d="M409.1 494l5.2-.3-2.7-6.6-4.9 .2z" fill="#88f92f"/>
<path d="M407.6 478.4l9 4.1 1.4-.3-1.8-9.3-6.3-2.8z" fill="#f9a618"/>
<path d="M424.4 452.4l5.9 2.5 5.2-2.3 .7-4.8-13.1 0z" fill="#261bf9"/>
<path d="M414.5 501.9l4.1 6.8 3.5-1.9 2.3-4.9-.4-.7-8.3-3.1-.8 1.3z" fill="#da4cf9"/>
<path d="M415.7 498.1l8.3 3.1 .5-6.9-6.6-1.4-2.2 1.6z" fill="#23f998"/>
<path d="M414.2 515.8l4.2 6.3 6.2 .7 3.5-3.1 0-.1-10.9-8.5-1.9 1.2z" fill="#f93579"/>
<path d="M422.6 466.2l2.8-3-3.4-5.8-8 .2-1.3 1.2 .5 4.1z" fill="#4a16f9"/>
<path d="M418 482.2l.9 .4 7.5-7.9-4.2-4.7-6 2.9z" fill="#f96b7a"/>
<path d="M424.6 522.8l-.5 5 2.9 6.8 8.1 0 .7-9.1-7.7-5.8z" fill="#2114f9"/>
<path d="M417.2 511.1l10.9 8.5 2.9-5.5-.6-1.5-8.3-5.8-3.5 1.9z" fill="#26f988"/>
<path d="M414 457.6l8-.2 2.4-5-1.3-4.6-7.3 0z" fill="#f91414"/>
<path d="M422.6 466.2l-.4 3.8 4.2 4.7 4.7 .7-.6-11.6-1.9-.9-3.2 .3z" fill="#1b33f9"/>
<path d="M431 514.1l6.9-.9-.4-9.4-5.6 1.5-1.5 7.3z" fill="#f9dd18"/>
<path d="M418.9 482.6l1.1 1.3 5.6 2.2 7.8-8.7-.3-.7-2-1.3-4.7-.7z" fill="#94f9ce"/>
<path d="M422.1 506.8l8.3 5.8 1.5-7.3-3.1-3.4-4.4 0z" fill="#f9b933"/>
<path d="M417.9 492.9l6.6 1.4 4.1-3.3-3-4.9-5.6-2.2z" fill="#f93f7d"/>
<path d="M424 501.2l.4 .7 4.4 0 2.7-3.8-2.1-6.9-.8-.2-4.1 3.3z" fill="#8414f9"/>
<path d="M428.1 519.7l7.7 5.8 6.5-3 .4-3.5-1.9-4.4-.7-.7-2.2-.7-6.9 .9-2.9 5.5z" fill="#143bf9"/>
<path d="M425.4 463.2l3.2-.3 1.7-8-5.9-2.5-2.4 5z" fill="#831ef9"/>
<path d="M428.6 462.9l1.9 .9 3.8-.4 2-2 .7-6.3-1.5-2.5-5.2 2.3z" fill="#f93984"/>
<path d="M429.4 491.2l2.7-.8 4.8-9.4-3.5-3.6-7.8 8.7 3 4.9z" fill="#f96f19"/>
<path d="M433.1 476.7l5.9-6.5-4.7-6.8-3.8 .4 .6 11.6z" fill="#f9e96c"/>
<path d="M428.8 501.9l3.1 3.4 5.6-1.5 2.5-2.5 .4-1.8-.3-.4-8.6-1z" fill="#75f91a"/>
<path d="M447.2 455.3l9.1-1.9 1.5-1.7 1-3.9-13.3 0z" fill="#14f4f9"/>
<path d="M444.7 524.4l-2.4-1.9-6.5 3-.7 9.1 9.7 0z" fill="#d4f915"/>
<path d="M431.5 498.1l8.6 1-1.1-6-6.9-2.7-2.7 .8z" fill="#f914a5"/>
<path d="M436.3 461.4l7.9 1.3 2.4-2.5-.3-3-9.3-2.1z" fill="#f95114"/>
<path d="M437.5 503.8l.4 9.4 2.2 .7 3.6-7-3.7-5.6z" fill="#9ef917"/>
<path d="M433.4 477.4l3.5 3.6 6.4 2.1 2.7-11.1-3.1-2.4-3.9 .6-5.9 6.5z" fill="#1b6ff9"/>
<path d="M439 470.2l3.9-.6 1.3-6.9-7.9-1.3-2 2z" fill="#f92021"/>
<path d="M439 493.1l6-8.2-1.7-1.8-6.4-2.1-4.8 9.4z" fill="#f94316"/>
<path d="M440.4 499.5l7.8-1.3 1.8-3.5-3-9.2-2-.6-6 8.2 1.1 6z" fill="#f9e216"/>
<path d="M440.8 514.6l7.2-2.9 0-4.2-4.3-.6-3.6 7z" fill="#f98055"/>
<path d="M440 501.3l3.7 5.6 4.3 .6 2.1-1.6 .3-4.1-2.2-3.6-7.8 1.3z" fill="#281ef9"/>
<path d="M444.2 462.7l-1.3 6.9 3.1 2.4 5.4-.5 2-7.6-6.8-3.7z" fill="#c5b7f9"/>
<path d="M437 455.1l9.3 2.1 .9-1.9-1.7-7.5-9.3 0-.7 4.8z" fill="#2a73f9"/>
<path d="M445 484.9l2 .6 1.5-.6 5.7-10.7-2.8-2.7-5.4 .5-2.7 11.1z" fill="#f91aeb"/>
<path d="M457.7 528.8l-5.2 .8-2.2 5 10.2 0z" fill="#f93121"/>
<path d="M444.8 534.6l5.5 0 2.2-5-2.3-4.9-5.5-.3z" fill="#2348f9"/>
<path d="M448 511.7l3.9 3.9 3.8-6.3-5.6-3.4-2.1 1.6z" fill="#4d2bf9"/>
<path d="M442.7 519l9.2-3 0-.4-3.9-3.9-7.2 2.9z" fill="#2615f9"/>
<path d="M442.7 519l-.4 3.5 2.4 1.9 5.5 .3 4.4-5-2.7-3.7z" fill="#f91414"/>
<path d="M453.4 463.9l2.5-1 .4-9.5-9.1 1.9-.9 1.9 .3 3z" fill="#f2f9ab"/>
<path d="M451.9 515.6l0 .4 2.7 3.7 5.5 .9 2.4-2.4-2.9-10-3.9 1.1z" fill="#2ef944"/>
<path d="M448.2 498.2l2.2 3.6 7.2-.4 1.3-5.4-1.6-1.5-7.3 .2z" fill="#9c3ef9"/>
<path d="M454.2 474.2l.7 .1 6-5.6 .7-1.4-1.3-3.3-4.4-1.1-2.5 1-2 7.6z" fill="#f93618"/>
<path d="M455.7 509.3l3.9-1.1 .7-.9-.1-1-2.6-4.9-7.2 .4-.3 4.1z" fill="#19f91c"/>
<path d="M450 494.7l7.3-.2 .8-8.3-.4-.6-9.2-.7-1.5 .6z" fill="#f94614"/>
<path d="M455.9 462.9l4.4 1.1 4.9-4.5 0 0-7.4-7.8-1.5 1.7z" fill="#261af9"/>
<path d="M457.6 501.4l2.6 4.9 5.8-6.5-3.6-4-3.5 .2z" fill="#1af918"/>
<path d="M448.5 484.9l9.2 .7 2.4-6-.4-1.5-4.8-3.8-.7-.1z" fill="#4e28f9"/>
<path d="M458.1 486.2l4.9 1.5 3.5-2.4-.7-4.4-5.7-1.3-2.4 6z" fill="#f99d17"/>
<path d="M454.6 519.7l-4.4 5 2.3 4.9 5.2-.8 2.9-5-.5-3.2z" fill="#18f914"/>
<path d="M459.7 478.1l3-3.1-1.8-6.3-6 5.6z" fill="#1df915"/>
<path d="M459.6 508.2l2.9 10 2.7-.4 3.9-4.7-2.2-5.2-6.6-.6z" fill="#1e8cf9"/>
<path d="M457.7 528.8l2.8 5.8 6.2 0 .7-5.2-6.8-5.6z" fill="#15f914"/>
<path d="M457.3 494.5l1.6 1.5 3.5-.2 2.9-3.5-2.3-4.6-4.9-1.5z" fill="#f94554"/>
<path d="M457.8 451.7l7.4 7.8 3.1-7.5-1-4.2-8.5 0z" fill="#42f955"/>
<path d="M461.6 467.3l.7 .3 8.5-.1 .4-4.4-.4-1.2-5.6-2.4-4.9 4.5z" fill="#f93d28"/>
<path d="M460.9 468.7l1.8 6.3 3.9-1.3-4.3-6.1-.7-.3z" fill="#c4f939"/>
<path d="M460.6 523.8l6.8 5.6 2.9-2.4 .2-5.7-5.3-3.5-2.7 .4-2.4 2.4z" fill="#b1f9c2"/>
<path d="M480.2 529.3l-1.2-.7-8.7-1.6-2.9 2.4-.7 5.2 14.5 0z" fill="#f963a3"/>
<path d="M462.4 495.8l3.6 4 2.5 .5 1.6-.5 .2-.3-.6-7.5-4.4 .3z" fill="#24f975"/>
<path d="M462.7 475l-3 3.1 .4 1.5 5.7 1.3 4.4-2.9 .2-.6-1.6-3.4-2.2-.3z" fill="#b3f91a"/>
<path d="M460.3 507.3l6.6 .6 .3-.2 1.3-7.4-2.5-.5-5.8 6.5z" fill="#14f946"/>
<path d="M468.3 452l6.3 4.5 1.3-.5 .9-8.2-9.5 0z" fill="#2bf99e"/>
<path d="M466.9 507.9l2.2 5.2 4.5-.2 1.9-3.9-1.5-2.4-.8-.4-6 1.5z" fill="#f915f7"/>
<path d="M468.8 474l2.4-5.5-.4-1-8.5 .1 4.3 6.1z" fill="#c514f9"/>
<path d="M465.3 492.3l4.4-.3 1.4-1.3-.7-3.3-.8-.9-3.1-1.2-3.5 2.4z" fill="#2ef914"/>
<path d="M470.8 461.9l3.8-5.4-6.3-4.5-3.1 7.5 0 0z" fill="#22f922"/>
<path d="M469.6 486.5l1.5-7-.9-1.5-4.4 2.9 .7 4.4z" fill="#f930f9"/>
<path d="M470.2 478l.9 1.5 4.5 3.7 1.2 .1 2.8-2.5-1.1-4.9-1.2-.4-6.9 1.9z" fill="#f92045"/>
<path d="M468.5 500.3l-1.3 7.4 6-1.5-3.1-6.4z" fill="#f9d548"/>
<path d="M470.3 499.5l4.8-.7 .3-7-.2-.4-4.1-.7-1.4 1.3z" fill="#5f3df9"/>
<path d="M470.4 487.4l5.2-4.2-4.5-3.7-1.5 7z" fill="#f91914"/>
<path d="M471.2 468.5l3.2 1 4.9-1.6-.9-4.2-7.2-.6-.4 4.4z" fill="#f9c68d"/>
<path d="M470.4 477.4l6.9-1.9-2.9-6-3.2-1-2.4 5.5z" fill="#1ca1f9"/>
<path d="M470.1 499.8l3.1 6.4 .8 .4 4-6.3-2.9-1.5-4.8 .7z" fill="#f9583e"/>
<path d="M465.2 517.8l5.3 3.5 4.4-1.8 1.4-2.1-2.7-4.5-4.5 .2z" fill="#2ff9b7"/>
<path d="M471.1 490.7l4.1 .7 2.9-3.2-1.3-4.9-1.2-.1-5.2 4.2z" fill="#f9948e"/>
<path d="M484.5 457.3l2.1 .4 7.6-2.9 0-7-10.9 0z" fill="#4014f9"/>
<path d="M470.3 527l8.7 1.6-4.1-9.1-4.4 1.8z" fill="#281ef9"/>
<path d="M483.8 524.4l-1.4-7.3-6.1 .3-1.4 2.1 4.1 9.1 1.2 .7z" fill="#60f919"/>
<path d="M483.8 524.4l-3.6 4.9 1 5.3 13 0 0-10.5z" fill="#f91c83"/>
<path d="M475.5 509l3.3-.2 1.4-7.8-.6-.7-1.6 0-4 6.3z" fill="#15f914"/>
<path d="M471.2 463.1l7.2 .6 3.9-5.1-6.4-2.6-1.3 .5-3.8 5.4z" fill="#d0f92d"/>
<path d="M475.1 498.8l2.9 1.5 1.6 0 2.5-4.6-6.7-3.9z" fill="#8a1ef9"/>
<path d="M473.6 512.9l2.7 4.5 6.1-.3 .2-.3 1.2-5.3-.3-.7-4.7-2-3.3 .2z" fill="#1f33f9"/>
<path d="M475.2 491.4l.2 .4 6.7 3.9 1.6-1-1.9-6-3.7-.5z" fill="#f91d1e"/>
<path d="M477.3 475.5l1.2 .4 2.6-2-1.5-5.9-.3-.1-4.9 1.6z" fill="#f914ac"/>
<path d="M478.4 463.7l.9 4.2 .3 .1 4.7-1.1-2-8.3 0 0z" fill="#f91e16"/>
<path d="M480.2 501l5.8 3.1 1.4-.6 1.2-6.7-2.2-2-2.7-.1-1.6 1-2.5 4.6z" fill="#a933f9"/>
<path d="M476.8 483.3l1.3 4.9 3.7 .5 4-3.6 .1-2-.4-.7-5.9-1.6z" fill="#f91421"/>
<path d="M478.8 508.8l4.7 2 2.5-6.7-5.8-3.1z" fill="#f9f54f"/>
<path d="M483.8 511.5l10.4 .5 0-6-6.8-2.5-1.4 .6-2.5 6.7z" fill="#36f9d5"/>
<path d="M482.3 458.6l0 0 2.2-1.3-1.2-9.5-6.5 0-.9 8.2z" fill="#15f92a"/>
<path d="M478.5 475.9l1.1 4.9 5.9 1.6 1.8-7.4-1.3-1.2-4.9 .1z" fill="#f9d614"/>
<path d="M482.6 516.8l11.6 1.7 0-6.5-10.4-.5z" fill="#1bf969"/>
<path d="M482.4 517.1l1.4 7.3 10.4-.3 0-5.6-11.6-1.7z" fill="#f91855"/>
<path d="M484.3 466.9l2.1 1 3.8-2.1-3.6-8.1-2.1-.4-2.2 1.3z" fill="#1514f9"/>
<path d="M481.1 473.9l4.9-.1 .4-5.9-2.1-1-4.7 1.1z" fill="#5215f9"/>
<path d="M487.3 475l6.9-.2 0-8.3-4-.7-3.8 2.1-.4 5.9z" fill="#c615f9"/>
<path d="M485.9 483.1l8.3-.9 0-7.4-6.9 .2-1.8 7.4z" fill="#1540f9"/>
<path d="M483.7 494.7l2.7 .1 2.6-5.5-3.2-4.2-4 3.6z" fill="#7e48f9"/>
<path d="M488.6 496.8l-1.2 6.7 6.8 2.5 0-9.7z" fill="#2bf931"/>
<path d="M488.6 496.8l5.6-.5 0-7-5.2 0-2.6 5.5z" fill="#f91a38"/>
<path d="M485.9 483.1l-.1 2 3.2 4.2 5.2 0 0-7.1z" fill="#f91f18"/>
<path d="M486.6 457.7l3.6 8.1 4 .7 0-11.7z" fill="#3df9f0"/>
<g stroke="none"><path d="M389 457.6l.1-2.2-2.6 5.2 1.1-.2z" fill="#f9b989"/><path d="M389.2 451.9l.1-2.2-5.8 11.6 1.2-.3z" fill="#f9b989"/><path d="M388.6 447.8l-1 0-7 14.1 1.2-.2z" fill="#f9b989"/><path d="M385.9 447.8l-1 0-4.4 8.9 0 2z" fill="#f9b989"/><path d="M383.2 447.8l-1 0-1.7 3.4 0 2.1z" fill="#f9b989"/><path d="M393.3 510.5l-.5-.5-1.7 4.3 1.1-1z" fill="#14f99b"/><path d="M391.8 508.9l-.4-.5-3.4 8.3 .4 .2 .3-.3z" fill="#14f99b"/><path d="M389.9 508.4l-.9 .5-2.8 7 .5 .3z" fill="#14f99b"/><path d="M387.7 509.6l-.9 .6-2 5.1 .5 .3z" fill="#14f99b"/><path d="M385 511.2l-.9 .6-1.1 2.8 .6 .2z" fill="#14f99b"/><path d="M382.6 512.7l-.9 .5-.3 .7 .6 .3z" fill="#14f99b"/><path d="M386.9 525.7l4.3-1.5 .5-1.4z" fill="#1d50f9"/><path d="M390.9 521l-.5-.8-9.9 5.8 0 1z" fill="#1d50f9"/><path d="M389.5 518.6l-.5-.8-8.5 4.9 0 1.1z" fill="#1d50f9"/><path d="M387.8 516.6l-1.1-.4-6.2 3.6 0 1.1z" fill="#1d50f9"/><path d="M384.4 515.2l-1.1-.5-2.8 1.7 0 1z" fill="#1d50f9"/><path d="M394.2 494.2l2.1-.6-5.6 .2 .6 .5z" fill="#2b57f9"/><path d="M397.9 491.8l.2-.5-7.7 .2 0 .6z" fill="#2b57f9"/><path d="M398.4 490.4l.2-.6-8.2 .3 0 .6z" fill="#2b57f9"/><path d="M398.3 488.7l-.3-.5-7.6 .3 0 .5z" fill="#2b57f9"/><path d="M397.3 486.5l-.3-.6-6.5 .3 0 .5z" fill="#2b57f9"/><path d="M396.7 485.1l-.2-.5-6 .2 0 .6z" fill="#2b57f9"/><path d="M395.7 483l-.2-.6-3.5 .1-.6 .6z" fill="#2b57f9"/><path d="M395 481.4l-.2-.6-1.1 .1-.6 .5z" fill="#2b57f9"/><path d="M396.3 534.1l-.5-1-.5 1.5 .9 0z" fill="#f91745"/><path d="M394.6 530.8l-.5-1-1.7 4.8 .9 0z" fill="#f91745"/><path d="M393.5 528.6l-.6-1-2.4 7 .9 0z" fill="#f91745"/><path d="M392.2 526.3l-.5-1.1-3.2 9.4 .9 0z" fill="#f91745"/><path d="M390.7 524.3l-1.1 .4-3.4 9.9 .9 0z" fill="#f91745"/><path d="M387.5 525.4l-1 .4-3 8.8 .9 0z" fill="#f91745"/><path d="M385.3 526.2l-1 .4-2.8 8 .9 0z" fill="#f91745"/><path d="M382.4 527.2l-1 .4-.9 2.4 0 2.6z" fill="#f91745"/><path d="M397.7 517.5l-.4-.9-2.8 4.7 1.4-.5z" fill="#30f9dc"/><path d="M396.9 515.8l-.4-.9-4.3 7.5 1.3-.6z" fill="#30f9dc"/><path d="M396 513.9l-.5-1-4.6 8.1 .5 .8z" fill="#30f9dc"/><path d="M395 511.8l-.1-.2-.7-.2-4.4 7.7 .5 .9z" fill="#30f9dc"/><path d="M391.6 513.9l-2.2 2.1-.8 1.3 .5 .8z" fill="#30f9dc"/><path d="M403.9 486l-.5-.3-.6 1.8 .8-.5z" fill="#d9f98d"/><path d="M401.8 484.6l-.5-.4-1.7 5 .8-.4z" fill="#d9f98d"/><path d="M399.9 483.3l-.5-.4-1.6 4.7 .4 .9z" fill="#d9f98d"/><path d="M398.2 482.1l-.5-.4-1.1 3.2 .4 .8z" fill="#d9f98d"/><path d="M396.4 480.8l-.5-.3-.6 1.5 .4 .8z" fill="#d9f98d"/><path d="M400.9 509.1l.9 .2 .5-.6z" fill="#2af991"/><path d="M404.3 505.8l.6-.8-6.2 2.1 .1 .6z" fill="#2af991"/><path d="M405.9 503.1l-.2-.5-7.6 2.6 .2 .5z" fill="#2af991"/><path d="M405.2 501.4l-.2-.5-7.4 2.5 .2 .6z" fill="#2af991"/><path d="M404.2 497.7l.4 .5 1.6-1.5z" fill="#ae41f9"/><path d="M409.1 493.8l-.4-1-6 3.1 .6 .8z" fill="#ae41f9"/><path d="M408.6 492.6l-.3-.9-5.1 2.5-.7 1.5z" fill="#ae41f9"/><path d="M408 490.9l-.3-.9-3.5 1.7-.6 1.5z" fill="#ae41f9"/><path d="M407.2 488.8l-.3-1-1.3 .6-.6 1.5z" fill="#ae41f9"/><path d="M414.7 512l-3-1.6 3.3 2.8 .2-.8z" fill="#14adf9"/><path d="M409 510.5l-.7 .3 5.9 5.1 0-.1 .3-.7z" fill="#14adf9"/><path d="M406.5 511.7l-.8 .3 6.2 5.3 .7-.4z" fill="#14adf9"/><path d="M404.5 512.6l-.3 .1 0 .6 5.9 5.1 .7-.4z" fill="#14adf9"/><path d="M415.7 496l0-1.5-.1 0-1.9 4.8 .7 .1z" fill="#27f922"/><path d="M414.6 493.9l-.3-.2-.4 0-2.1 5.5 .7 .1z" fill="#27f922"/><path d="M412.7 493.8l-.7 0-2 5.3 .7 .1z" fill="#27f922"/><path d="M410.3 493.9l-.7 .1-2 5 .7 0z" fill="#27f922"/><path d="M408.2 494.8l-1.1 1.1-1.2 3 .7 0z" fill="#27f922"/><path d="M415.4 517.6l-1-1.5 .8 8.9 .8-.7z" fill="#f91476"/><path d="M412.9 516.7l-.8 .5 .9 9.9 .8-.7z" fill="#f91476"/><path d="M410.2 518.4l-.9 .5 .6 6.1 .9 .7z" fill="#f91476"/><path d="M436 449l.2-1.2-.9 0z" fill="#f92117"/><path d="M434.5 447.8l-1 0 2.1 3.8 .3-1.5z" fill="#f92117"/><path d="M433 447.8l-1.1 0 2.9 5.1 .7-.3 0-.3z" fill="#f92117"/><path d="M430.7 447.8l-1.1 0 3.4 5.9 .9-.4z" fill="#f92117"/><path d="M428.6 447.8l-1.1 0 3.8 6.7 .9-.4z" fill="#f92117"/><path d="M426.6 447.8l-1 0 3.8 6.7 .9 .4 .3-.1z" fill="#f92117"/><path d="M425.1 447.8l-1.1 0 3.4 5.9 1.4 .6z" fill="#f92117"/><path d="M423.1 447.8l0 0 1 3.5 .7 1.2 1.4 .6z" fill="#f92117"/><path d="M422.7 500.8l-.8-.3-1.9 7.5 1-.6z" fill="#72f931"/><path d="M420.4 499.9l-.8-.3-2 7.4 .7 1.1z" fill="#72f931"/><path d="M418.1 499l-.8-.3-1.4 5.5 .6 1z" fill="#72f931"/><path d="M429.3 511.8l-.4-.3-1.5 7.6 .5 .3z" fill="#191cf9"/><path d="M427.5 510.5l-.5-.3-1.4 7.4 .4 .4z" fill="#191cf9"/><path d="M425.4 509.1l-.4-.3-1.4 7.3 .4 .3z" fill="#191cf9"/><path d="M423.3 507.6l-.5-.3-1.3 7.1 .4 .4z" fill="#191cf9"/><path d="M421.2 507.4l-.6 .3-1 5.3 .4 .3z" fill="#191cf9"/><path d="M418.8 508.6l-.2 .1-.5 1-.4 1.8 .5 .4z" fill="#191cf9"/><path d="M420.9 457.5l1.1-.1 .6-1.2z" fill="#f91c7e"/><path d="M424.3 452.5l.1-.1-.3-.9-8 6 1.5 0z" fill="#f91c7e"/><path d="M423.7 450.1l-.2-.9-9.2 6.8-.2 1.3z" fill="#f91c7e"/><path d="M422.5 447.8l-1.4 0-6.1 4.6-.2 1.2z" fill="#f91c7e"/><path d="M417.7 447.8l-1.4 0-.6 .4-.2 1.2z" fill="#f91c7e"/><path d="M431 473.1l0-.6-6.5 .1 .6 .7z" fill="#9659f9"/><path d="M430.9 471l-.1-.6-8.1 .1 .6 .7z" fill="#9659f9"/><path d="M430.8 469.3l-.1-.6-8.3 .1-.1 .7z" fill="#9659f9"/><path d="M430.6 467.1l0-.7-8 .2-.1 .6z" fill="#9659f9"/><path d="M430.5 464.9l0-.7-6.2 .2-.6 .6z" fill="#9659f9"/><path d="M428 474.9l-.9-.1 4.8 4.3 .3-.3z" fill="#2bf974"/><path d="M425.4 475.7l-.4 .4 5.2 4.8 .4-.4z" fill="#2bf974"/><path d="M423.6 477.6l-.3 .3 5.2 4.9 .4-.4z" fill="#2bf974"/><path d="M422.1 479.2l-.3 .3 5.3 4.9 .3-.3z" fill="#2bf974"/><path d="M420.2 481.2l-.4 .4 4.2 3.9 1.3 .5z" fill="#2bf974"/><path d="M437.7 513.2l-1.3 .2 5.1 2.8-.5-1.1z" fill="#4df980"/><path d="M433.9 513.7l-1.2 .2 9.9 5.4 .1-.3-.3-.7z" fill="#4df980"/><path d="M431.4 514l-.4 .1-.3 .4 11.8 6.4 0-.8z" fill="#4df980"/><path d="M430.2 515.6l-.4 .6 11.9 6.5 .6-.2 0-.3z" fill="#4df980"/><path d="M429.4 517.1l-.4 .7 10.7 5.9 .8-.4z" fill="#4df980"/><path d="M428.8 518.2l-.4 .7 9.9 5.4 .9-.4z" fill="#4df980"/><path d="M428.9 520.3l4.2 3.2 3.3 1.7 .8-.4z" fill="#4df980"/><path d="M424.2 452.7l-.3 .8 5.7 1.1-3.4-1.4z" fill="#f9141c"/><path d="M423.2 454.9l-.3 .7 7 1.4 .1-.8z" fill="#f9141c"/><path d="M422.2 456.9l-.2 .5 .1 .3 7.3 1.4 .2-.7z" fill="#f9141c"/><path d="M422.8 458.8l.5 .9 5.8 1.1 .1-.7z" fill="#f9141c"/><path d="M424.2 461.1l.5 .9 4 .8 .1-.7z" fill="#f9141c"/><path d="M430.5 465l.1 .5 5.3 .3-.4-.6z" fill="#2a55f9"/><path d="M430.7 467.2l0 .5 6.8 .3-.4-.6z" fill="#2a55f9"/><path d="M430.8 469.3l0 .6 8.2 .3-.4-.5z" fill="#2a55f9"/><path d="M430.9 471.2l0 .6 6.4 .3 .5-.6z" fill="#2a55f9"/><path d="M431 473.4l0 .5 4.4 .2 .5-.5z" fill="#2a55f9"/><path d="M431.4 475.5l.9 .6 1.3 .1 .5-.6z" fill="#2a55f9"/><path d="M445.8 461.1l.6-.7-10.1 .6 0 .4 1 .2z" fill="#f91c15"/><path d="M446.5 458.8l-.1-.6-9.8 .6-.1 .5z" fill="#f91c15"/><path d="M445.2 456.9l-2-.4-6.4 .3-.1 .6z" fill="#f91c15"/><path d="M441.1 511.9l.7-1.3-3.9 1.7 0 .9 .1 0z" fill="#21f939"/><path d="M442.5 509.3l.7-1.4-5.4 2.3 0 1z" fill="#21f939"/><path d="M443.6 506.7l-.5-.8-5.4 2.3 0 1z" fill="#21f939"/><path d="M442.4 504.9l-.5-.8-4.3 1.8 0 1z" fill="#21f939"/><path d="M441.4 503.3l-.5-.8-3.4 1.4 .1 1.1z" fill="#21f939"/><path d="M443.8 481.2l.2-.9-5.3 1.3 1.5 .5z" fill="#f9af18"/><path d="M444.5 478.2l.2-.9-9.2 2.2 .7 .7z" fill="#f9af18"/><path d="M445.3 475l.2-.9-12.2 3 .1 .3 .4 .4z" fill="#f9af18"/><path d="M445.9 472.5l.1-.5-.4-.3-10.2 2.5-1 1.1z" fill="#f9af18"/><path d="M443.6 470.1l-.7-.5-2.5 .4-1.5 .4-1.1 1.1z" fill="#f9af18"/><path d="M446.1 457.1l.2 .1 .9-1.9-.2-1.2z" fill="#1743f9"/><path d="M446.2 450.8l-.3-1.3-1.9 7.1 .6 .2z" fill="#1743f9"/><path d="M445.3 447.8l-.6 0-2.3 8.5 .6 .1z" fill="#1743f9"/><path d="M443.2 447.8l-.7 0-2.1 8 .6 .2z" fill="#1743f9"/><path d="M441.1 447.8l-.6 0-2.1 7.6 .6 .1z" fill="#1743f9"/><path d="M438.7 447.8l-.6 0-1.7 6.2 .4 .8z" fill="#1743f9"/><path d="M469.1 513l-.6-1.4-.4 2.7 .9-1.1z" fill="#215bf9"/><path d="M467.4 508.9l-.5-1-.2 0-1.2 9.6 .9-1.1z" fill="#215bf9"/><path d="M465 507.8l-.8-.1-1.3 10.4 .7-.1z" fill="#215bf9"/><path d="M462.9 507.6l-.7-.1-.9 6.6 .5 1.8z" fill="#215bf9"/><path d="M461 507.4l-.7-.1-.1 0-.2 2.1 .5 1.8z" fill="#215bf9"/><path d="M480.9 533.2l-.7-3.9-.1 0-.1 5.3 .9 0z" fill="#5af97c"/><path d="M479.4 528.9l-.4-.3-.5-.1-.1 6.1 .9 0z" fill="#5af97c"/><path d="M477.8 528.4l-.9-.2-.1 6.4 .9 0z" fill="#5af97c"/><path d="M476.2 528.1l-.9-.1-.1 6.6 .9 0z" fill="#5af97c"/><path d="M474.4 527.8l-.9-.2-.2 7 .9 0z" fill="#5af97c"/><path d="M472.3 527.4l-.9-.2-.1 7.4 .9 0z" fill="#5af97c"/><path d="M471.1 527.2l-.8-.2-.1 .1-.1 7.5 .9 0z" fill="#5af97c"/><path d="M469 528.2l-1 .7-.1 5.7 .9 0z" fill="#5af97c"/><path d="M467.4 529.7l-.7 4.9 .6 0z" fill="#5af97c"/><path d="M476.4 447.8l-.6 0 .6 3.4 .2-2z" fill="#142ff9"/><path d="M474.2 447.8l-.6 0 1.4 8.5 .6-.2z" fill="#142ff9"/><path d="M472.6 447.8l-.6 0 1.4 7.8 .6 .5z" fill="#142ff9"/><path d="M470.3 447.8l-.6 0 1 5.9 .7 .5z" fill="#142ff9"/><path d="M468.3 447.8l-.5 0 .7 4.3 .7 .5z" fill="#142ff9"/><path d="M478.2 463.7l-.8-.1 1.4 2-.3-1.6z" fill="#4425f9"/><path d="M475.8 463.5l-.8-.1 3.4 4.8 .6-.2z" fill="#4425f9"/><path d="M473 463.2l-.8-.1 4.1 5.8 .6-.2z" fill="#4425f9"/><path d="M471.2 463.4l-.1 .9 3.6 5.1 .6-.2z" fill="#4425f9"/><path d="M470.9 466.5l-.1 .9 .9 1.2 .9 .3z" fill="#4425f9"/><path d="M474.6 519.6l.3-.1 .5-.7-8.7 0 1.3 .9z" fill="#5ef9b9"/><path d="M476.2 517.2l-.6-.9-9.2 .1-.8 .8z" fill="#5ef9b9"/><path d="M474.9 515.1l-.5-.8-6.3 0-.7 .9z" fill="#5ef9b9"/><path d="M492 447.8l-1.2 0 3.4 3 0-1.1z" fill="#e3b9f9"/><path d="M488.4 447.8l-1.2 0 7 6.2 0-1.1z" fill="#e3b9f9"/><path d="M484.5 447.8l-1.2 0 .1 .1 8.7 7.7 .8-.3z" fill="#e3b9f9"/><path d="M483.7 450.7l.1 1.2 5.4 4.8 .9-.3z" fill="#e3b9f9"/><path d="M484.1 454.4l.2 1.2 2.3 2.1 .9-.3z" fill="#e3b9f9"/><path d="M473.7 520l-.5 .2 3.7 3.8-.6-1.4z" fill="#f97c21"/><path d="M471.1 521.1l-.5 .2 7 7.1 .9 .1z" fill="#f97c21"/><path d="M470.4 524.2l0 .8 2.5 2.5 .9 .2z" fill="#f97c21"/><path d="M479.2 506.2l.2-1-4.1 3.6 .2 .2 .5 0z" fill="#16f914"/><path d="M479.6 503.9l.2-1-5.3 4.6 .4 .5z" fill="#16f914"/><path d="M480 500.8l-.4-.5-.1 0-3.4 3-1.2 1.9z" fill="#16f914"/><path d="M481.3 458.2l-.7-.3-1.3 4.6 1.2-1.6z" fill="#f9351c"/><path d="M479.4 457.4l-.7-.3-1.7 6.5 .7 0z" fill="#f9351c"/><path d="M477.8 456.8l-.7-.3-1.9 6.9 .8 .1z" fill="#f9351c"/><path d="M475.9 456l0 0-.8 .3-1.9 6.9 .7 .1z" fill="#f9351c"/><path d="M472.9 458.9l-1.3 1.8-.5 2 .1 .4 .5 0z" fill="#f9351c"/></g>
<path d="M384.9 451.9l9.4 0 2.4 7.7-11.8 0z" fill="#50f030"/>
<path d="M384.9 459.6l11.8 0 .8 4.9-12.6 .9z" fill="#f050c0"/>
<path d="M384.9 465.4l9.4 .8 0 9-9.4 .8z" fill="#b0f040"/>
<path d="M394.3 451.9l13.9 0-1.7 4.5-9 3.2z" fill="#80c0f0"/>
<path d="M397.5 460.4l5.8 0 .8 9-5.7-4z" fill="#5050f0"/>
<path d="M403.3 457.2l9.8-1.7 2.4 9.9-.8 7.3-9 .8-1.6-4.1z" fill="#f0a040"/>
<path d="M394.3 465.4l9 4 2.4 4.1 7.4 0 3.2 6.6-3.2 5.7-9.8 1.6-4.9-1.6-1.7-9-2.4-1.6z" fill="#60f090"/>
<path d="M415.5 451.9l7.4 0 2.4 3.6-8.1 9.9z" fill="#4020f0"/>
<path d="M422.9 451.9l11.4 0 3.7 2 0 5.7-3.7 4.1-9 9.8-6.5 0-1.6-8.1 8.1-9.9z" fill="#f03040"/>
<path d="M413.1 471.9l5.7 1.6 1.6 8.2-4.1-1.6z" fill="#3030f0"/>
<path d="M431.1 463.7l6.9-4.1 0 20.5-10.2-1.7 0-3.2z" fill="#c0f040"/>
<path d="M425.3 473.5l2.5 1.7 0 3.2-6.6 1.7-.8-4.1z" fill="#5030f0"/>
<path d="M420.4 481.7l7.4-3.3 6.5 3.3-3.2 6.5-8.2 1.7-1.7-3.3z" fill="#f04060"/>
<path d="M384.9 476l5.3 0 1.6 5.7 2.5 0 0 9.3-9.4 0z" fill="#3030f0"/>
<path d="M384.9 480.9l2 0 0 10.1-2 0z" fill="#f02020"/>
<path d="M394.3 483.3l3.2-.8 .9 8.5-4.1 0z" fill="#f02020"/>
<path d="M391 476.8l6.5 0 .9 4.9-6.6 0z" fill="#50f050"/>
<path d="M398.4 486.6l14.7-.8 1.6 5.2-16.3 0z" fill="#70b0f0"/>
<path d="M412.3 483.3l5.7-.8 0 4.9-4.9-.8z" fill="#f0a0a0"/>
<path d="M418 485l4.9 4.9-2.5 1.1-5.7 0z" fill="#6070f0"/>
<path d="M432.7 483.3l5.3-1.6 0 9.3-6.9 0z" fill="#80a0f0"/>
<path d="M439.3 455.5l9.8-1.6 4.9 7.4-5.7 4.1-8.2-4.1z" fill="#60f050"/>
<path d="M449.1 453.9l11.4-1.6 1.7 6.5-8.2 2.5z" fill="#80d0f0"/>
<path d="M438.5 460.4l8.1 3.3 1.7 6.6-7.4 2.4-2.4-4.9z" fill="#2020f0"/>
<path d="M466.3 452.3l12.2 0 1.7 4.9-5.8 7.3-7.3-1.6z" fill="#90e0f8"/>
<path d="M460.5 453.9l5.8-1.6 .8 10.6-4.9-1.6z" fill="#80f060"/>
<path d="M480.2 453.9l8.1 0 .8 11.5-7.3-1.7z" fill="#2020f0"/>
<path d="M488.3 451.9l1.7 0 0 13.5-1.7 0z" fill="#f03030"/>
<path d="M474.4 458.8l6.6-.8 3.2 7.4-5.7 1.6-4.9-2.5z" fill="#c0f050"/>
<path d="M478.5 464.5l5.7 .9 0 3.2-4.9 0z" fill="#50f040"/>
<path d="M453.2 464.5l9-1.6 1.6 5.7-9 .8z" fill="#f03080"/>
<path d="M463 462.9l8.2 2.5-.9 6.5-4 2.4-4.1-4z" fill="#3010f0"/>
<path d="M448.3 467l6.5 2.4 9-.8 3.3 6.6-1.7 4.9-13 0-4.1-4.1z" fill="#a070f0"/>
<path d="M468.7 465.4l13.9 0 2.5 6.5-1.7 9.8-8.2 1.6-6.5-4.9z" fill="#f090f0"/>
<path d="M484.2 471.9l4.9 1.6-.8 6.6-4.1 0z" fill="#c0f060"/>
<path d="M438.5 476l9.8-1.7 1.6 5.8-10.6 4.1z" fill="#f0f050"/>
<path d="M439.3 484.2l10.6-4.1 5.7 3.2 0 7.7-16.3 0z" fill="#5080f0"/>
<path d="M438.5 485.8l6.5 0 0 5.2-6.5 0z" fill="#b0a0f0"/>
<path d="M456.4 481.7l4.1-.8 1.7 10.1-5.8 0z" fill="#f02040"/>
<path d="M460.5 480.1l9.8-.8 1.7 8.1-8.2 3.6z" fill="#40f040"/>
<path d="M475.2 483.3l11.5-.8 3.3 2.5 0 6-14.8 0z" fill="#5060e0"/>
<path d="M436 461.3l3.3 0-.8 10.6-2.5 .8z" fill="#f050a0"/>
<path d="M384.9 489l8.5 0 0 13.1-8.5 .8z" fill="#4040f0"/>
<path d="M393.4 489l3.3 0-1.6 11.4-1.7 0z" fill="#f02020"/>
<path d="M396.7 489l11.5 0 0 9.8-9 .8-2.5-2.4z" fill="#7080f0"/>
<path d="M408.2 489l8.1 0 .9 4.9-8.2-1.6z" fill="#5090f0"/>
<path d="M417.2 489l7.3 0 0 4.9-6.5 .8z" fill="#f0f060"/>
<path d="M408.2 493.9l9-.8 2.4 8.2-6.5 3.2-4.9-4.9z" fill="#70f020"/>
<path d="M418.8 494.7l5.7-.8 1.7 7.4-6.6 0z" fill="#f050c0"/>
<path d="M424.5 492.3l10.6 0 0 13.1-8.9-1.7z" fill="#3030f0"/>
<path d="M432.7 492.3l5.3 0 0 6.5-3.7-1.6z" fill="#f02020"/>
<path d="M386.1 502.9l6.5 0 .4 5.7-6.1 .8z" fill="#f0f070"/>
<path d="M393.4 500.4l5.8-.8 1.6 10.7-7.4 0z" fill="#2020f0"/>
<path d="M403.3 500.4l5.7 1.7 .8 4.9-4.9-.8z" fill="#f090a0"/>
<path d="M400 510.3l6.5-1.7 1.7 4.9-6.6 .8z" fill="#f050f0"/>
<path d="M417.2 503.7l9-.8 2.4 4.1-.8 4.9-9 0-1.6-4.1z" fill="#70f0a0"/>
<path d="M428.6 507.8l9.4-.8 0 11.4-8.6-3.2z" fill="#70f0f0"/>
<path d="M408.2 507.8l8.1-.8 2.5 14.7-4.1 8.7-11.4 0-2.5-7.1 2.5-7.3z" fill="#90f050"/>
<path d="M418 511.9l11.4 1.6 .8 8.2-11.4 1.6z" fill="#f0b040"/>
<path d="M386.1 509.4l6.5 .9 .8 5.7-6.5 0z" fill="#b060f0"/>
<path d="M386.9 516l8.2-2.5 .8 8.2-7.4 1.6z" fill="#f03060"/>
<path d="M384.9 524.2l8.5-.9 .9 7.1-9.4 0z" fill="#40f040"/>
<path d="M394.3 516l6.5 0 .8 7.3-6.5 .9z" fill="#a0f050"/>
<path d="M393.4 525l9.9 0 0 5.4-9.9 0z" fill="#f0b040"/>
<path d="M419.6 522.5l6.6 0 0 7.9-6.6 0z" fill="#f03060"/>
<path d="M426.2 523.3l11.8 0 0 7.1-11.8 0z" fill="#50f050"/>
<path d="M429.4 515.2l8.6 3.2 0 4.9-7.8-1.6z" fill="#9060f0"/>
<path d="M438.5 489l16.3 0 1.6 6.5-5.7 4.1-9-4.1z" fill="#c0a0f0"/>
<path d="M456.4 489l6.6 0 .8 6.5-6.5 .9z" fill="#f02030"/>
<path d="M467.1 491.5l6.5 0 .8 8.1-5.7 .8z" fill="#4090f0"/>
<path d="M476.9 489l11.4 0 1.7 3.3-8.2 1.6z" fill="#f02020"/>
<path d="M437.6 494.7l5.8 .8 .8 9.9-6.6 0z" fill="#50f050"/>
<path d="M443.4 498.8l4 0 0 4.9-4 0z" fill="#f0a040"/>
<path d="M458.1 498l9 1.6 0 8.2-7.4 .8z" fill="#40f040"/>
<path d="M450.7 501.3l7.4 0 .8 5.7-6.5 .8z" fill="#60f0a0"/>
<path d="M474.4 495.5l7.4 0 8.2 3.3 0 9-11.5 3.3-4.1-5.7z" fill="#80f070"/>
<path d="M480.2 495.5l9.8-.8 0 4.1-8.2-.8z" fill="#f02020"/>
<path d="M436 505.4l8.2 0 0 6.5-8.2-1.6z" fill="#f050d0"/>
<path d="M445 509.4l7.4-.8 2.4 4.9-8.2 2.5z" fill="#f02020"/>
<path d="M463 507.8l5.7-.8 .8 6.5-5.7 0z" fill="#3050f0"/>
<path d="M455.6 507l7.4 .8 .8 5.7-7.4 0z" fill="#f04080"/>
<path d="M468.7 503.7l6.5-.8 .9 13.1-7.4 0z" fill="#50f040"/>
<path d="M475.2 511.9l6.6-.8 0 4.9-6.6 0z" fill="#2020f0"/>
<path d="M481.8 508.6l8.2 0 0 13.1-4.1 0-.8-5.7z" fill="#f050c0"/>
<path d="M436 511.9l9 0 0 8.2-9 0z" fill="#70f0e0"/>
<path d="M436 520.1l6.5 0 0 10.3-6.5 0z" fill="#50f050"/>
<path d="M442.5 520.1l6.6 1.6 0 8.7-6.6 0z" fill="#80e0f0"/>
<path d="M449.1 521.7l9.8 0 0 8.7-9.8 0z" fill="#c0f060"/>
<path d="M449.1 515.2l5.7 0 1.6 4.9-6.5 .8z" fill="#b060f0"/>
<path d="M486.7 520.9l3.3-.8 0 10.3-3.3 0z" fill="#f02040"/><g stroke="none"><path d="M394.3 466.7l0-.5-1.7-.2z" fill="#3515f9"/><path d="M390.3 465.8l-3.6-.3 7.6 3.2 0-1.2z" fill="#3515f9"/><path d="M384.9 467.8l0 1.3 9.4 4 0-1.3z" fill="#3515f9"/><path d="M384.9 472.2l0 1.1 5.3 2.2 2.1-.2z" fill="#3515f9"/><path d="M384.9 475l0 1 1.9-.2z" fill="#3515f9"/><path d="M394.3 451.9l.5 1.3 .8-1.3-1.3 0z" fill="#f96036"/><path d="M396.1 456.3l.6 1.3 3.2-5.7-1.2 0z" fill="#f96036"/><path d="M403.5 460.5l.1 2.1 4.3-6.2-1.7 .3z" fill="#f9a6df"/><path d="M403.8 465.4l.1 1.6 7.9-11.2-1.4 .2z" fill="#f9a6df"/><path d="M406.3 473.5l1.5-.2 7.2-10.2-.4-1.4z" fill="#f9a6df"/><path d="M429.1 451.9l-2.2 0 11.1 5.2 0-1.1z" fill="#66f914"/><path d="M424.1 457l-.5 .7 11.3 5.4 .6-.7z" fill="#66f914"/><path d="M420.7 461.1l-.9 1.1 11.1 5.3 1-1.1z" fill="#66f914"/><path d="M418.4 463.9l-.7 .8 11 5.2 .7-.8z" fill="#66f914"/><path d="M418.2 470.7l.3 1.4 3 1.4 2.8 0z" fill="#66f914"/><path d="M413.5 472l-.4-.1 .3 .9 5.9 3.4-.1-.9z" fill="#f96fe5"/><path d="M413.9 473.8l.6 1.7 5.3 3.1-.3-1.4z" fill="#f96fe5"/><path d="M386.7 476l-1.8 0 0 .3 6.2 3-.4-1.4z" fill="#f926ae"/><path d="M384.9 478.4l0 1.2 9.4 4.4 0-1.2-2.4-1.1-.1 0 0 0z" fill="#f926ae"/><path d="M384.9 481.9l0 .8 9.4 4.4 0-.7z" fill="#f926ae"/><path d="M384.9 484.5l0 1.2 9.4 4.4 0-1.2z" fill="#f926ae"/><path d="M384.9 487.7l0 1 4.9 2.3 2.2 0z" fill="#f926ae"/><path d="M394.3 485.1l0 1.3 3.8 2.2-.1-1.4z" fill="#f92c1e"/><path d="M394.3 488.9l0 1.4 1.2 .7 2.7 0z" fill="#f92c1e"/><path d="M398.4 488.8l0 1.6 3.4-4-1.4 .1z" fill="#c722f9"/><path d="M400.7 491l1.1 0 4.1-4.8-1.1 .1z" fill="#c722f9"/><path d="M406.9 491l1.1 0 4.5-5.2-1.2 .1z" fill="#c722f9"/><path d="M412.4 483.9l.3 1.1 1.5-1.9-1.3 .2z" fill="#1df984"/><path d="M416.4 487.2l1.5 .2 .1-.1 0-2.2z" fill="#1df984"/><path d="M431.4 489.6l-.3 1.4 .5 0 6.4-6.8 0-1.7z" fill="#7819f9"/><path d="M434.3 491l1 0 2.7-2.8 0-1.2z" fill="#7819f9"/><path d="M449.2 454l.3 .5 .6-.7-.8 .1z" fill="#48f918"/><path d="M450.3 455.7l.4 .6 2.5-3-1.1 .2z" fill="#48f918"/><path d="M451.8 458l.5 .8 5.1-6.1-1.3 .2z" fill="#48f918"/><path d="M457.7 460.2l1.5-.5 2.5-2.9-.3-1.1z" fill="#48f918"/><path d="M473.9 462.5l-.2 1.5 4.3-5.6-1 .1z" fill="#f91a14"/><path d="M476 465.7l.8 .4 4.9-6.4-.4-.9z" fill="#f91a14"/><path d="M479.2 466.8l1.1-.3 2.8-3.7-.3-.7z" fill="#f91a14"/><path d="M478.8 466l.3 1.5 1.5-2.7-1-.1z" fill="#4817f9"/><path d="M479.6 468.6l1.3 0 1.9-3.4-1.1-.2z" fill="#4817f9"/><path d="M482.6 468.6l1.2 0 .4-.7 0-2.2z" fill="#4817f9"/><path d="M448.3 468.4l0 1.5 2.1-2.1-1.1-.4z" fill="#1ff98a"/><path d="M448.3 471.5l0 1.6 4.4-4.5-1.2-.4z" fill="#1ff98a"/><path d="M451.5 479.2l.8 .8 11.3-11.4-1.7 .2z" fill="#1ff98a"/><path d="M454 480.1l1.4 0 9.4-9.5-.5-.9z" fill="#1ff98a"/><path d="M458.2 480.1l1.3 0 6.7-6.7-.5-.9z" fill="#1ff98a"/><path d="M468.7 467.6l0 1.6 2.9-3.8-1.2 0z" fill="#f91434"/><path d="M468.7 472.5l0 1.5 6.4-8.6-1.1 0z" fill="#f91434"/><path d="M468.8 478.5l.8 .6 10.2-13.7-1.3 0z" fill="#f91434"/><path d="M471.4 480.4l.7 .6 10.9-14.7-.4-.9-.1 0z" fill="#f91434"/><path d="M473.3 481.9l.8 .6 9.9-13.4-.4-1.1z" fill="#f91434"/><path d="M482 482l1.2-.2 .3-.4 .3-1.8z" fill="#f91434"/><path d="M438.5 476.3l.1 .7 1.2-1.2-.9 .1z" fill="#166df9"/><path d="M438.8 479.1l0 .7 4.7-4.7-1 .2z" fill="#166df9"/><path d="M439.2 483.1l0 .7 9.1-9.2 0-.3-.6 .1z" fill="#166df9"/><path d="M443.2 482.6l1.9-.7 4.1-4.2-.2-.9z" fill="#166df9"/><path d="M439.3 488.4l0 2.1 3.4-7.7-1.1 .5z" fill="#89f918"/><path d="M440.4 491l1.2 0 4.2-9.4-1.4 .6z" fill="#89f918"/><path d="M444.8 491l1 0 4.7-10.6-.6-.3-.2 .1z" fill="#89f918"/><path d="M447.9 491l1.1 0 4.1-9.1-.8-.5z" fill="#89f918"/><path d="M449.8 491l.9 0 3.7-8.3-.7-.4z" fill="#89f918"/><path d="M452.4 491l1.1 0 2.1-4.8 0-2.4z" fill="#89f918"/><path d="M454.5 491l1.1 0 0 0 0-2.5z" fill="#89f918"/><path d="M461.7 484.1l.5 1.6 5.4-6.2-1.9 .1z" fill="#f9413e"/><path d="M462.8 487.6l.4 1.3 7.4-8.5-.3-1.1-.3 0z" fill="#f9413e"/><path d="M464.7 490.6l3.1-1.4 3.7-4.2-.4-1.8z" fill="#f9413e"/><path d="M436 466.9l0 2.1 3-3.9 .1-2.2z" fill="#16f95b"/><path d="M436 471.9l0 .8 .5-.1 2.1-2.8 .1-1.4z" fill="#16f95b"/><path d="M393.4 491l0 1.9 2-3.9-.9 0z" fill="#14f968"/><path d="M393.4 494.6l0 2.4 3-5.9 .3-2.1-.4 0z" fill="#14f968"/><path d="M393.4 499.9l0 .5 .7 0 1.4-2.7 .3-2.6z" fill="#14f968"/><path d="M393.4 503.5l0 1.1 6.1-3.1-.2-1.1z" fill="#f9241f"/><path d="M393.4 506.1l0 1.2 6.4-3.3-.1-1.2z" fill="#f9241f"/><path d="M403.2 516l-.5 1.7 14.1-7.7-.2-1.3z" fill="#f97a23"/><path d="M402.1 527l.2 .7 16-8.8-.1-.8z" fill="#f97a23"/><path d="M407.3 530.4l2.2 0 7-3.9 .8-1.6z" fill="#f97a23"/><path d="M387 516.6l.4 1.7 2.1-3.1-1.9 .6z" fill="#f94788"/><path d="M391.1 522.8l1.2-.3 3.2-4.7-.1-1.3z" fill="#f94788"/><path d="M394.6 519.3l.1 .6 5.8-3.9-1 0z" fill="#f9642d"/><path d="M394.8 521.7l.1 .8 6.2-4.1-.1-.9z" fill="#f9642d"/><path d="M394.3 525l-.9 0 0 .6 9.5 4.8 .4 0 0-.9z" fill="#f94498"/><path d="M457 493.6l.2 2.1 2.7-6.7-1.1 0z" fill="#f92434"/><path d="M458.4 496.2l.7-.1 2.9-7.1-.7 0z" fill="#f92434"/><path d="M478.5 490.6l.6 .6 1.1-2.2-.8 0z" fill="#20dff9"/><path d="M480.3 492.4l.4 .4 2.1-3.8-.7 0z" fill="#20dff9"/><path d="M484.8 493.3l.9-.2 2.2-4.1-.8 0z" fill="#20dff9"/><path d="M487.5 492.8l1.2-.3 .7-1.3-.5-1z" fill="#20dff9"/><path d="M443.9 503.7l1.2 0 2.3-4.5 0-.4-.9 0z" fill="#f93814"/><path d="M446.3 503.7l.9 0 .2-.5 0-1.7z" fill="#f93814"/><path d="M456.9 501.3l-1.8 0 3.2 1.6-.1-1z" fill="#f9d352"/><path d="M451.8 505.4l.1 .6 2.9 1.5 .8-.1z" fill="#f9d352"/><path d="M474.4 500.1l0 2 3-6.6-.9 0z" fill="#2318f9"/><path d="M476 507.6l.8 1.1 5.8-12.8-.8-.4-.3 0z" fill="#2318f9"/><path d="M483.9 509.5l1.2-.3 4.7-10.4-.8-.4z" fill="#2318f9"/><path d="M486.7 498.5l1.1 .1 2.2-3 0-.9-.7 .1z" fill="#2ef93d"/><path d="M488.9 498.7l1.1 .1 0-1.6z" fill="#2ef93d"/><path d="M468.3 513.5l1 0 .2-.3-.2-1.5z" fill="#f9221a"/><path d="M460.2 507.5l-3.1-.3 6.3 3.2-.2-1.4z" fill="#f9ee14"/><path d="M455.7 508l.2 .9 7.8 4.1-.1-1z" fill="#f9ee14"/><path d="M456 509.8l.2 1.6 4.1 2.1 3 0z" fill="#f9ee14"/><path d="M481.8 512.2l0-1.1-1.9 .2z" fill="#3719f9"/><path d="M475.2 512l0 1.1 6.4 2.9 .2 0 0-1z" fill="#3719f9"/><path d="M488 508.6l-1.5 0 3.5 1.8 0-.8z" fill="#f98914"/><path d="M482 508.6l-.2 0 .4 .9 7.8 4 0-.7z" fill="#f98914"/><path d="M483.1 511.5l.5 1.2 6.4 3.4 0-1z" fill="#f98914"/><path d="M485.1 516l.1 1 4.8 2.5 0-.9z" fill="#f98914"/><path d="M485.5 518.9l.1 .9 3.7 1.9 .7 0 0-.4z" fill="#f98914"/><path d="M449.1 515.6l.2 1.4 1.6-1.8-1.4 0z" fill="#3041f9"/></g>
</g>
<path d="M29.90 163.33L40.15 162.72L47.90 162.44L51.40 162.63L56.90 163.45L59.15 163.68L61.40 163.72L62.15 163.64L62.65 163.47L62.90 163.06L63.10 162.03L63.40 159.41L63.60 158.50L63.85 159.36L64.15 160.96L64.40 160.71L64.65 158.16L65.15 134.19L65.40 128.60L65.65 134.23L66.15 158.19L66.40 160.83L66.65 161.78L66.90 162.34L67.40 162.91L67.65 162.98L67.90 162.73L68.15 161.19L68.40 155.62L69.15 116.88L69.65 95.59L70.15 83.07L70.40 80.18L70.60 79.50L70.85 80.68L71.10 84.12L71.65 99.61L72.65 150.42L72.90 159.85L73.15 163.70L73.40 164.80L73.65 165.18L75.15 166.36L79.15 168.99L82.65 171.09L84.15 171.80L84.90 172.01L85.40 172.04L86.15 171.83L86.65 171.40L86.90 171.05L87.40 169.88L87.65 168.65L87.90 164.83L88.90 111.87L89.15 105.17L89.40 103.00L89.65 105.41L89.90 112.37L90.90 166.31L91.15 170.37L91.40 171.85L91.90 173.50L92.65 175.00L93.65 176.19L94.90 177.13L96.90 178.12L99.15 178.89L102.40 179.65L106.15 180.27L109.65 180.62L112.90 180.71L116.40 180.50L119.40 180.08L119.65 179.80L120.15 177.90L120.40 177.30L120.65 177.82L120.90 178.86L121.15 179.55L121.40 179.74L122.65 179.51L131.15 177.37L133.65 176.64L135.40 175.95L137.15 174.99L138.40 174.01L139.40 172.94L140.40 171.48L141.15 170.00L141.90 168.03L142.65 165.34L143.15 162.98L143.65 159.95L143.90 157.78L144.15 153.11L144.40 141.05L144.90 103.72L145.40 74.09L145.90 57.18L146.15 53.59L146.30 53.00L146.40 53.26L146.65 56.18L146.90 62.36L147.15 71.79L147.65 100.17L148.15 137.56L148.40 151.33L148.65 157.04L149.15 161.09L149.90 164.85L150.40 166.67L150.90 168.09L151.40 169.15L151.90 169.87L152.15 170.08L152.40 170.17L152.65 170.08L152.90 169.74L153.15 169.04L153.40 167.75L153.95 162.25L154.20 160.74L154.40 161.89L154.90 167.76L155.40 171.14L155.90 172.76L156.40 173.66L157.15 174.43L157.90 174.89L158.90 175.28L160.15 175.59L161.90 175.88L163.90 176.09L168.65 176.26L170.65 176.20L172.15 176.05L173.15 175.86L174.15 175.55L174.90 175.18L175.40 174.83L175.90 174.35L176.40 173.69L177.15 172.14L177.65 170.46L177.90 169.20L178.15 166.56L178.40 158.39L179.15 109.39L179.40 97.89L179.75 88.39L179.90 86.71L180.00 86.40L180.15 87.13L180.25 88.42L180.65 99.96L181.65 160.91L181.90 167.52L182.15 169.70L182.65 171.78L183.40 173.61L183.90 174.38L184.40 174.91L185.15 175.40L185.90 175.59L186.65 175.46L187.15 175.14L187.65 174.52L187.90 174.03L188.40 172.49L188.65 171.27L188.90 169.40L189.15 166.05L189.90 146.64L190.20 143.60L190.45 145.84L191.15 164.49L191.40 168.92L191.65 171.40L191.90 172.99L192.15 174.16L192.65 175.82L193.40 177.36L193.90 178.07L194.65 178.90L195.40 179.56L196.15 180.09L196.40 180.12L196.50 180.05L196.90 179.50L197.00 179.50L197.15 179.71L197.50 180.61L197.90 181.10L199.90 182.03L205.15 184.22L208.15 186.04L208.90 186.29L209.40 186.32L210.15 186.19L210.90 185.92L213.65 184.46L214.65 184.08L217.40 183.56L223.40 182.74L224.65 182.43L225.40 182.07L225.90 181.67L226.40 180.96L226.90 179.52L227.15 178.25L227.65 174.43L227.90 173.39L228.15 174.38L228.65 178.11L229.15 180.15L229.65 181.05L230.15 181.47L230.65 181.69L231.40 181.84L232.15 181.88L234.65 181.77L237.15 181.45L241.40 180.71L243.40 180.28L244.90 179.83L246.15 179.28L247.15 178.63L247.90 177.91L248.40 177.25L248.90 176.38L249.40 175.17L250.15 172.33L250.65 169.06L250.90 165.87L251.15 159.52L251.90 129.72L252.15 124.04L252.40 122.10L252.65 124.05L252.90 129.72L253.65 159.42L253.90 165.66L254.15 168.72L254.65 171.74L255.15 173.47L255.65 174.48L256.15 174.95L256.40 175.01L256.65 174.97L257.15 174.53L257.40 174.11L257.90 172.74L258.15 171.71L258.65 168.44L258.90 165.36L259.15 160.20L259.90 140.18L260.20 137.60L260.40 138.78L260.65 143.23L261.40 163.79L261.65 167.73L262.15 171.84L262.65 174.22L263.40 176.42L264.15 177.73L264.65 178.33L265.40 178.99L266.15 179.46L267.15 179.92L268.40 180.34L271.65 181.22L280.15 183.73L282.40 184.25L284.15 184.41L285.40 184.23L285.90 184.00L286.40 183.61L286.90 182.97L287.15 182.51L287.65 181.15L288.15 178.83L288.40 176.93L288.65 173.85L288.90 168.72L289.55 152.61L289.65 151.38L289.80 150.70L289.90 151.07L290.15 154.63L290.90 173.82L291.15 177.45L291.40 179.70L291.90 182.55L292.40 184.37L292.90 185.62L293.40 186.54L294.15 187.55L295.15 188.52L296.15 189.27L297.40 190.03L299.10 190.87" fill="none" stroke="#3c3cf8" stroke-width="1.1" stroke-linejoin="round"/>
<circle cx="71.00" cy="76.20" r="2.25" fill="#000"/>
<circle cx="89.40" cy="98.80" r="2.25" fill="#000"/>
<circle cx="146.30" cy="49.00" r="2.25" fill="#000"/>
<circle cx="180.00" cy="82.40" r="2.25" fill="#000"/>
<circle cx="190.30" cy="140.00" r="2.25" fill="#000"/>
<circle cx="252.40" cy="118.10" r="2.25" fill="#000"/>
<circle cx="260.20" cy="134.00" r="2.25" fill="#000"/>
<circle cx="289.80" cy="146.30" r="2.25" fill="#000"/>
<path d="M49.50 154.10L51.70 156.80L49.50 159.50L47.30 156.80Z" fill="#737373"/>
<path d="M65.50 117.80L67.70 120.50L65.50 123.20L63.30 120.50Z" fill="#737373"/>
<path d="M105.40 173.50L107.60 176.20L105.40 178.90L103.20 176.20Z" fill="#737373"/>
<path d="M120.90 170.20L123.10 172.90L120.90 175.60L118.70 172.90Z" fill="#737373"/>
<path d="M129.90 169.90L132.10 172.60L129.90 175.30L127.70 172.60Z" fill="#737373"/>
<path d="M157.80 167.10L160.00 169.80L157.80 172.50L155.60 169.80Z" fill="#737373"/>
<path d="M197.60 174.90L199.80 177.60L197.60 180.30L195.40 177.60Z" fill="#737373"/>
<path d="M209.50 178.30L211.70 181.00L209.50 183.70L207.30 181.00Z" fill="#737373"/>
<path d="M294.80 180.20L297.00 182.90L294.80 185.60L292.60 182.90Z" fill="#737373"/>
<path d="M60.30 153.90H64.90M62.60 151.60V156.20" stroke="#f0883e" stroke-width="1.05"/>
<path d="M74.00 164.30H78.60M76.30 162.00V166.60" stroke="#f0883e" stroke-width="1.05"/>
<path d="M93.50 174.50H98.10M95.80 172.20V176.80" stroke="#f0883e" stroke-width="1.05"/>
<path d="M151.90 156.60H156.50M154.20 154.30V158.90" stroke="#f0883e" stroke-width="1.05"/>
<path d="M226.00 172.10H230.60M228.30 169.80V174.40" stroke="#f0883e" stroke-width="1.05"/>
<rect x="29.5" y="13" width="270.0" height="177" fill="none" stroke="#5f5f5f" stroke-width="1.1"/>
<line x1="33.60" y1="190.5" x2="33.60" y2="192.7" stroke="#333" stroke-width="0.9"/>
<line x1="74.50" y1="190.5" x2="74.50" y2="192.7" stroke="#333" stroke-width="0.9"/>
<line x1="115.40" y1="190.5" x2="115.40" y2="192.7" stroke="#333" stroke-width="0.9"/>
<line x1="156.30" y1="190.5" x2="156.30" y2="192.7" stroke="#333" stroke-width="0.9"/>
<line x1="197.20" y1="190.5" x2="197.20" y2="192.7" stroke="#333" stroke-width="0.9"/>
<line x1="238.10" y1="190.5" x2="238.10" y2="192.7" stroke="#333" stroke-width="0.9"/>
<line x1="279.00" y1="190.5" x2="279.00" y2="192.7" stroke="#333" stroke-width="0.9"/>
<text x="30.58" y="203.80" font-size="10.8" fill="#222">2</text>
<text x="112.43" y="203.91" font-size="10.8" fill="#222">4</text>
<text x="194.18" y="203.69" font-size="10.8" fill="#222">6</text>
<text x="276.03" y="203.69" font-size="10.8" fill="#222">8</text>
<text x="148.35" y="211.90" font-size="9.0" fill="#222">Q (A<tspan font-size="7.38" dy="-3.42">-1</tspan><tspan dy="3.42">)</tspan></text>
<text transform="translate(25.14,148.70) rotate(-90)" font-size="8.81" fill="#222">Log Intensity (arb. units)</text>
<text x="0.13" y="23.71" font-size="29" font-weight="bold" fill="#000">a)</text>
<text x="136.97" y="6.40" font-size="9.0" font-weight="bold" fill="#111">Ni</text>
<text x="147.23" y="9.50" font-size="9.0" font-weight="bold" fill="#111">50</text>
<text x="157.47" y="6.60" font-size="9.0" font-weight="bold" fill="#111">Pd</text>
<text x="169.83" y="9.50" font-size="9.0" font-weight="bold" fill="#111">50</text>
<circle cx="34.10" cy="21.10" r="1.8" fill="#000"/>
<text x="38.32" y="23.80" font-size="9.7" fill="#111">FCC</text>
<path d="M35.00 34.90L37.00 37.70L35.00 40.50L33.00 37.70Z" fill="#7e7e7e"/>
<text x="39.70" y="40.70" font-size="9.6" font-style="italic" fill="#9a9a9a">2</text>
<text x="45.34" y="35.90" font-size="8.64" font-style="italic" fill="#9a9a9a">nd</text>
<text x="57.61" y="40.70" font-size="9.6" font-style="italic" fill="#9a9a9a">Harm. FCC</text>
<path d="M32.40 51.30H36.80M34.60 49.10V53.50" stroke="#f0883e" stroke-width="1.05"/>
<text x="41.91" y="53.50" font-size="9.7" font-style="italic" fill="#ef7f35">Ni-rich oxide</text>
<path d="M412.70 179.24L418.20 180.49L427.95 183.02L429.70 183.41L431.20 183.61L432.45 183.63L433.95 183.51L435.45 183.26L438.45 182.48L442.20 181.24L444.70 180.06L446.95 178.66L448.70 177.25L450.20 175.62L452.20 172.41L452.95 170.93L453.70 168.98L454.20 167.42L454.95 164.60L455.45 162.32L455.95 159.42L456.20 157.20L456.45 153.32L456.70 146.37L457.70 102.85L458.20 86.16L458.45 80.07L458.80 74.15L459.05 71.79L459.20 71.13L459.30 71.00L459.45 71.28L459.55 71.78L459.80 74.12L460.20 81.12L460.45 87.50L460.95 104.75L461.95 147.88L462.20 154.10L462.45 157.49L462.95 160.96L463.45 163.34L464.20 166.19L465.20 169.05L465.95 170.65L466.95 172.26L467.95 173.38L468.45 173.79L469.20 174.25L469.95 174.51L470.45 174.59L471.45 174.48L472.45 173.98L472.95 173.56L473.45 173.00L474.20 171.83L474.95 170.11L475.45 168.04L475.70 165.97L475.95 162.33L476.20 156.52L477.20 122.78L477.95 102.54L478.45 93.81L478.70 90.93L479.05 88.58L479.20 88.17L479.30 88.10L479.45 88.30L479.55 88.63L479.95 91.56L480.20 94.69L480.70 103.92L481.20 117.00L482.45 158.68L482.70 164.21L482.95 167.64L483.20 169.64L483.70 171.84L484.20 173.30L484.95 175.02L485.95 176.75L486.95 178.04L488.20 179.24L489.45 180.15L490.95 180.97L492.95 181.76L494.95 182.29L507.95 184.55L511.95 185.01L512.45 184.90L512.85 184.59L513.10 184.50L513.95 185.14L514.45 185.25L517.95 185.46L521.20 185.47L523.45 185.29L525.70 184.92L528.20 184.34L529.95 183.73L532.20 182.66L533.95 181.60L535.20 180.58L536.20 179.33L536.95 177.88L537.70 175.61L538.20 173.21L538.45 171.00L538.70 166.10L538.95 156.34L539.70 120.01L539.95 112.05L540.20 106.98L540.50 104.80L540.75 106.27L540.95 109.59L541.20 116.36L542.20 162.50L542.45 169.16L542.70 172.09L542.95 173.62L543.70 176.36L544.20 177.53L544.95 178.72L545.70 179.49L546.70 180.15L547.95 180.66L549.45 181.01L551.20 181.22L553.20 181.28L555.45 181.23L557.20 181.07L558.70 180.80L560.45 180.30L562.45 179.52L564.20 178.66L565.95 177.58L567.20 176.59L568.20 175.56L569.20 174.23L570.20 172.46L570.95 170.73L571.70 168.52L572.45 165.68L572.95 163.30L573.45 160.09L573.70 157.65L573.95 153.97L574.20 148.57L575.45 113.65L575.95 105.88L576.20 104.05L576.40 103.60L576.70 104.65L576.95 107.07L577.20 110.86L577.70 122.22L578.70 151.21L578.95 155.91L579.20 159.03L579.45 161.15L579.95 164.13L580.95 168.29L581.45 169.83L582.20 171.62L582.95 172.84L583.45 173.34L583.95 173.55L584.20 173.53L584.45 173.40L584.70 173.14L584.95 172.67L585.20 171.69L585.45 169.44L585.70 164.74L586.70 133.47L586.95 128.54L587.15 126.10L587.40 125.00L587.70 126.59L587.95 130.30L588.20 136.04L588.95 161.06L589.20 167.99L589.45 172.12L589.70 174.21L590.20 176.16L590.95 177.81L591.45 178.57L592.20 179.43L593.20 180.25L594.20 180.85L595.45 181.42L597.20 182.03L599.20 182.54L601.45 182.97L603.95 183.35L606.45 183.62L608.95 183.75L611.95 183.79L615.20 183.72L617.20 183.57L619.70 183.23L621.45 182.86L622.70 182.39L623.45 181.89L624.20 181.03L624.70 180.02L624.95 179.26L625.20 178.07L625.45 175.83L625.70 171.56L626.45 152.19L626.70 148.53L626.90 147.60L627.15 149.10L627.40 153.32L628.20 173.84L628.45 177.24L628.70 179.00L628.95 180.02L629.20 180.73L629.70 181.72L630.45 182.61L630.95 182.99L631.70 183.38L633.45 183.86L635.95 184.15L639.45 184.23L642.95 184.04L644.20 183.85L645.20 183.60L646.20 183.23L646.95 182.83L647.70 182.29L648.45 181.53L649.20 180.45L649.70 179.45L650.20 178.13L650.70 176.30L651.20 173.24L651.45 170.27L651.70 165.32L652.70 137.58L653.05 132.52L653.20 131.59L653.30 131.40L653.45 131.78L653.55 132.46L653.95 138.46L654.95 165.89L655.20 170.19L655.45 172.65L655.70 174.08L655.95 175.04L656.45 176.29L656.95 176.95L657.45 177.17L657.95 176.96L658.45 176.32L658.95 175.13L659.20 174.26L659.45 173.08L659.70 171.29L659.95 168.30L660.20 163.49L661.20 138.72L661.45 135.58L661.70 134.50L661.95 135.56L662.20 138.68L662.45 143.63L663.20 163.53L663.45 168.45L663.70 171.58L664.20 174.84L664.70 176.73L665.20 178.08L665.95 179.48L666.95 180.66L668.20 181.54L668.95 181.89L669.95 182.22L671.95 182.64L674.70 182.94L678.20 183.13L683.00 183.23" fill="none" stroke="#ff3838" stroke-width="1.0" stroke-linejoin="round"/>
<circle cx="458.80" cy="67.90" r="2.25" fill="#000"/>
<circle cx="479.00" cy="84.80" r="2.25" fill="#000"/>
<circle cx="540.50" cy="101.40" r="2.25" fill="#000"/>
<circle cx="576.40" cy="99.30" r="2.25" fill="#000"/>
<circle cx="587.40" cy="121.40" r="2.25" fill="#000"/>
<circle cx="626.70" cy="143.80" r="2.25" fill="#000"/>
<circle cx="653.30" cy="127.40" r="2.25" fill="#000"/>
<circle cx="661.90" cy="131.00" r="2.25" fill="#000"/>
<path d="M437.10 178.40L437.10 182.80M435.19 179.50L439.01 181.70M435.19 181.70L439.01 179.50" stroke="#9a48ff" stroke-width="1.35" stroke-linecap="round"/>
<path d="M442.10 175.10L442.10 179.50M440.19 176.20L444.01 178.40M440.19 178.40L444.01 176.20" stroke="#9a48ff" stroke-width="1.35" stroke-linecap="round"/>
<path d="M450.20 168.60L450.20 173.00M448.29 169.70L452.11 171.90M448.29 171.90L452.11 169.70" stroke="#9a48ff" stroke-width="1.35" stroke-linecap="round"/>
<path d="M470.00 166.80L470.00 171.20M468.09 167.90L471.91 170.10M468.09 170.10L471.91 167.90" stroke="#9a48ff" stroke-width="1.35" stroke-linecap="round"/>
<path d="M506.40 179.50L506.40 183.90M504.49 180.60L508.31 182.80M504.49 182.80L508.31 180.60" stroke="#9a48ff" stroke-width="1.35" stroke-linecap="round"/>
<path d="M513.60 179.00L513.60 183.40M511.69 180.10L515.51 182.30M511.69 182.30L515.51 180.10" stroke="#9a48ff" stroke-width="1.35" stroke-linecap="round"/>
<path d="M554.50 175.70L554.50 180.10M552.59 176.80L556.41 179.00M552.59 179.00L556.41 176.80" stroke="#9a48ff" stroke-width="1.35" stroke-linecap="round"/>
<rect x="412.3" y="13.4" width="271.09999999999997" height="175.2" fill="none" stroke="#5f5f5f" stroke-width="1.1"/>
<line x1="416.40" y1="189.1" x2="416.40" y2="191.29999999999998" stroke="#333" stroke-width="0.9"/>
<line x1="458.85" y1="189.1" x2="458.85" y2="191.29999999999998" stroke="#333" stroke-width="0.9"/>
<line x1="501.30" y1="189.1" x2="501.30" y2="191.29999999999998" stroke="#333" stroke-width="0.9"/>
<line x1="543.75" y1="189.1" x2="543.75" y2="191.29999999999998" stroke="#333" stroke-width="0.9"/>
<line x1="586.20" y1="189.1" x2="586.20" y2="191.29999999999998" stroke="#333" stroke-width="0.9"/>
<line x1="628.65" y1="189.1" x2="628.65" y2="191.29999999999998" stroke="#333" stroke-width="0.9"/>
<line x1="671.10" y1="189.1" x2="671.10" y2="191.29999999999998" stroke="#333" stroke-width="0.9"/>
<text x="413.46" y="202.60" font-size="10.5" fill="#222">2</text>
<text x="498.41" y="202.70" font-size="10.5" fill="#222">4</text>
<text x="583.26" y="202.50" font-size="10.5" fill="#222">6</text>
<text x="668.21" y="202.50" font-size="10.5" fill="#222">8</text>
<text x="533.15" y="212.23" font-size="8.9" fill="#222">Q (A<tspan font-size="7.30" dy="-3.38">-1</tspan><tspan dy="3.38">)</tspan></text>
<text transform="translate(409.76,147.69) rotate(-90)" font-size="8.69" fill="#222">Log Intensity (arb. units)</text>
<text x="377.97" y="23.86" font-size="29" font-weight="bold" fill="#000">b)</text>
<text x="518.57" y="6.80" font-size="9.0" font-weight="bold" fill="#111">Ni</text>
<text x="527.84" y="9.50" font-size="9.0" font-weight="bold" fill="#111">63.2</text>
<text x="546.57" y="6.80" font-size="9.0" font-weight="bold" fill="#111">Ni</text>
<text x="556.52" y="9.50" font-size="9.0" font-weight="bold" fill="#111">36.8</text>
<circle cx="415.70" cy="21.60" r="1.8" fill="#000"/>
<text x="420.12" y="24.50" font-size="9.8" fill="#111">FCC</text>
<path d="M416.70 32.90L416.70 36.70M415.05 33.85L418.35 35.75M415.05 35.75L418.35 33.85" stroke="#9a48ff" stroke-width="1.35" stroke-linecap="round"/>
<text x="421.12" y="38.20" font-size="9.8" font-style="italic" fill="#a64dff">V-rich oxide</text>
<path d="M28.60 409.25L36.60 409.52L41.85 409.57L45.60 409.49L46.40 409.30L47.10 409.42L47.60 409.41L51.85 409.06L52.10 408.93L52.35 408.33L52.85 404.40L53.10 403.30L53.35 404.34L53.85 408.13L54.10 408.67L54.60 408.71L58.35 408.03L60.35 407.54L62.35 406.91L64.85 405.88L66.60 404.84L67.35 404.24L68.10 403.49L69.10 402.09L69.85 400.39L70.35 398.48L70.60 397.05L71.15 392.58L71.40 391.36L71.60 391.70L72.10 393.99L72.35 394.41L72.60 394.34L72.85 393.92L73.10 393.24L73.60 391.29L74.35 387.02L74.85 382.83L75.10 378.80L75.35 369.90L76.35 314.34L76.60 306.28L76.85 301.42L77.10 299.80L77.35 301.43L77.60 306.29L77.85 314.36L78.85 369.98L79.10 378.90L79.35 382.96L79.85 387.22L80.35 390.37L81.10 393.99L81.85 396.64L82.60 398.61L83.60 400.48L84.60 401.72L85.10 402.15L85.85 402.61L86.60 402.88L87.35 403.00L88.10 402.99L89.10 402.79L89.85 402.47L90.35 402.14L91.10 401.46L91.60 400.84L92.10 400.06L92.60 399.07L93.35 397.07L94.10 394.18L94.85 389.96L95.35 385.42L95.60 380.38L96.60 331.54L96.85 322.96L97.10 317.51L97.40 315.20L97.65 316.84L97.85 320.47L98.10 327.86L99.10 377.38L99.35 384.26L99.60 387.63L99.85 389.80L100.35 393.13L101.10 396.83L101.85 399.49L102.85 401.99L103.85 403.72L105.10 405.24L106.60 406.52L107.60 407.16L108.60 407.68L109.10 407.89L109.35 407.81L109.50 407.53L109.85 406.38L110.00 406.20L110.10 406.34L110.60 408.17L110.85 408.52L112.60 409.02L114.35 409.31L114.60 409.04L115.10 407.11L115.20 407.00L115.35 407.29L115.85 409.33L116.10 409.60L116.35 409.66L121.85 410.18L129.35 410.51L129.60 410.48L129.85 410.26L130.35 408.27L130.50 408.00L130.60 408.13L131.10 410.17L131.35 410.50L133.85 410.57L139.10 410.52L140.85 410.46L141.10 410.38L141.35 409.95L141.65 408.68L141.90 408.00L142.10 408.43L142.40 409.74L142.60 410.19L142.85 410.33L146.10 410.06L149.85 409.52L151.10 409.25L152.35 408.86L153.35 408.40L154.10 407.91L154.85 407.20L155.35 406.55L156.10 405.12L156.85 402.78L157.35 400.32L157.60 398.60L157.85 395.86L158.10 389.27L159.00 340.51L159.25 333.70L159.35 332.23L159.50 331.40L159.60 331.76L159.75 333.68L160.10 344.41L160.85 386.99L161.10 394.86L161.35 398.01L161.60 399.81L162.10 402.32L162.85 404.66L163.35 405.66L164.10 406.66L164.85 407.30L165.60 407.74L166.60 408.13L168.10 408.47L169.60 408.67L171.60 408.80L174.10 408.83L176.60 408.75L179.85 408.49L182.85 408.15L183.10 408.00L183.35 407.57L183.65 406.70L183.90 406.30L184.10 406.52L184.60 407.68L184.85 407.84L185.35 407.81L187.10 407.46L188.35 407.06L189.35 406.57L190.35 405.82L191.10 404.97L191.60 404.20L192.10 403.19L192.60 401.81L193.10 399.92L193.60 397.25L194.10 392.82L194.35 386.98L195.30 335.70L195.55 328.89L195.80 326.60L196.05 328.89L196.30 335.70L196.60 349.53L197.10 380.20L197.35 389.92L197.60 393.95L198.10 397.68L198.85 400.99L199.35 402.39L199.85 403.37L200.35 404.06L200.85 404.54L201.60 404.92L202.35 404.96L203.10 404.59L203.60 404.05L204.10 403.15L204.60 401.71L205.10 399.37L205.35 397.61L205.60 394.68L205.85 388.23L206.60 354.79L206.85 349.47L207.00 348.60L207.10 349.01L207.35 353.44L208.10 386.64L208.35 394.25L208.60 397.77L208.85 399.81L209.35 402.55L210.10 405.07L210.60 406.15L211.10 406.95L211.85 407.82L212.60 408.43L213.60 409.01L214.85 409.52L216.35 409.95L218.35 410.35L220.85 410.70L224.35 411.06L227.60 411.30L230.35 411.41L235.85 411.34L238.10 411.19L240.10 410.95L241.60 410.62L242.60 410.25L243.35 409.81L244.10 409.08L244.60 408.31L245.10 407.10L245.60 405.07L245.85 403.26L246.10 399.37L246.35 391.08L246.85 369.99L247.10 363.88L247.30 362.30L247.55 364.69L247.80 371.61L248.35 394.75L248.60 401.08L248.85 403.80L249.10 405.22L249.35 406.20L249.85 407.52L250.35 408.34L250.85 408.87L251.35 409.23L252.10 409.58L253.85 409.97L256.60 410.13L260.60 409.96L262.60 409.75L264.35 409.46L265.60 409.16L266.85 408.73L267.85 408.21L268.60 407.65L269.35 406.86L269.85 406.12L270.35 405.14L270.85 403.78L271.60 400.59L272.10 396.99L272.35 393.74L272.60 387.83L273.35 361.25L273.60 356.43L273.80 355.20L274.05 357.12L274.30 362.63L275.10 390.54L275.35 395.14L275.85 399.42L276.35 401.81L276.85 403.34L277.35 404.29L277.85 404.81L278.10 404.93L278.60 404.92L279.10 404.57L279.60 403.78L280.10 402.41L280.60 400.16L280.85 398.54L281.10 396.31L281.35 392.67L282.10 368.97L282.35 363.03L282.60 360.90L282.85 363.06L283.10 369.04L283.60 386.47L283.85 392.95L284.10 396.70L284.35 399.06L284.85 402.23L285.60 405.13L286.35 406.85L287.10 407.94L288.10 408.88L289.35 409.61L291.10 410.22L293.10 410.66L295.85 411.05L299.30 411.40" fill="none" stroke="#50e23a" stroke-width="1.05" stroke-linejoin="round"/>
<circle cx="77.40" cy="295.50" r="2.25" fill="#000"/>
<circle cx="97.60" cy="311.40" r="2.25" fill="#000"/>
<circle cx="159.50" cy="327.60" r="2.25" fill="#000"/>
<circle cx="195.80" cy="323.50" r="2.25" fill="#000"/>
<circle cx="207.20" cy="345.40" r="2.25" fill="#000"/>
<circle cx="247.30" cy="358.90" r="2.25" fill="#000"/>
<circle cx="273.80" cy="352.10" r="2.25" fill="#000"/>
<circle cx="282.60" cy="357.60" r="2.25" fill="#000"/>
<path d="M52.90 396.80L55.10 399.50L52.90 402.20L50.70 399.50Z" fill="#737373"/>
<path d="M71.00 386.80L73.20 389.50L71.00 392.20L68.80 389.50Z" fill="#737373"/>
<path d="M110.00 399.90L112.20 402.60L110.00 405.30L107.80 402.60Z" fill="#737373"/>
<path d="M115.20 401.30L117.40 404.00L115.20 406.70L113.00 404.00Z" fill="#737373"/>
<path d="M130.50 402.30L132.70 405.00L130.50 407.70L128.30 405.00Z" fill="#737373"/>
<path d="M141.90 402.30L144.10 405.00L141.90 407.70L139.70 405.00Z" fill="#737373"/>
<path d="M170.20 401.90L172.40 404.60L170.20 407.30L168.00 404.60Z" fill="#737373"/>
<path d="M183.90 400.10L186.10 402.80L183.90 405.50L181.70 402.80Z" fill="#737373"/>
<path d="M286.90 401.50L289.10 404.20L286.90 406.90L284.70 404.20Z" fill="#737373"/>
<rect x="28.2" y="235.5" width="271.5" height="180.8" fill="none" stroke="#5f5f5f" stroke-width="1.1"/>
<line x1="32.50" y1="416.8" x2="32.50" y2="419.0" stroke="#333" stroke-width="0.9"/>
<line x1="74.85" y1="416.8" x2="74.85" y2="419.0" stroke="#333" stroke-width="0.9"/>
<line x1="117.20" y1="416.8" x2="117.20" y2="419.0" stroke="#333" stroke-width="0.9"/>
<line x1="159.55" y1="416.8" x2="159.55" y2="419.0" stroke="#333" stroke-width="0.9"/>
<line x1="201.90" y1="416.8" x2="201.90" y2="419.0" stroke="#333" stroke-width="0.9"/>
<line x1="244.25" y1="416.8" x2="244.25" y2="419.0" stroke="#333" stroke-width="0.9"/>
<line x1="286.60" y1="416.8" x2="286.60" y2="419.0" stroke="#333" stroke-width="0.9"/>
<text x="29.87" y="428.50" font-size="9.4" fill="#222">2</text>
<text x="114.62" y="428.59" font-size="9.4" fill="#222">4</text>
<text x="199.27" y="428.41" font-size="9.4" fill="#222">6</text>
<text x="284.02" y="428.41" font-size="9.4" fill="#222">8</text>
<text x="147.96" y="434.06" font-size="8.8" fill="#222">Q (A<tspan font-size="7.22" dy="-3.34">-1</tspan><tspan dy="3.34">)</tspan></text>
<text transform="translate(24.10,364.40) rotate(-90)" font-size="7.50" fill="#222">Log Intensity (arb. units)</text>
<text x="-0.36" y="256.01" font-size="29" font-weight="bold" fill="#000">c)</text>
<text x="132.53" y="230.70" font-size="9.3" font-weight="bold" fill="#111">Cr</text>
<text x="142.61" y="232.80" font-size="9.3" font-weight="bold" fill="#111">33</text>
<text x="152.63" y="230.70" font-size="9.3" font-weight="bold" fill="#111">Co</text>
<text x="164.51" y="232.80" font-size="9.3" font-weight="bold" fill="#111">33</text>
<text x="175.35" y="230.70" font-size="9.3" font-weight="bold" fill="#111">Ni</text>
<text x="186.01" y="232.80" font-size="9.3" font-weight="bold" fill="#111">33</text>
<circle cx="31.30" cy="242.30" r="1.8" fill="#000"/>
<text x="35.32" y="244.90" font-size="9.7" fill="#111">FCC</text>
<path d="M32.70 254.80L34.70 257.60L32.70 260.40L30.70 257.60Z" fill="#7e7e7e"/>
<text x="36.50" y="260.30" font-size="9.4" font-style="italic" fill="#9a9a9a">2</text>
<text x="42.03" y="255.60" font-size="8.46" font-style="italic" fill="#9a9a9a">nd</text>
<text x="54.02" y="260.30" font-size="9.4" font-style="italic" fill="#9a9a9a">Harm. FCC</text>
<path d="M413.80 402.45L414.30 402.44L414.55 402.33L414.80 401.67L415.05 399.60L415.35 395.91L415.60 394.50L415.80 395.43L416.30 401.05L416.55 402.19L416.80 402.43L417.30 402.46L426.80 402.35L427.30 402.26L427.55 401.86L428.05 399.03L428.30 398.20L428.55 399.02L429.05 401.84L429.30 402.23L429.55 402.30L450.30 401.87L456.05 401.64L459.30 401.39L466.30 400.68L466.55 400.50L467.05 399.21L467.30 398.80L467.55 399.17L468.05 400.38L468.30 400.52L480.80 399.59L482.80 399.32L484.30 398.95L485.55 398.41L486.30 397.86L487.05 396.92L487.55 395.81L488.55 391.99L488.80 391.56L489.05 391.86L489.80 394.32L490.30 395.22L490.55 395.43L491.05 395.50L491.55 395.26L492.05 394.78L492.55 394.07L493.05 393.11L493.55 391.85L494.05 390.22L494.55 388.07L494.80 386.50L495.05 383.28L495.30 374.99L496.30 317.07L496.80 300.46L497.05 296.33L497.30 294.90L497.55 295.38L497.80 296.68L498.05 298.79L498.30 301.71L498.80 309.98L499.55 328.31L501.05 376.65L501.30 381.62L501.55 384.81L502.05 388.18L502.55 390.17L503.30 392.48L504.30 394.91L505.30 396.79L506.55 398.58L508.05 400.17L509.55 401.29L510.55 401.83L511.55 402.22L512.55 402.46L513.30 402.53L514.05 402.50L514.80 402.36L515.55 402.07L516.30 401.60L517.30 400.55L517.80 399.78L518.30 398.79L519.05 396.70L519.80 393.48L520.05 391.76L520.30 388.49L520.55 381.06L521.55 330.98L521.90 320.54L522.15 316.37L522.40 314.90L522.55 315.24L522.80 317.29L523.30 326.95L523.80 343.71L524.55 376.72L524.80 384.79L525.05 389.37L525.30 391.74L525.80 394.36L526.30 396.20L526.80 397.67L527.55 399.35L528.30 400.61L529.30 401.86L530.55 402.98L531.80 403.81L533.55 404.70L535.55 405.47L538.30 406.35L541.30 407.14L545.80 408.18L548.05 408.58L549.80 408.73L552.55 408.73L557.55 408.44L567.80 407.48L588.55 405.09L591.05 404.63L593.05 404.04L594.55 403.28L595.30 402.71L595.80 402.21L596.30 401.59L596.80 400.78L597.30 399.72L597.80 398.30L598.30 396.32L598.55 394.88L598.80 392.39L599.05 387.01L599.30 377.29L600.05 343.25L600.30 335.65L600.55 330.61L600.80 328.21L600.90 328.00L601.05 328.48L601.15 329.34L601.55 336.98L602.05 355.51L602.55 379.58L602.80 388.48L603.05 393.10L603.30 395.29L603.55 396.64L604.30 399.32L604.80 400.53L605.30 401.45L606.30 402.73L607.55 403.71L608.80 404.33L610.30 404.79L612.55 405.22L615.30 405.52L618.55 405.68L621.80 405.65L625.30 405.46L629.30 405.10L633.05 404.65L635.55 404.19L637.80 403.60L639.55 402.93L640.80 402.21L641.80 401.35L642.80 400.00L643.55 398.40L644.30 395.93L644.80 393.41L645.05 391.32L645.30 387.30L645.55 379.60L646.30 346.96L646.55 338.98L646.95 331.42L647.05 330.57L647.20 330.10L647.30 330.32L647.45 331.45L647.80 337.76L648.30 355.11L648.80 377.82L649.05 386.35L649.30 391.00L649.55 393.37L650.05 396.08L650.55 397.95L651.30 399.91L651.80 400.83L652.30 401.55L653.30 402.55L654.55 403.28L655.80 403.58L656.80 403.47L657.30 403.25L657.80 402.85L658.30 402.19L658.55 401.71L659.05 400.21L659.30 398.69L659.55 395.33L660.55 361.19L660.85 355.33L661.10 353.80L661.35 355.43L661.60 360.13L662.55 393.74L662.80 398.52L663.05 400.73L663.30 401.94L663.80 403.49L664.30 404.55L664.80 405.32L665.30 405.92L666.05 406.59L666.80 407.10L668.05 407.77L670.80 408.92L673.05 409.59L675.30 409.96L677.80 410.15L683.00 410.29" fill="none" stroke="#f64cf6" stroke-width="1.05" stroke-linejoin="round"/>
<circle cx="497.30" cy="291.20" r="2.25" fill="#000"/>
<circle cx="522.60" cy="310.80" r="2.25" fill="#000"/>
<circle cx="600.90" cy="324.70" r="2.25" fill="#000"/>
<circle cx="647.40" cy="326.20" r="2.25" fill="#000"/>
<circle cx="660.90" cy="349.90" r="2.25" fill="#000"/>
<path d="M415.60 387.70L417.80 390.40L415.60 393.10L413.40 390.40Z" fill="#737373"/>
<path d="M428.10 392.00L430.30 394.70L428.10 397.40L425.90 394.70Z" fill="#737373"/>
<path d="M467.30 392.80L469.50 395.50L467.30 398.20L465.10 395.50Z" fill="#737373"/>
<path d="M488.40 386.70L490.60 389.40L488.40 392.10L486.20 389.40Z" fill="#737373"/>
<path d="M541.90 401.30L544.10 404.00L541.90 406.70L539.70 404.00Z" fill="#737373"/>
<rect x="413.4" y="237.4" width="270.0" height="176.70000000000002" fill="none" stroke="#5f5f5f" stroke-width="1.1"/>
<line x1="417.00" y1="414.6" x2="417.00" y2="416.8" stroke="#333" stroke-width="0.9"/>
<line x1="458.70" y1="414.6" x2="458.70" y2="416.8" stroke="#333" stroke-width="0.9"/>
<line x1="500.40" y1="414.6" x2="500.40" y2="416.8" stroke="#333" stroke-width="0.9"/>
<line x1="542.10" y1="414.6" x2="542.10" y2="416.8" stroke="#333" stroke-width="0.9"/>
<line x1="583.80" y1="414.6" x2="583.80" y2="416.8" stroke="#333" stroke-width="0.9"/>
<line x1="625.50" y1="414.6" x2="625.50" y2="416.8" stroke="#333" stroke-width="0.9"/>
<line x1="667.20" y1="414.6" x2="667.20" y2="416.8" stroke="#333" stroke-width="0.9"/>
<text x="414.20" y="428.40" font-size="10.0" fill="#222">2</text>
<text x="497.65" y="428.50" font-size="10.0" fill="#222">4</text>
<text x="581.00" y="428.30" font-size="10.0" fill="#222">6</text>
<text x="664.45" y="428.30" font-size="10.0" fill="#222">8</text>
<text x="530.44" y="434.54" font-size="9.2" fill="#222">Q (A<tspan font-size="7.54" dy="-3.50">-1</tspan><tspan dy="3.50">)</tspan></text>
<text transform="translate(409.74,376.25) rotate(-90)" font-size="9.40" fill="#222">Log Intensity (arb. units)</text>
<text x="378.14" y="256.01" font-size="29" font-weight="bold" fill="#000">d)</text>
<text x="502.81" y="233.00" font-size="9.7" font-weight="bold" fill="#111">Cr</text>
<text x="514.41" y="235.40" font-size="9.7" font-weight="bold" fill="#111">30</text>
<text x="525.11" y="233.00" font-size="9.7" font-weight="bold" fill="#111">Co</text>
<text x="539.21" y="235.40" font-size="9.7" font-weight="bold" fill="#111">30</text>
<text x="549.72" y="233.00" font-size="9.7" font-weight="bold" fill="#111">Ni</text>
<text x="561.11" y="235.40" font-size="9.7" font-weight="bold" fill="#111">30</text>
<text x="572.32" y="233.00" font-size="9.7" font-weight="bold" fill="#111">Pd</text>
<text x="585.52" y="235.40" font-size="9.7" font-weight="bold" fill="#111">10</text>
<circle cx="417.00" cy="246.00" r="1.8" fill="#000"/>
<text x="421.02" y="248.50" font-size="9.8" fill="#111">FCC</text>
<path d="M418.20 259.80L420.20 262.60L418.20 265.40L416.20 262.60Z" fill="#7e7e7e"/>
<text x="422.60" y="265.30" font-size="9.6" font-style="italic" fill="#9a9a9a">2</text>
<text x="428.24" y="260.50" font-size="8.64" font-style="italic" fill="#9a9a9a">nd</text>
<text x="440.51" y="265.30" font-size="9.6" font-style="italic" fill="#9a9a9a">Harm. FCC</text>
<path d="M219.40 617.34L226.40 618.24L230.40 618.64L230.65 618.62L230.90 618.37L231.40 616.70L231.50 616.60L231.65 616.84L232.00 618.20L232.15 618.55L232.40 618.76L235.15 618.93L237.90 618.97L239.65 618.82L240.65 618.55L241.15 618.25L241.65 617.69L242.15 616.48L242.40 615.22L242.65 612.92L243.05 607.28L243.15 606.19L243.30 605.50L243.40 605.81L243.55 607.27L244.15 614.82L244.40 616.23L244.65 617.02L244.90 617.52L245.40 618.08L246.15 618.45L246.90 618.59L248.15 618.62L249.65 618.53L251.15 618.34L252.90 618.00L254.40 617.60L255.90 617.07L257.40 616.33L258.15 615.80L258.65 615.33L259.40 614.26L259.90 612.96L260.15 611.73L260.40 609.39L260.90 601.72L261.10 600.40L261.35 602.05L261.90 608.81L262.15 609.79L262.40 609.95L262.65 609.75L262.90 609.32L263.65 607.08L264.40 603.30L264.90 599.62L265.40 594.19L265.65 586.63L266.40 531.55L266.65 521.69L266.90 518.00L267.15 518.96L267.40 521.85L267.65 526.63L268.15 541.62L269.15 582.71L269.40 588.59L269.65 591.94L269.90 594.09L270.40 597.23L271.15 600.82L271.90 603.54L272.90 606.23L273.90 608.18L275.15 609.90L275.90 610.67L276.65 611.30L278.15 612.23L279.40 612.70L280.65 612.89L281.65 612.74L282.15 612.50L282.65 612.10L283.40 611.02L283.90 609.78L284.40 607.84L284.90 604.64L285.15 601.00L285.40 590.09L286.00 549.74L286.25 540.58L286.50 537.20L286.65 537.75L286.75 538.67L287.15 546.73L287.65 565.93L288.15 590.05L288.40 598.46L288.65 602.84L289.15 606.72L289.65 609.08L290.15 610.84L290.65 612.18L291.40 613.65L292.15 614.69L292.90 615.46L293.90 616.19L295.15 616.82L296.65 617.35L298.90 617.92L299.15 617.89L299.40 617.53L299.65 616.69L299.90 616.20L300.15 616.80L300.40 617.76L300.65 618.25L300.90 618.40L303.15 618.97L303.40 618.95L303.65 618.48L303.95 616.96L304.20 616.20L304.40 616.80L304.70 618.55L304.90 619.20L305.15 619.47L307.40 620.03L309.65 620.49L311.65 620.77L313.65 620.92L317.65 621.01L317.90 621.00L318.15 620.89L318.40 620.31L318.65 619.11L318.90 618.40L319.15 619.12L319.40 620.33L319.65 620.92L319.90 621.04L326.15 621.32L329.15 621.36L329.40 621.24L329.65 620.57L329.95 618.60L330.20 617.60L330.40 618.26L330.70 620.29L330.90 621.04L331.15 621.28L331.40 621.29L333.40 621.12L337.90 620.50L340.40 619.90L341.40 619.49L342.15 619.06L342.90 618.44L343.40 617.86L344.15 616.59L344.90 614.43L345.40 612.04L345.65 609.90L345.90 604.52L346.90 550.94L347.15 544.41L347.40 542.20L347.65 544.37L347.90 550.87L348.90 604.30L349.15 609.65L349.40 611.75L349.90 614.07L350.40 615.56L350.90 616.58L351.40 617.29L351.90 617.80L352.65 618.31L353.90 618.81L354.40 618.92L354.65 618.89L354.90 618.53L355.15 617.70L355.40 617.20L355.65 617.75L355.90 618.65L356.15 619.08L356.40 619.18L357.40 619.25L359.40 619.30L359.65 619.21L359.90 618.75L360.15 617.79L360.40 617.20L360.65 617.79L360.90 618.76L361.15 619.23L361.65 619.33L364.15 619.31L366.90 619.19L369.40 618.96L369.65 618.80L369.80 618.55L370.15 617.58L370.30 617.40L370.40 617.47L370.90 618.60L371.15 618.75L373.40 618.45L374.90 618.12L376.15 617.72L377.15 617.28L377.90 616.82L378.65 616.18L379.15 615.59L379.65 614.83L380.15 613.79L380.90 611.42L381.40 608.50L381.65 604.59L381.90 595.49L382.40 567.44L382.90 546.06L383.25 538.41L383.40 537.05L383.50 536.80L383.65 537.39L383.75 538.43L384.15 547.74L384.40 557.61L385.15 597.94L385.40 605.82L385.65 609.05L386.15 611.71L386.65 613.32L387.15 614.45L387.65 615.25L388.15 615.80L388.90 616.29L389.65 616.45L390.40 616.27L391.15 615.64L391.65 614.85L392.15 613.58L392.65 611.48L392.90 609.61L393.15 605.62L393.40 597.19L394.10 566.90L394.35 561.14L394.60 559.20L394.85 561.19L395.10 567.00L395.90 601.47L396.15 608.07L396.40 611.05L396.65 612.67L397.15 614.80L397.90 616.78L398.40 617.65L399.15 618.58L400.40 619.58L401.90 620.31L402.15 620.35L402.40 620.20L402.65 619.75L402.90 619.50L403.40 620.48L403.65 620.78L403.90 620.89L406.65 621.36L410.15 621.65L414.15 621.81L414.40 621.74L414.60 621.48L414.90 620.75L415.10 620.50L415.35 620.89L415.65 621.59L415.90 621.82L421.15 621.86L421.40 621.77L421.60 621.51L421.90 620.76L422.10 620.50L422.35 620.87L422.65 621.57L422.90 621.78L424.40 621.75L426.65 621.56L428.40 621.28L429.65 620.88L430.40 620.44L431.15 619.63L431.65 618.67L432.15 616.90L432.40 615.07L432.65 611.59L433.40 594.80L433.70 592.40L433.90 593.49L434.15 597.57L434.65 609.61L434.90 613.93L435.15 616.31L435.40 617.59L435.90 619.00L436.40 619.81L436.90 620.31L437.40 620.63L438.15 620.94L438.90 621.12L441.40 621.35L444.65 621.31L448.15 620.98L451.90 620.31L453.90 619.71L454.65 619.35L455.40 618.87L456.15 618.17L456.65 617.52L457.15 616.63L457.65 615.38L458.15 613.54L458.40 612.16L458.65 609.78L458.90 604.85L459.90 568.19L460.15 563.49L460.40 561.90L460.65 563.48L460.90 568.16L461.90 604.66L462.15 609.47L462.40 611.74L462.65 613.02L462.90 613.93L463.40 615.18L463.90 615.93L464.40 616.32L464.65 616.40L465.15 616.36L465.65 616.03L466.15 615.35L466.65 614.18L467.15 612.23L467.40 610.58L467.65 607.60L467.90 602.01L468.70 576.23L468.95 571.73L469.20 570.20L469.45 571.78L469.70 576.32L470.40 599.23L470.65 606.13L470.90 610.16L471.15 612.35L471.40 613.76L472.15 616.47L472.90 618.08L473.65 619.12L474.65 620.02L475.65 620.59L477.15 621.09L480.15 621.73L481.90 622.23L490.50 625.14" fill="none" stroke="#707070" stroke-width="0.9" stroke-linejoin="round"/>
<circle cx="266.90" cy="514.70" r="2.25" fill="#000"/>
<circle cx="286.50" cy="533.90" r="2.25" fill="#000"/>
<circle cx="347.40" cy="539.30" r="2.25" fill="#000"/>
<circle cx="383.60" cy="533.50" r="2.25" fill="#000"/>
<circle cx="394.60" cy="556.10" r="2.25" fill="#000"/>
<circle cx="433.90" cy="589.00" r="2.25" fill="#000"/>
<circle cx="460.60" cy="558.90" r="2.25" fill="#000"/>
<circle cx="469.20" cy="566.80" r="2.25" fill="#000"/>
<path d="M243.30 599.20L245.50 601.90L243.30 604.60L241.10 601.90Z" fill="#6f6f6f"/>
<path d="M261.10 594.10L263.30 596.80L261.10 599.50L258.90 596.80Z" fill="#6f6f6f"/>
<path d="M300.00 608.40L302.20 611.10L300.00 613.80L297.80 611.10Z" fill="#6f6f6f"/>
<path d="M304.10 608.90L306.30 611.60L304.10 614.30L301.90 611.60Z" fill="#6f6f6f"/>
<path d="M318.90 612.40L321.10 615.10L318.90 617.80L316.70 615.10Z" fill="#6f6f6f"/>
<path d="M330.10 610.50L332.30 613.20L330.10 615.90L327.90 613.20Z" fill="#6f6f6f"/>
<path d="M355.40 610.50L357.60 613.20L355.40 615.90L353.20 613.20Z" fill="#6f6f6f"/>
<path d="M360.30 610.80L362.50 613.50L360.30 616.20L358.10 613.50Z" fill="#6f6f6f"/>
<path d="M370.30 611.70L372.50 614.40L370.30 617.10L368.10 614.40Z" fill="#6f6f6f"/>
<path d="M402.90 613.90L405.10 616.60L402.90 619.30L400.70 616.60Z" fill="#6f6f6f"/>
<path d="M415.10 615.70L417.30 618.40L415.10 621.10L412.90 618.40Z" fill="#6f6f6f"/>
<path d="M422.10 615.50L424.30 618.20L422.10 620.90L419.90 618.20Z" fill="#6f6f6f"/>
<path d="M473.10 613.00L475.30 615.70L473.10 618.40L470.90 615.70Z" fill="#6f6f6f"/>
<circle cx="231.60" cy="611.80" r="2.6" fill="none" stroke="#ff3a3a" stroke-width="0.85"/>
<path d="M230.04 610.24L233.16 613.36M230.04 613.36L233.16 610.24" stroke="#ff3a3a" stroke-width="0.75"/>
<circle cx="279.50" cy="607.20" r="2.6" fill="none" stroke="#ff3a3a" stroke-width="0.85"/>
<path d="M277.94 605.64L281.06 608.76M277.94 608.76L281.06 605.64" stroke="#ff3a3a" stroke-width="0.75"/>
<circle cx="375.90" cy="611.40" r="2.6" fill="none" stroke="#ff3a3a" stroke-width="0.85"/>
<path d="M374.34 609.84L377.46 612.96M374.34 612.96L377.46 609.84" stroke="#ff3a3a" stroke-width="0.75"/>
<circle cx="448.20" cy="618.40" r="2.6" fill="none" stroke="#ff3a3a" stroke-width="0.85"/>
<path d="M446.64 616.84L449.76 619.96M446.64 619.96L449.76 616.84" stroke="#ff3a3a" stroke-width="0.75"/>
<rect x="219.0" y="450.4" width="271.9" height="175.89999999999998" fill="none" stroke="#5f5f5f" stroke-width="1.1"/>
<line x1="223.30" y1="626.8" x2="223.30" y2="629.0" stroke="#333" stroke-width="0.9"/>
<line x1="265.10" y1="626.8" x2="265.10" y2="629.0" stroke="#333" stroke-width="0.9"/>
<line x1="306.90" y1="626.8" x2="306.90" y2="629.0" stroke="#333" stroke-width="0.9"/>
<line x1="348.70" y1="626.8" x2="348.70" y2="629.0" stroke="#333" stroke-width="0.9"/>
<line x1="390.50" y1="626.8" x2="390.50" y2="629.0" stroke="#333" stroke-width="0.9"/>
<line x1="432.30" y1="626.8" x2="432.30" y2="629.0" stroke="#333" stroke-width="0.9"/>
<line x1="474.10" y1="626.8" x2="474.10" y2="629.0" stroke="#333" stroke-width="0.9"/>
<text x="220.72" y="638.30" font-size="9.2" fill="#222">2</text>
<text x="304.37" y="638.39" font-size="9.2" fill="#222">4</text>
<text x="387.92" y="638.21" font-size="9.2" fill="#222">6</text>
<text x="471.57" y="638.21" font-size="9.2" fill="#222">8</text>
<text x="338.98" y="648.28" font-size="8.4" fill="#222">Q (A<tspan font-size="6.89" dy="-3.19">-1</tspan><tspan dy="3.19">)</tspan></text>
<text transform="translate(216.06,580.93) rotate(-90)" font-size="7.91" fill="#222">Log Intensity (arb. units)</text>
<text x="188.34" y="469.41" font-size="29" font-weight="bold" fill="#000">e)</text>
<text x="324.66" y="445.20" font-size="8.4" font-weight="bold" fill="#111">Cr</text>
<text x="333.83" y="447.40" font-size="8.4" font-weight="bold" fill="#111">30</text>
<text x="343.76" y="445.20" font-size="8.4" font-weight="bold" fill="#111">Co</text>
<text x="355.33" y="447.40" font-size="8.4" font-weight="bold" fill="#111">30</text>
<text x="365.71" y="445.20" font-size="8.4" font-weight="bold" fill="#111">Ni</text>
<text x="374.53" y="447.40" font-size="8.4" font-weight="bold" fill="#111">30</text>
<text x="384.72" y="445.20" font-size="8.4" font-weight="bold" fill="#111">V</text>
<text x="390.90" y="447.40" font-size="8.4" font-weight="bold" fill="#111">10</text>
<circle cx="222.10" cy="457.60" r="1.8" fill="#000"/>
<text x="225.98" y="460.00" font-size="8.95" fill="#111">FCC</text>
<path d="M222.80 470.20L224.80 473.00L222.80 475.80L220.80 473.00Z" fill="#7e7e7e"/>
<text x="227.20" y="475.00" font-size="8.6" font-style="italic" fill="#9a9a9a">2</text>
<text x="232.28" y="470.70" font-size="7.74" font-style="italic" fill="#9a9a9a">nd</text>
<text x="243.74" y="475.00" font-size="8.6" font-style="italic" fill="#9a9a9a">Harm. FCC</text>
<circle cx="221.80" cy="484.30" r="2.1" fill="none" stroke="#ff3a3a" stroke-width="0.85"/>
<path d="M220.54 483.04L223.06 485.56M220.54 485.56L223.06 483.04" stroke="#ff3a3a" stroke-width="0.75"/>
<text x="228.89" y="487.00" font-size="9.0" font-style="italic" fill="#ff2a2a">V-rich oxide</text>
<clipPath id="cipf"><path d="M544.9 619.0L629.8 538.9Q649.3 587.0 645.6 619.0Z"/></clipPath><filter id="fipf" x="-5%" y="-5%" width="110%" height="110%"><feGaussianBlur stdDeviation="1.1"/></filter><g clip-path="url(#cipf)"><g filter="url(#fipf)" shape-rendering="crispEdges"><rect x="542" y="536" width="6" height="3" fill="#d600ff"/><rect x="548" y="536" width="6" height="3" fill="#c700ff"/><rect x="554" y="536" width="6" height="3" fill="#b800ff"/><rect x="560" y="536" width="6" height="3" fill="#a900ff"/><rect x="566" y="536" width="6" height="3" fill="#9a00ff"/><rect x="572" y="536" width="6" height="3" fill="#8b00ff"/><rect x="578" y="536" width="6" height="3" fill="#7c00ff"/><rect x="584" y="536" width="6" height="3" fill="#6e00ff"/><rect x="590" y="536" width="6" height="3" fill="#5f00ff"/><rect x="596" y="536" width="6" height="3" fill="#5000ff"/><rect x="602" y="536" width="6" height="3" fill="#4100ff"/><rect x="608" y="536" width="6" height="3" fill="#3200ff"/><rect x="614" y="536" width="6" height="3" fill="#2300ff"/><rect x="620" y="536" width="6" height="3" fill="#1400ff"/><rect x="626" y="536" width="9" height="3" fill="#0500ff"/><rect x="635" y="536" width="6" height="3" fill="#000dff"/><rect x="641" y="536" width="6" height="3" fill="#001cff"/><rect x="647" y="536" width="6" height="3" fill="#002bff"/><rect x="653" y="536" width="3" height="3" fill="#003aff"/><rect x="542" y="539" width="6" height="3" fill="#e000ff"/><rect x="548" y="539" width="6" height="3" fill="#d000ff"/><rect x="554" y="539" width="6" height="3" fill="#c100ff"/><rect x="560" y="539" width="6" height="3" fill="#b100ff"/><rect x="566" y="539" width="6" height="3" fill="#a200ff"/><rect x="572" y="539" width="6" height="3" fill="#9200ff"/><rect x="578" y="539" width="6" height="3" fill="#8300ff"/><rect x="584" y="539" width="6" height="3" fill="#7300ff"/><rect x="590" y="539" width="6" height="3" fill="#6400ff"/><rect x="596" y="539" width="6" height="3" fill="#5400ff"/><rect x="602" y="539" width="6" height="3" fill="#4500ff"/><rect x="608" y="539" width="6" height="3" fill="#3500ff"/><rect x="614" y="539" width="6" height="3" fill="#2600ff"/><rect x="620" y="539" width="6" height="3" fill="#1600ff"/><rect x="626" y="539" width="6" height="3" fill="#0700ff"/><rect x="632" y="539" width="6" height="3" fill="#000eff"/><rect x="638" y="539" width="6" height="3" fill="#001dff"/><rect x="644" y="539" width="6" height="3" fill="#002dff"/><rect x="650" y="539" width="6" height="3" fill="#003cff"/><rect x="542" y="542" width="6" height="3" fill="#ea00ff"/><rect x="548" y="542" width="6" height="3" fill="#da00ff"/><rect x="554" y="542" width="6" height="3" fill="#ca00ff"/><rect x="560" y="542" width="6" height="3" fill="#ba00ff"/><rect x="566" y="542" width="6" height="3" fill="#aa00ff"/><rect x="572" y="542" width="6" height="3" fill="#9a00ff"/><rect x="578" y="542" width="6" height="3" fill="#8a00ff"/><rect x="584" y="542" width="6" height="3" fill="#7900ff"/><rect x="590" y="542" width="6" height="3" fill="#6900ff"/><rect x="596" y="542" width="6" height="3" fill="#5900ff"/><rect x="602" y="542" width="6" height="3" fill="#4900ff"/><rect x="608" y="542" width="6" height="3" fill="#3900ff"/><rect x="614" y="542" width="6" height="3" fill="#2900ff"/><rect x="620" y="542" width="6" height="3" fill="#1900ff"/><rect x="626" y="542" width="6" height="3" fill="#0907ff"/><rect x="632" y="542" width="6" height="3" fill="#0017ff"/><rect x="638" y="542" width="6" height="3" fill="#0027ff"/><rect x="644" y="542" width="6" height="3" fill="#0037ff"/><rect x="650" y="542" width="6" height="3" fill="#0047ff"/><rect x="542" y="545" width="6" height="3" fill="#f600ff"/><rect x="548" y="545" width="6" height="3" fill="#e500ff"/><rect x="554" y="545" width="6" height="3" fill="#d400ff"/><rect x="560" y="545" width="6" height="3" fill="#c300ff"/><rect x="566" y="545" width="6" height="3" fill="#b200ff"/><rect x="572" y="545" width="6" height="3" fill="#a200ff"/><rect x="578" y="545" width="6" height="3" fill="#9100ff"/><rect x="584" y="545" width="6" height="3" fill="#8000ff"/><rect x="590" y="545" width="6" height="3" fill="#6f00ff"/><rect x="596" y="545" width="6" height="3" fill="#5f00ff"/><rect x="602" y="545" width="6" height="3" fill="#4e00ff"/><rect x="608" y="545" width="6" height="3" fill="#3d00ff"/><rect x="614" y="545" width="6" height="3" fill="#2c00ff"/><rect x="620" y="545" width="6" height="3" fill="#1b00ff"/><rect x="626" y="545" width="6" height="3" fill="#0b10ff"/><rect x="632" y="545" width="6" height="3" fill="#0021ff"/><rect x="638" y="545" width="6" height="3" fill="#0032ff"/><rect x="644" y="545" width="6" height="3" fill="#0042ff"/><rect x="650" y="545" width="6" height="3" fill="#0053ff"/><rect x="542" y="548" width="6" height="3" fill="#ff00fc"/><rect x="548" y="548" width="6" height="3" fill="#f000ff"/><rect x="554" y="548" width="6" height="3" fill="#df00ff"/><rect x="560" y="548" width="6" height="3" fill="#cd00ff"/><rect x="566" y="548" width="6" height="3" fill="#bc00ff"/><rect x="572" y="548" width="6" height="3" fill="#aa00ff"/><rect x="578" y="548" width="6" height="3" fill="#9900ff"/><rect x="584" y="548" width="6" height="3" fill="#8700ff"/><rect x="590" y="548" width="6" height="3" fill="#7600ff"/><rect x="596" y="548" width="6" height="3" fill="#6400ff"/><rect x="602" y="548" width="6" height="3" fill="#5300ff"/><rect x="608" y="548" width="6" height="3" fill="#4100ff"/><rect x="614" y="548" width="6" height="3" fill="#3000ff"/><rect x="620" y="548" width="6" height="3" fill="#1e09ff"/><rect x="626" y="548" width="6" height="3" fill="#0d1aff"/><rect x="632" y="548" width="6" height="3" fill="#002cff"/><rect x="638" y="548" width="6" height="3" fill="#003dff"/><rect x="644" y="548" width="6" height="3" fill="#004fff"/><rect x="650" y="548" width="6" height="3" fill="#0060ff"/><rect x="542" y="551" width="6" height="3" fill="#ff00f0"/><rect x="548" y="551" width="6" height="3" fill="#fd00ff"/><rect x="554" y="551" width="6" height="3" fill="#eb00ff"/><rect x="560" y="551" width="3" height="3" fill="#d900ff"/><rect x="563" y="551" width="6" height="3" fill="#cf00ff"/><rect x="569" y="551" width="6" height="3" fill="#bd00ff"/><rect x="575" y="551" width="6" height="3" fill="#ab00ff"/><rect x="581" y="551" width="6" height="3" fill="#9800ff"/><rect x="587" y="551" width="6" height="3" fill="#8600ff"/><rect x="593" y="551" width="6" height="3" fill="#7400ff"/><rect x="599" y="551" width="3" height="3" fill="#6200ff"/><rect x="602" y="551" width="6" height="3" fill="#5800ff"/><rect x="608" y="551" width="6" height="3" fill="#4600ff"/><rect x="614" y="551" width="3" height="3" fill="#3400ff"/><rect x="617" y="551" width="3" height="3" fill="#2b0aff"/><rect x="620" y="551" width="6" height="3" fill="#2113ff"/><rect x="626" y="551" width="6" height="3" fill="#0f25ff"/><rect x="632" y="551" width="6" height="3" fill="#0037ff"/><rect x="638" y="551" width="6" height="3" fill="#004aff"/><rect x="644" y="551" width="6" height="3" fill="#005cff"/><rect x="650" y="551" width="6" height="3" fill="#006eff"/><rect x="542" y="554" width="6" height="3" fill="#ff00e3"/><rect x="548" y="554" width="6" height="3" fill="#ff00f4"/><rect x="554" y="554" width="3" height="3" fill="#f800ff"/><rect x="557" y="554" width="6" height="3" fill="#ee00ff"/><rect x="563" y="554" width="3" height="3" fill="#db00ff"/><rect x="566" y="554" width="6" height="3" fill="#d100ff"/><rect x="572" y="554" width="6" height="3" fill="#be00ff"/><rect x="578" y="554" width="6" height="3" fill="#ab00ff"/><rect x="584" y="554" width="3" height="3" fill="#9800ff"/><rect x="587" y="554" width="6" height="3" fill="#8e00ff"/><rect x="593" y="554" width="6" height="3" fill="#7b00ff"/><rect x="599" y="554" width="3" height="3" fill="#6800ff"/><rect x="602" y="554" width="6" height="3" fill="#5e00ff"/><rect x="608" y="554" width="6" height="3" fill="#4b00ff"/><rect x="614" y="554" width="6" height="3" fill="#380bff"/><rect x="620" y="554" width="3" height="3" fill="#251eff"/><rect x="623" y="554" width="3" height="3" fill="#1b27ff"/><rect x="626" y="554" width="3" height="3" fill="#1231ff"/><rect x="629" y="554" width="3" height="3" fill="#083aff"/><rect x="632" y="554" width="3" height="3" fill="#0044ff"/><rect x="635" y="554" width="6" height="3" fill="#004eff"/><rect x="641" y="554" width="6" height="3" fill="#0061ff"/><rect x="647" y="554" width="3" height="3" fill="#0074ff"/><rect x="650" y="554" width="6" height="3" fill="#007eff"/><rect x="542" y="557" width="6" height="3" fill="#ff00d7"/><rect x="548" y="557" width="6" height="3" fill="#ff00e6"/><rect x="554" y="557" width="6" height="3" fill="#ff00f8"/><rect x="560" y="557" width="3" height="3" fill="#f200ff"/><rect x="563" y="557" width="3" height="3" fill="#e800ff"/><rect x="566" y="557" width="3" height="3" fill="#de00ff"/><rect x="569" y="557" width="3" height="3" fill="#d400ff"/><rect x="572" y="557" width="3" height="3" fill="#ca00ff"/><rect x="575" y="557" width="3" height="3" fill="#c000ff"/><rect x="578" y="557" width="3" height="3" fill="#b600ff"/><rect x="581" y="557" width="3" height="3" fill="#ac00ff"/><rect x="584" y="557" width="3" height="3" fill="#a100ff"/><rect x="587" y="557" width="3" height="3" fill="#9700ff"/><rect x="590" y="557" width="3" height="3" fill="#8d00ff"/><rect x="593" y="557" width="3" height="3" fill="#8300ff"/><rect x="596" y="557" width="3" height="3" fill="#7900ff"/><rect x="599" y="557" width="3" height="3" fill="#6f00ff"/><rect x="602" y="557" width="3" height="3" fill="#6500ff"/><rect x="605" y="557" width="3" height="3" fill="#5b00ff"/><rect x="608" y="557" width="3" height="3" fill="#5102ff"/><rect x="611" y="557" width="3" height="3" fill="#470cff"/><rect x="614" y="557" width="3" height="3" fill="#3d16ff"/><rect x="617" y="557" width="3" height="3" fill="#3320ff"/><rect x="620" y="557" width="3" height="3" fill="#292aff"/><rect x="623" y="557" width="3" height="3" fill="#1f34ff"/><rect x="626" y="557" width="3" height="3" fill="#153eff"/><rect x="629" y="557" width="3" height="3" fill="#0b48ff"/><rect x="632" y="557" width="3" height="3" fill="#0152ff"/><rect x="635" y="557" width="3" height="3" fill="#005cff"/><rect x="638" y="557" width="3" height="3" fill="#0066ff"/><rect x="641" y="557" width="3" height="3" fill="#0070ff"/><rect x="644" y="557" width="3" height="3" fill="#007aff"/><rect x="647" y="557" width="3" height="3" fill="#0084ff"/><rect x="650" y="557" width="3" height="3" fill="#008eff"/><rect x="653" y="557" width="3" height="3" fill="#0098ff"/><rect x="542" y="560" width="6" height="3" fill="#ff00cb"/><rect x="548" y="560" width="6" height="3" fill="#ff00d9"/><rect x="554" y="560" width="6" height="3" fill="#ff00ea"/><rect x="560" y="560" width="6" height="3" fill="#ff00fd"/><rect x="566" y="560" width="3" height="3" fill="#eb00ff"/><rect x="569" y="560" width="3" height="3" fill="#e100ff"/><rect x="572" y="560" width="3" height="3" fill="#d600ff"/><rect x="575" y="560" width="3" height="3" fill="#cc00ff"/><rect x="578" y="560" width="3" height="3" fill="#c100ff"/><rect x="581" y="560" width="3" height="3" fill="#b700ff"/><rect x="584" y="560" width="3" height="3" fill="#ac00ff"/><rect x="587" y="560" width="3" height="3" fill="#a100ff"/><rect x="590" y="560" width="3" height="3" fill="#9700ff"/><rect x="593" y="560" width="3" height="3" fill="#8c00ff"/><rect x="596" y="560" width="3" height="3" fill="#8200ff"/><rect x="599" y="560" width="3" height="3" fill="#7700ff"/><rect x="602" y="560" width="3" height="3" fill="#6d00ff"/><rect x="605" y="560" width="3" height="3" fill="#6202ff"/><rect x="608" y="560" width="3" height="3" fill="#570dff"/><rect x="611" y="560" width="3" height="3" fill="#4d17ff"/><rect x="614" y="560" width="3" height="3" fill="#4222ff"/><rect x="617" y="560" width="3" height="3" fill="#382dff"/><rect x="620" y="560" width="3" height="3" fill="#2d37ff"/><rect x="623" y="560" width="3" height="3" fill="#2242ff"/><rect x="626" y="560" width="3" height="3" fill="#184cff"/><rect x="629" y="560" width="3" height="3" fill="#0d57ff"/><rect x="632" y="560" width="3" height="3" fill="#0362ff"/><rect x="635" y="560" width="3" height="3" fill="#006cff"/><rect x="638" y="560" width="3" height="3" fill="#0077ff"/><rect x="641" y="560" width="3" height="3" fill="#0081ff"/><rect x="644" y="560" width="3" height="3" fill="#008cff"/><rect x="647" y="560" width="3" height="3" fill="#0096ff"/><rect x="650" y="560" width="3" height="3" fill="#00a1ff"/><rect x="653" y="560" width="3" height="3" fill="#00acff"/><rect x="542" y="563" width="6" height="3" fill="#ff00bf"/><rect x="548" y="563" width="6" height="3" fill="#ff00cd"/><rect x="554" y="563" width="6" height="3" fill="#ff00dc"/><rect x="560" y="563" width="3" height="3" fill="#ff00ee"/><rect x="563" y="563" width="6" height="3" fill="#ff00f8"/><rect x="569" y="563" width="3" height="3" fill="#ef00ff"/><rect x="572" y="563" width="3" height="3" fill="#e400ff"/><rect x="575" y="563" width="3" height="3" fill="#d900ff"/><rect x="578" y="563" width="3" height="3" fill="#ce00ff"/><rect x="581" y="563" width="3" height="3" fill="#c300ff"/><rect x="584" y="563" width="3" height="3" fill="#b800ff"/><rect x="587" y="563" width="3" height="3" fill="#ad00ff"/><rect x="590" y="563" width="3" height="3" fill="#a100ff"/><rect x="593" y="563" width="3" height="3" fill="#9600ff"/><rect x="596" y="563" width="3" height="3" fill="#8b00ff"/><rect x="599" y="563" width="3" height="3" fill="#8000ff"/><rect x="602" y="563" width="3" height="3" fill="#7503ff"/><rect x="605" y="563" width="3" height="3" fill="#6a0eff"/><rect x="608" y="563" width="3" height="3" fill="#5e19ff"/><rect x="611" y="563" width="3" height="3" fill="#5325ff"/><rect x="614" y="563" width="3" height="3" fill="#4830ff"/><rect x="617" y="563" width="3" height="3" fill="#3d3bff"/><rect x="620" y="563" width="3" height="3" fill="#3246ff"/><rect x="623" y="563" width="3" height="3" fill="#2751ff"/><rect x="626" y="563" width="3" height="3" fill="#1b5cff"/><rect x="629" y="563" width="3" height="3" fill="#1068ff"/><rect x="632" y="563" width="3" height="3" fill="#0573ff"/><rect x="635" y="563" width="3" height="3" fill="#007eff"/><rect x="638" y="563" width="3" height="3" fill="#0089ff"/><rect x="641" y="563" width="3" height="3" fill="#0094ff"/><rect x="644" y="563" width="3" height="3" fill="#009fff"/><rect x="647" y="563" width="3" height="3" fill="#00abff"/><rect x="650" y="563" width="3" height="3" fill="#00b6ff"/><rect x="653" y="563" width="3" height="3" fill="#00c1ff"/><rect x="542" y="566" width="6" height="3" fill="#ff00b4"/><rect x="548" y="566" width="6" height="3" fill="#ff00c0"/><rect x="554" y="566" width="6" height="3" fill="#ff00cf"/><rect x="560" y="566" width="3" height="3" fill="#ff00df"/><rect x="563" y="566" width="3" height="3" fill="#ff00e9"/><rect x="566" y="566" width="3" height="3" fill="#ff00f3"/><rect x="569" y="566" width="3" height="3" fill="#ff00fe"/><rect x="572" y="566" width="3" height="3" fill="#f400ff"/><rect x="575" y="566" width="3" height="3" fill="#e800ff"/><rect x="578" y="566" width="3" height="3" fill="#dc00ff"/><rect x="581" y="566" width="3" height="3" fill="#d100ff"/><rect x="584" y="566" width="3" height="3" fill="#c500ff"/><rect x="587" y="566" width="3" height="3" fill="#b900ff"/><rect x="590" y="566" width="3" height="3" fill="#ad00ff"/><rect x="593" y="566" width="3" height="3" fill="#a100ff"/><rect x="596" y="566" width="3" height="3" fill="#9500ff"/><rect x="599" y="566" width="3" height="3" fill="#8a04ff"/><rect x="602" y="566" width="3" height="3" fill="#7e10ff"/><rect x="605" y="566" width="3" height="3" fill="#721cff"/><rect x="608" y="566" width="3" height="3" fill="#6627ff"/><rect x="611" y="566" width="3" height="3" fill="#5a33ff"/><rect x="614" y="566" width="3" height="3" fill="#4f3fff"/><rect x="617" y="566" width="3" height="3" fill="#434bff"/><rect x="620" y="566" width="3" height="3" fill="#3757ff"/><rect x="623" y="566" width="3" height="3" fill="#2b63ff"/><rect x="626" y="566" width="3" height="3" fill="#1f6eff"/><rect x="629" y="566" width="3" height="3" fill="#137aff"/><rect x="632" y="566" width="3" height="3" fill="#0886ff"/><rect x="635" y="566" width="3" height="3" fill="#0092ff"/><rect x="638" y="566" width="3" height="3" fill="#009eff"/><rect x="641" y="566" width="3" height="3" fill="#00a9ff"/><rect x="644" y="566" width="3" height="3" fill="#00b5ff"/><rect x="647" y="566" width="3" height="3" fill="#00c1ff"/><rect x="650" y="566" width="3" height="3" fill="#00cdff"/><rect x="653" y="566" width="3" height="3" fill="#00d9ff"/><rect x="542" y="569" width="6" height="3" fill="#ff00a8"/><rect x="548" y="569" width="6" height="3" fill="#ff00b4"/><rect x="554" y="569" width="6" height="3" fill="#ff00c1"/><rect x="560" y="569" width="6" height="3" fill="#ff00d1"/><rect x="566" y="569" width="3" height="3" fill="#ff00e3"/><rect x="569" y="569" width="3" height="3" fill="#ff00ed"/><rect x="572" y="569" width="6" height="3" fill="#ff00f9"/><rect x="578" y="569" width="3" height="3" fill="#ec00ff"/><rect x="581" y="569" width="3" height="3" fill="#e000ff"/><rect x="584" y="569" width="3" height="3" fill="#d300ff"/><rect x="587" y="569" width="3" height="3" fill="#c700ff"/><rect x="590" y="569" width="3" height="3" fill="#ba00ff"/><rect x="593" y="569" width="3" height="3" fill="#ae00ff"/><rect x="596" y="569" width="3" height="3" fill="#a105ff"/><rect x="599" y="569" width="3" height="3" fill="#9512ff"/><rect x="602" y="569" width="3" height="3" fill="#881eff"/><rect x="605" y="569" width="3" height="3" fill="#7c2bff"/><rect x="608" y="569" width="3" height="3" fill="#6f37ff"/><rect x="611" y="569" width="3" height="3" fill="#6244ff"/><rect x="614" y="569" width="3" height="3" fill="#5650ff"/><rect x="617" y="569" width="3" height="3" fill="#495dff"/><rect x="620" y="569" width="3" height="3" fill="#3d69ff"/><rect x="623" y="569" width="3" height="3" fill="#3076ff"/><rect x="626" y="569" width="3" height="3" fill="#2482ff"/><rect x="629" y="569" width="3" height="3" fill="#178fff"/><rect x="632" y="569" width="3" height="3" fill="#0b9cff"/><rect x="635" y="569" width="3" height="3" fill="#00a8ff"/><rect x="638" y="569" width="3" height="3" fill="#00b5ff"/><rect x="641" y="569" width="3" height="3" fill="#00c1ff"/><rect x="644" y="569" width="3" height="3" fill="#00ceff"/><rect x="647" y="569" width="3" height="3" fill="#00daff"/><rect x="650" y="569" width="3" height="3" fill="#00e7ff"/><rect x="653" y="569" width="3" height="3" fill="#00f3ff"/><rect x="542" y="572" width="6" height="3" fill="#ff009d"/><rect x="548" y="572" width="6" height="3" fill="#ff00a7"/><rect x="554" y="572" width="6" height="3" fill="#ff00b4"/><rect x="560" y="572" width="6" height="3" fill="#ff00c2"/><rect x="566" y="572" width="3" height="3" fill="#ff00d3"/><rect x="569" y="572" width="3" height="3" fill="#ff00dd"/><rect x="572" y="572" width="3" height="3" fill="#ff00e7"/><rect x="575" y="572" width="3" height="3" fill="#ff00f3"/><rect x="578" y="572" width="3" height="3" fill="#ff00ff"/><rect x="581" y="572" width="3" height="3" fill="#f100ff"/><rect x="584" y="572" width="3" height="3" fill="#e400ff"/><rect x="587" y="572" width="3" height="3" fill="#d700ff"/><rect x="590" y="572" width="3" height="3" fill="#c900ff"/><rect x="593" y="572" width="3" height="3" fill="#bc06ff"/><rect x="596" y="572" width="3" height="3" fill="#ae13ff"/><rect x="599" y="572" width="3" height="3" fill="#a121ff"/><rect x="602" y="572" width="3" height="3" fill="#942eff"/><rect x="605" y="572" width="3" height="3" fill="#863cff"/><rect x="608" y="572" width="3" height="3" fill="#7949ff"/><rect x="611" y="572" width="3" height="3" fill="#6c56ff"/><rect x="614" y="572" width="3" height="3" fill="#5e64ff"/><rect x="617" y="572" width="3" height="3" fill="#5171ff"/><rect x="620" y="572" width="3" height="3" fill="#437eff"/><rect x="623" y="572" width="3" height="3" fill="#368cff"/><rect x="626" y="572" width="3" height="3" fill="#2999ff"/><rect x="629" y="572" width="3" height="3" fill="#1ba7ff"/><rect x="632" y="572" width="3" height="3" fill="#0eb4ff"/><rect x="635" y="572" width="3" height="3" fill="#01c1ff"/><rect x="638" y="572" width="3" height="3" fill="#00cfff"/><rect x="641" y="572" width="3" height="3" fill="#00dcff"/><rect x="644" y="572" width="3" height="3" fill="#00e9ff"/><rect x="647" y="572" width="6" height="3" fill="#00f7ff"/><rect x="653" y="572" width="3" height="3" fill="#00ffee"/><rect x="542" y="575" width="6" height="3" fill="#ff0091"/><rect x="548" y="575" width="6" height="3" fill="#ff009b"/><rect x="554" y="575" width="6" height="3" fill="#ff00a7"/><rect x="560" y="575" width="6" height="3" fill="#ff00b4"/><rect x="566" y="575" width="6" height="3" fill="#ff00c3"/><rect x="572" y="575" width="3" height="3" fill="#ff00d6"/><rect x="575" y="575" width="3" height="3" fill="#ff00e0"/><rect x="578" y="575" width="3" height="3" fill="#ff00ec"/><rect x="581" y="575" width="6" height="3" fill="#ff00f9"/><rect x="587" y="575" width="3" height="3" fill="#e900ff"/><rect x="590" y="575" width="3" height="3" fill="#da07ff"/><rect x="593" y="575" width="3" height="3" fill="#cc16ff"/><rect x="596" y="575" width="3" height="3" fill="#be24ff"/><rect x="599" y="575" width="3" height="3" fill="#af32ff"/><rect x="602" y="575" width="3" height="3" fill="#a141ff"/><rect x="605" y="575" width="3" height="3" fill="#934fff"/><rect x="608" y="575" width="3" height="3" fill="#845dff"/><rect x="611" y="575" width="3" height="3" fill="#766cff"/><rect x="614" y="575" width="3" height="3" fill="#687aff"/><rect x="617" y="575" width="3" height="3" fill="#5988ff"/><rect x="620" y="575" width="3" height="3" fill="#4b97ff"/><rect x="623" y="575" width="3" height="3" fill="#3da5ff"/><rect x="626" y="575" width="3" height="3" fill="#2eb3ff"/><rect x="629" y="575" width="3" height="3" fill="#20c2ff"/><rect x="632" y="575" width="3" height="3" fill="#12d0ff"/><rect x="635" y="575" width="3" height="3" fill="#03deff"/><rect x="638" y="575" width="3" height="3" fill="#00ecff"/><rect x="641" y="575" width="3" height="3" fill="#00fbff"/><rect x="644" y="575" width="3" height="3" fill="#00fff5"/><rect x="647" y="575" width="3" height="3" fill="#00ffe9"/><rect x="650" y="575" width="3" height="3" fill="#00ffdd"/><rect x="653" y="575" width="3" height="3" fill="#00ffd3"/><rect x="542" y="578" width="9" height="3" fill="#ff0086"/><rect x="551" y="578" width="6" height="3" fill="#ff0094"/><rect x="557" y="578" width="6" height="3" fill="#ff00a0"/><rect x="563" y="578" width="6" height="3" fill="#ff00ad"/><rect x="569" y="578" width="6" height="3" fill="#ff00bc"/><rect x="575" y="578" width="3" height="3" fill="#ff00cf"/><rect x="578" y="578" width="3" height="3" fill="#ff00d9"/><rect x="581" y="578" width="3" height="3" fill="#ff00e5"/><rect x="584" y="578" width="3" height="3" fill="#ff00f2"/><rect x="587" y="578" width="3" height="3" fill="#fd09ff"/><rect x="590" y="578" width="3" height="3" fill="#ee18ff"/><rect x="593" y="578" width="3" height="3" fill="#de28ff"/><rect x="596" y="578" width="3" height="3" fill="#cf37ff"/><rect x="599" y="578" width="3" height="3" fill="#c047ff"/><rect x="602" y="578" width="3" height="3" fill="#b056ff"/><rect x="605" y="578" width="3" height="3" fill="#a165ff"/><rect x="608" y="578" width="3" height="3" fill="#9175ff"/><rect x="611" y="578" width="3" height="3" fill="#8284ff"/><rect x="614" y="578" width="3" height="3" fill="#7394ff"/><rect x="617" y="578" width="3" height="3" fill="#63a3ff"/><rect x="620" y="578" width="3" height="3" fill="#54b2ff"/><rect x="623" y="578" width="3" height="3" fill="#44c2ff"/><rect x="626" y="578" width="3" height="3" fill="#35d1ff"/><rect x="629" y="578" width="3" height="3" fill="#26e1ff"/><rect x="632" y="578" width="3" height="3" fill="#16f0ff"/><rect x="635" y="578" width="3" height="3" fill="#07ffff"/><rect x="638" y="578" width="3" height="3" fill="#00fff0"/><rect x="641" y="578" width="3" height="3" fill="#00ffe3"/><rect x="644" y="578" width="3" height="3" fill="#00ffd8"/><rect x="647" y="578" width="6" height="3" fill="#00ffcd"/><rect x="653" y="578" width="3" height="3" fill="#00ffbb"/><rect x="542" y="581" width="9" height="3" fill="#ff007b"/><rect x="551" y="581" width="6" height="3" fill="#ff0088"/><rect x="557" y="581" width="6" height="3" fill="#ff0092"/><rect x="563" y="581" width="6" height="3" fill="#ff009e"/><rect x="569" y="581" width="6" height="3" fill="#ff00ac"/><rect x="575" y="581" width="3" height="3" fill="#ff00bd"/><rect x="578" y="581" width="3" height="3" fill="#ff00c7"/><rect x="581" y="581" width="3" height="3" fill="#ff00d1"/><rect x="584" y="581" width="3" height="3" fill="#ff09dd"/><rect x="587" y="581" width="3" height="3" fill="#ff19ea"/><rect x="590" y="581" width="3" height="3" fill="#ff2bf9"/><rect x="593" y="581" width="3" height="3" fill="#f43dff"/><rect x="596" y="581" width="3" height="3" fill="#e34dff"/><rect x="599" y="581" width="3" height="3" fill="#d35eff"/><rect x="602" y="581" width="3" height="3" fill="#c26fff"/><rect x="605" y="581" width="3" height="3" fill="#b17fff"/><rect x="608" y="581" width="3" height="3" fill="#a190ff"/><rect x="611" y="581" width="3" height="3" fill="#90a1ff"/><rect x="614" y="581" width="3" height="3" fill="#7fb1ff"/><rect x="617" y="581" width="3" height="3" fill="#6fc2ff"/><rect x="620" y="581" width="3" height="3" fill="#5ed3ff"/><rect x="623" y="581" width="3" height="3" fill="#4de3ff"/><rect x="626" y="581" width="3" height="3" fill="#3df4ff"/><rect x="629" y="581" width="3" height="3" fill="#2bfff9"/><rect x="632" y="581" width="3" height="3" fill="#19ffea"/><rect x="635" y="581" width="3" height="3" fill="#09ffdd"/><rect x="638" y="581" width="3" height="3" fill="#00ffd1"/><rect x="641" y="581" width="3" height="3" fill="#00ffc7"/><rect x="644" y="581" width="6" height="3" fill="#00ffbd"/><rect x="650" y="581" width="6" height="3" fill="#00ffac"/><rect x="542" y="584" width="9" height="3" fill="#ff0070"/><rect x="551" y="584" width="9" height="3" fill="#ff007c"/><rect x="560" y="584" width="6" height="3" fill="#ff008b"/><rect x="566" y="584" width="6" height="3" fill="#ff0096"/><rect x="572" y="584" width="6" height="3" fill="#ff00a4"/><rect x="578" y="584" width="6" height="3" fill="#ff00b5"/><rect x="584" y="584" width="3" height="3" fill="#ff18c9"/><rect x="587" y="584" width="3" height="3" fill="#ff29d5"/><rect x="590" y="584" width="3" height="3" fill="#ff3ce2"/><rect x="593" y="584" width="3" height="3" fill="#ff51f1"/><rect x="596" y="584" width="3" height="3" fill="#fb67ff"/><rect x="599" y="584" width="3" height="3" fill="#e97aff"/><rect x="602" y="584" width="3" height="3" fill="#d78cff"/><rect x="605" y="584" width="3" height="3" fill="#c59eff"/><rect x="608" y="584" width="3" height="3" fill="#b3b0ff"/><rect x="611" y="584" width="3" height="3" fill="#a0c2ff"/><rect x="614" y="584" width="3" height="3" fill="#8ed4ff"/><rect x="617" y="584" width="3" height="3" fill="#7ce7ff"/><rect x="620" y="584" width="3" height="3" fill="#6af9ff"/><rect x="623" y="584" width="3" height="3" fill="#54fff4"/><rect x="626" y="584" width="3" height="3" fill="#3effe4"/><rect x="629" y="584" width="3" height="3" fill="#2bffd6"/><rect x="632" y="584" width="3" height="3" fill="#1affca"/><rect x="635" y="584" width="3" height="3" fill="#0bffbf"/><rect x="638" y="584" width="6" height="3" fill="#00ffb6"/><rect x="644" y="584" width="6" height="3" fill="#00ffa5"/><rect x="650" y="584" width="6" height="3" fill="#00ff97"/><rect x="542" y="587" width="9" height="3" fill="#ff0066"/><rect x="551" y="587" width="9" height="3" fill="#ff0070"/><rect x="560" y="587" width="6" height="3" fill="#ff007d"/><rect x="566" y="587" width="6" height="3" fill="#ff0088"/><rect x="572" y="587" width="6" height="3" fill="#ff0094"/><rect x="578" y="587" width="3" height="3" fill="#ff0aa3"/><rect x="581" y="587" width="3" height="3" fill="#ff18ab"/><rect x="584" y="587" width="3" height="3" fill="#ff27b5"/><rect x="587" y="587" width="3" height="3" fill="#ff38bf"/><rect x="590" y="587" width="3" height="3" fill="#ff4ccb"/><rect x="593" y="587" width="3" height="3" fill="#ff62d9"/><rect x="596" y="587" width="3" height="3" fill="#ff7be8"/><rect x="599" y="587" width="3" height="3" fill="#ff98fa"/><rect x="602" y="587" width="3" height="3" fill="#f0afff"/><rect x="605" y="587" width="3" height="3" fill="#dcc3ff"/><rect x="608" y="587" width="3" height="3" fill="#c8d7ff"/><rect x="611" y="587" width="3" height="3" fill="#b4ebff"/><rect x="614" y="587" width="3" height="3" fill="#a0ffff"/><rect x="617" y="587" width="3" height="3" fill="#82ffed"/><rect x="620" y="587" width="3" height="3" fill="#68ffdd"/><rect x="623" y="587" width="3" height="3" fill="#51ffcf"/><rect x="626" y="587" width="3" height="3" fill="#3dffc2"/><rect x="629" y="587" width="3" height="3" fill="#2bffb8"/><rect x="632" y="587" width="3" height="3" fill="#1cffae"/><rect x="635" y="587" width="3" height="3" fill="#0dffa5"/><rect x="638" y="587" width="6" height="3" fill="#00ff9d"/><rect x="644" y="587" width="6" height="3" fill="#00ff8f"/><rect x="650" y="587" width="6" height="3" fill="#00ff84"/><rect x="542" y="590" width="9" height="3" fill="#ff005b"/><rect x="551" y="590" width="9" height="3" fill="#ff0065"/><rect x="560" y="590" width="9" height="3" fill="#ff0070"/><rect x="569" y="590" width="6" height="3" fill="#ff007f"/><rect x="575" y="590" width="3" height="3" fill="#ff0a8a"/><rect x="578" y="590" width="3" height="3" fill="#ff1791"/><rect x="581" y="590" width="3" height="3" fill="#ff2599"/><rect x="584" y="590" width="3" height="3" fill="#ff35a1"/><rect x="587" y="590" width="3" height="3" fill="#ff47ab"/><rect x="590" y="590" width="3" height="3" fill="#ff5bb5"/><rect x="593" y="590" width="3" height="3" fill="#ff72c1"/><rect x="596" y="590" width="3" height="3" fill="#ff8ccf"/><rect x="599" y="590" width="3" height="3" fill="#ffaade"/><rect x="602" y="590" width="3" height="3" fill="#ffcdf0"/><rect x="605" y="590" width="3" height="3" fill="#f8efff"/><rect x="608" y="590" width="3" height="3" fill="#ddfff9"/><rect x="611" y="590" width="3" height="3" fill="#b8ffe5"/><rect x="614" y="590" width="3" height="3" fill="#98ffd5"/><rect x="617" y="590" width="3" height="3" fill="#7cffc6"/><rect x="620" y="590" width="3" height="3" fill="#64ffba"/><rect x="623" y="590" width="3" height="3" fill="#4fffaf"/><rect x="626" y="590" width="3" height="3" fill="#3cffa5"/><rect x="629" y="590" width="3" height="3" fill="#2cff9c"/><rect x="632" y="590" width="3" height="3" fill="#1dff94"/><rect x="635" y="590" width="3" height="3" fill="#0fff8d"/><rect x="638" y="590" width="6" height="3" fill="#03ff87"/><rect x="644" y="590" width="9" height="3" fill="#00ff7b"/><rect x="653" y="590" width="3" height="3" fill="#00ff6e"/><rect x="542" y="593" width="12" height="3" fill="#ff0051"/><rect x="554" y="593" width="9" height="3" fill="#ff005c"/><rect x="563" y="593" width="9" height="3" fill="#ff0067"/><rect x="572" y="593" width="3" height="3" fill="#ff0a75"/><rect x="575" y="593" width="3" height="3" fill="#ff167a"/><rect x="578" y="593" width="3" height="3" fill="#ff2480"/><rect x="581" y="593" width="3" height="3" fill="#ff3387"/><rect x="584" y="593" width="3" height="3" fill="#ff448e"/><rect x="587" y="593" width="3" height="3" fill="#ff5696"/><rect x="590" y="593" width="3" height="3" fill="#ff6b9f"/><rect x="593" y="593" width="3" height="3" fill="#ff82aa"/><rect x="596" y="593" width="3" height="3" fill="#ff9db6"/><rect x="599" y="593" width="3" height="3" fill="#ffbcc3"/><rect x="602" y="593" width="3" height="3" fill="#ffdfd3"/><rect x="605" y="593" width="3" height="3" fill="#f5ffdc"/><rect x="608" y="593" width="3" height="3" fill="#ceffcb"/><rect x="611" y="593" width="3" height="3" fill="#adffbd"/><rect x="614" y="593" width="3" height="3" fill="#90ffb0"/><rect x="617" y="593" width="3" height="3" fill="#77ffa5"/><rect x="620" y="593" width="3" height="3" fill="#61ff9b"/><rect x="623" y="593" width="3" height="3" fill="#4dff92"/><rect x="626" y="593" width="3" height="3" fill="#3cff8b"/><rect x="629" y="593" width="3" height="3" fill="#2cff84"/><rect x="632" y="593" width="3" height="3" fill="#1eff7d"/><rect x="635" y="593" width="3" height="3" fill="#11ff78"/><rect x="638" y="593" width="9" height="3" fill="#05ff72"/><rect x="647" y="593" width="9" height="3" fill="#00ff65"/><rect x="542" y="596" width="12" height="3" fill="#ff0046"/><rect x="554" y="596" width="9" height="3" fill="#ff0050"/><rect x="563" y="596" width="6" height="3" fill="#ff005a"/><rect x="569" y="596" width="3" height="3" fill="#ff0a61"/><rect x="572" y="596" width="3" height="3" fill="#ff1666"/><rect x="575" y="596" width="3" height="3" fill="#ff236a"/><rect x="578" y="596" width="3" height="3" fill="#ff316f"/><rect x="581" y="596" width="3" height="3" fill="#ff4075"/><rect x="584" y="596" width="3" height="3" fill="#ff517b"/><rect x="587" y="596" width="3" height="3" fill="#ff6482"/><rect x="590" y="596" width="3" height="3" fill="#ff7a8a"/><rect x="593" y="596" width="3" height="3" fill="#ff9293"/><rect x="596" y="596" width="3" height="3" fill="#ffad9d"/><rect x="599" y="596" width="3" height="3" fill="#ffcda9"/><rect x="602" y="596" width="3" height="3" fill="#fff1b6"/><rect x="605" y="596" width="3" height="3" fill="#e5ffb2"/><rect x="608" y="596" width="3" height="3" fill="#c2ffa5"/><rect x="611" y="596" width="3" height="3" fill="#a4ff9a"/><rect x="614" y="596" width="3" height="3" fill="#8aff90"/><rect x="617" y="596" width="3" height="3" fill="#73ff88"/><rect x="620" y="596" width="3" height="3" fill="#5eff80"/><rect x="623" y="596" width="3" height="3" fill="#4cff79"/><rect x="626" y="596" width="3" height="3" fill="#3bff73"/><rect x="629" y="596" width="3" height="3" fill="#2cff6e"/><rect x="632" y="596" width="3" height="3" fill="#1eff69"/><rect x="635" y="596" width="3" height="3" fill="#12ff64"/><rect x="638" y="596" width="9" height="3" fill="#07ff60"/><rect x="647" y="596" width="9" height="3" fill="#00ff55"/><rect x="542" y="599" width="15" height="3" fill="#ff003c"/><rect x="557" y="599" width="9" height="3" fill="#ff0047"/><rect x="566" y="599" width="3" height="3" fill="#ff0a50"/><rect x="569" y="599" width="3" height="3" fill="#ff1553"/><rect x="572" y="599" width="3" height="3" fill="#ff2157"/><rect x="575" y="599" width="3" height="3" fill="#ff2f5b"/><rect x="578" y="599" width="3" height="3" fill="#ff3d5f"/><rect x="581" y="599" width="3" height="3" fill="#ff4d64"/><rect x="584" y="599" width="3" height="3" fill="#ff5f69"/><rect x="587" y="599" width="3" height="3" fill="#ff726f"/><rect x="590" y="599" width="3" height="3" fill="#ff8876"/><rect x="593" y="599" width="3" height="3" fill="#ffa17d"/><rect x="596" y="599" width="3" height="3" fill="#ffbd85"/><rect x="599" y="599" width="3" height="3" fill="#ffdd8f"/><rect x="602" y="599" width="3" height="3" fill="#fbff98"/><rect x="605" y="599" width="3" height="3" fill="#d7ff8d"/><rect x="608" y="599" width="3" height="3" fill="#b8ff84"/><rect x="611" y="599" width="3" height="3" fill="#9cff7c"/><rect x="614" y="599" width="3" height="3" fill="#84ff74"/><rect x="617" y="599" width="3" height="3" fill="#6fff6e"/><rect x="620" y="599" width="3" height="3" fill="#5cff68"/><rect x="623" y="599" width="3" height="3" fill="#4aff63"/><rect x="626" y="599" width="3" height="3" fill="#3aff5e"/><rect x="629" y="599" width="3" height="3" fill="#2cff5a"/><rect x="632" y="599" width="3" height="3" fill="#1fff56"/><rect x="635" y="599" width="3" height="3" fill="#13ff52"/><rect x="638" y="599" width="12" height="3" fill="#08ff4f"/><rect x="650" y="599" width="6" height="3" fill="#00ff44"/><rect x="542" y="602" width="18" height="3" fill="#ff0032"/><rect x="560" y="602" width="6" height="3" fill="#ff013d"/><rect x="566" y="602" width="3" height="3" fill="#ff1542"/><rect x="569" y="602" width="3" height="3" fill="#ff2045"/><rect x="572" y="602" width="3" height="3" fill="#ff2d48"/><rect x="575" y="602" width="3" height="3" fill="#ff3b4b"/><rect x="578" y="602" width="3" height="3" fill="#ff4a4f"/><rect x="581" y="602" width="3" height="3" fill="#ff5a53"/><rect x="584" y="602" width="3" height="3" fill="#ff6c57"/><rect x="587" y="602" width="3" height="3" fill="#ff805c"/><rect x="590" y="602" width="3" height="3" fill="#ff9761"/><rect x="593" y="602" width="3" height="3" fill="#ffb067"/><rect x="596" y="602" width="3" height="3" fill="#ffcd6e"/><rect x="599" y="602" width="3" height="3" fill="#ffee76"/><rect x="602" y="602" width="3" height="3" fill="#ecff76"/><rect x="605" y="602" width="3" height="3" fill="#cbff6e"/><rect x="608" y="602" width="3" height="3" fill="#afff67"/><rect x="611" y="602" width="3" height="3" fill="#96ff61"/><rect x="614" y="602" width="3" height="3" fill="#7fff5c"/><rect x="617" y="602" width="3" height="3" fill="#6bff57"/><rect x="620" y="602" width="3" height="3" fill="#59ff53"/><rect x="623" y="602" width="3" height="3" fill="#49ff4f"/><rect x="626" y="602" width="3" height="3" fill="#3aff4b"/><rect x="629" y="602" width="3" height="3" fill="#2cff48"/><rect x="632" y="602" width="3" height="3" fill="#20ff45"/><rect x="635" y="602" width="3" height="3" fill="#14ff42"/><rect x="638" y="602" width="3" height="3" fill="#0aff40"/><rect x="641" y="602" width="15" height="3" fill="#00ff3d"/><rect x="542" y="605" width="18" height="3" fill="#ff0028"/><rect x="560" y="605" width="3" height="3" fill="#ff0a31"/><rect x="563" y="605" width="3" height="3" fill="#ff1533"/><rect x="566" y="605" width="3" height="3" fill="#ff2035"/><rect x="569" y="605" width="3" height="3" fill="#ff2b37"/><rect x="572" y="605" width="3" height="3" fill="#ff383a"/><rect x="575" y="605" width="3" height="3" fill="#ff463c"/><rect x="578" y="605" width="3" height="3" fill="#ff563f"/><rect x="581" y="605" width="3" height="3" fill="#ff6642"/><rect x="584" y="605" width="3" height="3" fill="#ff7946"/><rect x="587" y="605" width="3" height="3" fill="#ff8e49"/><rect x="590" y="605" width="3" height="3" fill="#ffa54e"/><rect x="593" y="605" width="3" height="3" fill="#ffbf52"/><rect x="596" y="605" width="3" height="3" fill="#ffdc58"/><rect x="599" y="605" width="3" height="3" fill="#fffd5e"/><rect x="602" y="605" width="3" height="3" fill="#dfff58"/><rect x="605" y="605" width="3" height="3" fill="#c1ff53"/><rect x="608" y="605" width="3" height="3" fill="#a7ff4e"/><rect x="611" y="605" width="3" height="3" fill="#90ff4a"/><rect x="614" y="605" width="3" height="3" fill="#7bff46"/><rect x="617" y="605" width="3" height="3" fill="#68ff42"/><rect x="620" y="605" width="3" height="3" fill="#57ff3f"/><rect x="623" y="605" width="3" height="3" fill="#48ff3c"/><rect x="626" y="605" width="3" height="3" fill="#39ff3a"/><rect x="629" y="605" width="3" height="3" fill="#2dff37"/><rect x="632" y="605" width="3" height="3" fill="#21ff35"/><rect x="635" y="605" width="3" height="3" fill="#16ff33"/><rect x="638" y="605" width="6" height="3" fill="#0bff31"/><rect x="644" y="605" width="12" height="3" fill="#00ff2e"/><rect x="542" y="608" width="15" height="3" fill="#ff001e"/><rect x="557" y="608" width="6" height="3" fill="#ff0b24"/><rect x="563" y="608" width="3" height="3" fill="#ff1f26"/><rect x="566" y="608" width="3" height="3" fill="#ff2a28"/><rect x="569" y="608" width="3" height="3" fill="#ff362a"/><rect x="572" y="608" width="3" height="3" fill="#ff432b"/><rect x="575" y="608" width="3" height="3" fill="#ff522d"/><rect x="578" y="608" width="3" height="3" fill="#ff612f"/><rect x="581" y="608" width="3" height="3" fill="#ff7332"/><rect x="584" y="608" width="3" height="3" fill="#ff8634"/><rect x="587" y="608" width="3" height="3" fill="#ff9b37"/><rect x="590" y="608" width="3" height="3" fill="#ffb23a"/><rect x="593" y="608" width="3" height="3" fill="#ffcd3e"/><rect x="596" y="608" width="3" height="3" fill="#ffeb42"/><rect x="599" y="608" width="3" height="3" fill="#f2ff43"/><rect x="602" y="608" width="3" height="3" fill="#d3ff3f"/><rect x="605" y="608" width="3" height="3" fill="#b8ff3b"/><rect x="608" y="608" width="3" height="3" fill="#a0ff38"/><rect x="611" y="608" width="3" height="3" fill="#8aff35"/><rect x="614" y="608" width="3" height="3" fill="#77ff32"/><rect x="617" y="608" width="3" height="3" fill="#65ff30"/><rect x="620" y="608" width="3" height="3" fill="#55ff2e"/><rect x="623" y="608" width="3" height="3" fill="#47ff2c"/><rect x="626" y="608" width="3" height="3" fill="#39ff2a"/><rect x="629" y="608" width="3" height="3" fill="#2dff28"/><rect x="632" y="608" width="3" height="3" fill="#21ff27"/><rect x="635" y="608" width="3" height="3" fill="#17ff25"/><rect x="638" y="608" width="6" height="3" fill="#0dff24"/><rect x="644" y="608" width="12" height="3" fill="#00ff22"/><rect x="542" y="611" width="12" height="3" fill="#ff0015"/><rect x="554" y="611" width="6" height="3" fill="#ff0b17"/><rect x="560" y="611" width="3" height="3" fill="#ff1e19"/><rect x="563" y="611" width="3" height="3" fill="#ff291a"/><rect x="566" y="611" width="3" height="3" fill="#ff341b"/><rect x="569" y="611" width="3" height="3" fill="#ff411c"/><rect x="572" y="611" width="3" height="3" fill="#ff4e1d"/><rect x="575" y="611" width="3" height="3" fill="#ff5d1f"/><rect x="578" y="611" width="3" height="3" fill="#ff6d20"/><rect x="581" y="611" width="3" height="3" fill="#ff7f22"/><rect x="584" y="611" width="3" height="3" fill="#ff9223"/><rect x="587" y="611" width="3" height="3" fill="#ffa825"/><rect x="590" y="611" width="3" height="3" fill="#ffc027"/><rect x="593" y="611" width="3" height="3" fill="#ffdb2a"/><rect x="596" y="611" width="3" height="3" fill="#fff92d"/><rect x="599" y="611" width="3" height="3" fill="#e5ff2b"/><rect x="602" y="611" width="3" height="3" fill="#c9ff28"/><rect x="605" y="611" width="3" height="3" fill="#b0ff26"/><rect x="608" y="611" width="3" height="3" fill="#9aff24"/><rect x="611" y="611" width="3" height="3" fill="#86ff22"/><rect x="614" y="611" width="3" height="3" fill="#73ff21"/><rect x="617" y="611" width="3" height="3" fill="#63ff1f"/><rect x="620" y="611" width="3" height="3" fill="#53ff1e"/><rect x="623" y="611" width="3" height="3" fill="#46ff1d"/><rect x="626" y="611" width="3" height="3" fill="#39ff1c"/><rect x="629" y="611" width="3" height="3" fill="#2dff1a"/><rect x="632" y="611" width="3" height="3" fill="#22ff1a"/><rect x="635" y="611" width="3" height="3" fill="#18ff19"/><rect x="638" y="611" width="6" height="3" fill="#0eff18"/><rect x="644" y="611" width="12" height="3" fill="#00ff16"/><rect x="542" y="614" width="9" height="3" fill="#ff000b"/><rect x="551" y="614" width="6" height="3" fill="#ff0b0c"/><rect x="557" y="614" width="3" height="3" fill="#ff1d0d"/><rect x="560" y="614" width="3" height="3" fill="#ff270d"/><rect x="563" y="614" width="3" height="3" fill="#ff320e"/><rect x="566" y="614" width="3" height="3" fill="#ff3e0e"/><rect x="569" y="614" width="3" height="3" fill="#ff4b0f"/><rect x="572" y="614" width="3" height="3" fill="#ff5910"/><rect x="575" y="614" width="3" height="3" fill="#ff6810"/><rect x="578" y="614" width="3" height="3" fill="#ff7811"/><rect x="581" y="614" width="3" height="3" fill="#ff8a12"/><rect x="584" y="614" width="3" height="3" fill="#ff9e13"/><rect x="587" y="614" width="3" height="3" fill="#ffb414"/><rect x="590" y="614" width="3" height="3" fill="#ffcd15"/><rect x="593" y="614" width="3" height="3" fill="#ffe816"/><rect x="596" y="614" width="3" height="3" fill="#f7ff17"/><rect x="599" y="614" width="3" height="3" fill="#daff16"/><rect x="602" y="614" width="3" height="3" fill="#c0ff14"/><rect x="605" y="614" width="3" height="3" fill="#a9ff13"/><rect x="608" y="614" width="3" height="3" fill="#94ff12"/><rect x="611" y="614" width="3" height="3" fill="#81ff12"/><rect x="614" y="614" width="3" height="3" fill="#70ff11"/><rect x="617" y="614" width="3" height="3" fill="#60ff10"/><rect x="620" y="614" width="3" height="3" fill="#52ff0f"/><rect x="623" y="614" width="3" height="3" fill="#45ff0f"/><rect x="626" y="614" width="3" height="3" fill="#38ff0e"/><rect x="629" y="614" width="3" height="3" fill="#2dff0e"/><rect x="632" y="614" width="3" height="3" fill="#22ff0d"/><rect x="635" y="614" width="6" height="3" fill="#18ff0d"/><rect x="641" y="614" width="15" height="3" fill="#07ff0c"/><rect x="542" y="617" width="6" height="3" fill="#ff0002"/><rect x="548" y="617" width="6" height="3" fill="#ff0b02"/><rect x="554" y="617" width="6" height="3" fill="#ff1d02"/><rect x="560" y="617" width="3" height="3" fill="#ff3102"/><rect x="563" y="617" width="3" height="3" fill="#ff3c02"/><rect x="566" y="617" width="3" height="3" fill="#ff4802"/><rect x="569" y="617" width="3" height="3" fill="#ff5502"/><rect x="572" y="617" width="3" height="3" fill="#ff6302"/><rect x="575" y="617" width="3" height="3" fill="#ff7302"/><rect x="578" y="617" width="3" height="3" fill="#ff8402"/><rect x="581" y="617" width="3" height="3" fill="#ff9603"/><rect x="584" y="617" width="3" height="3" fill="#ffaa03"/><rect x="587" y="617" width="3" height="3" fill="#ffc103"/><rect x="590" y="617" width="3" height="3" fill="#ffda03"/><rect x="593" y="617" width="3" height="3" fill="#fff503"/><rect x="596" y="617" width="3" height="3" fill="#ebff03"/><rect x="599" y="617" width="3" height="3" fill="#d0ff03"/><rect x="602" y="617" width="3" height="3" fill="#b8ff03"/><rect x="605" y="617" width="3" height="3" fill="#a3ff03"/><rect x="608" y="617" width="3" height="3" fill="#8fff03"/><rect x="611" y="617" width="3" height="3" fill="#7dff02"/><rect x="614" y="617" width="3" height="3" fill="#6dff02"/><rect x="617" y="617" width="3" height="3" fill="#5eff02"/><rect x="620" y="617" width="3" height="3" fill="#50ff02"/><rect x="623" y="617" width="3" height="3" fill="#44ff02"/><rect x="626" y="617" width="3" height="3" fill="#38ff02"/><rect x="629" y="617" width="3" height="3" fill="#2dff02"/><rect x="632" y="617" width="3" height="3" fill="#23ff02"/><rect x="635" y="617" width="6" height="3" fill="#19ff02"/><rect x="641" y="617" width="15" height="3" fill="#08ff02"/><rect x="542" y="620" width="6" height="3" fill="#ff0300"/><rect x="548" y="620" width="6" height="3" fill="#ff1300"/><rect x="554" y="620" width="3" height="3" fill="#ff2500"/><rect x="557" y="620" width="3" height="3" fill="#ff2f00"/><rect x="560" y="620" width="3" height="3" fill="#ff3a00"/><rect x="563" y="620" width="3" height="3" fill="#ff4600"/><rect x="566" y="620" width="3" height="3" fill="#ff5200"/><rect x="569" y="620" width="3" height="3" fill="#ff5f00"/><rect x="572" y="620" width="3" height="3" fill="#ff6e00"/><rect x="575" y="620" width="3" height="3" fill="#ff7d00"/><rect x="578" y="620" width="3" height="3" fill="#ff8f00"/><rect x="581" y="620" width="3" height="3" fill="#ffa100"/><rect x="584" y="620" width="3" height="3" fill="#ffb600"/><rect x="587" y="620" width="3" height="3" fill="#ffcd00"/><rect x="590" y="620" width="3" height="3" fill="#ffe600"/><rect x="593" y="620" width="3" height="3" fill="#fcff00"/><rect x="596" y="620" width="3" height="3" fill="#e0ff00"/><rect x="599" y="620" width="3" height="3" fill="#c8ff00"/><rect x="602" y="620" width="3" height="3" fill="#b1ff00"/><rect x="605" y="620" width="3" height="3" fill="#9dff00"/><rect x="608" y="620" width="3" height="3" fill="#8bff00"/><rect x="611" y="620" width="3" height="3" fill="#7aff00"/><rect x="614" y="620" width="3" height="3" fill="#6bff00"/><rect x="617" y="620" width="3" height="3" fill="#5cff00"/><rect x="620" y="620" width="3" height="3" fill="#4fff00"/><rect x="623" y="620" width="3" height="3" fill="#43ff00"/><rect x="626" y="620" width="3" height="3" fill="#38ff00"/><rect x="629" y="620" width="3" height="3" fill="#2dff00"/><rect x="632" y="620" width="6" height="3" fill="#23ff00"/><rect x="638" y="620" width="6" height="3" fill="#11ff00"/><rect x="644" y="620" width="12" height="3" fill="#01ff00"/></g></g><path d="M544.9 619.0L629.8 538.9Q649.3 587.0 645.6 619.0Z" fill="none" stroke="#222" stroke-width="0.6"/>
<text transform="translate(614.94,534.80) scale(1.193,1)" font-family="'Liberation Serif', serif" font-size="19.5" font-weight="bold" fill="#111">111</text>
<text transform="translate(510.17,625.31) scale(1.066,1)" font-family="'Liberation Serif', serif" font-size="19.5" font-weight="bold" fill="#111">001</text>
<text transform="translate(648.69,626.51) scale(1.033,1)" font-family="'Liberation Serif', serif" font-size="19.5" font-weight="bold" fill="#111">101</text>
<rect x="277.2" y="82.0" width="20.60" height="12.60" fill="#000"/>
<rect x="282.6" y="83.2" width="10.30" height="1.80" fill="#fff"/>
<text x="277.80" y="92.1" font-size="6.8" font-weight="bold" fill="#fff">50 µm</text>
<rect x="660.0" y="82.2" width="21.30" height="12.40" fill="#000"/>
<rect x="664.0" y="83.0" width="12.90" height="2.90" fill="#fff"/>
<text x="660.69" y="92.7" font-size="7.0" font-weight="bold" fill="#fff">50 µm</text>
<rect x="280.3" y="302.1" width="18.60" height="11.60" fill="#000"/>
<rect x="286.9" y="303.2" width="6.60" height="2.20" fill="#fff"/>
<clipPath id="csb"><rect x="280.3" y="302.1" width="18.60" height="11.60"/></clipPath>
<text x="280.80" y="311.8" font-size="6.8" font-weight="bold" fill="#fff" clip-path="url(#csb)">50 µm</text>
<rect x="660.3" y="303.5" width="20.80" height="12.50" fill="#000"/>
<rect x="664.9" y="304.6" width="12.00" height="2.20" fill="#fff"/>
<text x="661.39" y="313.8" font-size="7.0" font-weight="bold" fill="#fff">50 µm</text>
<rect x="459.3" y="516.6" width="26.80" height="13.20" fill="#000"/>
<rect x="459.9" y="517.9" width="25.10" height="2.20" fill="#fff"/>
<text x="462.59" y="527.1" font-size="7.0" font-weight="bold" fill="#fff">50 µm</text>
</svg>
</body></html>
